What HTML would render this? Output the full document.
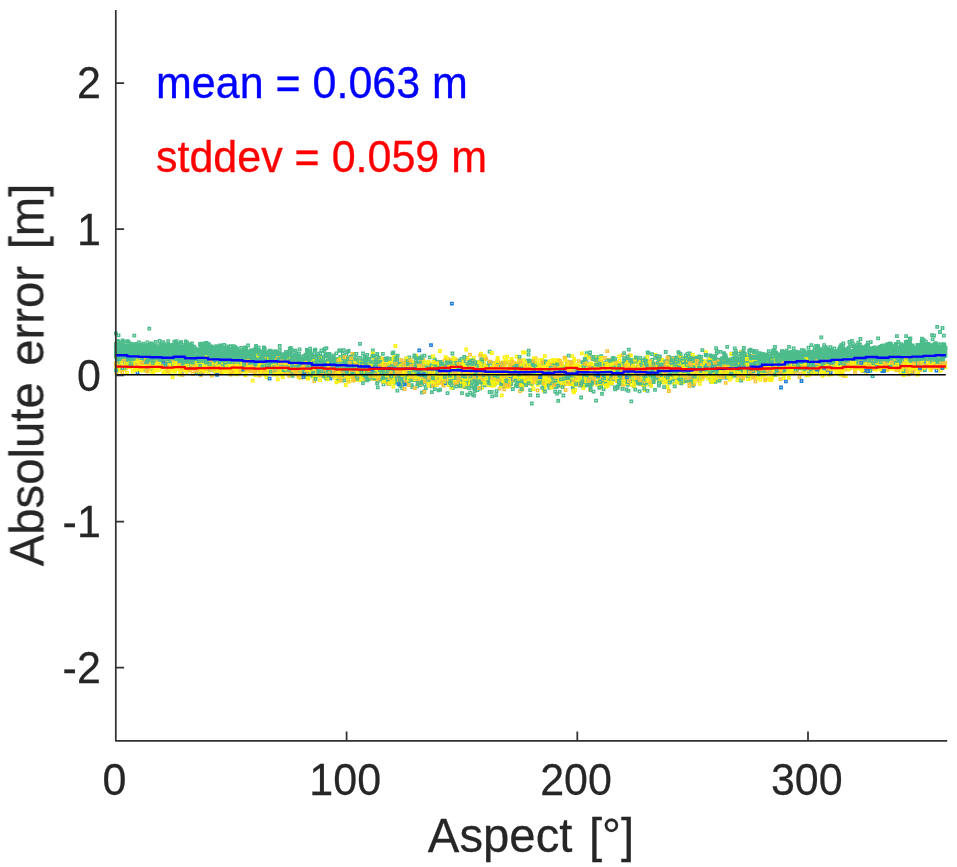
<!DOCTYPE html>
<html lang="en">
<head>
<meta charset="utf-8">
<title>Absolute error vs. aspect</title>
<style>
html,body{margin:0;padding:0;background:#fff;}
body{width:957px;height:867px;overflow:hidden;}
svg{display:block;}
</style>
</head>
<body>
<svg width="957" height="867" viewBox="0 0 957 867">
<defs><filter id="soft" x="0" y="0" width="100%" height="100%" filterUnits="userSpaceOnUse" primitiveUnits="userSpaceOnUse"><feGaussianBlur stdDeviation="0.45"/></filter></defs>
<rect width="957" height="867" fill="#fff"/>
<g filter="url(#soft)">
<g fill="none" stroke-width="1.4"><path stroke="#fbf30c" d="M373.8 369.7h2.4v2.4h-2.4zM582.8 368.6h2.4v2.4h-2.4zM727.3 376.2h2.4v2.4h-2.4zM309.3 372.5h2.4v2.4h-2.4zM860.8 366.7h2.4v2.4h-2.4zM670.7 360.5h2.4v2.4h-2.4zM520.3 371.0h2.4v2.4h-2.4zM763.0 358.3h2.4v2.4h-2.4zM471.2 373.3h2.4v2.4h-2.4zM881.9 369.6h2.4v2.4h-2.4zM530.9 374.2h2.4v2.4h-2.4zM525.3 381.0h2.4v2.4h-2.4zM362.6 368.7h2.4v2.4h-2.4zM559.0 365.9h2.4v2.4h-2.4zM209.3 363.8h2.4v2.4h-2.4zM522.4 370.4h2.4v2.4h-2.4zM565.8 376.1h2.4v2.4h-2.4zM284.5 367.7h2.4v2.4h-2.4zM476.6 373.8h2.4v2.4h-2.4zM680.9 375.4h2.4v2.4h-2.4zM930.0 364.8h2.4v2.4h-2.4zM422.5 376.3h2.4v2.4h-2.4zM602.1 362.4h2.4v2.4h-2.4zM692.4 359.6h2.4v2.4h-2.4zM435.1 370.8h2.4v2.4h-2.4zM621.0 374.6h2.4v2.4h-2.4zM711.1 372.3h2.4v2.4h-2.4zM630.6 362.1h2.4v2.4h-2.4zM385.8 378.8h2.4v2.4h-2.4zM241.9 364.3h2.4v2.4h-2.4zM692.6 357.5h2.4v2.4h-2.4zM440.4 368.6h2.4v2.4h-2.4zM636.2 365.7h2.4v2.4h-2.4zM557.8 365.2h2.4v2.4h-2.4zM289.0 370.6h2.4v2.4h-2.4zM680.4 365.8h2.4v2.4h-2.4zM496.6 365.7h2.4v2.4h-2.4zM704.6 351.0h2.4v2.4h-2.4zM406.3 366.1h2.4v2.4h-2.4zM776.0 360.3h2.4v2.4h-2.4zM789.9 369.8h2.4v2.4h-2.4zM595.8 364.0h2.4v2.4h-2.4zM644.2 374.7h2.4v2.4h-2.4zM697.5 372.0h2.4v2.4h-2.4zM343.0 366.1h2.4v2.4h-2.4zM640.7 367.8h2.4v2.4h-2.4zM358.4 370.2h2.4v2.4h-2.4zM596.3 360.0h2.4v2.4h-2.4zM765.0 368.9h2.4v2.4h-2.4zM336.4 375.0h2.4v2.4h-2.4zM208.3 360.2h2.4v2.4h-2.4zM314.9 375.3h2.4v2.4h-2.4zM735.2 360.4h2.4v2.4h-2.4zM359.6 379.0h2.4v2.4h-2.4zM322.8 370.5h2.4v2.4h-2.4zM485.9 377.5h2.4v2.4h-2.4zM611.8 372.5h2.4v2.4h-2.4zM412.1 370.2h2.4v2.4h-2.4zM352.3 368.4h2.4v2.4h-2.4zM371.5 375.1h2.4v2.4h-2.4zM239.9 358.4h2.4v2.4h-2.4zM343.4 365.1h2.4v2.4h-2.4zM375.1 369.9h2.4v2.4h-2.4zM384.5 377.7h2.4v2.4h-2.4zM647.6 369.1h2.4v2.4h-2.4zM229.4 362.1h2.4v2.4h-2.4zM637.3 369.4h2.4v2.4h-2.4zM258.6 364.9h2.4v2.4h-2.4zM848.5 366.3h2.4v2.4h-2.4zM643.5 388.9h2.4v2.4h-2.4zM579.8 381.7h2.4v2.4h-2.4zM559.7 381.2h2.4v2.4h-2.4zM486.7 366.0h2.4v2.4h-2.4zM561.5 366.6h2.4v2.4h-2.4zM484.6 367.0h2.4v2.4h-2.4zM237.4 370.7h2.4v2.4h-2.4zM696.9 374.8h2.4v2.4h-2.4zM362.0 370.9h2.4v2.4h-2.4zM834.3 365.0h2.4v2.4h-2.4zM623.0 377.0h2.4v2.4h-2.4zM745.2 371.6h2.4v2.4h-2.4zM770.1 362.8h2.4v2.4h-2.4zM438.6 368.5h2.4v2.4h-2.4zM863.2 369.1h2.4v2.4h-2.4zM569.0 369.8h2.4v2.4h-2.4zM194.8 362.0h2.4v2.4h-2.4zM710.8 371.0h2.4v2.4h-2.4zM279.8 362.2h2.4v2.4h-2.4zM245.2 369.6h2.4v2.4h-2.4zM746.7 370.4h2.4v2.4h-2.4zM368.9 370.9h2.4v2.4h-2.4zM399.0 373.5h2.4v2.4h-2.4zM341.6 358.2h2.4v2.4h-2.4zM401.0 373.3h2.4v2.4h-2.4zM412.8 367.8h2.4v2.4h-2.4zM150.2 370.3h2.4v2.4h-2.4zM207.1 363.2h2.4v2.4h-2.4zM304.8 371.5h2.4v2.4h-2.4zM600.3 368.5h2.4v2.4h-2.4zM654.9 365.3h2.4v2.4h-2.4zM743.8 369.3h2.4v2.4h-2.4zM540.4 363.5h2.4v2.4h-2.4zM746.7 377.9h2.4v2.4h-2.4zM189.7 367.6h2.4v2.4h-2.4zM876.5 364.4h2.4v2.4h-2.4zM356.0 378.6h2.4v2.4h-2.4zM489.2 370.7h2.4v2.4h-2.4zM437.2 363.6h2.4v2.4h-2.4zM303.9 366.2h2.4v2.4h-2.4zM218.3 364.7h2.4v2.4h-2.4zM308.0 371.1h2.4v2.4h-2.4zM733.6 365.5h2.4v2.4h-2.4zM745.0 371.6h2.4v2.4h-2.4zM381.8 365.0h2.4v2.4h-2.4zM581.8 371.8h2.4v2.4h-2.4zM536.6 371.8h2.4v2.4h-2.4zM584.0 367.3h2.4v2.4h-2.4zM611.2 370.7h2.4v2.4h-2.4zM448.4 375.7h2.4v2.4h-2.4zM655.7 369.5h2.4v2.4h-2.4zM436.5 374.9h2.4v2.4h-2.4zM638.0 367.1h2.4v2.4h-2.4zM719.8 363.6h2.4v2.4h-2.4zM688.8 354.7h2.4v2.4h-2.4zM679.8 361.6h2.4v2.4h-2.4zM673.5 367.4h2.4v2.4h-2.4zM881.6 367.2h2.4v2.4h-2.4zM153.0 365.1h2.4v2.4h-2.4zM580.5 370.4h2.4v2.4h-2.4zM345.9 364.9h2.4v2.4h-2.4zM437.1 366.1h2.4v2.4h-2.4zM454.0 358.0h2.4v2.4h-2.4zM387.8 368.9h2.4v2.4h-2.4zM400.6 372.9h2.4v2.4h-2.4zM613.1 368.1h2.4v2.4h-2.4zM607.3 366.7h2.4v2.4h-2.4zM765.5 366.8h2.4v2.4h-2.4zM435.5 375.6h2.4v2.4h-2.4zM460.6 361.1h2.4v2.4h-2.4zM857.7 361.1h2.4v2.4h-2.4zM814.1 364.9h2.4v2.4h-2.4zM455.8 374.1h2.4v2.4h-2.4zM537.8 364.6h2.4v2.4h-2.4zM685.1 371.1h2.4v2.4h-2.4zM456.9 368.9h2.4v2.4h-2.4zM614.3 364.7h2.4v2.4h-2.4zM427.3 380.0h2.4v2.4h-2.4zM323.4 364.8h2.4v2.4h-2.4zM678.3 381.9h2.4v2.4h-2.4zM249.5 363.7h2.4v2.4h-2.4zM544.8 383.9h2.4v2.4h-2.4zM743.2 360.9h2.4v2.4h-2.4zM555.8 362.1h2.4v2.4h-2.4zM519.0 383.6h2.4v2.4h-2.4zM376.2 365.9h2.4v2.4h-2.4zM608.5 376.7h2.4v2.4h-2.4zM408.6 361.5h2.4v2.4h-2.4zM600.1 370.1h2.4v2.4h-2.4zM455.8 369.0h2.4v2.4h-2.4zM592.8 369.6h2.4v2.4h-2.4zM584.9 376.6h2.4v2.4h-2.4zM444.4 356.0h2.4v2.4h-2.4zM355.0 370.4h2.4v2.4h-2.4zM387.1 364.3h2.4v2.4h-2.4zM260.3 365.3h2.4v2.4h-2.4zM600.3 381.2h2.4v2.4h-2.4zM609.9 364.8h2.4v2.4h-2.4zM382.5 364.9h2.4v2.4h-2.4zM442.3 364.7h2.4v2.4h-2.4zM477.9 369.1h2.4v2.4h-2.4zM240.1 365.1h2.4v2.4h-2.4zM773.8 363.4h2.4v2.4h-2.4zM844.4 374.9h2.4v2.4h-2.4zM493.7 371.9h2.4v2.4h-2.4zM182.9 365.4h2.4v2.4h-2.4zM864.3 370.5h2.4v2.4h-2.4zM526.4 370.0h2.4v2.4h-2.4zM447.2 370.8h2.4v2.4h-2.4zM160.1 362.6h2.4v2.4h-2.4zM220.0 362.1h2.4v2.4h-2.4zM545.7 381.7h2.4v2.4h-2.4zM516.7 373.0h2.4v2.4h-2.4zM205.4 368.3h2.4v2.4h-2.4zM617.0 365.9h2.4v2.4h-2.4zM731.2 372.8h2.4v2.4h-2.4zM699.0 361.3h2.4v2.4h-2.4zM854.3 367.7h2.4v2.4h-2.4zM571.0 355.0h2.4v2.4h-2.4zM136.5 369.0h2.4v2.4h-2.4zM147.3 363.1h2.4v2.4h-2.4zM519.7 378.0h2.4v2.4h-2.4zM659.8 365.3h2.4v2.4h-2.4zM785.0 361.7h2.4v2.4h-2.4zM928.6 360.6h2.4v2.4h-2.4zM795.4 366.4h2.4v2.4h-2.4zM404.3 372.0h2.4v2.4h-2.4zM443.1 381.4h2.4v2.4h-2.4zM253.9 373.8h2.4v2.4h-2.4zM637.5 369.7h2.4v2.4h-2.4zM508.4 384.5h2.4v2.4h-2.4zM151.2 365.0h2.4v2.4h-2.4zM137.9 366.9h2.4v2.4h-2.4zM297.5 371.2h2.4v2.4h-2.4zM212.7 368.6h2.4v2.4h-2.4zM870.0 365.7h2.4v2.4h-2.4zM125.1 366.6h2.4v2.4h-2.4zM926.6 363.9h2.4v2.4h-2.4zM778.3 365.2h2.4v2.4h-2.4zM724.9 375.4h2.4v2.4h-2.4zM186.7 366.2h2.4v2.4h-2.4zM660.3 370.3h2.4v2.4h-2.4zM318.6 372.5h2.4v2.4h-2.4zM680.6 363.6h2.4v2.4h-2.4zM393.8 368.9h2.4v2.4h-2.4zM658.2 369.7h2.4v2.4h-2.4zM336.9 364.2h2.4v2.4h-2.4zM905.1 368.2h2.4v2.4h-2.4zM666.4 385.8h2.4v2.4h-2.4zM530.7 380.4h2.4v2.4h-2.4zM663.5 363.1h2.4v2.4h-2.4zM667.6 364.1h2.4v2.4h-2.4zM709.7 373.5h2.4v2.4h-2.4zM374.3 377.8h2.4v2.4h-2.4zM885.4 366.8h2.4v2.4h-2.4zM255.6 366.1h2.4v2.4h-2.4zM339.5 371.0h2.4v2.4h-2.4zM611.4 378.8h2.4v2.4h-2.4zM277.8 367.4h2.4v2.4h-2.4zM229.4 367.5h2.4v2.4h-2.4zM572.2 379.0h2.4v2.4h-2.4zM929.6 368.9h2.4v2.4h-2.4zM819.0 358.8h2.4v2.4h-2.4zM802.9 370.6h2.4v2.4h-2.4zM311.1 355.4h2.4v2.4h-2.4zM529.6 374.1h2.4v2.4h-2.4zM557.7 373.3h2.4v2.4h-2.4zM503.7 369.3h2.4v2.4h-2.4zM492.4 361.8h2.4v2.4h-2.4zM411.8 369.0h2.4v2.4h-2.4zM662.0 370.3h2.4v2.4h-2.4zM466.8 366.6h2.4v2.4h-2.4zM213.6 363.0h2.4v2.4h-2.4zM458.9 379.2h2.4v2.4h-2.4zM528.6 376.4h2.4v2.4h-2.4zM910.6 366.6h2.4v2.4h-2.4zM135.2 366.1h2.4v2.4h-2.4zM227.9 372.1h2.4v2.4h-2.4zM697.8 364.4h2.4v2.4h-2.4zM752.6 368.6h2.4v2.4h-2.4zM769.4 377.8h2.4v2.4h-2.4zM742.7 357.4h2.4v2.4h-2.4zM794.0 364.2h2.4v2.4h-2.4zM592.6 369.0h2.4v2.4h-2.4zM891.6 364.4h2.4v2.4h-2.4zM406.6 381.3h2.4v2.4h-2.4zM489.4 370.9h2.4v2.4h-2.4zM628.3 365.2h2.4v2.4h-2.4zM329.4 362.6h2.4v2.4h-2.4zM386.9 376.5h2.4v2.4h-2.4zM539.0 380.7h2.4v2.4h-2.4zM544.2 368.9h2.4v2.4h-2.4zM694.9 356.0h2.4v2.4h-2.4zM685.1 375.5h2.4v2.4h-2.4zM451.0 369.9h2.4v2.4h-2.4zM515.3 374.0h2.4v2.4h-2.4zM316.7 362.4h2.4v2.4h-2.4zM387.6 379.6h2.4v2.4h-2.4zM862.7 368.7h2.4v2.4h-2.4zM465.0 363.1h2.4v2.4h-2.4zM650.8 370.9h2.4v2.4h-2.4zM902.0 368.9h2.4v2.4h-2.4zM556.1 375.0h2.4v2.4h-2.4zM356.7 359.6h2.4v2.4h-2.4zM716.0 372.5h2.4v2.4h-2.4zM353.4 368.6h2.4v2.4h-2.4zM766.1 369.8h2.4v2.4h-2.4zM626.3 365.6h2.4v2.4h-2.4zM369.3 368.1h2.4v2.4h-2.4zM794.8 360.6h2.4v2.4h-2.4zM325.6 371.5h2.4v2.4h-2.4zM589.6 370.9h2.4v2.4h-2.4zM646.6 372.4h2.4v2.4h-2.4zM613.2 363.8h2.4v2.4h-2.4zM546.6 379.9h2.4v2.4h-2.4zM503.9 374.0h2.4v2.4h-2.4zM468.2 377.4h2.4v2.4h-2.4zM755.8 359.9h2.4v2.4h-2.4zM234.7 364.4h2.4v2.4h-2.4zM518.1 364.4h2.4v2.4h-2.4zM270.4 363.0h2.4v2.4h-2.4zM571.1 370.9h2.4v2.4h-2.4zM603.7 371.0h2.4v2.4h-2.4zM665.5 378.9h2.4v2.4h-2.4zM675.8 363.3h2.4v2.4h-2.4zM367.4 369.0h2.4v2.4h-2.4zM677.5 368.2h2.4v2.4h-2.4zM423.6 368.2h2.4v2.4h-2.4zM684.3 372.6h2.4v2.4h-2.4zM524.3 383.3h2.4v2.4h-2.4zM149.2 368.3h2.4v2.4h-2.4zM671.1 363.8h2.4v2.4h-2.4zM570.0 367.7h2.4v2.4h-2.4zM397.7 363.3h2.4v2.4h-2.4zM354.9 375.0h2.4v2.4h-2.4zM600.9 365.0h2.4v2.4h-2.4zM681.2 367.4h2.4v2.4h-2.4zM767.7 376.9h2.4v2.4h-2.4zM264.5 368.4h2.4v2.4h-2.4zM512.6 373.7h2.4v2.4h-2.4zM341.0 371.7h2.4v2.4h-2.4zM265.5 376.1h2.4v2.4h-2.4zM527.5 378.0h2.4v2.4h-2.4zM349.7 376.0h2.4v2.4h-2.4zM666.3 363.1h2.4v2.4h-2.4zM487.3 369.9h2.4v2.4h-2.4zM181.7 359.0h2.4v2.4h-2.4zM480.8 386.3h2.4v2.4h-2.4zM634.8 371.2h2.4v2.4h-2.4zM730.2 362.4h2.4v2.4h-2.4zM325.3 367.3h2.4v2.4h-2.4zM395.1 374.9h2.4v2.4h-2.4zM510.1 366.7h2.4v2.4h-2.4zM245.5 370.1h2.4v2.4h-2.4zM540.8 358.8h2.4v2.4h-2.4zM487.8 379.0h2.4v2.4h-2.4zM771.1 370.6h2.4v2.4h-2.4zM884.2 359.1h2.4v2.4h-2.4zM472.6 356.6h2.4v2.4h-2.4zM184.5 358.6h2.4v2.4h-2.4zM480.2 378.0h2.4v2.4h-2.4zM197.4 368.3h2.4v2.4h-2.4zM510.2 382.2h2.4v2.4h-2.4zM481.5 375.6h2.4v2.4h-2.4zM604.4 364.2h2.4v2.4h-2.4zM404.0 373.7h2.4v2.4h-2.4zM578.0 374.2h2.4v2.4h-2.4zM327.7 372.0h2.4v2.4h-2.4zM383.1 359.6h2.4v2.4h-2.4zM319.3 359.9h2.4v2.4h-2.4zM255.1 364.7h2.4v2.4h-2.4zM831.3 368.3h2.4v2.4h-2.4zM482.5 376.8h2.4v2.4h-2.4zM194.0 366.0h2.4v2.4h-2.4zM543.1 380.0h2.4v2.4h-2.4zM243.6 366.2h2.4v2.4h-2.4zM577.7 376.5h2.4v2.4h-2.4zM907.5 361.6h2.4v2.4h-2.4zM314.1 366.0h2.4v2.4h-2.4zM319.1 373.6h2.4v2.4h-2.4zM442.8 371.6h2.4v2.4h-2.4zM500.2 371.4h2.4v2.4h-2.4zM538.4 372.8h2.4v2.4h-2.4zM503.1 361.3h2.4v2.4h-2.4zM897.0 360.9h2.4v2.4h-2.4zM827.5 373.3h2.4v2.4h-2.4zM291.8 371.1h2.4v2.4h-2.4zM493.6 382.8h2.4v2.4h-2.4zM636.4 367.9h2.4v2.4h-2.4zM494.7 367.2h2.4v2.4h-2.4zM490.0 368.1h2.4v2.4h-2.4zM772.3 373.5h2.4v2.4h-2.4zM629.8 372.3h2.4v2.4h-2.4zM677.9 377.3h2.4v2.4h-2.4zM789.2 370.9h2.4v2.4h-2.4zM820.8 365.2h2.4v2.4h-2.4zM312.4 369.4h2.4v2.4h-2.4zM342.2 373.1h2.4v2.4h-2.4zM264.1 373.8h2.4v2.4h-2.4zM703.2 370.7h2.4v2.4h-2.4zM423.7 373.4h2.4v2.4h-2.4zM645.9 366.4h2.4v2.4h-2.4zM657.6 368.5h2.4v2.4h-2.4zM776.9 363.8h2.4v2.4h-2.4zM823.3 366.2h2.4v2.4h-2.4zM437.2 381.7h2.4v2.4h-2.4zM619.5 373.3h2.4v2.4h-2.4zM664.8 367.8h2.4v2.4h-2.4zM334.9 371.8h2.4v2.4h-2.4zM409.1 359.0h2.4v2.4h-2.4zM772.0 370.0h2.4v2.4h-2.4zM432.9 374.3h2.4v2.4h-2.4zM423.7 366.4h2.4v2.4h-2.4zM515.8 368.9h2.4v2.4h-2.4zM476.3 371.8h2.4v2.4h-2.4z"/><path stroke="#4ebc8c" d="M210.1 350.8h2.4v2.4h-2.4zM737.5 364.3h2.4v2.4h-2.4zM216.8 354.5h2.4v2.4h-2.4zM442.9 379.4h2.4v2.4h-2.4zM212.3 360.5h2.4v2.4h-2.4zM198.9 352.4h2.4v2.4h-2.4zM761.6 360.4h2.4v2.4h-2.4zM358.5 371.2h2.4v2.4h-2.4zM350.1 371.7h2.4v2.4h-2.4zM667.6 355.6h2.4v2.4h-2.4zM940.3 349.5h2.4v2.4h-2.4zM647.5 378.7h2.4v2.4h-2.4zM879.1 354.7h2.4v2.4h-2.4zM249.9 349.2h2.4v2.4h-2.4zM538.4 377.2h2.4v2.4h-2.4zM896.2 350.8h2.4v2.4h-2.4zM908.8 351.9h2.4v2.4h-2.4zM284.0 358.2h2.4v2.4h-2.4zM908.4 363.0h2.4v2.4h-2.4zM159.2 349.5h2.4v2.4h-2.4zM242.3 358.2h2.4v2.4h-2.4zM210.6 358.1h2.4v2.4h-2.4zM174.3 343.5h2.4v2.4h-2.4zM159.8 358.2h2.4v2.4h-2.4zM296.4 372.1h2.4v2.4h-2.4zM185.4 347.3h2.4v2.4h-2.4zM910.3 351.2h2.4v2.4h-2.4zM749.8 354.8h2.4v2.4h-2.4zM855.4 353.9h2.4v2.4h-2.4zM157.1 349.9h2.4v2.4h-2.4zM572.0 385.1h2.4v2.4h-2.4zM857.6 350.9h2.4v2.4h-2.4zM851.3 352.4h2.4v2.4h-2.4zM677.2 375.1h2.4v2.4h-2.4zM801.3 365.0h2.4v2.4h-2.4zM288.6 359.7h2.4v2.4h-2.4zM430.9 364.5h2.4v2.4h-2.4zM692.8 374.2h2.4v2.4h-2.4zM208.2 359.6h2.4v2.4h-2.4zM362.2 369.1h2.4v2.4h-2.4zM684.2 357.6h2.4v2.4h-2.4zM804.4 355.4h2.4v2.4h-2.4zM235.2 355.2h2.4v2.4h-2.4zM167.4 349.9h2.4v2.4h-2.4zM626.4 370.8h2.4v2.4h-2.4zM387.6 383.0h2.4v2.4h-2.4zM258.5 349.6h2.4v2.4h-2.4zM239.8 352.2h2.4v2.4h-2.4zM360.9 359.4h2.4v2.4h-2.4zM326.0 374.9h2.4v2.4h-2.4zM689.3 363.6h2.4v2.4h-2.4zM259.9 356.4h2.4v2.4h-2.4zM265.7 352.3h2.4v2.4h-2.4zM832.9 357.1h2.4v2.4h-2.4zM754.1 362.3h2.4v2.4h-2.4zM132.3 356.9h2.4v2.4h-2.4zM366.0 370.1h2.4v2.4h-2.4zM901.5 352.4h2.4v2.4h-2.4zM129.0 354.5h2.4v2.4h-2.4zM802.6 363.5h2.4v2.4h-2.4zM190.4 351.8h2.4v2.4h-2.4zM919.8 344.8h2.4v2.4h-2.4zM888.9 349.4h2.4v2.4h-2.4zM147.2 346.4h2.4v2.4h-2.4zM937.8 356.1h2.4v2.4h-2.4zM692.4 371.8h2.4v2.4h-2.4zM365.7 366.8h2.4v2.4h-2.4zM812.2 366.5h2.4v2.4h-2.4zM583.9 375.7h2.4v2.4h-2.4zM180.3 358.9h2.4v2.4h-2.4zM807.9 351.0h2.4v2.4h-2.4zM779.9 355.9h2.4v2.4h-2.4zM202.2 358.1h2.4v2.4h-2.4zM483.6 384.1h2.4v2.4h-2.4zM426.1 368.2h2.4v2.4h-2.4zM135.9 356.5h2.4v2.4h-2.4zM586.2 362.3h2.4v2.4h-2.4zM860.6 352.0h2.4v2.4h-2.4zM709.0 362.3h2.4v2.4h-2.4zM297.0 360.1h2.4v2.4h-2.4zM194.3 355.2h2.4v2.4h-2.4zM779.8 363.7h2.4v2.4h-2.4zM258.9 362.4h2.4v2.4h-2.4zM187.3 360.0h2.4v2.4h-2.4zM920.7 352.0h2.4v2.4h-2.4zM720.0 366.6h2.4v2.4h-2.4zM250.6 354.9h2.4v2.4h-2.4zM570.0 372.8h2.4v2.4h-2.4zM392.3 371.8h2.4v2.4h-2.4zM922.3 358.9h2.4v2.4h-2.4zM670.2 364.5h2.4v2.4h-2.4zM707.2 366.3h2.4v2.4h-2.4zM306.7 365.3h2.4v2.4h-2.4zM176.0 356.8h2.4v2.4h-2.4zM916.8 359.5h2.4v2.4h-2.4zM887.4 348.4h2.4v2.4h-2.4zM733.7 372.8h2.4v2.4h-2.4zM895.9 346.8h2.4v2.4h-2.4zM834.9 350.3h2.4v2.4h-2.4zM266.6 355.6h2.4v2.4h-2.4zM439.8 376.1h2.4v2.4h-2.4zM414.1 364.6h2.4v2.4h-2.4zM756.8 353.9h2.4v2.4h-2.4zM465.4 356.6h2.4v2.4h-2.4zM337.1 374.3h2.4v2.4h-2.4zM810.6 363.3h2.4v2.4h-2.4zM832.9 355.0h2.4v2.4h-2.4zM186.9 354.7h2.4v2.4h-2.4zM909.0 353.4h2.4v2.4h-2.4zM182.0 350.0h2.4v2.4h-2.4zM931.7 360.3h2.4v2.4h-2.4zM629.8 368.4h2.4v2.4h-2.4zM912.2 346.8h2.4v2.4h-2.4zM134.0 347.7h2.4v2.4h-2.4zM437.5 389.1h2.4v2.4h-2.4zM318.9 352.2h2.4v2.4h-2.4zM170.9 359.2h2.4v2.4h-2.4zM542.4 384.3h2.4v2.4h-2.4zM752.5 359.7h2.4v2.4h-2.4zM418.5 362.0h2.4v2.4h-2.4zM814.8 365.8h2.4v2.4h-2.4zM266.7 357.0h2.4v2.4h-2.4zM581.9 380.2h2.4v2.4h-2.4zM792.2 354.8h2.4v2.4h-2.4zM848.0 356.3h2.4v2.4h-2.4zM732.2 367.6h2.4v2.4h-2.4zM417.9 365.0h2.4v2.4h-2.4zM295.4 357.9h2.4v2.4h-2.4zM919.6 351.7h2.4v2.4h-2.4zM158.5 349.0h2.4v2.4h-2.4zM201.1 349.6h2.4v2.4h-2.4zM211.9 354.8h2.4v2.4h-2.4zM309.0 350.7h2.4v2.4h-2.4zM555.5 386.0h2.4v2.4h-2.4zM391.3 368.6h2.4v2.4h-2.4zM921.3 354.9h2.4v2.4h-2.4zM745.9 370.2h2.4v2.4h-2.4zM341.6 352.3h2.4v2.4h-2.4zM928.0 352.6h2.4v2.4h-2.4zM626.3 363.0h2.4v2.4h-2.4zM730.2 359.4h2.4v2.4h-2.4zM416.9 363.0h2.4v2.4h-2.4zM667.5 373.4h2.4v2.4h-2.4zM893.4 347.3h2.4v2.4h-2.4zM352.3 376.4h2.4v2.4h-2.4zM123.3 359.4h2.4v2.4h-2.4zM923.1 352.2h2.4v2.4h-2.4zM879.0 356.2h2.4v2.4h-2.4zM499.9 364.8h2.4v2.4h-2.4zM767.5 349.9h2.4v2.4h-2.4zM718.4 358.7h2.4v2.4h-2.4zM781.6 356.6h2.4v2.4h-2.4zM283.6 358.6h2.4v2.4h-2.4zM455.5 365.9h2.4v2.4h-2.4zM164.6 354.2h2.4v2.4h-2.4zM825.6 348.2h2.4v2.4h-2.4zM903.0 347.5h2.4v2.4h-2.4zM793.1 362.6h2.4v2.4h-2.4zM292.4 360.1h2.4v2.4h-2.4zM176.0 352.9h2.4v2.4h-2.4zM304.4 369.1h2.4v2.4h-2.4zM878.1 351.4h2.4v2.4h-2.4zM372.6 371.3h2.4v2.4h-2.4zM309.1 368.1h2.4v2.4h-2.4zM527.1 382.1h2.4v2.4h-2.4zM223.4 355.6h2.4v2.4h-2.4zM418.6 364.5h2.4v2.4h-2.4zM860.5 356.5h2.4v2.4h-2.4zM932.2 350.6h2.4v2.4h-2.4zM316.4 363.1h2.4v2.4h-2.4zM711.9 375.5h2.4v2.4h-2.4zM942.2 355.8h2.4v2.4h-2.4zM252.0 354.2h2.4v2.4h-2.4zM902.3 356.2h2.4v2.4h-2.4zM783.4 355.6h2.4v2.4h-2.4zM321.7 370.4h2.4v2.4h-2.4zM446.4 364.8h2.4v2.4h-2.4zM383.6 369.8h2.4v2.4h-2.4zM255.1 358.6h2.4v2.4h-2.4zM598.7 370.2h2.4v2.4h-2.4zM735.8 371.7h2.4v2.4h-2.4zM846.1 354.6h2.4v2.4h-2.4zM853.8 356.1h2.4v2.4h-2.4zM350.0 362.4h2.4v2.4h-2.4zM177.7 352.7h2.4v2.4h-2.4zM813.1 356.7h2.4v2.4h-2.4zM692.0 384.3h2.4v2.4h-2.4zM375.1 366.5h2.4v2.4h-2.4zM127.9 355.9h2.4v2.4h-2.4zM734.6 349.8h2.4v2.4h-2.4zM799.2 356.7h2.4v2.4h-2.4zM222.0 351.3h2.4v2.4h-2.4zM268.5 351.8h2.4v2.4h-2.4zM894.2 351.2h2.4v2.4h-2.4zM636.2 377.6h2.4v2.4h-2.4zM230.1 348.6h2.4v2.4h-2.4zM226.6 358.7h2.4v2.4h-2.4zM841.1 352.1h2.4v2.4h-2.4zM245.5 359.3h2.4v2.4h-2.4zM653.2 372.2h2.4v2.4h-2.4zM609.0 373.4h2.4v2.4h-2.4zM461.2 376.8h2.4v2.4h-2.4zM149.7 357.2h2.4v2.4h-2.4zM745.7 359.3h2.4v2.4h-2.4zM283.2 365.5h2.4v2.4h-2.4zM423.3 354.5h2.4v2.4h-2.4zM843.6 351.7h2.4v2.4h-2.4zM931.5 346.5h2.4v2.4h-2.4zM874.1 355.2h2.4v2.4h-2.4zM254.5 357.0h2.4v2.4h-2.4zM437.0 372.9h2.4v2.4h-2.4zM218.3 347.5h2.4v2.4h-2.4zM698.0 367.4h2.4v2.4h-2.4zM308.3 353.3h2.4v2.4h-2.4zM270.0 357.9h2.4v2.4h-2.4zM432.6 375.6h2.4v2.4h-2.4zM215.5 354.0h2.4v2.4h-2.4zM489.8 383.6h2.4v2.4h-2.4zM902.7 355.9h2.4v2.4h-2.4zM287.5 367.6h2.4v2.4h-2.4zM310.8 362.5h2.4v2.4h-2.4zM159.7 357.0h2.4v2.4h-2.4zM482.2 357.1h2.4v2.4h-2.4zM146.1 351.8h2.4v2.4h-2.4zM789.8 354.9h2.4v2.4h-2.4zM923.0 345.4h2.4v2.4h-2.4zM898.2 358.2h2.4v2.4h-2.4zM343.0 361.1h2.4v2.4h-2.4zM897.6 354.0h2.4v2.4h-2.4zM643.0 371.7h2.4v2.4h-2.4zM219.7 361.6h2.4v2.4h-2.4zM164.5 346.7h2.4v2.4h-2.4zM154.8 358.1h2.4v2.4h-2.4zM160.3 350.4h2.4v2.4h-2.4zM311.5 369.7h2.4v2.4h-2.4zM160.8 343.7h2.4v2.4h-2.4zM915.7 347.3h2.4v2.4h-2.4zM137.6 350.0h2.4v2.4h-2.4zM780.6 349.9h2.4v2.4h-2.4zM423.5 364.6h2.4v2.4h-2.4zM792.0 354.8h2.4v2.4h-2.4zM865.6 354.5h2.4v2.4h-2.4zM384.9 381.0h2.4v2.4h-2.4zM627.7 367.9h2.4v2.4h-2.4zM169.3 354.6h2.4v2.4h-2.4zM181.4 351.9h2.4v2.4h-2.4zM900.4 353.0h2.4v2.4h-2.4zM251.3 360.5h2.4v2.4h-2.4zM822.0 362.4h2.4v2.4h-2.4zM488.3 374.0h2.4v2.4h-2.4zM157.1 356.6h2.4v2.4h-2.4zM259.2 359.2h2.4v2.4h-2.4zM887.6 358.6h2.4v2.4h-2.4zM937.5 348.1h2.4v2.4h-2.4zM230.8 356.6h2.4v2.4h-2.4zM678.0 352.2h2.4v2.4h-2.4zM297.1 355.8h2.4v2.4h-2.4zM156.6 347.2h2.4v2.4h-2.4zM874.6 356.0h2.4v2.4h-2.4zM259.8 351.5h2.4v2.4h-2.4zM860.8 353.5h2.4v2.4h-2.4zM834.7 357.0h2.4v2.4h-2.4zM916.4 356.2h2.4v2.4h-2.4zM332.3 356.4h2.4v2.4h-2.4zM730.2 366.0h2.4v2.4h-2.4zM915.3 350.4h2.4v2.4h-2.4zM930.0 356.6h2.4v2.4h-2.4zM895.5 352.4h2.4v2.4h-2.4zM188.4 350.4h2.4v2.4h-2.4zM629.0 359.2h2.4v2.4h-2.4zM139.7 357.4h2.4v2.4h-2.4zM719.4 350.7h2.4v2.4h-2.4zM552.9 385.8h2.4v2.4h-2.4zM125.3 344.8h2.4v2.4h-2.4zM470.1 369.8h2.4v2.4h-2.4zM925.6 348.3h2.4v2.4h-2.4zM126.2 349.6h2.4v2.4h-2.4zM137.1 350.4h2.4v2.4h-2.4zM178.4 353.2h2.4v2.4h-2.4zM894.3 348.8h2.4v2.4h-2.4zM205.8 352.1h2.4v2.4h-2.4zM165.4 361.1h2.4v2.4h-2.4zM247.5 361.4h2.4v2.4h-2.4zM217.2 353.2h2.4v2.4h-2.4zM187.0 348.6h2.4v2.4h-2.4zM572.0 377.7h2.4v2.4h-2.4zM921.6 347.0h2.4v2.4h-2.4zM476.2 366.2h2.4v2.4h-2.4zM224.4 347.0h2.4v2.4h-2.4zM878.5 345.8h2.4v2.4h-2.4zM678.6 366.3h2.4v2.4h-2.4zM859.4 356.3h2.4v2.4h-2.4zM563.6 381.4h2.4v2.4h-2.4zM557.0 373.5h2.4v2.4h-2.4zM195.5 355.3h2.4v2.4h-2.4zM769.2 360.4h2.4v2.4h-2.4zM866.4 353.8h2.4v2.4h-2.4zM119.6 351.4h2.4v2.4h-2.4zM405.2 357.5h2.4v2.4h-2.4zM401.8 370.2h2.4v2.4h-2.4zM898.6 347.5h2.4v2.4h-2.4zM319.1 356.5h2.4v2.4h-2.4zM940.0 345.1h2.4v2.4h-2.4zM873.6 346.2h2.4v2.4h-2.4zM765.0 356.7h2.4v2.4h-2.4zM760.4 358.4h2.4v2.4h-2.4zM935.8 346.7h2.4v2.4h-2.4zM911.6 348.2h2.4v2.4h-2.4zM162.3 355.8h2.4v2.4h-2.4zM199.1 351.6h2.4v2.4h-2.4zM795.1 355.0h2.4v2.4h-2.4zM374.8 366.8h2.4v2.4h-2.4zM667.8 379.7h2.4v2.4h-2.4zM574.1 378.6h2.4v2.4h-2.4zM728.9 360.8h2.4v2.4h-2.4zM929.0 359.3h2.4v2.4h-2.4zM748.0 349.4h2.4v2.4h-2.4zM221.2 353.1h2.4v2.4h-2.4zM652.3 372.1h2.4v2.4h-2.4zM763.2 361.7h2.4v2.4h-2.4zM281.4 358.4h2.4v2.4h-2.4zM165.5 360.1h2.4v2.4h-2.4zM919.0 347.9h2.4v2.4h-2.4zM482.5 366.1h2.4v2.4h-2.4zM433.2 372.3h2.4v2.4h-2.4zM771.4 363.5h2.4v2.4h-2.4zM822.4 362.8h2.4v2.4h-2.4zM351.0 357.6h2.4v2.4h-2.4zM455.2 372.0h2.4v2.4h-2.4zM849.1 352.7h2.4v2.4h-2.4zM125.5 351.1h2.4v2.4h-2.4zM314.9 369.3h2.4v2.4h-2.4zM641.6 368.3h2.4v2.4h-2.4zM231.0 364.9h2.4v2.4h-2.4zM662.3 364.7h2.4v2.4h-2.4zM263.1 349.8h2.4v2.4h-2.4zM275.9 356.1h2.4v2.4h-2.4zM866.1 355.5h2.4v2.4h-2.4zM616.2 386.6h2.4v2.4h-2.4zM936.2 350.5h2.4v2.4h-2.4zM402.9 369.7h2.4v2.4h-2.4zM926.1 346.7h2.4v2.4h-2.4zM136.7 349.1h2.4v2.4h-2.4zM556.6 379.0h2.4v2.4h-2.4zM941.7 352.8h2.4v2.4h-2.4zM268.5 351.1h2.4v2.4h-2.4zM750.4 359.5h2.4v2.4h-2.4zM767.4 369.2h2.4v2.4h-2.4zM640.2 362.6h2.4v2.4h-2.4zM381.9 369.4h2.4v2.4h-2.4zM877.7 358.6h2.4v2.4h-2.4zM435.1 369.7h2.4v2.4h-2.4zM368.0 362.1h2.4v2.4h-2.4zM528.0 370.8h2.4v2.4h-2.4zM694.0 357.3h2.4v2.4h-2.4zM307.8 366.9h2.4v2.4h-2.4zM181.5 361.8h2.4v2.4h-2.4zM941.2 350.8h2.4v2.4h-2.4zM884.5 350.5h2.4v2.4h-2.4zM619.4 370.1h2.4v2.4h-2.4zM647.0 351.7h2.4v2.4h-2.4zM188.1 354.1h2.4v2.4h-2.4zM201.8 356.4h2.4v2.4h-2.4zM188.6 361.4h2.4v2.4h-2.4zM592.1 365.3h2.4v2.4h-2.4zM874.1 351.4h2.4v2.4h-2.4zM168.8 344.5h2.4v2.4h-2.4zM312.1 355.8h2.4v2.4h-2.4zM820.2 357.6h2.4v2.4h-2.4zM193.5 355.0h2.4v2.4h-2.4zM883.9 350.6h2.4v2.4h-2.4zM162.5 348.2h2.4v2.4h-2.4zM848.3 360.7h2.4v2.4h-2.4zM838.4 352.0h2.4v2.4h-2.4zM160.8 350.2h2.4v2.4h-2.4zM761.5 360.6h2.4v2.4h-2.4zM581.5 367.4h2.4v2.4h-2.4zM813.2 352.7h2.4v2.4h-2.4zM474.0 368.1h2.4v2.4h-2.4zM751.9 358.8h2.4v2.4h-2.4zM835.6 354.0h2.4v2.4h-2.4zM209.6 355.5h2.4v2.4h-2.4zM898.4 348.0h2.4v2.4h-2.4zM115.2 355.4h2.4v2.4h-2.4zM185.8 341.5h2.4v2.4h-2.4zM229.9 349.8h2.4v2.4h-2.4zM930.3 349.4h2.4v2.4h-2.4zM695.7 359.1h2.4v2.4h-2.4zM832.0 358.7h2.4v2.4h-2.4zM121.6 345.5h2.4v2.4h-2.4zM140.7 361.5h2.4v2.4h-2.4zM246.2 360.5h2.4v2.4h-2.4zM812.0 367.0h2.4v2.4h-2.4zM690.2 365.0h2.4v2.4h-2.4zM788.2 363.8h2.4v2.4h-2.4zM800.9 361.1h2.4v2.4h-2.4zM580.6 381.7h2.4v2.4h-2.4zM153.9 352.8h2.4v2.4h-2.4zM157.3 350.9h2.4v2.4h-2.4zM776.0 353.4h2.4v2.4h-2.4zM300.6 367.9h2.4v2.4h-2.4zM312.1 367.8h2.4v2.4h-2.4zM383.6 357.5h2.4v2.4h-2.4zM776.1 368.4h2.4v2.4h-2.4zM368.2 366.4h2.4v2.4h-2.4zM700.5 368.0h2.4v2.4h-2.4zM290.1 356.4h2.4v2.4h-2.4zM190.1 345.4h2.4v2.4h-2.4zM371.6 353.3h2.4v2.4h-2.4zM554.4 362.0h2.4v2.4h-2.4zM345.1 358.4h2.4v2.4h-2.4zM690.4 356.9h2.4v2.4h-2.4zM404.1 363.0h2.4v2.4h-2.4zM335.0 364.4h2.4v2.4h-2.4zM247.9 361.5h2.4v2.4h-2.4zM502.0 375.6h2.4v2.4h-2.4zM668.7 362.7h2.4v2.4h-2.4zM808.9 350.6h2.4v2.4h-2.4zM493.6 378.4h2.4v2.4h-2.4zM138.4 346.6h2.4v2.4h-2.4zM826.8 355.7h2.4v2.4h-2.4zM150.1 342.3h2.4v2.4h-2.4zM165.2 350.6h2.4v2.4h-2.4zM165.8 365.8h2.4v2.4h-2.4zM866.2 363.6h2.4v2.4h-2.4zM682.4 367.9h2.4v2.4h-2.4zM675.2 367.4h2.4v2.4h-2.4zM540.7 380.0h2.4v2.4h-2.4zM565.7 363.1h2.4v2.4h-2.4zM289.3 357.4h2.4v2.4h-2.4zM857.0 350.0h2.4v2.4h-2.4zM719.4 371.3h2.4v2.4h-2.4zM761.4 360.0h2.4v2.4h-2.4zM737.6 368.0h2.4v2.4h-2.4zM778.9 369.7h2.4v2.4h-2.4zM670.5 374.1h2.4v2.4h-2.4zM705.4 374.1h2.4v2.4h-2.4zM293.5 364.1h2.4v2.4h-2.4zM306.0 362.0h2.4v2.4h-2.4zM437.7 375.6h2.4v2.4h-2.4zM207.0 352.5h2.4v2.4h-2.4zM256.9 352.3h2.4v2.4h-2.4zM316.8 366.5h2.4v2.4h-2.4zM451.9 359.1h2.4v2.4h-2.4zM321.0 371.3h2.4v2.4h-2.4zM351.3 361.5h2.4v2.4h-2.4zM489.7 372.2h2.4v2.4h-2.4zM723.8 355.9h2.4v2.4h-2.4zM876.9 352.0h2.4v2.4h-2.4zM831.8 355.3h2.4v2.4h-2.4zM786.2 356.7h2.4v2.4h-2.4zM718.7 368.0h2.4v2.4h-2.4zM275.6 360.8h2.4v2.4h-2.4zM773.4 363.9h2.4v2.4h-2.4zM160.9 359.4h2.4v2.4h-2.4zM521.1 379.5h2.4v2.4h-2.4zM939.2 347.1h2.4v2.4h-2.4zM813.1 361.0h2.4v2.4h-2.4zM426.2 364.6h2.4v2.4h-2.4zM320.3 366.0h2.4v2.4h-2.4zM302.8 360.5h2.4v2.4h-2.4zM393.2 372.2h2.4v2.4h-2.4zM273.7 357.4h2.4v2.4h-2.4zM262.9 357.6h2.4v2.4h-2.4zM125.1 348.9h2.4v2.4h-2.4zM165.0 348.5h2.4v2.4h-2.4zM152.0 354.2h2.4v2.4h-2.4zM912.7 354.2h2.4v2.4h-2.4zM256.9 358.7h2.4v2.4h-2.4zM884.8 351.0h2.4v2.4h-2.4zM444.4 364.4h2.4v2.4h-2.4zM183.4 356.4h2.4v2.4h-2.4zM545.0 371.8h2.4v2.4h-2.4zM932.1 349.1h2.4v2.4h-2.4zM601.8 373.9h2.4v2.4h-2.4zM759.3 372.6h2.4v2.4h-2.4zM210.1 352.0h2.4v2.4h-2.4zM211.3 358.8h2.4v2.4h-2.4zM207.1 343.3h2.4v2.4h-2.4zM916.8 345.2h2.4v2.4h-2.4zM116.5 359.7h2.4v2.4h-2.4zM912.8 351.5h2.4v2.4h-2.4zM248.8 361.9h2.4v2.4h-2.4zM133.8 352.0h2.4v2.4h-2.4zM734.4 374.2h2.4v2.4h-2.4zM548.3 364.6h2.4v2.4h-2.4zM128.1 344.7h2.4v2.4h-2.4zM158.7 350.9h2.4v2.4h-2.4zM910.2 347.5h2.4v2.4h-2.4zM936.6 346.3h2.4v2.4h-2.4zM837.6 354.6h2.4v2.4h-2.4zM589.7 371.4h2.4v2.4h-2.4zM864.8 348.5h2.4v2.4h-2.4zM243.9 346.1h2.4v2.4h-2.4zM834.1 358.5h2.4v2.4h-2.4zM279.0 365.1h2.4v2.4h-2.4zM541.4 373.2h2.4v2.4h-2.4zM863.5 356.6h2.4v2.4h-2.4zM932.8 355.1h2.4v2.4h-2.4zM328.9 361.4h2.4v2.4h-2.4zM515.8 365.8h2.4v2.4h-2.4zM348.3 371.4h2.4v2.4h-2.4zM830.0 351.6h2.4v2.4h-2.4zM238.0 353.1h2.4v2.4h-2.4zM134.9 342.8h2.4v2.4h-2.4zM209.7 355.5h2.4v2.4h-2.4zM490.5 390.6h2.4v2.4h-2.4zM824.6 359.7h2.4v2.4h-2.4zM925.4 358.5h2.4v2.4h-2.4zM649.1 383.5h2.4v2.4h-2.4zM514.8 377.1h2.4v2.4h-2.4zM865.7 353.7h2.4v2.4h-2.4zM696.9 364.7h2.4v2.4h-2.4zM831.6 357.1h2.4v2.4h-2.4zM339.5 367.3h2.4v2.4h-2.4zM795.6 357.8h2.4v2.4h-2.4zM598.5 377.4h2.4v2.4h-2.4zM189.6 350.4h2.4v2.4h-2.4zM707.9 377.1h2.4v2.4h-2.4zM390.2 378.8h2.4v2.4h-2.4zM327.5 356.2h2.4v2.4h-2.4zM688.2 362.9h2.4v2.4h-2.4zM871.6 353.1h2.4v2.4h-2.4zM186.2 359.2h2.4v2.4h-2.4zM206.1 347.0h2.4v2.4h-2.4zM860.2 348.7h2.4v2.4h-2.4zM315.6 362.6h2.4v2.4h-2.4zM911.0 352.1h2.4v2.4h-2.4zM672.2 371.4h2.4v2.4h-2.4zM163.6 343.0h2.4v2.4h-2.4zM328.6 375.5h2.4v2.4h-2.4zM300.1 355.4h2.4v2.4h-2.4zM598.4 360.5h2.4v2.4h-2.4zM711.7 373.5h2.4v2.4h-2.4zM210.3 354.6h2.4v2.4h-2.4zM793.6 357.1h2.4v2.4h-2.4zM848.1 353.3h2.4v2.4h-2.4zM723.3 361.9h2.4v2.4h-2.4zM351.5 366.4h2.4v2.4h-2.4zM779.7 354.9h2.4v2.4h-2.4zM763.9 360.0h2.4v2.4h-2.4zM647.4 368.7h2.4v2.4h-2.4zM791.6 357.4h2.4v2.4h-2.4zM529.4 377.2h2.4v2.4h-2.4zM409.6 369.5h2.4v2.4h-2.4zM225.4 357.7h2.4v2.4h-2.4zM229.0 358.2h2.4v2.4h-2.4zM312.0 354.5h2.4v2.4h-2.4zM863.8 352.9h2.4v2.4h-2.4zM153.8 345.9h2.4v2.4h-2.4zM428.8 368.9h2.4v2.4h-2.4zM751.4 368.8h2.4v2.4h-2.4zM697.7 366.6h2.4v2.4h-2.4zM223.5 358.2h2.4v2.4h-2.4zM176.1 356.4h2.4v2.4h-2.4zM414.9 370.0h2.4v2.4h-2.4zM549.8 371.4h2.4v2.4h-2.4zM295.2 362.0h2.4v2.4h-2.4zM743.5 370.6h2.4v2.4h-2.4zM686.4 374.2h2.4v2.4h-2.4zM356.6 367.2h2.4v2.4h-2.4zM942.4 351.2h2.4v2.4h-2.4zM637.4 360.4h2.4v2.4h-2.4zM177.7 360.6h2.4v2.4h-2.4zM289.5 361.3h2.4v2.4h-2.4zM313.2 359.8h2.4v2.4h-2.4zM273.9 366.2h2.4v2.4h-2.4zM214.3 356.5h2.4v2.4h-2.4zM887.0 351.9h2.4v2.4h-2.4zM207.9 360.7h2.4v2.4h-2.4zM237.3 355.7h2.4v2.4h-2.4zM934.7 356.6h2.4v2.4h-2.4zM398.4 374.3h2.4v2.4h-2.4zM536.7 394.3h2.4v2.4h-2.4zM414.6 361.4h2.4v2.4h-2.4zM797.4 351.7h2.4v2.4h-2.4zM218.8 365.2h2.4v2.4h-2.4zM771.3 354.0h2.4v2.4h-2.4zM117.3 334.1h2.4v2.4h-2.4zM844.9 348.5h2.4v2.4h-2.4zM773.8 345.7h2.4v2.4h-2.4zM701.1 348.9h2.4v2.4h-2.4zM844.9 360.3h2.4v2.4h-2.4zM545.5 375.2h2.4v2.4h-2.4zM782.7 367.7h2.4v2.4h-2.4zM699.4 372.8h2.4v2.4h-2.4zM782.8 360.2h2.4v2.4h-2.4zM404.1 361.6h2.4v2.4h-2.4zM499.4 380.1h2.4v2.4h-2.4zM577.8 367.1h2.4v2.4h-2.4zM332.5 354.1h2.4v2.4h-2.4zM818.9 356.0h2.4v2.4h-2.4zM748.5 354.6h2.4v2.4h-2.4zM429.7 380.3h2.4v2.4h-2.4zM296.9 359.2h2.4v2.4h-2.4zM920.2 351.2h2.4v2.4h-2.4zM512.9 373.5h2.4v2.4h-2.4zM861.1 358.5h2.4v2.4h-2.4zM715.4 359.9h2.4v2.4h-2.4zM118.5 348.6h2.4v2.4h-2.4zM840.2 352.1h2.4v2.4h-2.4zM237.5 358.2h2.4v2.4h-2.4zM325.9 371.6h2.4v2.4h-2.4zM920.1 344.3h2.4v2.4h-2.4zM276.9 358.0h2.4v2.4h-2.4zM829.2 346.0h2.4v2.4h-2.4zM473.5 389.8h2.4v2.4h-2.4zM248.4 351.6h2.4v2.4h-2.4zM187.2 349.5h2.4v2.4h-2.4zM893.1 348.8h2.4v2.4h-2.4zM814.3 355.5h2.4v2.4h-2.4zM321.1 363.5h2.4v2.4h-2.4zM534.0 363.2h2.4v2.4h-2.4zM312.4 360.5h2.4v2.4h-2.4zM194.6 355.9h2.4v2.4h-2.4zM298.6 368.6h2.4v2.4h-2.4zM795.6 359.4h2.4v2.4h-2.4zM760.6 358.8h2.4v2.4h-2.4zM125.4 352.1h2.4v2.4h-2.4zM663.9 377.5h2.4v2.4h-2.4zM714.3 360.0h2.4v2.4h-2.4zM868.2 362.0h2.4v2.4h-2.4zM114.7 362.4h2.4v2.4h-2.4zM748.0 359.5h2.4v2.4h-2.4zM801.4 354.0h2.4v2.4h-2.4zM635.2 356.9h2.4v2.4h-2.4zM273.4 361.5h2.4v2.4h-2.4zM333.0 368.1h2.4v2.4h-2.4zM275.9 363.4h2.4v2.4h-2.4zM239.0 356.4h2.4v2.4h-2.4zM639.9 364.1h2.4v2.4h-2.4zM183.6 348.4h2.4v2.4h-2.4zM183.6 347.3h2.4v2.4h-2.4zM336.7 363.3h2.4v2.4h-2.4zM271.3 359.0h2.4v2.4h-2.4zM157.2 344.1h2.4v2.4h-2.4zM737.7 368.5h2.4v2.4h-2.4zM839.0 347.2h2.4v2.4h-2.4zM217.0 351.7h2.4v2.4h-2.4zM645.6 368.5h2.4v2.4h-2.4zM919.4 345.5h2.4v2.4h-2.4zM214.6 350.2h2.4v2.4h-2.4zM790.4 366.0h2.4v2.4h-2.4zM570.8 369.7h2.4v2.4h-2.4zM201.3 350.7h2.4v2.4h-2.4zM140.6 348.5h2.4v2.4h-2.4zM372.5 365.8h2.4v2.4h-2.4zM838.0 348.3h2.4v2.4h-2.4zM178.7 350.4h2.4v2.4h-2.4zM206.7 352.4h2.4v2.4h-2.4zM234.4 356.3h2.4v2.4h-2.4zM388.0 374.8h2.4v2.4h-2.4zM214.6 347.0h2.4v2.4h-2.4zM872.9 352.8h2.4v2.4h-2.4zM281.9 363.9h2.4v2.4h-2.4zM217.6 358.9h2.4v2.4h-2.4zM639.9 373.2h2.4v2.4h-2.4zM723.5 365.2h2.4v2.4h-2.4zM814.9 353.7h2.4v2.4h-2.4zM367.3 374.1h2.4v2.4h-2.4zM878.4 348.9h2.4v2.4h-2.4zM378.2 366.9h2.4v2.4h-2.4zM237.8 357.5h2.4v2.4h-2.4zM375.1 373.3h2.4v2.4h-2.4zM175.6 353.2h2.4v2.4h-2.4zM813.0 362.6h2.4v2.4h-2.4zM796.7 357.7h2.4v2.4h-2.4zM612.2 356.6h2.4v2.4h-2.4zM276.9 361.5h2.4v2.4h-2.4zM604.5 370.0h2.4v2.4h-2.4zM914.0 348.6h2.4v2.4h-2.4zM819.4 356.4h2.4v2.4h-2.4zM115.4 355.1h2.4v2.4h-2.4zM611.9 366.3h2.4v2.4h-2.4zM156.5 349.5h2.4v2.4h-2.4zM354.0 370.9h2.4v2.4h-2.4zM137.5 358.5h2.4v2.4h-2.4zM372.6 364.0h2.4v2.4h-2.4zM934.4 350.1h2.4v2.4h-2.4zM724.4 354.1h2.4v2.4h-2.4zM314.6 360.3h2.4v2.4h-2.4zM289.2 360.2h2.4v2.4h-2.4zM174.4 341.3h2.4v2.4h-2.4zM558.8 374.2h2.4v2.4h-2.4zM250.5 352.1h2.4v2.4h-2.4zM340.4 366.6h2.4v2.4h-2.4zM122.0 340.6h2.4v2.4h-2.4zM337.1 362.5h2.4v2.4h-2.4zM638.3 390.2h2.4v2.4h-2.4zM849.9 349.7h2.4v2.4h-2.4zM271.5 354.8h2.4v2.4h-2.4zM846.2 354.7h2.4v2.4h-2.4zM223.6 353.1h2.4v2.4h-2.4zM731.1 369.0h2.4v2.4h-2.4zM614.5 363.5h2.4v2.4h-2.4zM190.8 348.8h2.4v2.4h-2.4zM910.2 351.9h2.4v2.4h-2.4zM425.8 372.8h2.4v2.4h-2.4zM327.0 366.5h2.4v2.4h-2.4zM915.8 357.5h2.4v2.4h-2.4zM589.7 364.2h2.4v2.4h-2.4zM750.7 359.0h2.4v2.4h-2.4zM250.6 356.4h2.4v2.4h-2.4zM843.0 354.1h2.4v2.4h-2.4zM775.8 370.0h2.4v2.4h-2.4zM925.5 355.2h2.4v2.4h-2.4zM126.3 361.0h2.4v2.4h-2.4zM941.7 356.6h2.4v2.4h-2.4zM129.1 352.5h2.4v2.4h-2.4zM814.6 356.1h2.4v2.4h-2.4zM741.3 364.4h2.4v2.4h-2.4zM762.7 360.1h2.4v2.4h-2.4zM831.5 350.2h2.4v2.4h-2.4zM244.6 353.7h2.4v2.4h-2.4zM586.1 378.6h2.4v2.4h-2.4zM701.1 366.3h2.4v2.4h-2.4zM201.9 349.0h2.4v2.4h-2.4zM766.0 357.9h2.4v2.4h-2.4z"/><path stroke="#fac435" d="M379.4 366.8h2.4v2.4h-2.4zM702.2 365.4h2.4v2.4h-2.4zM607.7 358.8h2.4v2.4h-2.4zM259.8 368.5h2.4v2.4h-2.4zM760.9 365.9h2.4v2.4h-2.4zM488.4 381.8h2.4v2.4h-2.4zM624.4 368.3h2.4v2.4h-2.4zM332.1 368.1h2.4v2.4h-2.4zM724.8 365.4h2.4v2.4h-2.4zM418.6 374.3h2.4v2.4h-2.4zM513.2 369.2h2.4v2.4h-2.4zM654.7 368.4h2.4v2.4h-2.4zM624.5 371.2h2.4v2.4h-2.4zM896.0 367.4h2.4v2.4h-2.4zM672.2 357.3h2.4v2.4h-2.4zM723.8 365.4h2.4v2.4h-2.4zM390.4 370.3h2.4v2.4h-2.4zM546.0 363.9h2.4v2.4h-2.4zM125.7 363.0h2.4v2.4h-2.4zM436.3 374.1h2.4v2.4h-2.4zM478.4 360.8h2.4v2.4h-2.4zM421.6 376.6h2.4v2.4h-2.4zM871.7 363.0h2.4v2.4h-2.4zM208.6 362.7h2.4v2.4h-2.4zM462.2 382.1h2.4v2.4h-2.4zM217.9 360.6h2.4v2.4h-2.4zM343.5 375.3h2.4v2.4h-2.4zM580.7 382.5h2.4v2.4h-2.4zM625.9 366.4h2.4v2.4h-2.4zM683.8 369.0h2.4v2.4h-2.4zM235.5 370.9h2.4v2.4h-2.4zM424.4 365.2h2.4v2.4h-2.4zM302.7 365.2h2.4v2.4h-2.4zM728.3 365.1h2.4v2.4h-2.4zM777.8 368.2h2.4v2.4h-2.4zM410.1 369.3h2.4v2.4h-2.4zM353.9 364.4h2.4v2.4h-2.4zM427.1 367.7h2.4v2.4h-2.4zM534.4 357.2h2.4v2.4h-2.4zM715.2 365.2h2.4v2.4h-2.4zM193.9 360.2h2.4v2.4h-2.4zM502.9 381.2h2.4v2.4h-2.4zM446.5 369.5h2.4v2.4h-2.4zM347.3 369.0h2.4v2.4h-2.4zM156.9 361.1h2.4v2.4h-2.4zM495.4 372.5h2.4v2.4h-2.4zM645.5 365.8h2.4v2.4h-2.4zM510.4 359.3h2.4v2.4h-2.4zM753.9 375.5h2.4v2.4h-2.4zM677.4 368.8h2.4v2.4h-2.4zM772.3 363.6h2.4v2.4h-2.4zM702.0 363.8h2.4v2.4h-2.4zM628.0 366.1h2.4v2.4h-2.4zM544.5 363.6h2.4v2.4h-2.4zM733.2 373.8h2.4v2.4h-2.4zM821.9 365.1h2.4v2.4h-2.4zM304.9 375.9h2.4v2.4h-2.4zM582.3 371.6h2.4v2.4h-2.4zM667.9 366.7h2.4v2.4h-2.4zM693.0 382.9h2.4v2.4h-2.4zM376.3 360.1h2.4v2.4h-2.4zM279.7 372.1h2.4v2.4h-2.4zM721.5 370.0h2.4v2.4h-2.4zM394.5 367.3h2.4v2.4h-2.4zM363.8 367.4h2.4v2.4h-2.4zM244.8 363.4h2.4v2.4h-2.4zM865.9 370.4h2.4v2.4h-2.4zM499.6 370.5h2.4v2.4h-2.4zM458.1 364.1h2.4v2.4h-2.4zM357.3 363.2h2.4v2.4h-2.4zM577.8 376.3h2.4v2.4h-2.4zM518.4 365.9h2.4v2.4h-2.4zM457.1 371.9h2.4v2.4h-2.4zM448.3 363.9h2.4v2.4h-2.4zM239.2 370.8h2.4v2.4h-2.4zM525.4 372.7h2.4v2.4h-2.4zM668.5 368.0h2.4v2.4h-2.4zM631.4 365.1h2.4v2.4h-2.4zM528.1 375.8h2.4v2.4h-2.4zM541.0 375.9h2.4v2.4h-2.4zM498.4 387.5h2.4v2.4h-2.4zM519.3 373.7h2.4v2.4h-2.4zM670.9 371.3h2.4v2.4h-2.4zM533.9 375.7h2.4v2.4h-2.4zM691.1 373.2h2.4v2.4h-2.4zM362.0 372.8h2.4v2.4h-2.4zM321.9 365.1h2.4v2.4h-2.4zM551.8 363.3h2.4v2.4h-2.4zM712.1 368.8h2.4v2.4h-2.4zM499.3 371.7h2.4v2.4h-2.4zM731.3 362.4h2.4v2.4h-2.4zM231.4 369.8h2.4v2.4h-2.4zM575.3 380.7h2.4v2.4h-2.4zM848.1 358.6h2.4v2.4h-2.4zM379.2 357.0h2.4v2.4h-2.4zM467.8 359.0h2.4v2.4h-2.4zM738.3 359.6h2.4v2.4h-2.4zM311.4 366.3h2.4v2.4h-2.4zM304.6 361.2h2.4v2.4h-2.4zM815.3 372.1h2.4v2.4h-2.4zM483.9 367.0h2.4v2.4h-2.4zM227.7 360.2h2.4v2.4h-2.4zM700.7 374.4h2.4v2.4h-2.4zM436.9 377.0h2.4v2.4h-2.4zM653.3 369.9h2.4v2.4h-2.4zM698.2 379.9h2.4v2.4h-2.4zM534.6 376.3h2.4v2.4h-2.4zM630.3 367.0h2.4v2.4h-2.4zM539.4 375.8h2.4v2.4h-2.4zM453.9 376.8h2.4v2.4h-2.4zM475.9 362.8h2.4v2.4h-2.4zM510.6 376.5h2.4v2.4h-2.4zM739.7 369.3h2.4v2.4h-2.4zM288.1 374.7h2.4v2.4h-2.4zM563.3 367.6h2.4v2.4h-2.4zM282.4 364.1h2.4v2.4h-2.4zM618.1 375.7h2.4v2.4h-2.4zM405.0 371.2h2.4v2.4h-2.4zM275.1 365.4h2.4v2.4h-2.4zM415.6 370.3h2.4v2.4h-2.4zM906.5 366.4h2.4v2.4h-2.4zM677.0 363.4h2.4v2.4h-2.4zM404.3 363.2h2.4v2.4h-2.4zM748.3 363.2h2.4v2.4h-2.4zM554.1 379.3h2.4v2.4h-2.4zM800.3 365.1h2.4v2.4h-2.4zM283.9 368.9h2.4v2.4h-2.4zM309.9 374.4h2.4v2.4h-2.4zM415.0 366.1h2.4v2.4h-2.4zM425.3 380.0h2.4v2.4h-2.4zM678.3 363.8h2.4v2.4h-2.4zM380.7 357.7h2.4v2.4h-2.4zM439.0 380.6h2.4v2.4h-2.4zM554.5 359.2h2.4v2.4h-2.4zM728.9 371.2h2.4v2.4h-2.4zM621.4 353.9h2.4v2.4h-2.4zM410.7 361.1h2.4v2.4h-2.4zM534.0 370.5h2.4v2.4h-2.4zM571.7 366.1h2.4v2.4h-2.4zM674.8 368.7h2.4v2.4h-2.4zM555.5 372.5h2.4v2.4h-2.4zM804.3 367.1h2.4v2.4h-2.4zM408.3 374.8h2.4v2.4h-2.4zM749.7 371.6h2.4v2.4h-2.4zM657.5 369.6h2.4v2.4h-2.4zM880.6 366.1h2.4v2.4h-2.4zM500.2 365.9h2.4v2.4h-2.4zM279.1 368.5h2.4v2.4h-2.4zM744.1 368.3h2.4v2.4h-2.4zM482.1 370.1h2.4v2.4h-2.4zM667.7 389.8h2.4v2.4h-2.4zM286.8 366.0h2.4v2.4h-2.4zM689.2 368.9h2.4v2.4h-2.4zM597.9 368.6h2.4v2.4h-2.4zM551.7 376.4h2.4v2.4h-2.4zM638.9 365.9h2.4v2.4h-2.4zM906.6 366.1h2.4v2.4h-2.4zM758.7 367.1h2.4v2.4h-2.4zM512.8 379.1h2.4v2.4h-2.4zM482.4 370.7h2.4v2.4h-2.4zM739.8 350.8h2.4v2.4h-2.4zM452.4 379.2h2.4v2.4h-2.4zM428.8 372.4h2.4v2.4h-2.4zM843.6 365.2h2.4v2.4h-2.4z"/><path stroke="#2eb7a4" d="M353.7 368.1h2.4v2.4h-2.4zM150.6 368.1h2.4v2.4h-2.4zM586.3 370.5h2.4v2.4h-2.4zM629.8 367.8h2.4v2.4h-2.4zM290.9 372.5h2.4v2.4h-2.4zM281.1 371.0h2.4v2.4h-2.4zM400.2 379.8h2.4v2.4h-2.4zM195.2 371.6h2.4v2.4h-2.4z"/><path stroke="#1f7fd9" d="M398.1 375.6h2.4v2.4h-2.4zM578.3 373.6h2.4v2.4h-2.4zM642.7 372.0h2.4v2.4h-2.4zM911.7 367.9h2.4v2.4h-2.4zM167.2 367.0h2.4v2.4h-2.4zM447.4 366.2h2.4v2.4h-2.4zM354.9 377.1h2.4v2.4h-2.4zM478.4 374.9h2.4v2.4h-2.4zM633.1 373.4h2.4v2.4h-2.4zM221.7 368.1h2.4v2.4h-2.4z"/><path stroke="#fbf30c" d="M574.1 368.5h2.4v2.4h-2.4zM608.8 374.9h2.4v2.4h-2.4zM191.3 364.3h2.4v2.4h-2.4zM634.2 380.5h2.4v2.4h-2.4zM482.9 369.3h2.4v2.4h-2.4zM482.3 373.1h2.4v2.4h-2.4zM514.8 364.5h2.4v2.4h-2.4zM465.3 373.8h2.4v2.4h-2.4zM702.4 369.7h2.4v2.4h-2.4zM517.4 371.4h2.4v2.4h-2.4zM876.5 364.1h2.4v2.4h-2.4zM631.9 375.5h2.4v2.4h-2.4zM454.5 381.7h2.4v2.4h-2.4zM906.8 363.8h2.4v2.4h-2.4zM883.5 363.7h2.4v2.4h-2.4zM521.7 351.2h2.4v2.4h-2.4zM641.7 384.0h2.4v2.4h-2.4zM710.6 366.7h2.4v2.4h-2.4zM227.0 368.1h2.4v2.4h-2.4zM390.7 360.3h2.4v2.4h-2.4zM151.7 362.8h2.4v2.4h-2.4zM437.0 370.6h2.4v2.4h-2.4zM492.8 365.4h2.4v2.4h-2.4zM682.9 370.7h2.4v2.4h-2.4zM694.9 371.2h2.4v2.4h-2.4zM631.2 359.9h2.4v2.4h-2.4zM904.4 365.5h2.4v2.4h-2.4zM533.1 375.9h2.4v2.4h-2.4zM920.3 367.6h2.4v2.4h-2.4zM611.3 377.4h2.4v2.4h-2.4zM820.2 369.5h2.4v2.4h-2.4zM341.9 364.8h2.4v2.4h-2.4zM453.6 363.3h2.4v2.4h-2.4zM916.3 359.7h2.4v2.4h-2.4zM143.2 367.0h2.4v2.4h-2.4zM507.3 385.3h2.4v2.4h-2.4zM492.6 375.0h2.4v2.4h-2.4zM582.1 362.7h2.4v2.4h-2.4zM519.9 369.2h2.4v2.4h-2.4zM474.2 371.8h2.4v2.4h-2.4zM638.7 368.6h2.4v2.4h-2.4zM724.9 358.4h2.4v2.4h-2.4zM426.9 365.7h2.4v2.4h-2.4zM452.2 356.8h2.4v2.4h-2.4zM854.3 363.8h2.4v2.4h-2.4zM444.7 369.8h2.4v2.4h-2.4zM543.8 383.9h2.4v2.4h-2.4zM512.7 372.7h2.4v2.4h-2.4zM441.7 368.3h2.4v2.4h-2.4zM286.9 365.4h2.4v2.4h-2.4zM143.0 365.1h2.4v2.4h-2.4zM812.4 366.5h2.4v2.4h-2.4zM615.0 365.7h2.4v2.4h-2.4zM648.3 381.3h2.4v2.4h-2.4zM450.2 368.3h2.4v2.4h-2.4zM927.8 363.9h2.4v2.4h-2.4zM494.9 369.2h2.4v2.4h-2.4zM883.5 368.4h2.4v2.4h-2.4zM626.5 366.0h2.4v2.4h-2.4zM566.0 382.8h2.4v2.4h-2.4zM866.4 362.1h2.4v2.4h-2.4zM508.2 380.8h2.4v2.4h-2.4zM528.4 363.0h2.4v2.4h-2.4zM919.1 365.9h2.4v2.4h-2.4zM298.4 376.5h2.4v2.4h-2.4zM613.6 370.0h2.4v2.4h-2.4zM332.9 374.1h2.4v2.4h-2.4zM788.1 367.3h2.4v2.4h-2.4zM391.2 368.0h2.4v2.4h-2.4zM511.2 368.8h2.4v2.4h-2.4zM631.5 380.2h2.4v2.4h-2.4zM202.2 369.6h2.4v2.4h-2.4zM628.4 366.4h2.4v2.4h-2.4zM660.5 366.6h2.4v2.4h-2.4zM626.2 369.7h2.4v2.4h-2.4zM351.9 378.8h2.4v2.4h-2.4zM277.7 361.8h2.4v2.4h-2.4zM739.5 365.1h2.4v2.4h-2.4zM616.0 360.9h2.4v2.4h-2.4zM542.9 374.3h2.4v2.4h-2.4zM405.2 377.8h2.4v2.4h-2.4zM406.0 375.7h2.4v2.4h-2.4zM637.5 382.1h2.4v2.4h-2.4zM384.8 377.6h2.4v2.4h-2.4zM531.1 374.5h2.4v2.4h-2.4zM668.6 368.7h2.4v2.4h-2.4zM193.6 361.4h2.4v2.4h-2.4zM391.1 369.5h2.4v2.4h-2.4zM438.8 349.8h2.4v2.4h-2.4zM411.7 373.3h2.4v2.4h-2.4zM625.2 364.6h2.4v2.4h-2.4zM409.8 365.3h2.4v2.4h-2.4zM443.3 374.4h2.4v2.4h-2.4zM525.2 379.7h2.4v2.4h-2.4zM648.3 373.0h2.4v2.4h-2.4zM233.7 366.8h2.4v2.4h-2.4zM580.6 352.1h2.4v2.4h-2.4zM309.5 373.2h2.4v2.4h-2.4zM600.5 367.3h2.4v2.4h-2.4zM343.8 364.8h2.4v2.4h-2.4zM672.8 367.0h2.4v2.4h-2.4zM716.9 371.1h2.4v2.4h-2.4zM286.1 371.9h2.4v2.4h-2.4zM717.4 379.5h2.4v2.4h-2.4zM347.0 363.5h2.4v2.4h-2.4zM741.8 364.7h2.4v2.4h-2.4zM592.8 368.3h2.4v2.4h-2.4zM463.3 373.0h2.4v2.4h-2.4zM765.4 363.2h2.4v2.4h-2.4zM488.8 366.6h2.4v2.4h-2.4zM435.6 373.4h2.4v2.4h-2.4zM321.3 358.6h2.4v2.4h-2.4zM462.7 381.9h2.4v2.4h-2.4zM837.6 370.0h2.4v2.4h-2.4zM459.0 374.4h2.4v2.4h-2.4zM368.5 376.9h2.4v2.4h-2.4zM382.7 380.3h2.4v2.4h-2.4zM625.3 372.9h2.4v2.4h-2.4zM667.1 379.3h2.4v2.4h-2.4zM427.9 373.4h2.4v2.4h-2.4zM802.5 370.4h2.4v2.4h-2.4zM609.4 363.3h2.4v2.4h-2.4zM244.5 364.8h2.4v2.4h-2.4zM514.5 375.2h2.4v2.4h-2.4zM584.7 363.5h2.4v2.4h-2.4zM179.1 362.3h2.4v2.4h-2.4zM884.4 362.4h2.4v2.4h-2.4zM720.7 373.2h2.4v2.4h-2.4zM496.2 364.8h2.4v2.4h-2.4zM928.1 364.2h2.4v2.4h-2.4zM120.5 362.3h2.4v2.4h-2.4zM670.1 369.3h2.4v2.4h-2.4zM544.5 374.0h2.4v2.4h-2.4zM551.9 358.8h2.4v2.4h-2.4zM810.1 364.8h2.4v2.4h-2.4zM489.9 377.9h2.4v2.4h-2.4zM916.4 363.3h2.4v2.4h-2.4zM429.7 371.1h2.4v2.4h-2.4zM339.5 367.2h2.4v2.4h-2.4zM668.0 376.3h2.4v2.4h-2.4zM673.2 376.8h2.4v2.4h-2.4zM868.7 360.3h2.4v2.4h-2.4zM625.2 368.5h2.4v2.4h-2.4zM895.7 367.6h2.4v2.4h-2.4zM791.9 362.1h2.4v2.4h-2.4zM651.6 361.7h2.4v2.4h-2.4zM431.2 371.9h2.4v2.4h-2.4zM767.6 360.6h2.4v2.4h-2.4zM636.3 367.2h2.4v2.4h-2.4zM892.5 368.0h2.4v2.4h-2.4zM617.0 372.5h2.4v2.4h-2.4zM397.6 370.5h2.4v2.4h-2.4zM468.6 359.5h2.4v2.4h-2.4zM363.6 372.5h2.4v2.4h-2.4zM452.2 363.7h2.4v2.4h-2.4zM711.0 367.9h2.4v2.4h-2.4zM573.4 366.7h2.4v2.4h-2.4zM383.2 367.6h2.4v2.4h-2.4zM663.9 376.0h2.4v2.4h-2.4zM291.2 373.9h2.4v2.4h-2.4zM626.7 373.1h2.4v2.4h-2.4zM135.3 365.3h2.4v2.4h-2.4zM621.5 372.7h2.4v2.4h-2.4zM458.4 375.6h2.4v2.4h-2.4zM638.4 364.9h2.4v2.4h-2.4zM644.9 365.2h2.4v2.4h-2.4zM476.5 361.5h2.4v2.4h-2.4zM476.7 376.1h2.4v2.4h-2.4zM667.8 368.9h2.4v2.4h-2.4zM878.7 366.6h2.4v2.4h-2.4zM582.0 369.2h2.4v2.4h-2.4zM870.2 364.7h2.4v2.4h-2.4zM393.9 366.9h2.4v2.4h-2.4zM601.9 377.5h2.4v2.4h-2.4zM419.0 374.1h2.4v2.4h-2.4zM455.9 373.1h2.4v2.4h-2.4zM612.8 371.8h2.4v2.4h-2.4zM335.2 381.2h2.4v2.4h-2.4zM165.1 363.7h2.4v2.4h-2.4zM316.8 359.6h2.4v2.4h-2.4zM870.0 365.3h2.4v2.4h-2.4zM620.1 362.0h2.4v2.4h-2.4zM558.5 375.4h2.4v2.4h-2.4zM432.6 371.3h2.4v2.4h-2.4zM638.6 376.4h2.4v2.4h-2.4zM879.7 363.8h2.4v2.4h-2.4zM756.0 359.0h2.4v2.4h-2.4zM553.3 364.8h2.4v2.4h-2.4zM152.0 371.0h2.4v2.4h-2.4zM723.2 371.3h2.4v2.4h-2.4zM584.4 373.8h2.4v2.4h-2.4zM836.2 363.6h2.4v2.4h-2.4zM327.3 359.0h2.4v2.4h-2.4zM823.7 360.2h2.4v2.4h-2.4zM735.7 362.7h2.4v2.4h-2.4zM743.6 368.5h2.4v2.4h-2.4zM190.0 361.3h2.4v2.4h-2.4zM379.3 368.7h2.4v2.4h-2.4zM710.0 374.7h2.4v2.4h-2.4zM531.2 383.6h2.4v2.4h-2.4zM840.6 371.0h2.4v2.4h-2.4zM637.4 370.4h2.4v2.4h-2.4zM313.6 372.6h2.4v2.4h-2.4zM725.9 364.6h2.4v2.4h-2.4zM491.7 375.8h2.4v2.4h-2.4zM699.4 373.6h2.4v2.4h-2.4zM584.9 371.2h2.4v2.4h-2.4zM904.3 360.4h2.4v2.4h-2.4zM413.7 375.0h2.4v2.4h-2.4zM322.7 375.7h2.4v2.4h-2.4zM756.4 364.4h2.4v2.4h-2.4zM262.9 369.8h2.4v2.4h-2.4zM719.1 362.1h2.4v2.4h-2.4zM587.3 373.1h2.4v2.4h-2.4zM531.6 365.2h2.4v2.4h-2.4zM348.7 361.8h2.4v2.4h-2.4zM483.0 373.3h2.4v2.4h-2.4zM174.1 368.4h2.4v2.4h-2.4zM562.9 365.7h2.4v2.4h-2.4zM740.4 367.5h2.4v2.4h-2.4zM684.6 366.5h2.4v2.4h-2.4zM375.1 370.1h2.4v2.4h-2.4zM336.4 371.6h2.4v2.4h-2.4zM143.2 365.6h2.4v2.4h-2.4zM816.6 365.4h2.4v2.4h-2.4zM629.3 369.9h2.4v2.4h-2.4zM272.9 366.3h2.4v2.4h-2.4zM395.2 370.6h2.4v2.4h-2.4zM291.9 367.7h2.4v2.4h-2.4zM309.1 357.1h2.4v2.4h-2.4zM369.1 375.5h2.4v2.4h-2.4zM425.5 371.8h2.4v2.4h-2.4zM698.8 361.9h2.4v2.4h-2.4zM568.4 383.0h2.4v2.4h-2.4zM902.6 373.8h2.4v2.4h-2.4zM472.6 376.2h2.4v2.4h-2.4zM620.8 367.6h2.4v2.4h-2.4zM362.5 376.4h2.4v2.4h-2.4zM593.4 372.5h2.4v2.4h-2.4zM398.3 363.5h2.4v2.4h-2.4zM875.4 362.3h2.4v2.4h-2.4zM549.3 374.5h2.4v2.4h-2.4zM291.3 363.3h2.4v2.4h-2.4zM636.3 361.1h2.4v2.4h-2.4zM546.2 361.0h2.4v2.4h-2.4zM760.3 365.0h2.4v2.4h-2.4zM576.3 376.1h2.4v2.4h-2.4zM340.0 377.1h2.4v2.4h-2.4zM764.1 361.7h2.4v2.4h-2.4zM470.0 368.2h2.4v2.4h-2.4zM363.0 366.2h2.4v2.4h-2.4zM921.0 361.7h2.4v2.4h-2.4zM413.5 368.9h2.4v2.4h-2.4zM503.4 366.5h2.4v2.4h-2.4zM424.7 376.7h2.4v2.4h-2.4zM695.2 357.2h2.4v2.4h-2.4zM875.6 366.9h2.4v2.4h-2.4zM644.3 368.1h2.4v2.4h-2.4zM268.0 362.2h2.4v2.4h-2.4zM420.6 371.5h2.4v2.4h-2.4zM245.6 365.6h2.4v2.4h-2.4zM686.9 374.2h2.4v2.4h-2.4zM328.5 374.9h2.4v2.4h-2.4zM342.5 368.0h2.4v2.4h-2.4zM629.9 364.6h2.4v2.4h-2.4zM141.6 369.1h2.4v2.4h-2.4zM860.0 361.9h2.4v2.4h-2.4zM379.5 366.0h2.4v2.4h-2.4zM728.9 366.4h2.4v2.4h-2.4zM780.4 371.8h2.4v2.4h-2.4zM764.3 379.2h2.4v2.4h-2.4zM554.8 379.0h2.4v2.4h-2.4zM246.4 364.2h2.4v2.4h-2.4zM594.7 381.2h2.4v2.4h-2.4zM841.4 365.6h2.4v2.4h-2.4zM615.8 377.6h2.4v2.4h-2.4zM706.8 377.2h2.4v2.4h-2.4zM830.1 373.2h2.4v2.4h-2.4zM528.6 366.2h2.4v2.4h-2.4zM455.8 369.2h2.4v2.4h-2.4zM600.7 373.6h2.4v2.4h-2.4zM440.8 370.3h2.4v2.4h-2.4zM479.7 367.3h2.4v2.4h-2.4zM240.0 367.3h2.4v2.4h-2.4zM599.7 373.4h2.4v2.4h-2.4zM299.4 363.6h2.4v2.4h-2.4zM116.3 362.6h2.4v2.4h-2.4zM289.6 372.8h2.4v2.4h-2.4zM604.0 368.2h2.4v2.4h-2.4zM377.7 377.1h2.4v2.4h-2.4zM790.9 367.4h2.4v2.4h-2.4zM365.8 367.9h2.4v2.4h-2.4zM807.4 357.4h2.4v2.4h-2.4zM606.2 378.7h2.4v2.4h-2.4zM365.5 372.6h2.4v2.4h-2.4zM357.5 366.7h2.4v2.4h-2.4zM625.1 376.6h2.4v2.4h-2.4zM411.7 376.8h2.4v2.4h-2.4zM529.7 376.8h2.4v2.4h-2.4zM632.9 372.9h2.4v2.4h-2.4zM452.9 365.8h2.4v2.4h-2.4zM900.9 361.4h2.4v2.4h-2.4zM253.9 372.4h2.4v2.4h-2.4zM287.8 364.9h2.4v2.4h-2.4zM730.6 366.9h2.4v2.4h-2.4zM879.6 368.1h2.4v2.4h-2.4zM495.2 375.0h2.4v2.4h-2.4zM526.3 381.8h2.4v2.4h-2.4zM720.8 365.5h2.4v2.4h-2.4zM840.8 366.0h2.4v2.4h-2.4zM393.6 363.9h2.4v2.4h-2.4zM329.9 367.2h2.4v2.4h-2.4zM354.7 374.8h2.4v2.4h-2.4zM688.7 381.9h2.4v2.4h-2.4zM887.1 368.2h2.4v2.4h-2.4zM820.3 367.2h2.4v2.4h-2.4zM419.5 377.8h2.4v2.4h-2.4zM445.2 365.9h2.4v2.4h-2.4zM646.0 373.6h2.4v2.4h-2.4zM597.6 364.4h2.4v2.4h-2.4zM634.8 366.9h2.4v2.4h-2.4zM136.8 359.6h2.4v2.4h-2.4zM682.3 381.2h2.4v2.4h-2.4zM493.2 373.7h2.4v2.4h-2.4zM502.9 369.5h2.4v2.4h-2.4zM616.4 379.2h2.4v2.4h-2.4zM696.2 369.8h2.4v2.4h-2.4zM381.9 376.5h2.4v2.4h-2.4zM572.8 391.1h2.4v2.4h-2.4zM359.1 377.8h2.4v2.4h-2.4zM621.5 368.6h2.4v2.4h-2.4zM335.4 370.9h2.4v2.4h-2.4zM586.2 370.9h2.4v2.4h-2.4zM602.7 376.6h2.4v2.4h-2.4zM515.9 375.9h2.4v2.4h-2.4zM291.8 363.0h2.4v2.4h-2.4zM389.1 371.3h2.4v2.4h-2.4zM241.1 363.3h2.4v2.4h-2.4zM448.0 365.8h2.4v2.4h-2.4zM447.1 365.5h2.4v2.4h-2.4zM365.1 364.0h2.4v2.4h-2.4zM139.6 363.9h2.4v2.4h-2.4zM699.2 366.1h2.4v2.4h-2.4zM552.7 368.8h2.4v2.4h-2.4zM406.3 370.4h2.4v2.4h-2.4zM583.4 360.6h2.4v2.4h-2.4zM519.3 379.7h2.4v2.4h-2.4zM141.4 360.8h2.4v2.4h-2.4zM467.4 381.9h2.4v2.4h-2.4zM480.6 371.1h2.4v2.4h-2.4zM878.2 365.9h2.4v2.4h-2.4zM344.6 371.9h2.4v2.4h-2.4zM940.5 364.8h2.4v2.4h-2.4zM264.1 364.3h2.4v2.4h-2.4zM500.4 374.7h2.4v2.4h-2.4zM289.4 367.9h2.4v2.4h-2.4zM588.1 375.4h2.4v2.4h-2.4zM756.4 365.1h2.4v2.4h-2.4zM671.8 365.0h2.4v2.4h-2.4zM539.5 367.8h2.4v2.4h-2.4zM251.3 363.6h2.4v2.4h-2.4zM828.3 358.2h2.4v2.4h-2.4zM405.0 360.3h2.4v2.4h-2.4zM320.4 372.4h2.4v2.4h-2.4zM466.1 379.4h2.4v2.4h-2.4zM680.9 374.8h2.4v2.4h-2.4zM292.0 363.9h2.4v2.4h-2.4zM573.8 372.8h2.4v2.4h-2.4zM755.8 367.7h2.4v2.4h-2.4zM212.5 362.2h2.4v2.4h-2.4zM311.1 362.3h2.4v2.4h-2.4zM620.6 372.8h2.4v2.4h-2.4zM438.3 373.1h2.4v2.4h-2.4zM374.2 368.8h2.4v2.4h-2.4zM647.9 362.5h2.4v2.4h-2.4zM437.4 373.3h2.4v2.4h-2.4zM318.8 379.0h2.4v2.4h-2.4zM577.0 368.9h2.4v2.4h-2.4zM174.3 363.8h2.4v2.4h-2.4zM734.8 359.2h2.4v2.4h-2.4zM499.5 362.0h2.4v2.4h-2.4zM325.7 371.3h2.4v2.4h-2.4zM678.6 361.6h2.4v2.4h-2.4zM463.4 376.6h2.4v2.4h-2.4zM778.8 363.8h2.4v2.4h-2.4zM754.5 362.0h2.4v2.4h-2.4zM644.5 383.3h2.4v2.4h-2.4zM404.4 363.5h2.4v2.4h-2.4zM134.5 364.3h2.4v2.4h-2.4zM579.3 366.5h2.4v2.4h-2.4zM380.4 378.3h2.4v2.4h-2.4zM496.1 361.4h2.4v2.4h-2.4zM231.4 371.3h2.4v2.4h-2.4zM566.9 365.0h2.4v2.4h-2.4zM287.9 367.1h2.4v2.4h-2.4zM493.4 369.9h2.4v2.4h-2.4zM643.3 363.5h2.4v2.4h-2.4zM436.4 378.3h2.4v2.4h-2.4zM309.3 360.0h2.4v2.4h-2.4zM274.8 369.9h2.4v2.4h-2.4zM353.6 359.4h2.4v2.4h-2.4zM785.5 357.6h2.4v2.4h-2.4zM243.0 367.5h2.4v2.4h-2.4zM518.4 365.0h2.4v2.4h-2.4zM742.0 365.7h2.4v2.4h-2.4z"/><path stroke="#4ebc8c" d="M373.4 375.4h2.4v2.4h-2.4zM358.1 368.7h2.4v2.4h-2.4zM829.4 352.7h2.4v2.4h-2.4zM177.7 364.3h2.4v2.4h-2.4zM807.3 350.9h2.4v2.4h-2.4zM808.2 354.4h2.4v2.4h-2.4zM229.5 345.2h2.4v2.4h-2.4zM301.9 360.4h2.4v2.4h-2.4zM268.5 355.5h2.4v2.4h-2.4zM270.0 355.4h2.4v2.4h-2.4zM742.2 361.2h2.4v2.4h-2.4zM311.3 355.7h2.4v2.4h-2.4zM866.7 341.5h2.4v2.4h-2.4zM867.9 365.7h2.4v2.4h-2.4zM120.6 354.4h2.4v2.4h-2.4zM899.3 353.5h2.4v2.4h-2.4zM142.7 355.0h2.4v2.4h-2.4zM869.3 354.3h2.4v2.4h-2.4zM917.9 347.0h2.4v2.4h-2.4zM309.1 368.9h2.4v2.4h-2.4zM713.9 366.7h2.4v2.4h-2.4zM411.9 378.5h2.4v2.4h-2.4zM941.6 347.0h2.4v2.4h-2.4zM401.6 375.2h2.4v2.4h-2.4zM896.7 352.7h2.4v2.4h-2.4zM928.8 345.1h2.4v2.4h-2.4zM138.5 343.5h2.4v2.4h-2.4zM861.0 355.8h2.4v2.4h-2.4zM613.8 376.9h2.4v2.4h-2.4zM862.1 355.5h2.4v2.4h-2.4zM842.4 354.4h2.4v2.4h-2.4zM879.9 354.0h2.4v2.4h-2.4zM494.5 378.0h2.4v2.4h-2.4zM787.8 345.6h2.4v2.4h-2.4zM854.8 350.7h2.4v2.4h-2.4zM123.9 361.2h2.4v2.4h-2.4zM209.7 357.1h2.4v2.4h-2.4zM684.5 379.9h2.4v2.4h-2.4zM571.6 386.7h2.4v2.4h-2.4zM246.6 357.5h2.4v2.4h-2.4zM228.0 359.7h2.4v2.4h-2.4zM619.1 383.1h2.4v2.4h-2.4zM406.8 371.7h2.4v2.4h-2.4zM839.7 366.1h2.4v2.4h-2.4zM284.1 365.5h2.4v2.4h-2.4zM935.6 351.0h2.4v2.4h-2.4zM235.4 352.6h2.4v2.4h-2.4zM433.4 358.2h2.4v2.4h-2.4zM456.1 363.9h2.4v2.4h-2.4zM481.3 382.5h2.4v2.4h-2.4zM521.1 377.9h2.4v2.4h-2.4zM244.0 349.1h2.4v2.4h-2.4zM741.1 355.3h2.4v2.4h-2.4zM934.8 351.2h2.4v2.4h-2.4zM230.9 353.6h2.4v2.4h-2.4zM884.9 350.7h2.4v2.4h-2.4zM267.1 352.0h2.4v2.4h-2.4zM698.2 363.8h2.4v2.4h-2.4zM857.9 346.6h2.4v2.4h-2.4zM726.9 360.6h2.4v2.4h-2.4zM144.0 347.4h2.4v2.4h-2.4zM284.2 357.6h2.4v2.4h-2.4zM323.8 362.0h2.4v2.4h-2.4zM148.7 351.1h2.4v2.4h-2.4zM478.9 386.6h2.4v2.4h-2.4zM115.4 349.7h2.4v2.4h-2.4zM549.3 380.5h2.4v2.4h-2.4zM790.9 365.4h2.4v2.4h-2.4zM921.9 353.4h2.4v2.4h-2.4zM447.7 368.5h2.4v2.4h-2.4zM301.9 357.6h2.4v2.4h-2.4zM361.7 382.0h2.4v2.4h-2.4zM640.6 374.1h2.4v2.4h-2.4zM131.8 354.7h2.4v2.4h-2.4zM858.3 352.4h2.4v2.4h-2.4zM885.7 347.7h2.4v2.4h-2.4zM318.5 358.6h2.4v2.4h-2.4zM564.5 377.9h2.4v2.4h-2.4zM359.9 368.3h2.4v2.4h-2.4zM908.9 358.3h2.4v2.4h-2.4zM509.8 382.8h2.4v2.4h-2.4zM765.1 359.6h2.4v2.4h-2.4zM908.9 342.6h2.4v2.4h-2.4zM845.1 351.1h2.4v2.4h-2.4zM235.9 363.3h2.4v2.4h-2.4zM352.7 352.8h2.4v2.4h-2.4zM188.8 351.9h2.4v2.4h-2.4zM225.3 353.1h2.4v2.4h-2.4zM354.8 356.6h2.4v2.4h-2.4zM731.9 367.3h2.4v2.4h-2.4zM498.5 370.8h2.4v2.4h-2.4zM420.7 391.5h2.4v2.4h-2.4zM834.8 360.2h2.4v2.4h-2.4zM473.0 394.5h2.4v2.4h-2.4zM419.1 383.8h2.4v2.4h-2.4zM529.0 389.0h2.4v2.4h-2.4zM829.0 353.8h2.4v2.4h-2.4zM147.1 344.2h2.4v2.4h-2.4zM764.9 363.9h2.4v2.4h-2.4zM438.3 373.5h2.4v2.4h-2.4zM836.3 356.4h2.4v2.4h-2.4zM741.0 352.1h2.4v2.4h-2.4zM773.1 356.4h2.4v2.4h-2.4zM713.8 375.5h2.4v2.4h-2.4zM118.4 349.0h2.4v2.4h-2.4zM630.2 379.0h2.4v2.4h-2.4zM432.1 379.9h2.4v2.4h-2.4zM231.2 355.8h2.4v2.4h-2.4zM831.5 357.1h2.4v2.4h-2.4zM445.2 369.9h2.4v2.4h-2.4zM160.0 354.1h2.4v2.4h-2.4zM654.7 366.5h2.4v2.4h-2.4zM262.7 357.7h2.4v2.4h-2.4zM291.5 374.6h2.4v2.4h-2.4zM894.5 347.0h2.4v2.4h-2.4zM724.3 356.4h2.4v2.4h-2.4zM140.4 358.8h2.4v2.4h-2.4zM166.2 351.1h2.4v2.4h-2.4zM689.7 362.0h2.4v2.4h-2.4zM893.0 350.9h2.4v2.4h-2.4zM872.7 346.7h2.4v2.4h-2.4zM162.8 359.0h2.4v2.4h-2.4zM742.7 364.1h2.4v2.4h-2.4zM903.3 354.4h2.4v2.4h-2.4zM116.5 361.0h2.4v2.4h-2.4zM501.5 365.1h2.4v2.4h-2.4zM790.0 361.8h2.4v2.4h-2.4zM884.2 356.1h2.4v2.4h-2.4zM315.3 354.8h2.4v2.4h-2.4zM675.6 356.3h2.4v2.4h-2.4zM908.8 348.4h2.4v2.4h-2.4zM912.6 351.6h2.4v2.4h-2.4zM923.5 348.7h2.4v2.4h-2.4zM287.3 354.4h2.4v2.4h-2.4zM838.5 351.9h2.4v2.4h-2.4zM423.0 371.2h2.4v2.4h-2.4zM131.5 354.2h2.4v2.4h-2.4zM257.0 357.8h2.4v2.4h-2.4zM214.9 359.4h2.4v2.4h-2.4zM892.0 355.0h2.4v2.4h-2.4zM814.2 358.0h2.4v2.4h-2.4zM161.0 356.7h2.4v2.4h-2.4zM167.9 348.0h2.4v2.4h-2.4zM539.9 380.3h2.4v2.4h-2.4zM924.6 351.8h2.4v2.4h-2.4zM688.4 364.2h2.4v2.4h-2.4zM909.2 346.6h2.4v2.4h-2.4zM718.4 379.3h2.4v2.4h-2.4zM185.7 356.2h2.4v2.4h-2.4zM143.9 346.1h2.4v2.4h-2.4zM230.2 359.6h2.4v2.4h-2.4zM822.1 358.7h2.4v2.4h-2.4zM184.1 361.0h2.4v2.4h-2.4zM137.8 345.4h2.4v2.4h-2.4zM878.0 349.7h2.4v2.4h-2.4zM643.6 374.8h2.4v2.4h-2.4zM521.1 370.3h2.4v2.4h-2.4zM299.9 365.2h2.4v2.4h-2.4zM426.3 372.1h2.4v2.4h-2.4zM216.5 355.2h2.4v2.4h-2.4zM755.9 361.0h2.4v2.4h-2.4zM770.7 358.7h2.4v2.4h-2.4zM341.4 362.2h2.4v2.4h-2.4zM922.8 342.2h2.4v2.4h-2.4zM715.7 350.3h2.4v2.4h-2.4zM916.1 345.4h2.4v2.4h-2.4zM858.6 354.0h2.4v2.4h-2.4zM625.6 362.5h2.4v2.4h-2.4zM814.1 353.9h2.4v2.4h-2.4zM165.8 351.8h2.4v2.4h-2.4zM913.7 350.7h2.4v2.4h-2.4zM213.9 353.2h2.4v2.4h-2.4zM666.8 369.1h2.4v2.4h-2.4zM804.8 357.4h2.4v2.4h-2.4zM424.6 386.9h2.4v2.4h-2.4zM709.5 354.3h2.4v2.4h-2.4zM130.8 356.0h2.4v2.4h-2.4zM336.8 357.8h2.4v2.4h-2.4zM742.5 351.5h2.4v2.4h-2.4zM718.1 363.4h2.4v2.4h-2.4zM910.7 349.5h2.4v2.4h-2.4zM876.2 357.0h2.4v2.4h-2.4zM408.3 370.1h2.4v2.4h-2.4zM115.2 345.6h2.4v2.4h-2.4zM536.0 370.0h2.4v2.4h-2.4zM145.2 344.8h2.4v2.4h-2.4zM301.7 359.4h2.4v2.4h-2.4zM864.5 352.0h2.4v2.4h-2.4zM772.2 351.0h2.4v2.4h-2.4zM942.8 350.0h2.4v2.4h-2.4zM783.3 364.1h2.4v2.4h-2.4zM738.5 358.3h2.4v2.4h-2.4zM248.7 361.3h2.4v2.4h-2.4zM768.2 362.3h2.4v2.4h-2.4zM810.9 351.1h2.4v2.4h-2.4zM805.2 360.8h2.4v2.4h-2.4zM737.3 352.5h2.4v2.4h-2.4zM861.2 356.4h2.4v2.4h-2.4zM828.3 352.5h2.4v2.4h-2.4zM712.4 370.4h2.4v2.4h-2.4zM132.8 354.1h2.4v2.4h-2.4zM662.6 368.3h2.4v2.4h-2.4zM844.7 362.5h2.4v2.4h-2.4zM581.1 375.2h2.4v2.4h-2.4zM873.4 356.6h2.4v2.4h-2.4zM167.2 355.8h2.4v2.4h-2.4zM146.3 356.2h2.4v2.4h-2.4zM313.3 363.7h2.4v2.4h-2.4zM726.0 368.0h2.4v2.4h-2.4zM328.1 367.1h2.4v2.4h-2.4zM861.8 350.0h2.4v2.4h-2.4zM682.8 371.3h2.4v2.4h-2.4zM372.1 375.7h2.4v2.4h-2.4zM855.5 343.9h2.4v2.4h-2.4zM386.0 372.5h2.4v2.4h-2.4zM620.8 368.5h2.4v2.4h-2.4zM904.2 354.2h2.4v2.4h-2.4zM748.0 367.8h2.4v2.4h-2.4zM518.4 374.9h2.4v2.4h-2.4zM202.6 350.1h2.4v2.4h-2.4zM203.7 352.3h2.4v2.4h-2.4zM231.4 359.0h2.4v2.4h-2.4zM813.6 346.4h2.4v2.4h-2.4zM231.9 352.8h2.4v2.4h-2.4zM580.3 377.7h2.4v2.4h-2.4zM226.4 358.0h2.4v2.4h-2.4zM129.7 352.9h2.4v2.4h-2.4zM376.3 371.5h2.4v2.4h-2.4zM152.5 349.8h2.4v2.4h-2.4zM384.9 373.3h2.4v2.4h-2.4zM255.3 350.9h2.4v2.4h-2.4zM442.6 379.7h2.4v2.4h-2.4zM394.5 355.3h2.4v2.4h-2.4zM292.0 360.4h2.4v2.4h-2.4zM620.6 380.5h2.4v2.4h-2.4zM696.7 365.6h2.4v2.4h-2.4zM780.7 365.0h2.4v2.4h-2.4zM634.3 368.1h2.4v2.4h-2.4zM201.6 344.6h2.4v2.4h-2.4zM869.2 352.1h2.4v2.4h-2.4zM190.1 360.3h2.4v2.4h-2.4zM707.3 364.8h2.4v2.4h-2.4zM217.3 356.1h2.4v2.4h-2.4zM467.7 382.9h2.4v2.4h-2.4zM355.8 369.0h2.4v2.4h-2.4zM199.4 353.7h2.4v2.4h-2.4zM707.5 370.5h2.4v2.4h-2.4zM691.8 378.6h2.4v2.4h-2.4zM499.8 366.0h2.4v2.4h-2.4zM309.7 363.1h2.4v2.4h-2.4zM173.8 343.6h2.4v2.4h-2.4zM360.4 367.4h2.4v2.4h-2.4zM269.2 360.3h2.4v2.4h-2.4zM407.4 368.9h2.4v2.4h-2.4zM485.4 379.7h2.4v2.4h-2.4zM142.6 347.9h2.4v2.4h-2.4zM477.8 363.1h2.4v2.4h-2.4zM468.3 360.4h2.4v2.4h-2.4zM420.2 373.9h2.4v2.4h-2.4zM909.9 357.7h2.4v2.4h-2.4zM853.0 350.8h2.4v2.4h-2.4zM238.5 362.6h2.4v2.4h-2.4zM225.7 358.7h2.4v2.4h-2.4zM242.2 365.4h2.4v2.4h-2.4zM639.4 366.1h2.4v2.4h-2.4zM365.4 359.0h2.4v2.4h-2.4zM496.9 374.7h2.4v2.4h-2.4zM297.0 364.1h2.4v2.4h-2.4zM941.7 346.4h2.4v2.4h-2.4zM678.3 375.4h2.4v2.4h-2.4zM720.5 362.1h2.4v2.4h-2.4zM240.3 350.8h2.4v2.4h-2.4zM114.8 350.8h2.4v2.4h-2.4zM850.4 354.3h2.4v2.4h-2.4zM415.6 368.9h2.4v2.4h-2.4zM845.6 352.7h2.4v2.4h-2.4zM178.9 355.4h2.4v2.4h-2.4zM123.5 356.3h2.4v2.4h-2.4zM187.6 348.8h2.4v2.4h-2.4zM922.1 346.5h2.4v2.4h-2.4zM799.1 352.3h2.4v2.4h-2.4zM610.0 382.5h2.4v2.4h-2.4zM710.4 355.8h2.4v2.4h-2.4zM256.9 359.0h2.4v2.4h-2.4zM530.0 382.3h2.4v2.4h-2.4zM134.9 347.1h2.4v2.4h-2.4zM597.8 374.0h2.4v2.4h-2.4zM762.4 353.0h2.4v2.4h-2.4zM931.4 347.3h2.4v2.4h-2.4zM462.0 364.6h2.4v2.4h-2.4zM887.6 349.2h2.4v2.4h-2.4zM915.4 346.9h2.4v2.4h-2.4zM256.8 364.5h2.4v2.4h-2.4zM274.4 354.8h2.4v2.4h-2.4zM373.2 361.1h2.4v2.4h-2.4zM507.3 374.6h2.4v2.4h-2.4zM863.1 350.9h2.4v2.4h-2.4zM722.8 352.0h2.4v2.4h-2.4zM473.7 387.9h2.4v2.4h-2.4zM131.4 349.6h2.4v2.4h-2.4zM323.8 362.5h2.4v2.4h-2.4zM307.6 364.3h2.4v2.4h-2.4zM390.2 371.4h2.4v2.4h-2.4zM640.9 382.0h2.4v2.4h-2.4zM824.1 351.7h2.4v2.4h-2.4zM819.6 355.9h2.4v2.4h-2.4zM339.1 355.6h2.4v2.4h-2.4zM779.4 358.2h2.4v2.4h-2.4zM905.0 355.6h2.4v2.4h-2.4zM611.4 357.1h2.4v2.4h-2.4zM232.1 352.4h2.4v2.4h-2.4zM793.1 358.3h2.4v2.4h-2.4zM234.6 358.9h2.4v2.4h-2.4zM656.7 375.0h2.4v2.4h-2.4zM141.4 354.8h2.4v2.4h-2.4zM931.9 351.4h2.4v2.4h-2.4zM925.6 351.1h2.4v2.4h-2.4zM147.5 349.9h2.4v2.4h-2.4zM719.9 370.6h2.4v2.4h-2.4zM260.4 355.2h2.4v2.4h-2.4zM800.8 352.3h2.4v2.4h-2.4zM218.1 350.6h2.4v2.4h-2.4zM786.2 362.2h2.4v2.4h-2.4zM939.9 353.2h2.4v2.4h-2.4zM449.0 380.6h2.4v2.4h-2.4zM291.5 370.2h2.4v2.4h-2.4zM169.9 350.9h2.4v2.4h-2.4zM346.2 366.1h2.4v2.4h-2.4zM199.4 355.4h2.4v2.4h-2.4zM657.4 365.4h2.4v2.4h-2.4zM376.6 380.1h2.4v2.4h-2.4zM387.1 369.0h2.4v2.4h-2.4zM896.0 355.8h2.4v2.4h-2.4zM906.3 351.2h2.4v2.4h-2.4zM822.3 355.3h2.4v2.4h-2.4zM258.2 361.0h2.4v2.4h-2.4zM127.7 346.7h2.4v2.4h-2.4zM802.8 350.7h2.4v2.4h-2.4zM125.2 360.4h2.4v2.4h-2.4zM388.7 364.9h2.4v2.4h-2.4zM299.6 360.0h2.4v2.4h-2.4zM237.3 354.5h2.4v2.4h-2.4zM192.6 353.5h2.4v2.4h-2.4zM524.2 374.2h2.4v2.4h-2.4zM505.6 380.5h2.4v2.4h-2.4zM182.1 352.1h2.4v2.4h-2.4zM624.7 369.2h2.4v2.4h-2.4zM854.8 355.7h2.4v2.4h-2.4zM885.4 349.0h2.4v2.4h-2.4zM181.5 345.2h2.4v2.4h-2.4zM777.1 354.3h2.4v2.4h-2.4zM845.5 351.1h2.4v2.4h-2.4zM294.2 365.4h2.4v2.4h-2.4zM428.6 356.2h2.4v2.4h-2.4zM818.6 368.3h2.4v2.4h-2.4zM121.7 355.6h2.4v2.4h-2.4zM744.5 356.2h2.4v2.4h-2.4zM367.0 365.6h2.4v2.4h-2.4zM555.2 375.4h2.4v2.4h-2.4zM236.2 366.6h2.4v2.4h-2.4zM605.4 365.1h2.4v2.4h-2.4zM441.7 370.9h2.4v2.4h-2.4zM645.0 381.3h2.4v2.4h-2.4zM189.3 351.9h2.4v2.4h-2.4zM624.7 374.5h2.4v2.4h-2.4zM386.2 357.0h2.4v2.4h-2.4zM174.6 353.9h2.4v2.4h-2.4zM868.1 357.8h2.4v2.4h-2.4zM266.1 362.3h2.4v2.4h-2.4zM348.8 367.1h2.4v2.4h-2.4zM252.8 358.6h2.4v2.4h-2.4zM201.2 343.1h2.4v2.4h-2.4zM943.9 348.5h2.4v2.4h-2.4zM294.2 349.5h2.4v2.4h-2.4zM899.7 353.1h2.4v2.4h-2.4zM876.8 348.3h2.4v2.4h-2.4zM708.1 369.7h2.4v2.4h-2.4zM339.3 361.6h2.4v2.4h-2.4zM158.6 357.6h2.4v2.4h-2.4zM221.7 355.9h2.4v2.4h-2.4zM164.4 351.2h2.4v2.4h-2.4zM920.5 340.4h2.4v2.4h-2.4zM180.2 345.3h2.4v2.4h-2.4zM189.1 355.3h2.4v2.4h-2.4zM339.4 358.8h2.4v2.4h-2.4zM169.4 361.8h2.4v2.4h-2.4zM751.2 361.2h2.4v2.4h-2.4zM209.7 347.1h2.4v2.4h-2.4zM767.5 364.0h2.4v2.4h-2.4zM292.7 356.1h2.4v2.4h-2.4zM706.8 369.0h2.4v2.4h-2.4zM679.1 371.9h2.4v2.4h-2.4zM388.3 360.8h2.4v2.4h-2.4zM691.9 374.0h2.4v2.4h-2.4zM398.1 370.7h2.4v2.4h-2.4zM818.1 348.0h2.4v2.4h-2.4zM342.1 369.4h2.4v2.4h-2.4zM880.6 350.4h2.4v2.4h-2.4zM872.6 354.0h2.4v2.4h-2.4zM190.2 354.8h2.4v2.4h-2.4zM240.9 356.2h2.4v2.4h-2.4zM632.8 360.8h2.4v2.4h-2.4zM376.1 352.8h2.4v2.4h-2.4zM670.0 362.5h2.4v2.4h-2.4zM154.9 358.2h2.4v2.4h-2.4zM698.3 365.3h2.4v2.4h-2.4zM350.5 359.3h2.4v2.4h-2.4zM810.9 365.6h2.4v2.4h-2.4zM235.6 353.1h2.4v2.4h-2.4zM222.4 350.9h2.4v2.4h-2.4zM717.0 368.2h2.4v2.4h-2.4zM324.8 364.1h2.4v2.4h-2.4zM549.0 370.1h2.4v2.4h-2.4zM936.6 351.7h2.4v2.4h-2.4zM580.3 384.3h2.4v2.4h-2.4zM239.9 358.3h2.4v2.4h-2.4zM785.0 358.7h2.4v2.4h-2.4zM378.7 367.6h2.4v2.4h-2.4zM207.6 358.7h2.4v2.4h-2.4zM799.4 362.9h2.4v2.4h-2.4zM936.1 346.3h2.4v2.4h-2.4zM359.5 362.5h2.4v2.4h-2.4zM779.5 359.2h2.4v2.4h-2.4zM839.9 349.2h2.4v2.4h-2.4zM414.0 362.4h2.4v2.4h-2.4zM421.4 358.2h2.4v2.4h-2.4zM899.4 362.8h2.4v2.4h-2.4zM242.9 357.6h2.4v2.4h-2.4zM241.1 360.2h2.4v2.4h-2.4zM338.8 367.5h2.4v2.4h-2.4zM625.3 388.3h2.4v2.4h-2.4zM523.3 366.4h2.4v2.4h-2.4zM180.7 358.4h2.4v2.4h-2.4zM850.7 339.6h2.4v2.4h-2.4zM430.7 391.0h2.4v2.4h-2.4zM892.5 353.3h2.4v2.4h-2.4zM151.0 345.7h2.4v2.4h-2.4zM291.5 356.4h2.4v2.4h-2.4zM591.4 371.0h2.4v2.4h-2.4zM187.4 354.6h2.4v2.4h-2.4zM140.0 351.8h2.4v2.4h-2.4zM261.1 358.1h2.4v2.4h-2.4zM383.6 371.0h2.4v2.4h-2.4zM219.4 350.9h2.4v2.4h-2.4zM227.3 351.9h2.4v2.4h-2.4zM239.9 346.6h2.4v2.4h-2.4zM316.8 364.2h2.4v2.4h-2.4zM118.2 364.9h2.4v2.4h-2.4zM270.5 351.2h2.4v2.4h-2.4zM358.7 364.1h2.4v2.4h-2.4zM863.9 347.7h2.4v2.4h-2.4zM665.5 360.5h2.4v2.4h-2.4zM150.1 355.3h2.4v2.4h-2.4zM598.5 370.9h2.4v2.4h-2.4zM282.8 353.1h2.4v2.4h-2.4zM837.1 351.2h2.4v2.4h-2.4zM268.4 358.0h2.4v2.4h-2.4zM258.1 353.3h2.4v2.4h-2.4zM159.8 348.5h2.4v2.4h-2.4zM884.5 353.0h2.4v2.4h-2.4zM309.7 361.3h2.4v2.4h-2.4zM941.4 352.9h2.4v2.4h-2.4zM338.9 371.5h2.4v2.4h-2.4zM134.2 354.3h2.4v2.4h-2.4zM779.4 367.8h2.4v2.4h-2.4zM795.7 351.4h2.4v2.4h-2.4zM297.9 364.9h2.4v2.4h-2.4zM814.9 355.4h2.4v2.4h-2.4zM225.7 352.1h2.4v2.4h-2.4zM186.8 349.4h2.4v2.4h-2.4zM905.4 347.5h2.4v2.4h-2.4zM335.7 368.6h2.4v2.4h-2.4zM244.4 355.8h2.4v2.4h-2.4zM723.0 353.1h2.4v2.4h-2.4zM889.0 343.3h2.4v2.4h-2.4zM733.6 362.0h2.4v2.4h-2.4zM796.7 357.0h2.4v2.4h-2.4zM239.9 353.2h2.4v2.4h-2.4zM723.6 368.4h2.4v2.4h-2.4zM124.7 347.0h2.4v2.4h-2.4zM143.4 348.3h2.4v2.4h-2.4zM554.3 371.4h2.4v2.4h-2.4zM176.5 349.3h2.4v2.4h-2.4zM740.1 364.6h2.4v2.4h-2.4zM618.1 382.0h2.4v2.4h-2.4zM207.0 361.4h2.4v2.4h-2.4zM175.4 339.9h2.4v2.4h-2.4zM183.9 348.3h2.4v2.4h-2.4zM488.4 350.4h2.4v2.4h-2.4zM590.9 370.8h2.4v2.4h-2.4zM411.1 386.0h2.4v2.4h-2.4zM418.3 377.8h2.4v2.4h-2.4zM715.0 346.9h2.4v2.4h-2.4zM933.8 353.6h2.4v2.4h-2.4zM688.2 360.8h2.4v2.4h-2.4zM863.5 346.2h2.4v2.4h-2.4zM233.2 354.3h2.4v2.4h-2.4zM298.8 360.9h2.4v2.4h-2.4zM118.7 346.5h2.4v2.4h-2.4zM423.6 380.0h2.4v2.4h-2.4zM185.7 347.6h2.4v2.4h-2.4zM868.8 361.2h2.4v2.4h-2.4zM834.8 350.3h2.4v2.4h-2.4zM163.0 350.4h2.4v2.4h-2.4zM897.0 350.7h2.4v2.4h-2.4zM801.7 357.3h2.4v2.4h-2.4zM570.3 374.6h2.4v2.4h-2.4zM253.5 356.0h2.4v2.4h-2.4zM811.6 356.7h2.4v2.4h-2.4zM133.5 350.0h2.4v2.4h-2.4zM206.4 366.3h2.4v2.4h-2.4zM326.9 353.0h2.4v2.4h-2.4zM644.8 370.1h2.4v2.4h-2.4zM399.8 370.1h2.4v2.4h-2.4zM734.3 351.9h2.4v2.4h-2.4zM153.1 349.6h2.4v2.4h-2.4zM849.4 356.3h2.4v2.4h-2.4zM699.7 360.2h2.4v2.4h-2.4zM637.4 378.0h2.4v2.4h-2.4zM927.7 354.5h2.4v2.4h-2.4zM298.8 363.0h2.4v2.4h-2.4zM247.4 351.6h2.4v2.4h-2.4zM827.6 363.6h2.4v2.4h-2.4zM759.2 370.4h2.4v2.4h-2.4zM639.7 378.6h2.4v2.4h-2.4zM254.5 367.1h2.4v2.4h-2.4zM121.6 357.7h2.4v2.4h-2.4zM538.8 371.7h2.4v2.4h-2.4zM763.6 357.6h2.4v2.4h-2.4zM148.3 347.9h2.4v2.4h-2.4zM913.0 352.9h2.4v2.4h-2.4zM438.2 367.4h2.4v2.4h-2.4zM227.8 353.7h2.4v2.4h-2.4zM763.0 354.9h2.4v2.4h-2.4zM941.0 345.6h2.4v2.4h-2.4zM290.7 348.9h2.4v2.4h-2.4zM924.4 349.8h2.4v2.4h-2.4zM916.4 356.6h2.4v2.4h-2.4zM678.1 367.6h2.4v2.4h-2.4zM295.1 361.0h2.4v2.4h-2.4zM780.1 362.1h2.4v2.4h-2.4zM286.5 362.0h2.4v2.4h-2.4zM815.4 356.0h2.4v2.4h-2.4zM869.7 354.4h2.4v2.4h-2.4zM473.7 374.3h2.4v2.4h-2.4zM138.8 343.8h2.4v2.4h-2.4zM717.2 364.0h2.4v2.4h-2.4zM312.7 361.5h2.4v2.4h-2.4zM763.0 365.8h2.4v2.4h-2.4zM715.0 358.0h2.4v2.4h-2.4zM148.2 359.2h2.4v2.4h-2.4zM625.6 376.4h2.4v2.4h-2.4zM134.9 351.3h2.4v2.4h-2.4zM745.2 356.0h2.4v2.4h-2.4zM153.4 358.1h2.4v2.4h-2.4zM166.7 358.9h2.4v2.4h-2.4zM305.6 363.6h2.4v2.4h-2.4zM117.4 354.7h2.4v2.4h-2.4zM200.6 345.6h2.4v2.4h-2.4zM653.2 369.2h2.4v2.4h-2.4zM837.9 356.4h2.4v2.4h-2.4zM750.2 367.1h2.4v2.4h-2.4zM136.0 351.4h2.4v2.4h-2.4zM637.7 381.5h2.4v2.4h-2.4zM836.9 352.1h2.4v2.4h-2.4zM231.2 358.9h2.4v2.4h-2.4zM876.9 337.2h2.4v2.4h-2.4zM209.3 354.2h2.4v2.4h-2.4zM937.4 354.7h2.4v2.4h-2.4zM304.2 370.3h2.4v2.4h-2.4zM943.2 348.4h2.4v2.4h-2.4zM143.8 349.4h2.4v2.4h-2.4zM278.5 358.9h2.4v2.4h-2.4zM721.8 359.8h2.4v2.4h-2.4zM643.0 387.3h2.4v2.4h-2.4zM676.9 378.3h2.4v2.4h-2.4zM760.6 359.8h2.4v2.4h-2.4zM365.0 356.7h2.4v2.4h-2.4zM940.4 348.3h2.4v2.4h-2.4zM360.8 370.0h2.4v2.4h-2.4zM243.0 354.3h2.4v2.4h-2.4zM150.9 349.5h2.4v2.4h-2.4zM372.0 374.7h2.4v2.4h-2.4zM363.4 355.4h2.4v2.4h-2.4zM125.4 350.7h2.4v2.4h-2.4zM874.7 353.0h2.4v2.4h-2.4zM152.3 350.4h2.4v2.4h-2.4zM939.2 352.6h2.4v2.4h-2.4zM478.4 362.0h2.4v2.4h-2.4zM772.7 358.9h2.4v2.4h-2.4zM299.2 359.9h2.4v2.4h-2.4zM187.3 352.3h2.4v2.4h-2.4zM187.8 352.2h2.4v2.4h-2.4zM143.6 347.6h2.4v2.4h-2.4zM263.2 348.7h2.4v2.4h-2.4zM838.6 349.2h2.4v2.4h-2.4zM780.9 355.9h2.4v2.4h-2.4zM707.9 368.6h2.4v2.4h-2.4zM696.3 360.6h2.4v2.4h-2.4zM806.4 354.6h2.4v2.4h-2.4zM237.8 353.1h2.4v2.4h-2.4zM697.8 359.5h2.4v2.4h-2.4zM824.5 358.8h2.4v2.4h-2.4zM119.8 349.5h2.4v2.4h-2.4zM593.1 375.9h2.4v2.4h-2.4zM151.8 350.9h2.4v2.4h-2.4zM267.5 355.2h2.4v2.4h-2.4zM216.1 346.0h2.4v2.4h-2.4zM900.5 347.4h2.4v2.4h-2.4zM827.6 349.6h2.4v2.4h-2.4zM701.1 366.8h2.4v2.4h-2.4zM213.0 356.4h2.4v2.4h-2.4zM752.9 359.8h2.4v2.4h-2.4zM137.6 357.1h2.4v2.4h-2.4zM142.3 353.7h2.4v2.4h-2.4zM636.4 376.3h2.4v2.4h-2.4zM396.3 371.9h2.4v2.4h-2.4zM826.8 358.2h2.4v2.4h-2.4zM740.7 362.6h2.4v2.4h-2.4zM729.1 359.4h2.4v2.4h-2.4zM272.8 354.0h2.4v2.4h-2.4zM231.0 362.0h2.4v2.4h-2.4zM862.9 354.2h2.4v2.4h-2.4zM156.9 351.6h2.4v2.4h-2.4zM140.8 359.5h2.4v2.4h-2.4zM215.2 350.7h2.4v2.4h-2.4zM326.1 364.9h2.4v2.4h-2.4zM798.1 365.9h2.4v2.4h-2.4zM139.1 355.0h2.4v2.4h-2.4zM323.9 368.8h2.4v2.4h-2.4zM249.2 358.2h2.4v2.4h-2.4zM672.2 356.9h2.4v2.4h-2.4zM120.4 351.8h2.4v2.4h-2.4zM416.3 373.8h2.4v2.4h-2.4zM151.6 350.8h2.4v2.4h-2.4zM634.1 388.5h2.4v2.4h-2.4zM925.8 349.3h2.4v2.4h-2.4zM731.9 357.7h2.4v2.4h-2.4zM273.7 361.6h2.4v2.4h-2.4zM271.7 357.3h2.4v2.4h-2.4zM818.3 357.2h2.4v2.4h-2.4zM341.3 357.1h2.4v2.4h-2.4zM521.5 383.7h2.4v2.4h-2.4zM842.4 356.3h2.4v2.4h-2.4zM860.2 354.6h2.4v2.4h-2.4zM277.4 360.2h2.4v2.4h-2.4zM117.6 353.3h2.4v2.4h-2.4zM636.4 370.6h2.4v2.4h-2.4zM660.6 370.9h2.4v2.4h-2.4zM310.2 361.3h2.4v2.4h-2.4zM260.1 365.6h2.4v2.4h-2.4zM659.5 366.1h2.4v2.4h-2.4zM665.6 371.1h2.4v2.4h-2.4zM812.0 355.0h2.4v2.4h-2.4zM457.2 365.3h2.4v2.4h-2.4zM225.5 355.7h2.4v2.4h-2.4zM266.3 366.4h2.4v2.4h-2.4zM894.2 346.4h2.4v2.4h-2.4zM708.8 358.9h2.4v2.4h-2.4zM136.2 349.2h2.4v2.4h-2.4zM179.1 355.5h2.4v2.4h-2.4zM308.5 365.9h2.4v2.4h-2.4zM714.2 380.6h2.4v2.4h-2.4zM779.5 353.4h2.4v2.4h-2.4zM174.0 355.0h2.4v2.4h-2.4zM404.5 382.2h2.4v2.4h-2.4zM865.0 345.7h2.4v2.4h-2.4zM893.0 354.0h2.4v2.4h-2.4zM696.8 362.7h2.4v2.4h-2.4zM657.2 372.2h2.4v2.4h-2.4zM285.3 367.5h2.4v2.4h-2.4zM820.1 359.7h2.4v2.4h-2.4zM402.4 367.1h2.4v2.4h-2.4zM693.1 357.0h2.4v2.4h-2.4zM348.8 361.4h2.4v2.4h-2.4zM332.5 356.2h2.4v2.4h-2.4zM142.6 351.9h2.4v2.4h-2.4zM261.0 360.7h2.4v2.4h-2.4zM293.2 357.2h2.4v2.4h-2.4zM905.2 349.5h2.4v2.4h-2.4zM211.5 359.2h2.4v2.4h-2.4zM773.5 358.5h2.4v2.4h-2.4zM758.5 363.6h2.4v2.4h-2.4zM798.9 358.3h2.4v2.4h-2.4zM197.5 360.1h2.4v2.4h-2.4zM650.9 358.6h2.4v2.4h-2.4zM200.4 346.0h2.4v2.4h-2.4zM122.6 354.4h2.4v2.4h-2.4zM454.9 369.5h2.4v2.4h-2.4zM386.3 363.5h2.4v2.4h-2.4zM548.1 386.7h2.4v2.4h-2.4zM283.5 355.9h2.4v2.4h-2.4z"/><path stroke="#fac435" d="M457.1 371.7h2.4v2.4h-2.4zM522.2 365.8h2.4v2.4h-2.4zM866.8 361.2h2.4v2.4h-2.4zM921.3 362.2h2.4v2.4h-2.4zM633.2 376.2h2.4v2.4h-2.4zM556.9 376.9h2.4v2.4h-2.4zM443.9 373.9h2.4v2.4h-2.4zM737.2 375.8h2.4v2.4h-2.4zM545.9 371.0h2.4v2.4h-2.4zM867.6 365.2h2.4v2.4h-2.4zM454.5 369.2h2.4v2.4h-2.4zM223.3 363.8h2.4v2.4h-2.4zM789.3 365.9h2.4v2.4h-2.4zM422.7 365.1h2.4v2.4h-2.4zM500.4 369.6h2.4v2.4h-2.4zM364.2 368.4h2.4v2.4h-2.4zM630.3 376.3h2.4v2.4h-2.4zM201.5 371.7h2.4v2.4h-2.4zM309.1 370.2h2.4v2.4h-2.4zM311.6 355.7h2.4v2.4h-2.4zM563.6 381.3h2.4v2.4h-2.4zM442.5 384.5h2.4v2.4h-2.4zM696.9 378.2h2.4v2.4h-2.4zM514.9 362.2h2.4v2.4h-2.4zM452.2 364.5h2.4v2.4h-2.4zM798.9 364.3h2.4v2.4h-2.4zM450.7 379.0h2.4v2.4h-2.4zM549.1 378.3h2.4v2.4h-2.4zM658.2 355.9h2.4v2.4h-2.4zM916.6 363.7h2.4v2.4h-2.4zM287.1 366.8h2.4v2.4h-2.4zM637.3 367.4h2.4v2.4h-2.4zM318.4 370.4h2.4v2.4h-2.4zM582.2 382.6h2.4v2.4h-2.4zM763.8 355.2h2.4v2.4h-2.4zM580.1 381.1h2.4v2.4h-2.4zM693.6 372.8h2.4v2.4h-2.4zM910.4 367.4h2.4v2.4h-2.4zM607.0 375.2h2.4v2.4h-2.4zM287.5 361.8h2.4v2.4h-2.4zM572.8 373.1h2.4v2.4h-2.4zM159.0 363.2h2.4v2.4h-2.4zM247.6 361.4h2.4v2.4h-2.4zM510.0 362.1h2.4v2.4h-2.4zM617.7 364.7h2.4v2.4h-2.4zM559.1 363.5h2.4v2.4h-2.4zM762.4 363.8h2.4v2.4h-2.4zM481.7 369.2h2.4v2.4h-2.4zM199.8 373.8h2.4v2.4h-2.4zM419.5 364.5h2.4v2.4h-2.4zM582.4 368.8h2.4v2.4h-2.4zM167.6 360.9h2.4v2.4h-2.4zM864.7 363.1h2.4v2.4h-2.4zM377.9 365.7h2.4v2.4h-2.4zM918.1 368.3h2.4v2.4h-2.4zM435.1 376.1h2.4v2.4h-2.4zM668.3 366.7h2.4v2.4h-2.4zM477.9 381.5h2.4v2.4h-2.4zM300.0 367.2h2.4v2.4h-2.4zM813.4 365.8h2.4v2.4h-2.4zM874.6 361.8h2.4v2.4h-2.4zM320.5 368.2h2.4v2.4h-2.4zM640.4 377.9h2.4v2.4h-2.4zM528.6 363.2h2.4v2.4h-2.4zM591.1 367.8h2.4v2.4h-2.4zM555.2 376.0h2.4v2.4h-2.4zM359.1 371.4h2.4v2.4h-2.4zM576.2 371.7h2.4v2.4h-2.4zM898.9 361.7h2.4v2.4h-2.4zM753.6 359.4h2.4v2.4h-2.4zM730.7 359.7h2.4v2.4h-2.4zM183.5 364.0h2.4v2.4h-2.4zM366.8 368.7h2.4v2.4h-2.4zM786.5 362.3h2.4v2.4h-2.4zM420.8 367.3h2.4v2.4h-2.4zM419.0 367.5h2.4v2.4h-2.4zM488.2 367.6h2.4v2.4h-2.4zM867.1 364.3h2.4v2.4h-2.4zM577.5 359.9h2.4v2.4h-2.4zM586.1 363.7h2.4v2.4h-2.4zM692.0 359.0h2.4v2.4h-2.4zM218.7 367.1h2.4v2.4h-2.4zM479.9 359.0h2.4v2.4h-2.4zM202.9 367.6h2.4v2.4h-2.4zM474.1 368.5h2.4v2.4h-2.4zM468.2 370.7h2.4v2.4h-2.4zM751.1 372.9h2.4v2.4h-2.4zM496.0 378.9h2.4v2.4h-2.4zM670.6 364.0h2.4v2.4h-2.4zM509.7 371.8h2.4v2.4h-2.4zM436.2 372.0h2.4v2.4h-2.4zM351.1 359.6h2.4v2.4h-2.4zM279.1 364.3h2.4v2.4h-2.4zM655.6 368.0h2.4v2.4h-2.4zM626.0 364.9h2.4v2.4h-2.4zM779.2 378.0h2.4v2.4h-2.4zM755.1 369.2h2.4v2.4h-2.4zM313.2 375.3h2.4v2.4h-2.4zM159.3 363.4h2.4v2.4h-2.4zM316.0 371.4h2.4v2.4h-2.4zM153.0 357.2h2.4v2.4h-2.4zM154.3 363.8h2.4v2.4h-2.4zM363.3 365.2h2.4v2.4h-2.4zM482.0 369.7h2.4v2.4h-2.4zM506.6 375.5h2.4v2.4h-2.4zM488.6 374.1h2.4v2.4h-2.4zM629.9 373.9h2.4v2.4h-2.4zM343.9 373.1h2.4v2.4h-2.4zM516.3 373.8h2.4v2.4h-2.4zM605.8 363.3h2.4v2.4h-2.4zM351.2 352.6h2.4v2.4h-2.4zM174.1 365.8h2.4v2.4h-2.4zM622.8 362.7h2.4v2.4h-2.4zM288.1 373.8h2.4v2.4h-2.4zM724.5 381.6h2.4v2.4h-2.4zM684.9 368.0h2.4v2.4h-2.4zM174.0 366.7h2.4v2.4h-2.4zM256.5 367.3h2.4v2.4h-2.4zM421.3 362.0h2.4v2.4h-2.4zM917.4 368.1h2.4v2.4h-2.4zM501.1 375.3h2.4v2.4h-2.4zM501.8 371.1h2.4v2.4h-2.4zM685.1 379.6h2.4v2.4h-2.4zM272.9 368.1h2.4v2.4h-2.4zM618.4 367.3h2.4v2.4h-2.4zM576.7 366.4h2.4v2.4h-2.4zM141.8 362.5h2.4v2.4h-2.4zM537.0 374.1h2.4v2.4h-2.4zM420.1 382.6h2.4v2.4h-2.4zM582.5 381.6h2.4v2.4h-2.4zM405.6 374.6h2.4v2.4h-2.4zM723.2 360.6h2.4v2.4h-2.4zM526.8 364.8h2.4v2.4h-2.4zM446.5 357.7h2.4v2.4h-2.4zM478.4 372.3h2.4v2.4h-2.4zM290.8 360.3h2.4v2.4h-2.4zM416.1 367.9h2.4v2.4h-2.4zM553.3 369.8h2.4v2.4h-2.4zM483.1 372.4h2.4v2.4h-2.4zM564.0 370.3h2.4v2.4h-2.4zM789.1 362.6h2.4v2.4h-2.4zM544.8 364.1h2.4v2.4h-2.4zM729.1 375.0h2.4v2.4h-2.4zM683.4 375.5h2.4v2.4h-2.4zM468.3 382.6h2.4v2.4h-2.4zM538.5 379.9h2.4v2.4h-2.4zM615.7 379.4h2.4v2.4h-2.4zM309.8 364.4h2.4v2.4h-2.4zM860.6 368.9h2.4v2.4h-2.4zM825.6 365.4h2.4v2.4h-2.4zM573.5 382.8h2.4v2.4h-2.4zM588.7 367.2h2.4v2.4h-2.4zM366.6 375.7h2.4v2.4h-2.4zM685.8 370.8h2.4v2.4h-2.4zM894.1 364.1h2.4v2.4h-2.4zM396.6 371.3h2.4v2.4h-2.4zM431.4 377.3h2.4v2.4h-2.4zM174.9 366.1h2.4v2.4h-2.4zM616.1 365.9h2.4v2.4h-2.4zM549.9 375.0h2.4v2.4h-2.4zM477.7 368.1h2.4v2.4h-2.4zM286.9 373.2h2.4v2.4h-2.4zM220.7 363.6h2.4v2.4h-2.4zM486.9 364.3h2.4v2.4h-2.4zM476.5 379.5h2.4v2.4h-2.4zM892.9 358.3h2.4v2.4h-2.4zM565.9 360.5h2.4v2.4h-2.4zM593.7 370.1h2.4v2.4h-2.4zM274.6 371.0h2.4v2.4h-2.4zM290.6 371.1h2.4v2.4h-2.4zM217.7 364.6h2.4v2.4h-2.4z"/><path stroke="#2eb7a4" d="M213.0 369.3h2.4v2.4h-2.4zM672.2 374.6h2.4v2.4h-2.4zM182.2 361.1h2.4v2.4h-2.4zM759.8 372.3h2.4v2.4h-2.4zM480.6 371.0h2.4v2.4h-2.4zM399.0 366.5h2.4v2.4h-2.4zM578.2 368.6h2.4v2.4h-2.4z"/><path stroke="#1f7fd9" d="M641.3 375.4h2.4v2.4h-2.4zM849.6 362.7h2.4v2.4h-2.4zM551.5 375.6h2.4v2.4h-2.4zM829.4 371.6h2.4v2.4h-2.4zM473.5 371.7h2.4v2.4h-2.4zM199.1 372.9h2.4v2.4h-2.4zM588.5 372.1h2.4v2.4h-2.4zM935.3 369.3h2.4v2.4h-2.4zM784.7 380.1h2.4v2.4h-2.4zM741.4 369.5h2.4v2.4h-2.4z"/><path stroke="#fbf30c" d="M527.5 371.9h2.4v2.4h-2.4zM606.3 365.2h2.4v2.4h-2.4zM606.5 381.7h2.4v2.4h-2.4zM423.7 371.6h2.4v2.4h-2.4zM177.6 363.1h2.4v2.4h-2.4zM386.7 370.1h2.4v2.4h-2.4zM376.8 358.0h2.4v2.4h-2.4zM768.6 359.9h2.4v2.4h-2.4zM578.9 371.3h2.4v2.4h-2.4zM466.6 364.9h2.4v2.4h-2.4zM356.9 360.7h2.4v2.4h-2.4zM800.5 361.9h2.4v2.4h-2.4zM523.0 370.9h2.4v2.4h-2.4zM665.8 369.7h2.4v2.4h-2.4zM396.0 356.7h2.4v2.4h-2.4zM693.5 365.9h2.4v2.4h-2.4zM490.2 372.1h2.4v2.4h-2.4zM557.3 365.4h2.4v2.4h-2.4zM347.5 380.4h2.4v2.4h-2.4zM514.8 368.3h2.4v2.4h-2.4zM533.3 370.2h2.4v2.4h-2.4zM282.0 363.0h2.4v2.4h-2.4zM394.2 344.8h2.4v2.4h-2.4zM187.2 365.6h2.4v2.4h-2.4zM118.7 369.7h2.4v2.4h-2.4zM634.4 359.2h2.4v2.4h-2.4zM419.0 375.9h2.4v2.4h-2.4zM764.9 370.5h2.4v2.4h-2.4zM329.5 370.4h2.4v2.4h-2.4zM698.8 374.4h2.4v2.4h-2.4zM140.0 366.5h2.4v2.4h-2.4zM557.9 378.0h2.4v2.4h-2.4zM349.4 363.8h2.4v2.4h-2.4zM260.8 368.5h2.4v2.4h-2.4zM745.1 373.1h2.4v2.4h-2.4zM257.8 367.6h2.4v2.4h-2.4zM542.4 377.8h2.4v2.4h-2.4zM697.6 368.8h2.4v2.4h-2.4zM534.1 359.1h2.4v2.4h-2.4zM632.2 368.3h2.4v2.4h-2.4zM698.9 373.5h2.4v2.4h-2.4zM527.3 378.4h2.4v2.4h-2.4zM350.5 374.0h2.4v2.4h-2.4zM486.5 364.7h2.4v2.4h-2.4zM501.7 384.5h2.4v2.4h-2.4zM480.1 379.2h2.4v2.4h-2.4zM409.5 374.6h2.4v2.4h-2.4zM275.7 366.9h2.4v2.4h-2.4zM341.4 364.1h2.4v2.4h-2.4zM580.8 368.3h2.4v2.4h-2.4zM559.3 383.4h2.4v2.4h-2.4zM817.6 365.8h2.4v2.4h-2.4zM206.6 359.7h2.4v2.4h-2.4zM906.5 370.7h2.4v2.4h-2.4zM281.5 370.6h2.4v2.4h-2.4zM498.6 377.1h2.4v2.4h-2.4zM474.2 374.9h2.4v2.4h-2.4zM390.1 365.7h2.4v2.4h-2.4zM619.3 373.7h2.4v2.4h-2.4zM390.0 367.0h2.4v2.4h-2.4zM580.1 380.5h2.4v2.4h-2.4zM860.5 362.6h2.4v2.4h-2.4zM181.8 363.5h2.4v2.4h-2.4zM166.6 367.1h2.4v2.4h-2.4zM902.6 366.5h2.4v2.4h-2.4zM752.9 366.9h2.4v2.4h-2.4zM549.2 374.2h2.4v2.4h-2.4zM713.8 376.8h2.4v2.4h-2.4zM420.6 370.4h2.4v2.4h-2.4zM653.1 379.0h2.4v2.4h-2.4zM527.9 382.2h2.4v2.4h-2.4zM404.1 371.9h2.4v2.4h-2.4zM626.6 374.2h2.4v2.4h-2.4zM563.7 367.7h2.4v2.4h-2.4zM828.3 368.4h2.4v2.4h-2.4zM462.5 367.2h2.4v2.4h-2.4zM418.6 372.7h2.4v2.4h-2.4zM751.8 374.1h2.4v2.4h-2.4zM331.4 362.5h2.4v2.4h-2.4zM780.0 367.8h2.4v2.4h-2.4zM856.9 359.6h2.4v2.4h-2.4zM708.3 372.0h2.4v2.4h-2.4zM609.5 377.2h2.4v2.4h-2.4zM204.3 361.5h2.4v2.4h-2.4zM759.1 362.6h2.4v2.4h-2.4zM567.9 374.4h2.4v2.4h-2.4zM276.4 361.9h2.4v2.4h-2.4zM776.4 365.4h2.4v2.4h-2.4zM567.7 373.7h2.4v2.4h-2.4zM571.0 377.2h2.4v2.4h-2.4zM513.0 367.2h2.4v2.4h-2.4zM449.5 367.2h2.4v2.4h-2.4zM227.1 368.2h2.4v2.4h-2.4zM696.8 366.9h2.4v2.4h-2.4zM915.8 368.4h2.4v2.4h-2.4zM142.8 368.8h2.4v2.4h-2.4zM604.4 367.2h2.4v2.4h-2.4zM769.0 366.4h2.4v2.4h-2.4zM808.1 360.4h2.4v2.4h-2.4zM759.4 358.5h2.4v2.4h-2.4zM306.8 377.4h2.4v2.4h-2.4zM454.7 367.6h2.4v2.4h-2.4zM821.4 374.6h2.4v2.4h-2.4zM472.6 376.1h2.4v2.4h-2.4zM406.4 359.1h2.4v2.4h-2.4zM559.8 384.7h2.4v2.4h-2.4zM693.4 362.7h2.4v2.4h-2.4zM399.9 369.3h2.4v2.4h-2.4zM775.7 366.5h2.4v2.4h-2.4zM544.6 370.0h2.4v2.4h-2.4zM730.1 357.9h2.4v2.4h-2.4zM618.6 380.5h2.4v2.4h-2.4zM259.9 368.5h2.4v2.4h-2.4zM280.8 373.9h2.4v2.4h-2.4zM885.6 367.3h2.4v2.4h-2.4zM598.5 384.5h2.4v2.4h-2.4zM757.4 367.1h2.4v2.4h-2.4zM662.4 377.3h2.4v2.4h-2.4zM554.7 375.9h2.4v2.4h-2.4zM664.3 360.2h2.4v2.4h-2.4zM354.3 371.0h2.4v2.4h-2.4zM703.6 370.1h2.4v2.4h-2.4zM926.2 365.3h2.4v2.4h-2.4zM309.2 372.3h2.4v2.4h-2.4zM595.9 369.5h2.4v2.4h-2.4zM677.2 374.4h2.4v2.4h-2.4zM614.4 362.2h2.4v2.4h-2.4zM697.3 365.7h2.4v2.4h-2.4zM494.9 364.2h2.4v2.4h-2.4zM872.8 367.8h2.4v2.4h-2.4zM293.7 371.7h2.4v2.4h-2.4zM394.6 365.8h2.4v2.4h-2.4zM582.2 366.8h2.4v2.4h-2.4zM419.9 380.5h2.4v2.4h-2.4zM294.8 369.0h2.4v2.4h-2.4zM508.5 360.5h2.4v2.4h-2.4zM702.1 367.1h2.4v2.4h-2.4zM449.9 359.5h2.4v2.4h-2.4zM598.3 374.0h2.4v2.4h-2.4zM235.1 364.5h2.4v2.4h-2.4zM690.6 366.4h2.4v2.4h-2.4zM522.8 368.7h2.4v2.4h-2.4zM488.7 374.8h2.4v2.4h-2.4zM574.0 388.9h2.4v2.4h-2.4zM723.3 364.9h2.4v2.4h-2.4zM266.1 370.5h2.4v2.4h-2.4zM221.0 363.4h2.4v2.4h-2.4zM741.1 367.7h2.4v2.4h-2.4zM540.1 380.0h2.4v2.4h-2.4zM474.7 364.5h2.4v2.4h-2.4zM310.5 368.2h2.4v2.4h-2.4zM642.6 375.6h2.4v2.4h-2.4zM212.3 369.0h2.4v2.4h-2.4zM138.6 367.9h2.4v2.4h-2.4zM932.9 361.6h2.4v2.4h-2.4zM242.0 360.2h2.4v2.4h-2.4zM541.4 365.3h2.4v2.4h-2.4zM555.8 359.7h2.4v2.4h-2.4zM694.0 366.4h2.4v2.4h-2.4zM602.5 382.6h2.4v2.4h-2.4zM647.3 371.6h2.4v2.4h-2.4zM433.8 375.8h2.4v2.4h-2.4zM298.7 369.6h2.4v2.4h-2.4zM462.2 374.4h2.4v2.4h-2.4zM305.1 366.2h2.4v2.4h-2.4zM235.2 367.0h2.4v2.4h-2.4zM233.5 364.8h2.4v2.4h-2.4zM570.1 370.8h2.4v2.4h-2.4zM818.1 362.6h2.4v2.4h-2.4zM890.3 364.9h2.4v2.4h-2.4zM327.5 372.4h2.4v2.4h-2.4zM586.5 370.9h2.4v2.4h-2.4zM650.3 374.7h2.4v2.4h-2.4zM875.2 368.6h2.4v2.4h-2.4zM343.0 365.2h2.4v2.4h-2.4zM911.1 368.7h2.4v2.4h-2.4zM586.7 364.2h2.4v2.4h-2.4zM452.8 380.0h2.4v2.4h-2.4zM441.0 375.4h2.4v2.4h-2.4zM835.8 359.1h2.4v2.4h-2.4zM775.3 370.7h2.4v2.4h-2.4zM476.4 361.0h2.4v2.4h-2.4zM224.2 369.0h2.4v2.4h-2.4zM517.4 372.5h2.4v2.4h-2.4zM483.0 382.0h2.4v2.4h-2.4zM839.2 371.2h2.4v2.4h-2.4zM654.8 363.3h2.4v2.4h-2.4zM562.9 370.9h2.4v2.4h-2.4zM818.3 371.8h2.4v2.4h-2.4zM347.1 359.5h2.4v2.4h-2.4zM184.8 366.6h2.4v2.4h-2.4zM567.1 371.0h2.4v2.4h-2.4zM470.1 373.9h2.4v2.4h-2.4zM656.6 357.3h2.4v2.4h-2.4zM356.9 370.9h2.4v2.4h-2.4zM934.7 365.8h2.4v2.4h-2.4zM423.9 377.2h2.4v2.4h-2.4zM505.9 355.5h2.4v2.4h-2.4zM394.6 370.6h2.4v2.4h-2.4zM427.7 380.3h2.4v2.4h-2.4zM484.5 375.9h2.4v2.4h-2.4zM282.2 366.2h2.4v2.4h-2.4zM337.4 378.3h2.4v2.4h-2.4zM246.0 370.1h2.4v2.4h-2.4zM909.6 366.8h2.4v2.4h-2.4zM542.4 389.5h2.4v2.4h-2.4zM558.9 369.2h2.4v2.4h-2.4zM937.6 364.2h2.4v2.4h-2.4zM612.2 373.7h2.4v2.4h-2.4zM440.7 369.1h2.4v2.4h-2.4zM599.4 375.7h2.4v2.4h-2.4zM572.2 367.0h2.4v2.4h-2.4zM551.6 368.5h2.4v2.4h-2.4zM173.7 370.4h2.4v2.4h-2.4zM544.8 368.6h2.4v2.4h-2.4zM321.2 364.3h2.4v2.4h-2.4zM170.5 362.5h2.4v2.4h-2.4zM639.0 368.8h2.4v2.4h-2.4zM500.6 394.1h2.4v2.4h-2.4zM502.2 378.3h2.4v2.4h-2.4zM522.6 359.0h2.4v2.4h-2.4zM917.2 368.0h2.4v2.4h-2.4zM412.8 362.8h2.4v2.4h-2.4zM602.4 370.6h2.4v2.4h-2.4zM487.2 384.0h2.4v2.4h-2.4zM502.4 372.4h2.4v2.4h-2.4zM561.5 371.6h2.4v2.4h-2.4zM800.1 365.4h2.4v2.4h-2.4zM387.9 380.6h2.4v2.4h-2.4zM825.9 371.2h2.4v2.4h-2.4zM275.5 370.7h2.4v2.4h-2.4zM131.4 370.5h2.4v2.4h-2.4zM289.8 370.2h2.4v2.4h-2.4zM131.8 364.7h2.4v2.4h-2.4zM184.2 364.5h2.4v2.4h-2.4zM579.5 371.3h2.4v2.4h-2.4zM242.6 369.2h2.4v2.4h-2.4zM427.4 374.6h2.4v2.4h-2.4zM335.9 363.0h2.4v2.4h-2.4zM268.3 370.1h2.4v2.4h-2.4zM356.3 363.0h2.4v2.4h-2.4zM784.7 367.2h2.4v2.4h-2.4zM360.7 371.0h2.4v2.4h-2.4zM370.6 365.0h2.4v2.4h-2.4zM470.8 358.7h2.4v2.4h-2.4zM617.9 374.4h2.4v2.4h-2.4zM768.9 378.7h2.4v2.4h-2.4zM340.4 371.4h2.4v2.4h-2.4zM336.8 362.1h2.4v2.4h-2.4zM300.8 363.0h2.4v2.4h-2.4zM793.5 369.1h2.4v2.4h-2.4zM644.5 363.9h2.4v2.4h-2.4zM244.6 367.9h2.4v2.4h-2.4zM512.9 371.7h2.4v2.4h-2.4zM569.1 376.3h2.4v2.4h-2.4zM808.3 373.5h2.4v2.4h-2.4zM414.8 370.0h2.4v2.4h-2.4zM313.8 368.5h2.4v2.4h-2.4zM583.1 374.5h2.4v2.4h-2.4zM422.6 380.6h2.4v2.4h-2.4zM858.2 365.3h2.4v2.4h-2.4zM583.9 369.3h2.4v2.4h-2.4zM297.2 365.8h2.4v2.4h-2.4zM508.7 365.4h2.4v2.4h-2.4zM208.7 366.6h2.4v2.4h-2.4zM497.2 370.2h2.4v2.4h-2.4zM495.4 377.6h2.4v2.4h-2.4zM401.3 382.6h2.4v2.4h-2.4zM393.8 379.3h2.4v2.4h-2.4zM597.5 366.2h2.4v2.4h-2.4zM357.2 360.5h2.4v2.4h-2.4zM790.8 361.0h2.4v2.4h-2.4zM489.4 376.1h2.4v2.4h-2.4zM412.2 371.8h2.4v2.4h-2.4zM667.5 371.7h2.4v2.4h-2.4zM724.4 367.2h2.4v2.4h-2.4zM409.0 376.3h2.4v2.4h-2.4zM474.4 362.8h2.4v2.4h-2.4zM437.3 381.7h2.4v2.4h-2.4zM308.8 367.2h2.4v2.4h-2.4zM678.9 353.4h2.4v2.4h-2.4zM721.7 364.2h2.4v2.4h-2.4zM428.7 379.4h2.4v2.4h-2.4zM366.4 376.6h2.4v2.4h-2.4zM325.3 368.6h2.4v2.4h-2.4zM430.9 363.2h2.4v2.4h-2.4zM493.0 363.3h2.4v2.4h-2.4zM432.1 365.7h2.4v2.4h-2.4zM611.4 377.9h2.4v2.4h-2.4zM280.3 363.9h2.4v2.4h-2.4zM366.3 371.1h2.4v2.4h-2.4zM441.3 363.4h2.4v2.4h-2.4zM144.5 364.5h2.4v2.4h-2.4zM646.5 371.4h2.4v2.4h-2.4zM440.6 362.0h2.4v2.4h-2.4zM727.2 370.9h2.4v2.4h-2.4zM893.9 362.9h2.4v2.4h-2.4zM614.7 376.8h2.4v2.4h-2.4zM367.3 367.7h2.4v2.4h-2.4zM303.8 372.0h2.4v2.4h-2.4zM706.3 371.4h2.4v2.4h-2.4zM500.4 375.6h2.4v2.4h-2.4zM166.3 370.6h2.4v2.4h-2.4zM373.6 361.4h2.4v2.4h-2.4zM610.4 371.7h2.4v2.4h-2.4zM899.0 367.3h2.4v2.4h-2.4zM165.6 357.4h2.4v2.4h-2.4zM388.0 371.8h2.4v2.4h-2.4zM790.2 363.4h2.4v2.4h-2.4zM348.1 369.8h2.4v2.4h-2.4zM674.7 368.5h2.4v2.4h-2.4zM562.5 365.3h2.4v2.4h-2.4zM682.0 378.3h2.4v2.4h-2.4zM738.4 371.4h2.4v2.4h-2.4zM906.1 368.7h2.4v2.4h-2.4zM693.0 362.0h2.4v2.4h-2.4zM618.4 365.2h2.4v2.4h-2.4zM379.3 357.4h2.4v2.4h-2.4zM479.6 360.7h2.4v2.4h-2.4zM710.2 377.1h2.4v2.4h-2.4zM617.6 370.4h2.4v2.4h-2.4zM574.2 375.8h2.4v2.4h-2.4zM603.4 370.7h2.4v2.4h-2.4zM164.3 358.5h2.4v2.4h-2.4zM391.5 377.1h2.4v2.4h-2.4zM686.1 372.7h2.4v2.4h-2.4zM757.7 368.3h2.4v2.4h-2.4zM304.6 372.4h2.4v2.4h-2.4zM490.0 384.5h2.4v2.4h-2.4zM623.1 383.0h2.4v2.4h-2.4zM459.7 369.2h2.4v2.4h-2.4zM549.8 370.9h2.4v2.4h-2.4zM482.3 374.2h2.4v2.4h-2.4zM382.3 375.5h2.4v2.4h-2.4zM904.7 360.4h2.4v2.4h-2.4zM784.8 362.4h2.4v2.4h-2.4zM363.9 377.8h2.4v2.4h-2.4zM503.9 363.1h2.4v2.4h-2.4zM280.4 370.5h2.4v2.4h-2.4zM439.5 370.9h2.4v2.4h-2.4zM147.8 368.3h2.4v2.4h-2.4zM693.1 366.8h2.4v2.4h-2.4zM885.4 368.9h2.4v2.4h-2.4zM614.8 364.1h2.4v2.4h-2.4zM245.8 366.4h2.4v2.4h-2.4zM417.5 374.0h2.4v2.4h-2.4zM596.0 383.5h2.4v2.4h-2.4zM617.2 380.6h2.4v2.4h-2.4zM518.2 365.6h2.4v2.4h-2.4zM254.3 366.0h2.4v2.4h-2.4zM396.3 380.8h2.4v2.4h-2.4zM738.5 373.9h2.4v2.4h-2.4zM574.7 372.6h2.4v2.4h-2.4zM523.1 374.8h2.4v2.4h-2.4zM306.2 368.9h2.4v2.4h-2.4zM418.2 368.2h2.4v2.4h-2.4zM251.8 358.3h2.4v2.4h-2.4zM915.6 363.4h2.4v2.4h-2.4zM553.3 377.7h2.4v2.4h-2.4zM347.1 373.9h2.4v2.4h-2.4zM434.6 365.3h2.4v2.4h-2.4zM630.1 371.6h2.4v2.4h-2.4zM469.5 380.0h2.4v2.4h-2.4zM136.2 359.2h2.4v2.4h-2.4zM692.5 369.4h2.4v2.4h-2.4zM655.6 365.9h2.4v2.4h-2.4zM465.7 377.7h2.4v2.4h-2.4zM747.1 365.4h2.4v2.4h-2.4zM537.9 376.5h2.4v2.4h-2.4zM466.1 367.2h2.4v2.4h-2.4zM517.2 362.4h2.4v2.4h-2.4zM484.1 357.8h2.4v2.4h-2.4zM771.8 372.2h2.4v2.4h-2.4zM746.7 367.8h2.4v2.4h-2.4zM374.5 374.2h2.4v2.4h-2.4zM652.2 369.0h2.4v2.4h-2.4zM433.7 375.5h2.4v2.4h-2.4zM447.3 368.6h2.4v2.4h-2.4zM198.3 371.8h2.4v2.4h-2.4zM360.4 364.0h2.4v2.4h-2.4zM527.8 373.7h2.4v2.4h-2.4zM625.9 359.0h2.4v2.4h-2.4zM211.7 364.9h2.4v2.4h-2.4zM687.4 371.8h2.4v2.4h-2.4zM917.5 365.7h2.4v2.4h-2.4zM272.8 366.1h2.4v2.4h-2.4zM786.8 363.3h2.4v2.4h-2.4zM666.1 360.0h2.4v2.4h-2.4zM729.5 367.7h2.4v2.4h-2.4zM615.4 375.2h2.4v2.4h-2.4zM376.3 360.9h2.4v2.4h-2.4zM185.5 370.7h2.4v2.4h-2.4zM799.3 366.1h2.4v2.4h-2.4zM595.4 368.2h2.4v2.4h-2.4zM462.4 373.1h2.4v2.4h-2.4zM509.3 373.2h2.4v2.4h-2.4zM653.1 375.0h2.4v2.4h-2.4zM576.0 367.9h2.4v2.4h-2.4zM288.8 362.7h2.4v2.4h-2.4zM799.6 359.0h2.4v2.4h-2.4zM462.8 371.2h2.4v2.4h-2.4zM890.6 361.8h2.4v2.4h-2.4zM562.0 368.6h2.4v2.4h-2.4zM358.2 361.9h2.4v2.4h-2.4zM783.2 365.4h2.4v2.4h-2.4zM669.1 370.7h2.4v2.4h-2.4zM314.4 375.5h2.4v2.4h-2.4zM346.8 368.7h2.4v2.4h-2.4zM795.3 360.6h2.4v2.4h-2.4zM437.0 371.5h2.4v2.4h-2.4zM584.3 377.9h2.4v2.4h-2.4zM654.7 366.0h2.4v2.4h-2.4zM647.0 367.5h2.4v2.4h-2.4zM515.7 372.1h2.4v2.4h-2.4z"/><path stroke="#4ebc8c" d="M826.8 348.4h2.4v2.4h-2.4zM169.6 353.1h2.4v2.4h-2.4zM230.8 350.1h2.4v2.4h-2.4zM877.2 354.2h2.4v2.4h-2.4zM886.6 360.3h2.4v2.4h-2.4zM200.3 355.9h2.4v2.4h-2.4zM677.6 372.8h2.4v2.4h-2.4zM797.4 363.6h2.4v2.4h-2.4zM706.2 367.4h2.4v2.4h-2.4zM212.9 349.1h2.4v2.4h-2.4zM310.9 354.6h2.4v2.4h-2.4zM710.3 375.0h2.4v2.4h-2.4zM820.8 353.1h2.4v2.4h-2.4zM666.9 375.4h2.4v2.4h-2.4zM500.5 381.2h2.4v2.4h-2.4zM680.1 365.8h2.4v2.4h-2.4zM281.7 365.7h2.4v2.4h-2.4zM262.8 356.8h2.4v2.4h-2.4zM303.2 366.4h2.4v2.4h-2.4zM894.1 345.5h2.4v2.4h-2.4zM134.0 353.8h2.4v2.4h-2.4zM891.9 356.8h2.4v2.4h-2.4zM697.9 371.1h2.4v2.4h-2.4zM429.3 370.7h2.4v2.4h-2.4zM878.5 357.3h2.4v2.4h-2.4zM289.6 366.2h2.4v2.4h-2.4zM664.7 363.6h2.4v2.4h-2.4zM773.6 356.8h2.4v2.4h-2.4zM911.0 359.3h2.4v2.4h-2.4zM194.2 358.3h2.4v2.4h-2.4zM231.0 362.5h2.4v2.4h-2.4zM273.8 357.3h2.4v2.4h-2.4zM860.0 365.9h2.4v2.4h-2.4zM675.9 376.2h2.4v2.4h-2.4zM225.5 367.7h2.4v2.4h-2.4zM528.4 359.4h2.4v2.4h-2.4zM375.8 369.1h2.4v2.4h-2.4zM745.5 354.7h2.4v2.4h-2.4zM858.8 343.3h2.4v2.4h-2.4zM149.2 353.2h2.4v2.4h-2.4zM579.9 396.3h2.4v2.4h-2.4zM807.6 370.4h2.4v2.4h-2.4zM213.9 361.7h2.4v2.4h-2.4zM440.2 362.3h2.4v2.4h-2.4zM197.6 353.8h2.4v2.4h-2.4zM294.4 355.2h2.4v2.4h-2.4zM589.1 377.8h2.4v2.4h-2.4zM281.5 361.4h2.4v2.4h-2.4zM826.4 350.5h2.4v2.4h-2.4zM673.3 361.7h2.4v2.4h-2.4zM781.7 367.4h2.4v2.4h-2.4zM783.8 351.6h2.4v2.4h-2.4zM590.2 383.2h2.4v2.4h-2.4zM440.3 370.3h2.4v2.4h-2.4zM676.5 374.5h2.4v2.4h-2.4zM654.6 368.8h2.4v2.4h-2.4zM476.2 388.9h2.4v2.4h-2.4zM149.1 349.6h2.4v2.4h-2.4zM856.8 348.6h2.4v2.4h-2.4zM292.1 361.2h2.4v2.4h-2.4zM860.7 351.3h2.4v2.4h-2.4zM427.3 373.3h2.4v2.4h-2.4zM131.9 348.4h2.4v2.4h-2.4zM887.7 348.2h2.4v2.4h-2.4zM873.9 356.4h2.4v2.4h-2.4zM885.8 346.3h2.4v2.4h-2.4zM867.5 363.9h2.4v2.4h-2.4zM308.6 359.9h2.4v2.4h-2.4zM810.5 355.0h2.4v2.4h-2.4zM723.0 366.1h2.4v2.4h-2.4zM495.8 378.9h2.4v2.4h-2.4zM182.2 359.4h2.4v2.4h-2.4zM881.9 360.7h2.4v2.4h-2.4zM718.2 359.1h2.4v2.4h-2.4zM122.4 344.4h2.4v2.4h-2.4zM454.8 366.2h2.4v2.4h-2.4zM859.3 354.7h2.4v2.4h-2.4zM680.2 370.6h2.4v2.4h-2.4zM878.2 358.6h2.4v2.4h-2.4zM340.2 361.9h2.4v2.4h-2.4zM823.2 354.5h2.4v2.4h-2.4zM763.8 358.4h2.4v2.4h-2.4zM879.7 356.1h2.4v2.4h-2.4zM400.6 367.8h2.4v2.4h-2.4zM492.0 363.2h2.4v2.4h-2.4zM833.9 354.4h2.4v2.4h-2.4zM493.8 382.3h2.4v2.4h-2.4zM345.9 369.4h2.4v2.4h-2.4zM285.5 360.7h2.4v2.4h-2.4zM882.3 353.9h2.4v2.4h-2.4zM730.5 352.5h2.4v2.4h-2.4zM878.4 351.0h2.4v2.4h-2.4zM149.3 349.9h2.4v2.4h-2.4zM699.5 357.9h2.4v2.4h-2.4zM388.2 359.9h2.4v2.4h-2.4zM171.8 353.4h2.4v2.4h-2.4zM674.4 366.9h2.4v2.4h-2.4zM422.4 364.8h2.4v2.4h-2.4zM479.7 374.0h2.4v2.4h-2.4zM932.7 348.0h2.4v2.4h-2.4zM243.7 356.6h2.4v2.4h-2.4zM895.7 361.3h2.4v2.4h-2.4zM789.1 356.6h2.4v2.4h-2.4zM278.9 370.3h2.4v2.4h-2.4zM130.7 355.5h2.4v2.4h-2.4zM426.6 365.7h2.4v2.4h-2.4zM558.9 373.3h2.4v2.4h-2.4zM241.3 349.5h2.4v2.4h-2.4zM378.3 365.3h2.4v2.4h-2.4zM124.5 344.8h2.4v2.4h-2.4zM116.2 351.1h2.4v2.4h-2.4zM525.2 376.4h2.4v2.4h-2.4zM782.9 356.7h2.4v2.4h-2.4zM220.9 359.8h2.4v2.4h-2.4zM225.5 349.3h2.4v2.4h-2.4zM705.7 363.2h2.4v2.4h-2.4zM787.7 360.3h2.4v2.4h-2.4zM324.5 360.4h2.4v2.4h-2.4zM940.0 350.6h2.4v2.4h-2.4zM208.4 356.5h2.4v2.4h-2.4zM203.5 355.5h2.4v2.4h-2.4zM342.1 369.3h2.4v2.4h-2.4zM301.4 364.7h2.4v2.4h-2.4zM935.1 344.7h2.4v2.4h-2.4zM801.1 356.9h2.4v2.4h-2.4zM267.1 365.4h2.4v2.4h-2.4zM389.9 365.3h2.4v2.4h-2.4zM210.8 354.6h2.4v2.4h-2.4zM573.6 368.2h2.4v2.4h-2.4zM626.6 357.3h2.4v2.4h-2.4zM855.2 351.9h2.4v2.4h-2.4zM484.8 371.9h2.4v2.4h-2.4zM630.7 377.3h2.4v2.4h-2.4zM287.7 359.9h2.4v2.4h-2.4zM329.4 366.9h2.4v2.4h-2.4zM718.0 365.7h2.4v2.4h-2.4zM326.3 370.0h2.4v2.4h-2.4zM858.7 351.7h2.4v2.4h-2.4zM189.1 355.5h2.4v2.4h-2.4zM456.0 371.6h2.4v2.4h-2.4zM202.4 353.6h2.4v2.4h-2.4zM380.9 378.4h2.4v2.4h-2.4zM193.9 354.6h2.4v2.4h-2.4zM284.5 355.9h2.4v2.4h-2.4zM674.4 364.3h2.4v2.4h-2.4zM658.2 365.7h2.4v2.4h-2.4zM305.7 348.7h2.4v2.4h-2.4zM837.2 351.1h2.4v2.4h-2.4zM302.3 360.8h2.4v2.4h-2.4zM164.6 350.0h2.4v2.4h-2.4zM659.3 367.6h2.4v2.4h-2.4zM726.6 359.6h2.4v2.4h-2.4zM234.5 355.6h2.4v2.4h-2.4zM757.7 368.2h2.4v2.4h-2.4zM846.6 352.3h2.4v2.4h-2.4zM905.3 340.6h2.4v2.4h-2.4zM142.0 361.6h2.4v2.4h-2.4zM933.7 345.4h2.4v2.4h-2.4zM520.8 380.4h2.4v2.4h-2.4zM733.1 363.7h2.4v2.4h-2.4zM772.3 357.2h2.4v2.4h-2.4zM524.1 366.1h2.4v2.4h-2.4zM865.9 345.5h2.4v2.4h-2.4zM506.2 378.8h2.4v2.4h-2.4zM454.8 370.1h2.4v2.4h-2.4zM760.3 354.4h2.4v2.4h-2.4zM889.8 342.9h2.4v2.4h-2.4zM755.6 358.4h2.4v2.4h-2.4zM318.2 366.3h2.4v2.4h-2.4zM646.7 373.9h2.4v2.4h-2.4zM715.9 362.5h2.4v2.4h-2.4zM805.6 358.9h2.4v2.4h-2.4zM203.2 355.0h2.4v2.4h-2.4zM769.5 360.7h2.4v2.4h-2.4zM145.3 347.4h2.4v2.4h-2.4zM441.5 374.1h2.4v2.4h-2.4zM300.1 368.0h2.4v2.4h-2.4zM159.0 355.6h2.4v2.4h-2.4zM639.5 364.1h2.4v2.4h-2.4zM226.9 360.0h2.4v2.4h-2.4zM291.6 365.0h2.4v2.4h-2.4zM224.4 346.6h2.4v2.4h-2.4zM246.0 364.4h2.4v2.4h-2.4zM762.8 367.4h2.4v2.4h-2.4zM621.9 379.0h2.4v2.4h-2.4zM581.1 365.5h2.4v2.4h-2.4zM420.2 381.3h2.4v2.4h-2.4zM798.6 360.0h2.4v2.4h-2.4zM549.5 373.7h2.4v2.4h-2.4zM921.0 345.9h2.4v2.4h-2.4zM764.5 361.6h2.4v2.4h-2.4zM164.5 353.3h2.4v2.4h-2.4zM893.1 345.0h2.4v2.4h-2.4zM288.2 364.5h2.4v2.4h-2.4zM172.6 351.8h2.4v2.4h-2.4zM258.4 354.5h2.4v2.4h-2.4zM165.5 350.7h2.4v2.4h-2.4zM389.1 362.0h2.4v2.4h-2.4zM886.3 350.3h2.4v2.4h-2.4zM755.1 361.6h2.4v2.4h-2.4zM253.3 355.3h2.4v2.4h-2.4zM906.1 353.9h2.4v2.4h-2.4zM286.7 356.7h2.4v2.4h-2.4zM780.9 362.1h2.4v2.4h-2.4zM771.3 352.2h2.4v2.4h-2.4zM882.9 351.4h2.4v2.4h-2.4zM928.3 355.5h2.4v2.4h-2.4zM269.3 361.6h2.4v2.4h-2.4zM173.5 348.1h2.4v2.4h-2.4zM525.5 374.5h2.4v2.4h-2.4zM205.6 364.0h2.4v2.4h-2.4zM115.1 352.1h2.4v2.4h-2.4zM229.1 364.9h2.4v2.4h-2.4zM231.7 346.6h2.4v2.4h-2.4zM634.0 360.8h2.4v2.4h-2.4zM274.4 372.6h2.4v2.4h-2.4zM598.9 377.8h2.4v2.4h-2.4zM149.7 348.8h2.4v2.4h-2.4zM774.5 356.1h2.4v2.4h-2.4zM816.9 344.9h2.4v2.4h-2.4zM553.4 371.2h2.4v2.4h-2.4zM849.2 351.8h2.4v2.4h-2.4zM125.6 352.8h2.4v2.4h-2.4zM123.1 345.7h2.4v2.4h-2.4zM474.2 380.7h2.4v2.4h-2.4zM931.4 338.1h2.4v2.4h-2.4zM614.0 377.5h2.4v2.4h-2.4zM935.9 360.8h2.4v2.4h-2.4zM923.0 351.2h2.4v2.4h-2.4zM530.6 402.3h2.4v2.4h-2.4zM258.8 360.8h2.4v2.4h-2.4zM870.1 351.8h2.4v2.4h-2.4zM225.6 345.1h2.4v2.4h-2.4zM159.8 360.4h2.4v2.4h-2.4zM668.4 356.7h2.4v2.4h-2.4zM218.2 354.9h2.4v2.4h-2.4zM240.2 350.4h2.4v2.4h-2.4zM895.2 349.8h2.4v2.4h-2.4zM552.0 377.0h2.4v2.4h-2.4zM314.7 364.1h2.4v2.4h-2.4zM436.1 361.2h2.4v2.4h-2.4zM760.1 361.2h2.4v2.4h-2.4zM840.4 358.5h2.4v2.4h-2.4zM844.4 351.7h2.4v2.4h-2.4zM215.8 358.6h2.4v2.4h-2.4zM131.4 351.5h2.4v2.4h-2.4zM766.2 357.7h2.4v2.4h-2.4zM169.6 350.4h2.4v2.4h-2.4zM907.1 347.8h2.4v2.4h-2.4zM655.2 366.6h2.4v2.4h-2.4zM753.4 350.6h2.4v2.4h-2.4zM204.2 343.5h2.4v2.4h-2.4zM150.6 359.3h2.4v2.4h-2.4zM840.0 354.0h2.4v2.4h-2.4zM905.5 354.4h2.4v2.4h-2.4zM773.0 355.0h2.4v2.4h-2.4zM724.3 361.8h2.4v2.4h-2.4zM275.3 366.3h2.4v2.4h-2.4zM124.9 347.7h2.4v2.4h-2.4zM586.2 376.6h2.4v2.4h-2.4zM333.0 359.6h2.4v2.4h-2.4zM920.6 353.4h2.4v2.4h-2.4zM859.2 337.8h2.4v2.4h-2.4zM219.5 361.0h2.4v2.4h-2.4zM719.6 370.9h2.4v2.4h-2.4zM350.0 367.4h2.4v2.4h-2.4zM427.9 370.2h2.4v2.4h-2.4zM902.4 352.8h2.4v2.4h-2.4zM169.5 354.4h2.4v2.4h-2.4zM251.4 353.3h2.4v2.4h-2.4zM868.9 347.3h2.4v2.4h-2.4zM852.9 349.1h2.4v2.4h-2.4zM653.9 371.7h2.4v2.4h-2.4zM274.9 358.9h2.4v2.4h-2.4zM943.5 350.6h2.4v2.4h-2.4zM124.2 347.8h2.4v2.4h-2.4zM932.5 346.1h2.4v2.4h-2.4zM166.7 359.8h2.4v2.4h-2.4zM131.7 349.9h2.4v2.4h-2.4zM472.1 377.3h2.4v2.4h-2.4zM669.7 374.6h2.4v2.4h-2.4zM791.2 362.9h2.4v2.4h-2.4zM328.7 362.7h2.4v2.4h-2.4zM893.8 364.1h2.4v2.4h-2.4zM813.1 357.7h2.4v2.4h-2.4zM730.8 370.4h2.4v2.4h-2.4zM362.8 360.7h2.4v2.4h-2.4zM729.4 359.2h2.4v2.4h-2.4zM665.0 366.1h2.4v2.4h-2.4zM867.6 359.3h2.4v2.4h-2.4zM829.6 354.0h2.4v2.4h-2.4zM356.2 370.3h2.4v2.4h-2.4zM388.9 362.0h2.4v2.4h-2.4zM892.8 346.9h2.4v2.4h-2.4zM703.1 363.0h2.4v2.4h-2.4zM644.4 359.7h2.4v2.4h-2.4zM727.8 368.7h2.4v2.4h-2.4zM167.2 357.9h2.4v2.4h-2.4zM119.9 347.9h2.4v2.4h-2.4zM748.1 351.3h2.4v2.4h-2.4zM892.0 352.2h2.4v2.4h-2.4zM595.2 375.6h2.4v2.4h-2.4zM892.1 349.0h2.4v2.4h-2.4zM872.1 351.0h2.4v2.4h-2.4zM808.5 361.1h2.4v2.4h-2.4zM874.6 354.6h2.4v2.4h-2.4zM673.9 370.1h2.4v2.4h-2.4zM512.8 374.2h2.4v2.4h-2.4zM421.1 377.5h2.4v2.4h-2.4zM737.1 361.1h2.4v2.4h-2.4zM830.6 348.6h2.4v2.4h-2.4zM275.5 367.3h2.4v2.4h-2.4zM233.5 356.5h2.4v2.4h-2.4zM277.6 356.0h2.4v2.4h-2.4zM719.4 374.3h2.4v2.4h-2.4zM467.6 382.5h2.4v2.4h-2.4zM552.5 364.8h2.4v2.4h-2.4zM406.2 372.3h2.4v2.4h-2.4zM298.4 362.3h2.4v2.4h-2.4zM737.2 369.2h2.4v2.4h-2.4zM739.5 357.6h2.4v2.4h-2.4zM774.2 354.0h2.4v2.4h-2.4zM843.0 354.6h2.4v2.4h-2.4zM864.8 356.8h2.4v2.4h-2.4zM280.9 353.1h2.4v2.4h-2.4zM808.3 355.6h2.4v2.4h-2.4zM883.3 360.2h2.4v2.4h-2.4zM208.1 356.9h2.4v2.4h-2.4zM929.4 347.8h2.4v2.4h-2.4zM594.9 399.4h2.4v2.4h-2.4zM708.3 358.6h2.4v2.4h-2.4zM787.1 351.5h2.4v2.4h-2.4zM406.2 366.5h2.4v2.4h-2.4zM415.6 363.8h2.4v2.4h-2.4zM802.5 349.3h2.4v2.4h-2.4zM274.3 350.2h2.4v2.4h-2.4zM155.1 348.9h2.4v2.4h-2.4zM245.0 347.4h2.4v2.4h-2.4zM166.5 346.8h2.4v2.4h-2.4zM806.1 361.7h2.4v2.4h-2.4zM192.5 352.1h2.4v2.4h-2.4zM179.9 352.3h2.4v2.4h-2.4zM684.2 368.6h2.4v2.4h-2.4zM234.5 359.6h2.4v2.4h-2.4zM788.8 357.7h2.4v2.4h-2.4zM795.1 360.4h2.4v2.4h-2.4zM495.3 389.9h2.4v2.4h-2.4zM807.6 350.1h2.4v2.4h-2.4zM689.3 371.6h2.4v2.4h-2.4zM254.7 351.6h2.4v2.4h-2.4zM509.4 379.5h2.4v2.4h-2.4zM274.9 356.7h2.4v2.4h-2.4zM538.9 381.3h2.4v2.4h-2.4zM853.9 345.7h2.4v2.4h-2.4zM755.0 363.1h2.4v2.4h-2.4zM630.9 375.9h2.4v2.4h-2.4zM558.5 390.6h2.4v2.4h-2.4zM350.3 368.3h2.4v2.4h-2.4zM690.5 369.1h2.4v2.4h-2.4zM174.0 354.5h2.4v2.4h-2.4zM937.4 355.0h2.4v2.4h-2.4zM205.1 346.0h2.4v2.4h-2.4zM209.5 349.9h2.4v2.4h-2.4zM197.3 358.4h2.4v2.4h-2.4zM943.3 355.0h2.4v2.4h-2.4zM856.1 349.1h2.4v2.4h-2.4zM249.0 363.9h2.4v2.4h-2.4zM618.9 368.1h2.4v2.4h-2.4zM213.3 348.9h2.4v2.4h-2.4zM189.3 356.1h2.4v2.4h-2.4zM181.1 365.6h2.4v2.4h-2.4zM750.3 359.8h2.4v2.4h-2.4zM849.9 356.4h2.4v2.4h-2.4zM884.2 351.6h2.4v2.4h-2.4zM157.2 354.3h2.4v2.4h-2.4zM714.0 355.0h2.4v2.4h-2.4zM219.9 357.9h2.4v2.4h-2.4zM203.7 348.5h2.4v2.4h-2.4zM841.8 358.5h2.4v2.4h-2.4zM227.9 349.8h2.4v2.4h-2.4zM779.3 354.4h2.4v2.4h-2.4zM686.5 364.3h2.4v2.4h-2.4zM406.1 374.1h2.4v2.4h-2.4zM295.5 352.3h2.4v2.4h-2.4zM810.7 370.8h2.4v2.4h-2.4zM142.7 349.2h2.4v2.4h-2.4zM578.0 367.9h2.4v2.4h-2.4zM180.4 351.3h2.4v2.4h-2.4zM327.3 365.8h2.4v2.4h-2.4zM292.1 365.8h2.4v2.4h-2.4zM358.8 356.7h2.4v2.4h-2.4zM798.0 358.3h2.4v2.4h-2.4zM617.1 363.4h2.4v2.4h-2.4zM872.7 352.0h2.4v2.4h-2.4zM243.2 354.4h2.4v2.4h-2.4zM235.1 356.7h2.4v2.4h-2.4zM409.4 373.5h2.4v2.4h-2.4zM249.6 349.4h2.4v2.4h-2.4zM330.1 355.3h2.4v2.4h-2.4zM824.8 351.4h2.4v2.4h-2.4zM490.9 370.6h2.4v2.4h-2.4zM431.4 370.3h2.4v2.4h-2.4zM248.1 360.6h2.4v2.4h-2.4zM361.6 364.7h2.4v2.4h-2.4zM922.3 352.8h2.4v2.4h-2.4zM704.4 353.7h2.4v2.4h-2.4zM145.2 351.0h2.4v2.4h-2.4zM368.1 365.5h2.4v2.4h-2.4zM289.4 356.7h2.4v2.4h-2.4zM387.7 371.1h2.4v2.4h-2.4zM116.3 350.5h2.4v2.4h-2.4zM139.4 355.3h2.4v2.4h-2.4zM162.8 353.2h2.4v2.4h-2.4zM547.1 382.5h2.4v2.4h-2.4zM169.4 344.7h2.4v2.4h-2.4zM783.0 360.0h2.4v2.4h-2.4zM219.4 344.6h2.4v2.4h-2.4zM155.5 351.7h2.4v2.4h-2.4zM814.6 359.9h2.4v2.4h-2.4zM114.7 342.6h2.4v2.4h-2.4zM661.2 373.6h2.4v2.4h-2.4zM468.6 359.7h2.4v2.4h-2.4zM193.5 354.5h2.4v2.4h-2.4zM516.4 385.2h2.4v2.4h-2.4zM774.9 354.4h2.4v2.4h-2.4zM156.5 351.7h2.4v2.4h-2.4zM203.0 352.3h2.4v2.4h-2.4zM607.2 371.1h2.4v2.4h-2.4zM787.2 361.1h2.4v2.4h-2.4zM933.3 347.5h2.4v2.4h-2.4zM428.9 364.0h2.4v2.4h-2.4zM742.6 369.3h2.4v2.4h-2.4zM417.0 356.4h2.4v2.4h-2.4zM676.4 363.9h2.4v2.4h-2.4zM156.3 353.7h2.4v2.4h-2.4zM159.2 356.6h2.4v2.4h-2.4zM827.3 365.1h2.4v2.4h-2.4zM305.6 357.6h2.4v2.4h-2.4zM784.5 356.7h2.4v2.4h-2.4zM128.5 352.9h2.4v2.4h-2.4zM671.0 359.4h2.4v2.4h-2.4zM241.3 358.0h2.4v2.4h-2.4zM187.6 352.1h2.4v2.4h-2.4zM217.9 353.2h2.4v2.4h-2.4zM688.6 352.1h2.4v2.4h-2.4zM917.1 354.0h2.4v2.4h-2.4zM896.0 351.9h2.4v2.4h-2.4zM131.0 349.8h2.4v2.4h-2.4zM218.7 347.0h2.4v2.4h-2.4zM349.6 359.4h2.4v2.4h-2.4zM300.0 358.4h2.4v2.4h-2.4zM790.6 362.2h2.4v2.4h-2.4zM919.1 351.2h2.4v2.4h-2.4zM205.0 355.1h2.4v2.4h-2.4zM891.6 356.5h2.4v2.4h-2.4zM146.8 344.4h2.4v2.4h-2.4zM393.0 371.1h2.4v2.4h-2.4zM281.1 355.4h2.4v2.4h-2.4zM850.8 356.8h2.4v2.4h-2.4zM684.4 354.2h2.4v2.4h-2.4zM364.1 361.1h2.4v2.4h-2.4zM412.3 364.0h2.4v2.4h-2.4zM146.0 354.9h2.4v2.4h-2.4zM915.2 358.0h2.4v2.4h-2.4zM471.9 362.4h2.4v2.4h-2.4zM326.2 363.2h2.4v2.4h-2.4zM428.5 374.9h2.4v2.4h-2.4zM555.8 392.5h2.4v2.4h-2.4zM892.8 347.0h2.4v2.4h-2.4zM289.1 364.2h2.4v2.4h-2.4zM275.3 350.6h2.4v2.4h-2.4zM398.9 362.8h2.4v2.4h-2.4zM440.2 381.0h2.4v2.4h-2.4zM364.1 378.1h2.4v2.4h-2.4zM871.0 364.3h2.4v2.4h-2.4zM238.4 350.5h2.4v2.4h-2.4zM348.7 362.4h2.4v2.4h-2.4zM938.7 361.4h2.4v2.4h-2.4zM496.4 371.1h2.4v2.4h-2.4zM359.6 373.6h2.4v2.4h-2.4zM924.3 355.9h2.4v2.4h-2.4zM671.7 377.5h2.4v2.4h-2.4zM474.2 361.1h2.4v2.4h-2.4zM217.8 356.2h2.4v2.4h-2.4zM327.2 367.0h2.4v2.4h-2.4zM421.0 366.5h2.4v2.4h-2.4zM340.5 363.8h2.4v2.4h-2.4zM893.4 355.8h2.4v2.4h-2.4zM380.9 369.2h2.4v2.4h-2.4zM852.3 355.3h2.4v2.4h-2.4zM718.2 364.1h2.4v2.4h-2.4zM328.3 352.6h2.4v2.4h-2.4zM912.2 355.6h2.4v2.4h-2.4zM910.3 345.8h2.4v2.4h-2.4zM720.8 376.5h2.4v2.4h-2.4zM756.5 359.4h2.4v2.4h-2.4zM827.5 355.4h2.4v2.4h-2.4zM928.8 354.6h2.4v2.4h-2.4zM312.2 358.9h2.4v2.4h-2.4zM703.1 363.1h2.4v2.4h-2.4zM254.2 362.3h2.4v2.4h-2.4zM508.4 371.7h2.4v2.4h-2.4zM606.2 373.4h2.4v2.4h-2.4zM374.8 361.6h2.4v2.4h-2.4zM411.8 370.9h2.4v2.4h-2.4zM374.2 363.3h2.4v2.4h-2.4zM667.0 375.2h2.4v2.4h-2.4zM337.3 366.9h2.4v2.4h-2.4zM371.3 362.7h2.4v2.4h-2.4zM859.5 356.1h2.4v2.4h-2.4zM895.6 355.1h2.4v2.4h-2.4zM889.1 345.5h2.4v2.4h-2.4zM302.0 360.4h2.4v2.4h-2.4zM769.9 358.4h2.4v2.4h-2.4zM201.1 354.5h2.4v2.4h-2.4zM250.9 361.7h2.4v2.4h-2.4zM129.8 347.5h2.4v2.4h-2.4zM169.9 349.4h2.4v2.4h-2.4zM904.5 353.9h2.4v2.4h-2.4zM679.8 375.0h2.4v2.4h-2.4zM934.4 356.4h2.4v2.4h-2.4zM318.7 364.9h2.4v2.4h-2.4zM375.6 374.2h2.4v2.4h-2.4zM893.9 345.2h2.4v2.4h-2.4zM674.3 373.3h2.4v2.4h-2.4zM922.2 343.6h2.4v2.4h-2.4zM852.7 358.2h2.4v2.4h-2.4zM420.7 355.1h2.4v2.4h-2.4zM678.3 364.4h2.4v2.4h-2.4zM934.4 353.5h2.4v2.4h-2.4zM561.2 373.1h2.4v2.4h-2.4zM406.2 377.0h2.4v2.4h-2.4zM176.2 354.6h2.4v2.4h-2.4zM224.4 361.0h2.4v2.4h-2.4zM325.0 377.4h2.4v2.4h-2.4zM174.6 347.6h2.4v2.4h-2.4zM304.9 368.8h2.4v2.4h-2.4zM133.7 345.9h2.4v2.4h-2.4zM287.8 369.0h2.4v2.4h-2.4zM845.8 357.1h2.4v2.4h-2.4zM529.1 394.0h2.4v2.4h-2.4zM281.8 357.9h2.4v2.4h-2.4zM592.4 390.4h2.4v2.4h-2.4zM881.9 355.8h2.4v2.4h-2.4zM757.6 364.0h2.4v2.4h-2.4zM776.9 364.5h2.4v2.4h-2.4zM216.4 352.1h2.4v2.4h-2.4zM411.1 366.4h2.4v2.4h-2.4zM311.5 371.5h2.4v2.4h-2.4zM283.7 369.6h2.4v2.4h-2.4zM230.5 355.0h2.4v2.4h-2.4zM815.0 353.2h2.4v2.4h-2.4zM278.3 357.2h2.4v2.4h-2.4zM253.6 360.6h2.4v2.4h-2.4zM357.9 366.3h2.4v2.4h-2.4zM210.1 353.7h2.4v2.4h-2.4zM158.2 348.3h2.4v2.4h-2.4zM771.2 356.9h2.4v2.4h-2.4zM816.6 356.6h2.4v2.4h-2.4zM723.8 357.5h2.4v2.4h-2.4zM127.9 350.9h2.4v2.4h-2.4zM560.6 368.4h2.4v2.4h-2.4zM416.0 385.2h2.4v2.4h-2.4zM723.6 363.0h2.4v2.4h-2.4zM441.9 368.2h2.4v2.4h-2.4zM265.8 356.6h2.4v2.4h-2.4zM841.0 347.6h2.4v2.4h-2.4zM913.6 351.9h2.4v2.4h-2.4zM243.9 350.7h2.4v2.4h-2.4zM939.6 348.7h2.4v2.4h-2.4zM149.6 348.5h2.4v2.4h-2.4zM149.6 355.7h2.4v2.4h-2.4zM329.5 366.2h2.4v2.4h-2.4zM790.9 353.2h2.4v2.4h-2.4zM299.4 357.5h2.4v2.4h-2.4zM210.5 355.8h2.4v2.4h-2.4zM751.2 362.0h2.4v2.4h-2.4zM841.9 361.1h2.4v2.4h-2.4zM941.4 349.0h2.4v2.4h-2.4zM708.0 368.7h2.4v2.4h-2.4zM851.8 356.5h2.4v2.4h-2.4zM868.8 353.2h2.4v2.4h-2.4zM758.4 362.8h2.4v2.4h-2.4zM361.8 363.2h2.4v2.4h-2.4zM781.8 361.1h2.4v2.4h-2.4zM272.2 359.6h2.4v2.4h-2.4zM845.8 354.3h2.4v2.4h-2.4zM934.0 342.8h2.4v2.4h-2.4zM373.0 369.3h2.4v2.4h-2.4zM906.6 340.1h2.4v2.4h-2.4zM157.1 352.7h2.4v2.4h-2.4zM549.0 381.0h2.4v2.4h-2.4zM869.9 355.5h2.4v2.4h-2.4zM719.4 367.1h2.4v2.4h-2.4zM921.1 356.3h2.4v2.4h-2.4zM245.5 350.5h2.4v2.4h-2.4zM625.0 371.4h2.4v2.4h-2.4zM608.8 367.8h2.4v2.4h-2.4zM662.3 381.1h2.4v2.4h-2.4zM736.7 369.6h2.4v2.4h-2.4zM771.0 360.4h2.4v2.4h-2.4zM496.1 360.9h2.4v2.4h-2.4zM252.5 358.6h2.4v2.4h-2.4zM209.8 352.3h2.4v2.4h-2.4zM673.7 371.4h2.4v2.4h-2.4zM412.5 375.5h2.4v2.4h-2.4zM475.6 383.5h2.4v2.4h-2.4zM289.1 352.5h2.4v2.4h-2.4zM129.0 358.6h2.4v2.4h-2.4zM372.2 372.3h2.4v2.4h-2.4zM153.5 349.0h2.4v2.4h-2.4zM132.1 348.9h2.4v2.4h-2.4zM264.5 359.5h2.4v2.4h-2.4zM170.5 354.7h2.4v2.4h-2.4zM385.2 375.5h2.4v2.4h-2.4zM770.3 360.3h2.4v2.4h-2.4zM262.6 353.3h2.4v2.4h-2.4zM428.5 375.4h2.4v2.4h-2.4zM347.4 349.8h2.4v2.4h-2.4zM496.0 372.8h2.4v2.4h-2.4zM207.2 358.6h2.4v2.4h-2.4zM224.1 359.1h2.4v2.4h-2.4zM252.4 359.6h2.4v2.4h-2.4zM139.6 348.9h2.4v2.4h-2.4zM838.4 350.3h2.4v2.4h-2.4zM264.9 364.5h2.4v2.4h-2.4zM486.6 374.8h2.4v2.4h-2.4zM702.0 365.9h2.4v2.4h-2.4zM938.8 354.2h2.4v2.4h-2.4zM407.3 379.8h2.4v2.4h-2.4zM829.0 349.3h2.4v2.4h-2.4zM173.9 350.6h2.4v2.4h-2.4zM725.1 356.7h2.4v2.4h-2.4zM739.6 358.9h2.4v2.4h-2.4zM435.7 371.4h2.4v2.4h-2.4zM886.9 348.9h2.4v2.4h-2.4zM795.6 360.8h2.4v2.4h-2.4zM222.8 358.5h2.4v2.4h-2.4zM323.6 362.8h2.4v2.4h-2.4zM486.6 378.5h2.4v2.4h-2.4zM136.7 357.3h2.4v2.4h-2.4zM190.2 356.1h2.4v2.4h-2.4zM787.6 359.4h2.4v2.4h-2.4zM854.4 351.2h2.4v2.4h-2.4zM805.5 355.6h2.4v2.4h-2.4zM463.5 371.6h2.4v2.4h-2.4zM935.3 357.4h2.4v2.4h-2.4zM924.7 340.4h2.4v2.4h-2.4zM826.2 349.4h2.4v2.4h-2.4zM627.0 382.1h2.4v2.4h-2.4zM141.8 350.7h2.4v2.4h-2.4zM913.3 352.3h2.4v2.4h-2.4zM232.9 361.3h2.4v2.4h-2.4zM879.7 352.9h2.4v2.4h-2.4zM221.1 361.8h2.4v2.4h-2.4zM764.4 355.5h2.4v2.4h-2.4zM230.4 354.6h2.4v2.4h-2.4zM901.2 349.7h2.4v2.4h-2.4zM296.3 364.6h2.4v2.4h-2.4zM369.6 362.3h2.4v2.4h-2.4zM121.4 339.2h2.4v2.4h-2.4zM144.5 357.7h2.4v2.4h-2.4zM874.2 357.1h2.4v2.4h-2.4zM755.2 361.4h2.4v2.4h-2.4zM937.7 345.8h2.4v2.4h-2.4zM145.4 347.5h2.4v2.4h-2.4zM142.7 349.0h2.4v2.4h-2.4zM254.8 346.2h2.4v2.4h-2.4zM750.2 363.4h2.4v2.4h-2.4zM326.4 359.9h2.4v2.4h-2.4zM877.8 349.4h2.4v2.4h-2.4zM925.9 358.7h2.4v2.4h-2.4zM311.7 361.6h2.4v2.4h-2.4zM561.6 371.4h2.4v2.4h-2.4zM823.6 369.8h2.4v2.4h-2.4zM884.9 349.3h2.4v2.4h-2.4zM497.5 373.7h2.4v2.4h-2.4zM135.6 348.8h2.4v2.4h-2.4z"/><path stroke="#fac435" d="M516.0 378.6h2.4v2.4h-2.4zM459.8 373.1h2.4v2.4h-2.4zM487.3 376.0h2.4v2.4h-2.4zM600.5 366.1h2.4v2.4h-2.4zM691.3 374.9h2.4v2.4h-2.4zM605.4 363.3h2.4v2.4h-2.4zM762.8 372.6h2.4v2.4h-2.4zM867.5 358.5h2.4v2.4h-2.4zM607.6 373.2h2.4v2.4h-2.4zM387.3 370.6h2.4v2.4h-2.4zM294.5 358.5h2.4v2.4h-2.4zM338.7 371.2h2.4v2.4h-2.4zM532.4 363.7h2.4v2.4h-2.4zM454.6 383.4h2.4v2.4h-2.4zM760.2 367.0h2.4v2.4h-2.4zM477.6 368.0h2.4v2.4h-2.4zM496.4 358.5h2.4v2.4h-2.4zM538.7 377.7h2.4v2.4h-2.4zM407.6 373.1h2.4v2.4h-2.4zM753.3 369.8h2.4v2.4h-2.4zM871.6 363.6h2.4v2.4h-2.4zM259.6 363.3h2.4v2.4h-2.4zM351.9 365.7h2.4v2.4h-2.4zM322.9 363.3h2.4v2.4h-2.4zM715.2 370.7h2.4v2.4h-2.4zM332.6 363.4h2.4v2.4h-2.4zM592.8 379.7h2.4v2.4h-2.4zM349.1 362.7h2.4v2.4h-2.4zM556.8 372.5h2.4v2.4h-2.4zM503.9 368.4h2.4v2.4h-2.4zM172.1 366.7h2.4v2.4h-2.4zM441.1 369.9h2.4v2.4h-2.4zM248.3 356.8h2.4v2.4h-2.4zM830.8 363.8h2.4v2.4h-2.4zM745.0 371.1h2.4v2.4h-2.4zM930.6 361.8h2.4v2.4h-2.4zM456.7 380.5h2.4v2.4h-2.4zM287.4 372.7h2.4v2.4h-2.4zM724.5 371.2h2.4v2.4h-2.4zM567.2 371.2h2.4v2.4h-2.4zM442.7 367.2h2.4v2.4h-2.4zM748.1 366.0h2.4v2.4h-2.4zM738.6 369.6h2.4v2.4h-2.4zM443.6 379.7h2.4v2.4h-2.4zM682.0 359.2h2.4v2.4h-2.4zM564.7 370.9h2.4v2.4h-2.4zM698.1 366.2h2.4v2.4h-2.4zM495.5 372.1h2.4v2.4h-2.4zM552.4 377.4h2.4v2.4h-2.4zM749.0 370.6h2.4v2.4h-2.4zM747.9 368.4h2.4v2.4h-2.4zM240.0 361.9h2.4v2.4h-2.4zM716.8 361.8h2.4v2.4h-2.4zM569.1 366.2h2.4v2.4h-2.4zM759.3 360.8h2.4v2.4h-2.4zM827.4 364.4h2.4v2.4h-2.4zM602.5 365.1h2.4v2.4h-2.4zM521.2 388.4h2.4v2.4h-2.4zM476.7 379.0h2.4v2.4h-2.4zM663.7 371.2h2.4v2.4h-2.4zM431.7 370.5h2.4v2.4h-2.4zM621.7 385.0h2.4v2.4h-2.4zM187.9 361.8h2.4v2.4h-2.4zM329.2 365.0h2.4v2.4h-2.4zM166.4 362.8h2.4v2.4h-2.4zM606.2 372.6h2.4v2.4h-2.4zM593.4 381.4h2.4v2.4h-2.4zM462.4 368.2h2.4v2.4h-2.4zM539.7 373.0h2.4v2.4h-2.4zM615.7 367.2h2.4v2.4h-2.4zM198.5 360.4h2.4v2.4h-2.4zM554.0 369.5h2.4v2.4h-2.4zM200.7 369.5h2.4v2.4h-2.4zM843.2 366.0h2.4v2.4h-2.4zM639.4 372.3h2.4v2.4h-2.4zM726.3 374.6h2.4v2.4h-2.4zM813.1 367.6h2.4v2.4h-2.4zM566.2 375.6h2.4v2.4h-2.4zM362.1 372.5h2.4v2.4h-2.4zM628.3 354.2h2.4v2.4h-2.4zM406.7 366.2h2.4v2.4h-2.4zM898.1 367.0h2.4v2.4h-2.4zM802.4 364.5h2.4v2.4h-2.4zM870.7 362.4h2.4v2.4h-2.4zM435.5 372.9h2.4v2.4h-2.4zM518.8 390.0h2.4v2.4h-2.4zM277.3 359.3h2.4v2.4h-2.4zM700.8 369.7h2.4v2.4h-2.4zM724.3 373.1h2.4v2.4h-2.4zM717.3 360.2h2.4v2.4h-2.4zM360.7 368.6h2.4v2.4h-2.4zM289.5 365.9h2.4v2.4h-2.4zM206.6 363.9h2.4v2.4h-2.4zM780.9 362.0h2.4v2.4h-2.4zM479.6 363.5h2.4v2.4h-2.4zM566.7 366.1h2.4v2.4h-2.4zM615.4 373.2h2.4v2.4h-2.4zM482.9 373.9h2.4v2.4h-2.4zM475.2 373.7h2.4v2.4h-2.4zM570.6 374.0h2.4v2.4h-2.4zM597.2 373.1h2.4v2.4h-2.4zM355.9 377.0h2.4v2.4h-2.4zM828.9 355.6h2.4v2.4h-2.4zM846.6 363.9h2.4v2.4h-2.4zM608.1 380.6h2.4v2.4h-2.4zM442.0 383.4h2.4v2.4h-2.4zM571.4 372.5h2.4v2.4h-2.4zM734.5 370.9h2.4v2.4h-2.4zM599.2 381.3h2.4v2.4h-2.4zM808.2 359.2h2.4v2.4h-2.4zM705.1 363.8h2.4v2.4h-2.4zM590.9 366.8h2.4v2.4h-2.4zM215.5 369.7h2.4v2.4h-2.4zM870.9 366.9h2.4v2.4h-2.4zM389.1 368.4h2.4v2.4h-2.4zM505.4 370.8h2.4v2.4h-2.4zM609.0 380.7h2.4v2.4h-2.4zM229.4 363.3h2.4v2.4h-2.4zM587.2 380.9h2.4v2.4h-2.4zM525.8 371.5h2.4v2.4h-2.4zM926.1 365.4h2.4v2.4h-2.4zM303.5 366.1h2.4v2.4h-2.4zM165.7 364.6h2.4v2.4h-2.4zM519.2 383.7h2.4v2.4h-2.4zM573.1 383.7h2.4v2.4h-2.4zM475.2 368.8h2.4v2.4h-2.4zM264.4 369.7h2.4v2.4h-2.4zM202.0 369.1h2.4v2.4h-2.4zM933.6 364.3h2.4v2.4h-2.4zM573.8 371.9h2.4v2.4h-2.4zM157.5 366.0h2.4v2.4h-2.4zM923.5 366.6h2.4v2.4h-2.4zM465.9 367.4h2.4v2.4h-2.4zM727.3 369.7h2.4v2.4h-2.4zM300.7 366.1h2.4v2.4h-2.4zM919.2 369.0h2.4v2.4h-2.4zM435.5 368.2h2.4v2.4h-2.4zM480.7 372.8h2.4v2.4h-2.4zM240.9 363.7h2.4v2.4h-2.4zM526.4 372.4h2.4v2.4h-2.4zM338.9 372.4h2.4v2.4h-2.4zM298.8 364.0h2.4v2.4h-2.4zM314.5 363.7h2.4v2.4h-2.4zM531.6 365.8h2.4v2.4h-2.4zM547.4 373.2h2.4v2.4h-2.4zM361.3 362.9h2.4v2.4h-2.4zM667.5 372.9h2.4v2.4h-2.4zM550.2 384.7h2.4v2.4h-2.4zM666.2 356.5h2.4v2.4h-2.4zM337.7 374.3h2.4v2.4h-2.4zM782.8 365.4h2.4v2.4h-2.4zM601.6 367.2h2.4v2.4h-2.4zM467.7 363.1h2.4v2.4h-2.4zM363.3 366.3h2.4v2.4h-2.4zM687.1 373.5h2.4v2.4h-2.4zM372.8 377.6h2.4v2.4h-2.4zM432.5 379.4h2.4v2.4h-2.4zM639.1 376.2h2.4v2.4h-2.4zM594.9 380.6h2.4v2.4h-2.4zM609.4 376.0h2.4v2.4h-2.4zM315.2 360.8h2.4v2.4h-2.4zM305.2 368.9h2.4v2.4h-2.4zM624.8 375.7h2.4v2.4h-2.4zM663.8 373.1h2.4v2.4h-2.4zM230.0 370.4h2.4v2.4h-2.4zM505.2 383.9h2.4v2.4h-2.4zM449.3 363.2h2.4v2.4h-2.4zM576.4 382.1h2.4v2.4h-2.4z"/><path stroke="#2eb7a4" d="M239.6 361.1h2.4v2.4h-2.4zM893.8 366.3h2.4v2.4h-2.4zM466.9 376.1h2.4v2.4h-2.4zM588.0 373.8h2.4v2.4h-2.4zM493.2 373.1h2.4v2.4h-2.4zM443.8 372.5h2.4v2.4h-2.4zM666.4 368.2h2.4v2.4h-2.4zM264.8 358.1h2.4v2.4h-2.4zM230.1 354.7h2.4v2.4h-2.4zM930.5 360.0h2.4v2.4h-2.4zM710.2 377.3h2.4v2.4h-2.4zM261.6 363.5h2.4v2.4h-2.4z"/><path stroke="#1f7fd9" d="M136.3 371.5h2.4v2.4h-2.4zM847.3 367.2h2.4v2.4h-2.4zM509.7 369.3h2.4v2.4h-2.4zM826.0 368.6h2.4v2.4h-2.4zM363.5 363.5h2.4v2.4h-2.4zM730.5 371.5h2.4v2.4h-2.4zM180.4 370.9h2.4v2.4h-2.4zM689.3 367.2h2.4v2.4h-2.4zM881.2 369.8h2.4v2.4h-2.4zM278.3 364.9h2.4v2.4h-2.4zM444.7 381.8h2.4v2.4h-2.4zM894.2 365.5h2.4v2.4h-2.4z"/><path stroke="#fbf30c" d="M551.8 370.0h2.4v2.4h-2.4zM356.2 365.9h2.4v2.4h-2.4zM549.6 362.6h2.4v2.4h-2.4zM695.0 367.7h2.4v2.4h-2.4zM357.3 367.0h2.4v2.4h-2.4zM916.2 373.5h2.4v2.4h-2.4zM365.9 371.6h2.4v2.4h-2.4zM626.4 370.7h2.4v2.4h-2.4zM715.7 370.7h2.4v2.4h-2.4zM681.4 364.9h2.4v2.4h-2.4zM633.0 369.3h2.4v2.4h-2.4zM442.8 380.4h2.4v2.4h-2.4zM136.6 367.8h2.4v2.4h-2.4zM405.6 379.2h2.4v2.4h-2.4zM732.5 363.3h2.4v2.4h-2.4zM155.0 364.4h2.4v2.4h-2.4zM406.2 371.9h2.4v2.4h-2.4zM135.7 367.7h2.4v2.4h-2.4zM178.6 373.5h2.4v2.4h-2.4zM521.2 363.4h2.4v2.4h-2.4zM453.7 364.2h2.4v2.4h-2.4zM407.7 369.2h2.4v2.4h-2.4zM250.6 365.5h2.4v2.4h-2.4zM580.3 375.5h2.4v2.4h-2.4zM506.0 373.8h2.4v2.4h-2.4zM728.6 378.3h2.4v2.4h-2.4zM682.3 377.3h2.4v2.4h-2.4zM735.8 365.8h2.4v2.4h-2.4zM387.7 368.2h2.4v2.4h-2.4zM510.2 365.8h2.4v2.4h-2.4zM221.4 359.0h2.4v2.4h-2.4zM367.7 371.5h2.4v2.4h-2.4zM299.3 374.0h2.4v2.4h-2.4zM566.4 379.5h2.4v2.4h-2.4zM711.6 370.4h2.4v2.4h-2.4zM202.2 361.1h2.4v2.4h-2.4zM750.0 364.9h2.4v2.4h-2.4zM610.8 364.6h2.4v2.4h-2.4zM218.9 366.8h2.4v2.4h-2.4zM545.7 371.6h2.4v2.4h-2.4zM455.8 375.7h2.4v2.4h-2.4zM747.0 365.8h2.4v2.4h-2.4zM503.3 356.3h2.4v2.4h-2.4zM677.0 363.6h2.4v2.4h-2.4zM185.0 365.7h2.4v2.4h-2.4zM215.5 363.9h2.4v2.4h-2.4zM599.4 386.1h2.4v2.4h-2.4zM776.4 366.7h2.4v2.4h-2.4zM805.2 368.3h2.4v2.4h-2.4zM708.1 374.5h2.4v2.4h-2.4zM326.1 369.3h2.4v2.4h-2.4zM722.1 364.9h2.4v2.4h-2.4zM218.9 362.1h2.4v2.4h-2.4zM139.3 358.2h2.4v2.4h-2.4zM356.1 360.0h2.4v2.4h-2.4zM706.1 360.0h2.4v2.4h-2.4zM418.1 369.4h2.4v2.4h-2.4zM392.2 385.3h2.4v2.4h-2.4zM606.3 384.6h2.4v2.4h-2.4zM284.1 359.3h2.4v2.4h-2.4zM392.8 379.8h2.4v2.4h-2.4zM521.9 377.2h2.4v2.4h-2.4zM413.2 368.7h2.4v2.4h-2.4zM340.5 361.7h2.4v2.4h-2.4zM614.2 368.4h2.4v2.4h-2.4zM627.3 372.8h2.4v2.4h-2.4zM415.0 354.8h2.4v2.4h-2.4zM532.1 367.8h2.4v2.4h-2.4zM628.0 362.0h2.4v2.4h-2.4zM460.6 382.6h2.4v2.4h-2.4zM478.0 374.5h2.4v2.4h-2.4zM837.6 370.9h2.4v2.4h-2.4zM936.4 364.7h2.4v2.4h-2.4zM281.6 357.2h2.4v2.4h-2.4zM501.5 369.1h2.4v2.4h-2.4zM357.8 371.2h2.4v2.4h-2.4zM652.6 368.5h2.4v2.4h-2.4zM590.1 364.6h2.4v2.4h-2.4zM580.1 374.8h2.4v2.4h-2.4zM537.4 373.8h2.4v2.4h-2.4zM270.7 367.4h2.4v2.4h-2.4zM422.8 377.2h2.4v2.4h-2.4zM560.5 362.2h2.4v2.4h-2.4zM775.3 364.1h2.4v2.4h-2.4zM866.7 366.6h2.4v2.4h-2.4zM255.7 364.8h2.4v2.4h-2.4zM578.5 370.5h2.4v2.4h-2.4zM209.0 360.6h2.4v2.4h-2.4zM311.6 375.3h2.4v2.4h-2.4zM383.9 367.1h2.4v2.4h-2.4zM391.0 367.5h2.4v2.4h-2.4zM652.4 374.0h2.4v2.4h-2.4zM220.9 358.3h2.4v2.4h-2.4zM563.5 366.3h2.4v2.4h-2.4zM552.1 362.6h2.4v2.4h-2.4zM589.8 363.9h2.4v2.4h-2.4zM944.1 366.0h2.4v2.4h-2.4zM575.3 377.5h2.4v2.4h-2.4zM350.9 363.5h2.4v2.4h-2.4zM484.9 365.3h2.4v2.4h-2.4zM941.2 362.8h2.4v2.4h-2.4zM664.6 370.0h2.4v2.4h-2.4zM769.5 366.5h2.4v2.4h-2.4zM566.8 367.6h2.4v2.4h-2.4zM521.8 375.2h2.4v2.4h-2.4zM648.1 365.3h2.4v2.4h-2.4zM146.2 364.0h2.4v2.4h-2.4zM394.1 363.0h2.4v2.4h-2.4zM647.7 380.0h2.4v2.4h-2.4zM530.5 366.9h2.4v2.4h-2.4zM581.0 372.2h2.4v2.4h-2.4zM566.1 364.0h2.4v2.4h-2.4zM430.1 365.9h2.4v2.4h-2.4zM572.1 364.0h2.4v2.4h-2.4zM326.8 374.3h2.4v2.4h-2.4zM501.5 361.2h2.4v2.4h-2.4zM433.9 372.7h2.4v2.4h-2.4zM755.8 364.6h2.4v2.4h-2.4zM371.3 369.9h2.4v2.4h-2.4zM502.7 370.6h2.4v2.4h-2.4zM363.7 372.4h2.4v2.4h-2.4zM730.1 352.7h2.4v2.4h-2.4zM653.5 373.6h2.4v2.4h-2.4zM562.6 379.8h2.4v2.4h-2.4zM217.8 362.6h2.4v2.4h-2.4zM491.3 372.2h2.4v2.4h-2.4zM465.0 348.3h2.4v2.4h-2.4zM365.2 361.7h2.4v2.4h-2.4zM507.2 376.4h2.4v2.4h-2.4zM581.1 370.5h2.4v2.4h-2.4zM695.5 372.4h2.4v2.4h-2.4zM483.5 377.7h2.4v2.4h-2.4zM285.4 358.5h2.4v2.4h-2.4zM899.3 371.4h2.4v2.4h-2.4zM196.1 364.0h2.4v2.4h-2.4zM459.1 373.7h2.4v2.4h-2.4zM377.2 368.2h2.4v2.4h-2.4zM611.1 375.4h2.4v2.4h-2.4zM567.9 367.6h2.4v2.4h-2.4zM240.5 357.6h2.4v2.4h-2.4zM528.0 378.4h2.4v2.4h-2.4zM298.3 368.2h2.4v2.4h-2.4zM761.1 369.2h2.4v2.4h-2.4zM840.0 359.6h2.4v2.4h-2.4zM484.4 367.1h2.4v2.4h-2.4zM555.6 374.9h2.4v2.4h-2.4zM497.0 370.6h2.4v2.4h-2.4zM382.6 368.8h2.4v2.4h-2.4zM489.6 380.6h2.4v2.4h-2.4zM424.2 375.5h2.4v2.4h-2.4zM621.5 371.7h2.4v2.4h-2.4zM676.8 374.7h2.4v2.4h-2.4zM862.3 362.5h2.4v2.4h-2.4zM320.2 364.4h2.4v2.4h-2.4zM696.1 373.9h2.4v2.4h-2.4zM644.2 362.3h2.4v2.4h-2.4zM542.1 381.6h2.4v2.4h-2.4zM754.8 362.3h2.4v2.4h-2.4zM626.4 378.5h2.4v2.4h-2.4zM422.1 368.4h2.4v2.4h-2.4zM565.9 372.9h2.4v2.4h-2.4zM527.5 360.8h2.4v2.4h-2.4zM244.6 363.0h2.4v2.4h-2.4zM206.3 367.2h2.4v2.4h-2.4zM821.4 365.7h2.4v2.4h-2.4zM221.9 370.2h2.4v2.4h-2.4zM407.2 377.7h2.4v2.4h-2.4zM607.1 371.6h2.4v2.4h-2.4zM433.0 368.6h2.4v2.4h-2.4zM663.9 372.2h2.4v2.4h-2.4zM514.1 364.3h2.4v2.4h-2.4zM729.0 371.1h2.4v2.4h-2.4zM517.8 359.4h2.4v2.4h-2.4zM490.9 372.8h2.4v2.4h-2.4zM571.3 369.2h2.4v2.4h-2.4zM634.0 370.3h2.4v2.4h-2.4zM545.9 373.5h2.4v2.4h-2.4zM716.7 371.8h2.4v2.4h-2.4zM532.6 357.2h2.4v2.4h-2.4zM178.9 370.4h2.4v2.4h-2.4zM315.3 362.9h2.4v2.4h-2.4zM661.7 377.0h2.4v2.4h-2.4zM634.1 378.9h2.4v2.4h-2.4zM328.8 363.4h2.4v2.4h-2.4zM445.3 370.6h2.4v2.4h-2.4zM380.0 366.1h2.4v2.4h-2.4zM615.1 372.4h2.4v2.4h-2.4zM436.9 372.1h2.4v2.4h-2.4zM585.3 371.7h2.4v2.4h-2.4zM220.7 359.0h2.4v2.4h-2.4zM439.8 376.3h2.4v2.4h-2.4zM660.1 371.6h2.4v2.4h-2.4zM258.1 366.8h2.4v2.4h-2.4zM530.6 365.9h2.4v2.4h-2.4zM427.5 361.5h2.4v2.4h-2.4zM692.6 372.4h2.4v2.4h-2.4zM766.2 361.7h2.4v2.4h-2.4zM308.4 366.6h2.4v2.4h-2.4zM359.8 368.4h2.4v2.4h-2.4zM280.3 367.1h2.4v2.4h-2.4zM738.3 365.3h2.4v2.4h-2.4zM164.0 365.5h2.4v2.4h-2.4zM455.6 372.4h2.4v2.4h-2.4zM181.2 368.3h2.4v2.4h-2.4zM710.8 372.8h2.4v2.4h-2.4zM589.6 370.5h2.4v2.4h-2.4zM573.1 359.2h2.4v2.4h-2.4zM345.7 377.1h2.4v2.4h-2.4zM777.7 364.5h2.4v2.4h-2.4zM295.6 366.0h2.4v2.4h-2.4zM550.6 363.6h2.4v2.4h-2.4zM529.9 381.1h2.4v2.4h-2.4zM533.8 369.2h2.4v2.4h-2.4zM312.9 364.7h2.4v2.4h-2.4zM557.0 366.4h2.4v2.4h-2.4zM412.1 366.0h2.4v2.4h-2.4zM513.4 371.0h2.4v2.4h-2.4zM695.6 368.3h2.4v2.4h-2.4zM524.0 373.4h2.4v2.4h-2.4zM744.7 354.8h2.4v2.4h-2.4zM338.3 369.6h2.4v2.4h-2.4zM774.9 369.6h2.4v2.4h-2.4zM695.2 369.1h2.4v2.4h-2.4zM440.5 374.5h2.4v2.4h-2.4zM548.1 376.4h2.4v2.4h-2.4zM800.7 365.8h2.4v2.4h-2.4zM752.7 366.5h2.4v2.4h-2.4zM789.7 364.2h2.4v2.4h-2.4zM683.0 375.6h2.4v2.4h-2.4zM454.7 375.4h2.4v2.4h-2.4zM348.2 359.6h2.4v2.4h-2.4zM658.4 380.5h2.4v2.4h-2.4zM433.3 372.5h2.4v2.4h-2.4zM549.2 359.6h2.4v2.4h-2.4zM337.3 358.9h2.4v2.4h-2.4zM280.1 373.0h2.4v2.4h-2.4zM732.3 363.3h2.4v2.4h-2.4zM796.9 361.2h2.4v2.4h-2.4zM291.9 371.7h2.4v2.4h-2.4zM443.2 367.7h2.4v2.4h-2.4zM246.7 363.6h2.4v2.4h-2.4zM669.3 377.4h2.4v2.4h-2.4zM526.8 377.3h2.4v2.4h-2.4zM215.0 363.8h2.4v2.4h-2.4zM288.6 359.6h2.4v2.4h-2.4zM154.0 365.6h2.4v2.4h-2.4zM767.8 369.8h2.4v2.4h-2.4zM333.9 377.0h2.4v2.4h-2.4zM661.7 376.6h2.4v2.4h-2.4zM557.3 358.8h2.4v2.4h-2.4zM645.1 359.3h2.4v2.4h-2.4zM665.0 369.3h2.4v2.4h-2.4zM753.8 366.4h2.4v2.4h-2.4zM244.2 373.9h2.4v2.4h-2.4zM697.4 371.6h2.4v2.4h-2.4zM751.8 366.4h2.4v2.4h-2.4zM134.5 366.4h2.4v2.4h-2.4zM355.0 377.1h2.4v2.4h-2.4zM601.4 374.2h2.4v2.4h-2.4zM493.2 373.8h2.4v2.4h-2.4zM280.0 370.4h2.4v2.4h-2.4zM762.4 360.4h2.4v2.4h-2.4zM273.8 354.9h2.4v2.4h-2.4zM691.4 353.5h2.4v2.4h-2.4zM393.4 355.7h2.4v2.4h-2.4zM524.1 371.0h2.4v2.4h-2.4zM682.5 377.5h2.4v2.4h-2.4zM631.6 369.5h2.4v2.4h-2.4zM760.1 368.0h2.4v2.4h-2.4zM659.2 369.3h2.4v2.4h-2.4zM238.1 366.4h2.4v2.4h-2.4zM571.0 374.3h2.4v2.4h-2.4zM725.2 364.1h2.4v2.4h-2.4zM896.7 368.2h2.4v2.4h-2.4zM941.8 365.5h2.4v2.4h-2.4zM280.9 364.9h2.4v2.4h-2.4zM738.2 371.1h2.4v2.4h-2.4zM604.2 374.8h2.4v2.4h-2.4zM672.5 364.3h2.4v2.4h-2.4zM280.8 366.4h2.4v2.4h-2.4zM941.7 366.6h2.4v2.4h-2.4zM814.5 362.7h2.4v2.4h-2.4zM536.1 371.0h2.4v2.4h-2.4zM487.2 375.4h2.4v2.4h-2.4zM358.9 372.9h2.4v2.4h-2.4zM542.3 365.7h2.4v2.4h-2.4zM628.7 375.6h2.4v2.4h-2.4zM857.0 354.9h2.4v2.4h-2.4zM563.6 367.8h2.4v2.4h-2.4zM588.3 381.0h2.4v2.4h-2.4zM460.8 367.6h2.4v2.4h-2.4zM868.8 368.9h2.4v2.4h-2.4zM292.2 368.6h2.4v2.4h-2.4zM543.0 372.0h2.4v2.4h-2.4zM116.0 366.5h2.4v2.4h-2.4zM770.6 367.8h2.4v2.4h-2.4zM769.3 371.5h2.4v2.4h-2.4zM781.7 366.3h2.4v2.4h-2.4zM115.1 361.9h2.4v2.4h-2.4zM588.3 379.1h2.4v2.4h-2.4zM345.8 366.3h2.4v2.4h-2.4zM835.1 368.7h2.4v2.4h-2.4zM204.1 367.8h2.4v2.4h-2.4zM557.0 370.8h2.4v2.4h-2.4zM158.3 368.7h2.4v2.4h-2.4zM381.5 365.3h2.4v2.4h-2.4zM355.6 365.2h2.4v2.4h-2.4zM249.5 368.7h2.4v2.4h-2.4zM168.2 371.0h2.4v2.4h-2.4zM285.2 371.3h2.4v2.4h-2.4zM755.8 376.6h2.4v2.4h-2.4zM445.9 363.2h2.4v2.4h-2.4zM914.7 363.6h2.4v2.4h-2.4zM542.3 376.3h2.4v2.4h-2.4zM531.1 374.4h2.4v2.4h-2.4zM596.0 368.1h2.4v2.4h-2.4zM546.4 377.0h2.4v2.4h-2.4zM630.1 363.2h2.4v2.4h-2.4zM532.1 376.7h2.4v2.4h-2.4zM463.3 366.5h2.4v2.4h-2.4zM225.9 369.7h2.4v2.4h-2.4zM241.5 369.6h2.4v2.4h-2.4zM751.6 364.4h2.4v2.4h-2.4zM649.9 362.5h2.4v2.4h-2.4zM115.0 366.3h2.4v2.4h-2.4zM579.6 370.6h2.4v2.4h-2.4zM829.6 367.9h2.4v2.4h-2.4zM796.0 368.8h2.4v2.4h-2.4zM486.0 371.8h2.4v2.4h-2.4zM823.0 364.7h2.4v2.4h-2.4zM344.5 383.8h2.4v2.4h-2.4zM709.2 372.2h2.4v2.4h-2.4zM696.5 364.9h2.4v2.4h-2.4zM729.5 375.9h2.4v2.4h-2.4zM700.0 365.6h2.4v2.4h-2.4zM757.9 369.1h2.4v2.4h-2.4zM856.2 365.0h2.4v2.4h-2.4zM733.7 367.2h2.4v2.4h-2.4zM401.7 373.9h2.4v2.4h-2.4zM544.0 375.0h2.4v2.4h-2.4zM523.3 366.4h2.4v2.4h-2.4zM397.4 364.6h2.4v2.4h-2.4zM534.7 365.1h2.4v2.4h-2.4zM503.6 376.5h2.4v2.4h-2.4zM657.0 365.9h2.4v2.4h-2.4zM499.0 369.9h2.4v2.4h-2.4zM858.6 366.8h2.4v2.4h-2.4zM546.3 375.0h2.4v2.4h-2.4zM294.1 365.0h2.4v2.4h-2.4zM633.1 370.7h2.4v2.4h-2.4zM634.8 360.4h2.4v2.4h-2.4zM588.4 375.4h2.4v2.4h-2.4zM442.9 367.4h2.4v2.4h-2.4zM405.7 359.3h2.4v2.4h-2.4zM697.0 371.7h2.4v2.4h-2.4zM572.0 380.2h2.4v2.4h-2.4zM396.3 365.8h2.4v2.4h-2.4zM908.8 365.2h2.4v2.4h-2.4zM203.5 364.0h2.4v2.4h-2.4zM682.6 371.5h2.4v2.4h-2.4zM774.4 356.8h2.4v2.4h-2.4zM494.5 379.6h2.4v2.4h-2.4zM590.0 375.6h2.4v2.4h-2.4zM447.7 380.7h2.4v2.4h-2.4zM544.4 372.4h2.4v2.4h-2.4zM656.9 369.7h2.4v2.4h-2.4zM926.8 361.5h2.4v2.4h-2.4zM428.5 375.6h2.4v2.4h-2.4zM719.6 364.4h2.4v2.4h-2.4zM258.4 373.9h2.4v2.4h-2.4zM339.7 366.3h2.4v2.4h-2.4zM652.6 367.7h2.4v2.4h-2.4zM427.6 384.6h2.4v2.4h-2.4zM442.3 368.8h2.4v2.4h-2.4zM734.2 361.4h2.4v2.4h-2.4zM402.4 380.3h2.4v2.4h-2.4zM517.9 376.2h2.4v2.4h-2.4zM530.7 372.0h2.4v2.4h-2.4zM743.3 372.5h2.4v2.4h-2.4zM163.2 370.3h2.4v2.4h-2.4zM664.0 373.5h2.4v2.4h-2.4zM721.2 370.7h2.4v2.4h-2.4zM290.9 370.6h2.4v2.4h-2.4zM861.7 365.2h2.4v2.4h-2.4zM140.2 363.5h2.4v2.4h-2.4zM233.1 360.3h2.4v2.4h-2.4zM635.4 370.6h2.4v2.4h-2.4zM440.1 372.9h2.4v2.4h-2.4zM836.2 364.7h2.4v2.4h-2.4zM213.1 366.2h2.4v2.4h-2.4zM435.7 367.7h2.4v2.4h-2.4zM470.2 374.2h2.4v2.4h-2.4zM605.0 369.1h2.4v2.4h-2.4zM775.2 370.8h2.4v2.4h-2.4zM862.5 369.1h2.4v2.4h-2.4zM543.3 385.8h2.4v2.4h-2.4zM553.9 360.6h2.4v2.4h-2.4zM295.6 370.1h2.4v2.4h-2.4zM520.9 385.2h2.4v2.4h-2.4zM309.6 374.0h2.4v2.4h-2.4zM509.2 367.1h2.4v2.4h-2.4zM602.9 363.9h2.4v2.4h-2.4zM481.4 378.9h2.4v2.4h-2.4zM492.9 384.5h2.4v2.4h-2.4zM487.7 367.7h2.4v2.4h-2.4zM663.4 373.5h2.4v2.4h-2.4zM581.5 376.5h2.4v2.4h-2.4zM225.5 366.2h2.4v2.4h-2.4zM543.4 385.0h2.4v2.4h-2.4zM889.8 362.1h2.4v2.4h-2.4zM378.8 373.8h2.4v2.4h-2.4zM692.9 373.4h2.4v2.4h-2.4zM417.0 366.5h2.4v2.4h-2.4zM770.9 365.0h2.4v2.4h-2.4zM406.7 372.1h2.4v2.4h-2.4zM125.8 371.5h2.4v2.4h-2.4zM170.8 364.5h2.4v2.4h-2.4zM711.1 370.3h2.4v2.4h-2.4zM449.8 380.5h2.4v2.4h-2.4zM272.0 364.6h2.4v2.4h-2.4zM696.6 369.8h2.4v2.4h-2.4zM653.1 379.1h2.4v2.4h-2.4zM218.1 363.2h2.4v2.4h-2.4zM478.4 376.6h2.4v2.4h-2.4zM501.8 376.0h2.4v2.4h-2.4zM721.7 362.4h2.4v2.4h-2.4zM747.0 360.1h2.4v2.4h-2.4zM627.4 364.4h2.4v2.4h-2.4zM367.6 365.8h2.4v2.4h-2.4zM613.6 365.7h2.4v2.4h-2.4zM564.1 358.9h2.4v2.4h-2.4zM363.5 368.8h2.4v2.4h-2.4zM500.2 370.2h2.4v2.4h-2.4zM651.4 364.8h2.4v2.4h-2.4zM662.1 370.8h2.4v2.4h-2.4zM593.8 369.8h2.4v2.4h-2.4zM426.2 371.1h2.4v2.4h-2.4zM305.6 370.7h2.4v2.4h-2.4zM587.7 369.3h2.4v2.4h-2.4zM610.2 380.4h2.4v2.4h-2.4zM651.6 367.4h2.4v2.4h-2.4zM456.2 366.9h2.4v2.4h-2.4zM755.0 368.9h2.4v2.4h-2.4zM447.4 384.0h2.4v2.4h-2.4zM698.5 382.6h2.4v2.4h-2.4zM530.5 379.6h2.4v2.4h-2.4zM223.6 366.2h2.4v2.4h-2.4zM295.8 366.3h2.4v2.4h-2.4zM687.9 372.3h2.4v2.4h-2.4zM510.7 369.3h2.4v2.4h-2.4zM724.8 367.8h2.4v2.4h-2.4zM525.9 373.2h2.4v2.4h-2.4zM281.6 375.8h2.4v2.4h-2.4zM623.0 372.6h2.4v2.4h-2.4zM388.1 365.2h2.4v2.4h-2.4zM431.8 355.3h2.4v2.4h-2.4zM931.2 364.2h2.4v2.4h-2.4zM725.6 374.7h2.4v2.4h-2.4zM630.5 361.8h2.4v2.4h-2.4zM592.3 371.9h2.4v2.4h-2.4z"/><path stroke="#4ebc8c" d="M804.3 356.5h2.4v2.4h-2.4zM349.9 361.6h2.4v2.4h-2.4zM911.4 362.6h2.4v2.4h-2.4zM352.4 372.1h2.4v2.4h-2.4zM384.5 371.1h2.4v2.4h-2.4zM931.1 349.7h2.4v2.4h-2.4zM579.8 374.2h2.4v2.4h-2.4zM168.0 359.7h2.4v2.4h-2.4zM878.3 355.6h2.4v2.4h-2.4zM714.5 371.5h2.4v2.4h-2.4zM224.1 356.5h2.4v2.4h-2.4zM784.9 351.1h2.4v2.4h-2.4zM499.9 370.0h2.4v2.4h-2.4zM434.2 360.0h2.4v2.4h-2.4zM721.2 367.7h2.4v2.4h-2.4zM254.5 354.5h2.4v2.4h-2.4zM257.8 356.9h2.4v2.4h-2.4zM908.5 350.5h2.4v2.4h-2.4zM809.9 361.8h2.4v2.4h-2.4zM318.2 369.5h2.4v2.4h-2.4zM414.7 359.5h2.4v2.4h-2.4zM561.7 366.2h2.4v2.4h-2.4zM382.1 372.7h2.4v2.4h-2.4zM683.3 379.3h2.4v2.4h-2.4zM654.8 369.1h2.4v2.4h-2.4zM695.5 364.9h2.4v2.4h-2.4zM215.2 352.3h2.4v2.4h-2.4zM840.4 348.6h2.4v2.4h-2.4zM604.6 375.3h2.4v2.4h-2.4zM246.0 358.2h2.4v2.4h-2.4zM117.0 351.4h2.4v2.4h-2.4zM299.6 357.1h2.4v2.4h-2.4zM198.4 358.7h2.4v2.4h-2.4zM674.0 365.7h2.4v2.4h-2.4zM804.8 363.4h2.4v2.4h-2.4zM226.0 356.7h2.4v2.4h-2.4zM696.7 357.6h2.4v2.4h-2.4zM839.8 358.1h2.4v2.4h-2.4zM534.4 378.1h2.4v2.4h-2.4zM768.6 355.0h2.4v2.4h-2.4zM787.2 355.0h2.4v2.4h-2.4zM936.8 343.1h2.4v2.4h-2.4zM835.5 355.0h2.4v2.4h-2.4zM897.8 352.3h2.4v2.4h-2.4zM199.4 353.5h2.4v2.4h-2.4zM142.5 350.6h2.4v2.4h-2.4zM821.6 357.3h2.4v2.4h-2.4zM263.9 366.0h2.4v2.4h-2.4zM921.1 346.7h2.4v2.4h-2.4zM644.0 357.1h2.4v2.4h-2.4zM264.0 360.9h2.4v2.4h-2.4zM304.4 353.5h2.4v2.4h-2.4zM277.7 360.1h2.4v2.4h-2.4zM786.1 368.0h2.4v2.4h-2.4zM801.4 354.6h2.4v2.4h-2.4zM815.3 353.1h2.4v2.4h-2.4zM705.1 369.3h2.4v2.4h-2.4zM727.1 362.5h2.4v2.4h-2.4zM757.1 356.5h2.4v2.4h-2.4zM409.7 363.6h2.4v2.4h-2.4zM306.7 364.1h2.4v2.4h-2.4zM794.0 355.6h2.4v2.4h-2.4zM929.1 349.4h2.4v2.4h-2.4zM686.0 358.8h2.4v2.4h-2.4zM808.7 354.8h2.4v2.4h-2.4zM588.4 354.7h2.4v2.4h-2.4zM247.2 358.5h2.4v2.4h-2.4zM855.5 359.9h2.4v2.4h-2.4zM309.6 366.1h2.4v2.4h-2.4zM388.5 371.4h2.4v2.4h-2.4zM849.5 356.7h2.4v2.4h-2.4zM132.1 348.0h2.4v2.4h-2.4zM918.2 350.1h2.4v2.4h-2.4zM847.9 355.8h2.4v2.4h-2.4zM854.2 346.5h2.4v2.4h-2.4zM865.9 356.5h2.4v2.4h-2.4zM220.8 355.4h2.4v2.4h-2.4zM384.7 368.0h2.4v2.4h-2.4zM887.9 354.0h2.4v2.4h-2.4zM548.0 371.9h2.4v2.4h-2.4zM879.9 348.9h2.4v2.4h-2.4zM234.7 356.9h2.4v2.4h-2.4zM609.6 364.4h2.4v2.4h-2.4zM936.8 349.7h2.4v2.4h-2.4zM854.6 359.3h2.4v2.4h-2.4zM430.8 371.3h2.4v2.4h-2.4zM532.0 372.0h2.4v2.4h-2.4zM889.7 351.0h2.4v2.4h-2.4zM900.7 344.4h2.4v2.4h-2.4zM784.1 368.5h2.4v2.4h-2.4zM467.5 379.8h2.4v2.4h-2.4zM824.7 346.0h2.4v2.4h-2.4zM847.5 357.2h2.4v2.4h-2.4zM124.7 350.2h2.4v2.4h-2.4zM876.6 356.9h2.4v2.4h-2.4zM671.5 367.0h2.4v2.4h-2.4zM169.7 346.6h2.4v2.4h-2.4zM246.9 359.8h2.4v2.4h-2.4zM223.9 365.8h2.4v2.4h-2.4zM361.3 368.1h2.4v2.4h-2.4zM652.8 364.0h2.4v2.4h-2.4zM526.4 359.7h2.4v2.4h-2.4zM159.9 352.5h2.4v2.4h-2.4zM749.4 370.4h2.4v2.4h-2.4zM776.6 355.4h2.4v2.4h-2.4zM891.9 350.4h2.4v2.4h-2.4zM897.3 355.1h2.4v2.4h-2.4zM822.7 359.3h2.4v2.4h-2.4zM220.4 360.4h2.4v2.4h-2.4zM274.5 355.5h2.4v2.4h-2.4zM827.2 352.3h2.4v2.4h-2.4zM732.4 362.6h2.4v2.4h-2.4zM750.2 365.3h2.4v2.4h-2.4zM827.3 356.9h2.4v2.4h-2.4zM607.6 363.6h2.4v2.4h-2.4zM859.0 355.1h2.4v2.4h-2.4zM582.6 364.8h2.4v2.4h-2.4zM716.4 371.1h2.4v2.4h-2.4zM760.6 358.7h2.4v2.4h-2.4zM125.1 351.6h2.4v2.4h-2.4zM146.3 355.4h2.4v2.4h-2.4zM835.1 355.2h2.4v2.4h-2.4zM840.0 346.3h2.4v2.4h-2.4zM801.1 358.5h2.4v2.4h-2.4zM735.8 356.5h2.4v2.4h-2.4zM841.8 345.4h2.4v2.4h-2.4zM812.0 353.3h2.4v2.4h-2.4zM256.2 353.5h2.4v2.4h-2.4zM631.7 372.4h2.4v2.4h-2.4zM296.6 356.4h2.4v2.4h-2.4zM895.8 352.4h2.4v2.4h-2.4zM821.3 350.9h2.4v2.4h-2.4zM792.9 368.9h2.4v2.4h-2.4zM937.5 357.1h2.4v2.4h-2.4zM372.1 368.4h2.4v2.4h-2.4zM146.9 346.5h2.4v2.4h-2.4zM147.4 354.7h2.4v2.4h-2.4zM660.0 363.4h2.4v2.4h-2.4zM192.3 352.5h2.4v2.4h-2.4zM866.9 347.5h2.4v2.4h-2.4zM195.9 357.4h2.4v2.4h-2.4zM527.3 353.5h2.4v2.4h-2.4zM143.4 349.0h2.4v2.4h-2.4zM212.1 352.6h2.4v2.4h-2.4zM128.8 355.1h2.4v2.4h-2.4zM235.9 351.3h2.4v2.4h-2.4zM795.6 359.5h2.4v2.4h-2.4zM582.1 381.1h2.4v2.4h-2.4zM198.4 354.9h2.4v2.4h-2.4zM240.7 358.7h2.4v2.4h-2.4zM263.5 347.5h2.4v2.4h-2.4zM393.5 357.2h2.4v2.4h-2.4zM795.9 369.1h2.4v2.4h-2.4zM767.4 362.9h2.4v2.4h-2.4zM678.7 360.6h2.4v2.4h-2.4zM749.5 356.4h2.4v2.4h-2.4zM263.0 359.1h2.4v2.4h-2.4zM611.8 359.6h2.4v2.4h-2.4zM759.7 354.7h2.4v2.4h-2.4zM169.0 351.7h2.4v2.4h-2.4zM329.9 362.6h2.4v2.4h-2.4zM924.2 351.8h2.4v2.4h-2.4zM195.7 360.1h2.4v2.4h-2.4zM713.4 357.7h2.4v2.4h-2.4zM832.6 354.4h2.4v2.4h-2.4zM838.4 349.8h2.4v2.4h-2.4zM400.3 376.5h2.4v2.4h-2.4zM810.1 364.7h2.4v2.4h-2.4zM794.7 362.2h2.4v2.4h-2.4zM680.7 365.4h2.4v2.4h-2.4zM743.1 359.7h2.4v2.4h-2.4zM141.3 352.6h2.4v2.4h-2.4zM917.7 355.3h2.4v2.4h-2.4zM502.6 385.1h2.4v2.4h-2.4zM875.7 351.5h2.4v2.4h-2.4zM490.7 376.1h2.4v2.4h-2.4zM521.2 373.4h2.4v2.4h-2.4zM212.3 357.4h2.4v2.4h-2.4zM349.2 355.7h2.4v2.4h-2.4zM820.7 356.1h2.4v2.4h-2.4zM648.1 368.9h2.4v2.4h-2.4zM253.5 359.6h2.4v2.4h-2.4zM734.6 359.5h2.4v2.4h-2.4zM278.9 358.9h2.4v2.4h-2.4zM245.4 357.6h2.4v2.4h-2.4zM602.4 381.2h2.4v2.4h-2.4zM277.7 361.8h2.4v2.4h-2.4zM479.9 380.8h2.4v2.4h-2.4zM255.2 353.5h2.4v2.4h-2.4zM616.4 385.2h2.4v2.4h-2.4zM347.8 369.9h2.4v2.4h-2.4zM694.0 361.6h2.4v2.4h-2.4zM130.7 361.1h2.4v2.4h-2.4zM842.8 354.9h2.4v2.4h-2.4zM625.1 358.9h2.4v2.4h-2.4zM378.3 372.4h2.4v2.4h-2.4zM665.9 366.9h2.4v2.4h-2.4zM905.9 348.3h2.4v2.4h-2.4zM355.9 372.7h2.4v2.4h-2.4zM934.0 351.3h2.4v2.4h-2.4zM525.5 377.3h2.4v2.4h-2.4zM909.4 352.1h2.4v2.4h-2.4zM811.6 366.7h2.4v2.4h-2.4zM348.2 365.0h2.4v2.4h-2.4zM764.7 365.9h2.4v2.4h-2.4zM937.5 358.1h2.4v2.4h-2.4zM235.8 367.4h2.4v2.4h-2.4zM161.9 341.0h2.4v2.4h-2.4zM152.5 348.0h2.4v2.4h-2.4zM910.5 355.3h2.4v2.4h-2.4zM836.3 361.9h2.4v2.4h-2.4zM433.7 366.4h2.4v2.4h-2.4zM861.5 353.2h2.4v2.4h-2.4zM160.3 352.9h2.4v2.4h-2.4zM464.5 376.4h2.4v2.4h-2.4zM119.9 351.0h2.4v2.4h-2.4zM646.3 389.7h2.4v2.4h-2.4zM911.8 357.3h2.4v2.4h-2.4zM368.0 358.0h2.4v2.4h-2.4zM764.4 357.7h2.4v2.4h-2.4zM175.0 355.9h2.4v2.4h-2.4zM637.0 377.1h2.4v2.4h-2.4zM912.7 351.8h2.4v2.4h-2.4zM291.7 361.6h2.4v2.4h-2.4zM287.0 362.1h2.4v2.4h-2.4zM847.5 346.5h2.4v2.4h-2.4zM315.4 360.4h2.4v2.4h-2.4zM151.4 351.5h2.4v2.4h-2.4zM242.4 354.5h2.4v2.4h-2.4zM782.9 354.2h2.4v2.4h-2.4zM891.1 353.8h2.4v2.4h-2.4zM555.5 384.3h2.4v2.4h-2.4zM140.6 349.9h2.4v2.4h-2.4zM251.3 355.5h2.4v2.4h-2.4zM313.8 360.9h2.4v2.4h-2.4zM288.3 350.7h2.4v2.4h-2.4zM221.6 354.2h2.4v2.4h-2.4zM324.7 354.7h2.4v2.4h-2.4zM248.8 361.3h2.4v2.4h-2.4zM751.7 349.6h2.4v2.4h-2.4zM764.5 363.4h2.4v2.4h-2.4zM220.3 345.3h2.4v2.4h-2.4zM328.7 357.4h2.4v2.4h-2.4zM136.7 351.1h2.4v2.4h-2.4zM619.6 363.0h2.4v2.4h-2.4zM323.0 363.0h2.4v2.4h-2.4zM815.6 364.2h2.4v2.4h-2.4zM347.3 359.7h2.4v2.4h-2.4zM588.9 351.3h2.4v2.4h-2.4zM239.2 353.8h2.4v2.4h-2.4zM853.2 351.8h2.4v2.4h-2.4zM407.1 368.0h2.4v2.4h-2.4zM621.9 363.6h2.4v2.4h-2.4zM204.5 347.5h2.4v2.4h-2.4zM740.3 368.8h2.4v2.4h-2.4zM877.6 359.8h2.4v2.4h-2.4zM440.2 361.9h2.4v2.4h-2.4zM840.6 359.6h2.4v2.4h-2.4zM427.7 366.3h2.4v2.4h-2.4zM531.0 378.0h2.4v2.4h-2.4zM872.2 355.1h2.4v2.4h-2.4zM488.0 368.8h2.4v2.4h-2.4zM863.3 354.0h2.4v2.4h-2.4zM897.3 357.7h2.4v2.4h-2.4zM805.6 352.0h2.4v2.4h-2.4zM268.6 349.5h2.4v2.4h-2.4zM695.6 363.4h2.4v2.4h-2.4zM740.2 364.9h2.4v2.4h-2.4zM791.2 362.9h2.4v2.4h-2.4zM692.8 376.4h2.4v2.4h-2.4zM404.7 364.3h2.4v2.4h-2.4zM235.3 355.6h2.4v2.4h-2.4zM815.4 357.6h2.4v2.4h-2.4zM771.9 349.2h2.4v2.4h-2.4zM929.6 353.5h2.4v2.4h-2.4zM732.1 364.8h2.4v2.4h-2.4zM129.9 347.2h2.4v2.4h-2.4zM930.3 356.6h2.4v2.4h-2.4zM348.2 371.3h2.4v2.4h-2.4zM468.3 366.3h2.4v2.4h-2.4zM857.4 354.6h2.4v2.4h-2.4zM406.0 362.9h2.4v2.4h-2.4zM258.0 356.0h2.4v2.4h-2.4zM164.4 345.7h2.4v2.4h-2.4zM792.1 370.3h2.4v2.4h-2.4zM766.1 361.8h2.4v2.4h-2.4zM342.6 349.0h2.4v2.4h-2.4zM525.1 373.4h2.4v2.4h-2.4zM877.1 347.3h2.4v2.4h-2.4zM552.0 375.4h2.4v2.4h-2.4zM733.5 362.7h2.4v2.4h-2.4zM260.4 360.0h2.4v2.4h-2.4zM154.8 355.8h2.4v2.4h-2.4zM799.8 357.8h2.4v2.4h-2.4zM408.0 356.1h2.4v2.4h-2.4zM148.7 343.2h2.4v2.4h-2.4zM218.6 361.1h2.4v2.4h-2.4zM632.5 384.9h2.4v2.4h-2.4zM883.6 353.6h2.4v2.4h-2.4zM351.0 370.2h2.4v2.4h-2.4zM693.1 368.8h2.4v2.4h-2.4zM129.8 354.5h2.4v2.4h-2.4zM278.5 344.7h2.4v2.4h-2.4zM768.3 361.8h2.4v2.4h-2.4zM705.1 365.5h2.4v2.4h-2.4zM197.3 354.3h2.4v2.4h-2.4zM159.9 349.1h2.4v2.4h-2.4zM724.0 365.9h2.4v2.4h-2.4zM503.6 369.4h2.4v2.4h-2.4zM163.7 344.7h2.4v2.4h-2.4zM212.1 354.0h2.4v2.4h-2.4zM341.8 366.3h2.4v2.4h-2.4zM562.0 371.5h2.4v2.4h-2.4zM682.4 378.8h2.4v2.4h-2.4zM515.9 369.9h2.4v2.4h-2.4zM185.8 355.6h2.4v2.4h-2.4zM758.1 352.0h2.4v2.4h-2.4zM621.8 367.5h2.4v2.4h-2.4zM145.4 359.4h2.4v2.4h-2.4zM938.8 348.6h2.4v2.4h-2.4zM364.6 374.1h2.4v2.4h-2.4zM722.1 367.4h2.4v2.4h-2.4zM279.1 355.5h2.4v2.4h-2.4zM805.1 362.7h2.4v2.4h-2.4zM378.9 360.6h2.4v2.4h-2.4zM471.2 371.1h2.4v2.4h-2.4zM543.4 371.9h2.4v2.4h-2.4zM464.6 379.6h2.4v2.4h-2.4zM773.4 348.7h2.4v2.4h-2.4zM633.9 374.5h2.4v2.4h-2.4zM182.6 362.3h2.4v2.4h-2.4zM300.2 362.1h2.4v2.4h-2.4zM655.9 363.0h2.4v2.4h-2.4zM448.3 377.1h2.4v2.4h-2.4zM364.2 369.5h2.4v2.4h-2.4zM268.5 357.0h2.4v2.4h-2.4zM198.6 355.8h2.4v2.4h-2.4zM296.7 363.0h2.4v2.4h-2.4zM129.9 348.4h2.4v2.4h-2.4zM557.0 367.8h2.4v2.4h-2.4zM166.2 349.1h2.4v2.4h-2.4zM804.3 351.9h2.4v2.4h-2.4zM435.7 377.3h2.4v2.4h-2.4zM743.3 360.2h2.4v2.4h-2.4zM622.9 356.9h2.4v2.4h-2.4zM911.1 345.0h2.4v2.4h-2.4zM116.0 349.4h2.4v2.4h-2.4zM146.0 367.4h2.4v2.4h-2.4zM937.2 351.3h2.4v2.4h-2.4zM192.0 355.5h2.4v2.4h-2.4zM190.6 344.8h2.4v2.4h-2.4zM909.5 354.1h2.4v2.4h-2.4zM552.1 379.7h2.4v2.4h-2.4zM603.7 362.5h2.4v2.4h-2.4zM933.3 348.8h2.4v2.4h-2.4zM512.1 368.2h2.4v2.4h-2.4zM884.2 354.3h2.4v2.4h-2.4zM687.8 372.9h2.4v2.4h-2.4zM900.2 350.6h2.4v2.4h-2.4zM131.7 354.3h2.4v2.4h-2.4zM800.6 349.0h2.4v2.4h-2.4zM388.1 360.0h2.4v2.4h-2.4zM337.1 363.4h2.4v2.4h-2.4zM263.4 354.3h2.4v2.4h-2.4zM701.9 368.9h2.4v2.4h-2.4zM303.0 364.3h2.4v2.4h-2.4zM309.4 361.8h2.4v2.4h-2.4zM128.5 345.5h2.4v2.4h-2.4zM942.9 345.1h2.4v2.4h-2.4zM882.2 344.1h2.4v2.4h-2.4zM200.6 342.5h2.4v2.4h-2.4zM270.9 352.7h2.4v2.4h-2.4zM679.8 356.2h2.4v2.4h-2.4zM201.5 354.3h2.4v2.4h-2.4zM126.6 349.8h2.4v2.4h-2.4zM577.3 381.9h2.4v2.4h-2.4zM360.2 373.9h2.4v2.4h-2.4zM907.8 346.5h2.4v2.4h-2.4zM810.8 359.6h2.4v2.4h-2.4zM890.7 353.1h2.4v2.4h-2.4zM714.3 370.2h2.4v2.4h-2.4zM824.9 363.8h2.4v2.4h-2.4zM904.6 347.6h2.4v2.4h-2.4zM177.0 343.2h2.4v2.4h-2.4zM725.1 369.9h2.4v2.4h-2.4zM676.1 358.1h2.4v2.4h-2.4zM486.8 367.2h2.4v2.4h-2.4zM910.2 349.6h2.4v2.4h-2.4zM932.6 352.6h2.4v2.4h-2.4zM475.3 367.4h2.4v2.4h-2.4zM437.2 362.5h2.4v2.4h-2.4zM363.0 365.6h2.4v2.4h-2.4zM166.6 360.7h2.4v2.4h-2.4zM132.2 359.7h2.4v2.4h-2.4zM642.4 372.1h2.4v2.4h-2.4zM877.9 353.4h2.4v2.4h-2.4zM345.2 368.8h2.4v2.4h-2.4zM742.1 369.5h2.4v2.4h-2.4zM838.4 354.0h2.4v2.4h-2.4zM152.2 350.5h2.4v2.4h-2.4zM187.8 343.3h2.4v2.4h-2.4zM168.8 355.5h2.4v2.4h-2.4zM202.1 355.8h2.4v2.4h-2.4zM855.7 354.7h2.4v2.4h-2.4zM464.5 362.6h2.4v2.4h-2.4zM342.6 358.9h2.4v2.4h-2.4zM854.3 350.5h2.4v2.4h-2.4zM394.0 381.4h2.4v2.4h-2.4zM317.1 366.6h2.4v2.4h-2.4zM587.1 375.1h2.4v2.4h-2.4zM328.8 372.4h2.4v2.4h-2.4zM578.6 384.2h2.4v2.4h-2.4zM762.2 363.4h2.4v2.4h-2.4zM765.9 355.9h2.4v2.4h-2.4zM305.1 358.1h2.4v2.4h-2.4zM266.5 358.4h2.4v2.4h-2.4zM381.5 375.2h2.4v2.4h-2.4zM790.0 361.2h2.4v2.4h-2.4zM342.0 370.4h2.4v2.4h-2.4zM137.7 341.1h2.4v2.4h-2.4zM823.0 343.9h2.4v2.4h-2.4zM830.6 360.8h2.4v2.4h-2.4zM176.7 352.0h2.4v2.4h-2.4zM515.1 379.1h2.4v2.4h-2.4zM116.2 353.6h2.4v2.4h-2.4zM292.4 360.7h2.4v2.4h-2.4zM118.4 345.6h2.4v2.4h-2.4zM569.6 380.8h2.4v2.4h-2.4zM850.8 353.3h2.4v2.4h-2.4zM756.3 360.5h2.4v2.4h-2.4zM131.2 347.6h2.4v2.4h-2.4zM798.3 356.0h2.4v2.4h-2.4zM671.0 361.6h2.4v2.4h-2.4zM255.3 347.5h2.4v2.4h-2.4zM466.1 381.9h2.4v2.4h-2.4zM151.0 349.7h2.4v2.4h-2.4zM885.9 344.0h2.4v2.4h-2.4zM157.1 351.8h2.4v2.4h-2.4zM840.5 351.1h2.4v2.4h-2.4zM613.0 372.4h2.4v2.4h-2.4zM169.1 357.0h2.4v2.4h-2.4zM371.7 349.1h2.4v2.4h-2.4zM607.3 359.7h2.4v2.4h-2.4zM760.0 352.4h2.4v2.4h-2.4zM374.1 362.5h2.4v2.4h-2.4zM420.9 368.9h2.4v2.4h-2.4zM670.9 369.8h2.4v2.4h-2.4zM887.8 354.4h2.4v2.4h-2.4zM909.8 354.8h2.4v2.4h-2.4zM331.9 360.0h2.4v2.4h-2.4zM934.9 353.8h2.4v2.4h-2.4zM912.0 355.9h2.4v2.4h-2.4zM127.1 351.7h2.4v2.4h-2.4zM150.1 354.4h2.4v2.4h-2.4zM448.5 381.6h2.4v2.4h-2.4zM277.2 359.3h2.4v2.4h-2.4zM507.2 377.7h2.4v2.4h-2.4zM425.8 371.2h2.4v2.4h-2.4zM221.7 355.3h2.4v2.4h-2.4zM373.0 356.4h2.4v2.4h-2.4zM943.7 347.4h2.4v2.4h-2.4zM929.4 348.7h2.4v2.4h-2.4zM934.7 352.3h2.4v2.4h-2.4zM941.8 348.7h2.4v2.4h-2.4zM685.1 361.5h2.4v2.4h-2.4zM625.8 377.8h2.4v2.4h-2.4zM118.9 352.4h2.4v2.4h-2.4zM373.2 377.1h2.4v2.4h-2.4zM475.4 381.5h2.4v2.4h-2.4zM932.7 352.9h2.4v2.4h-2.4zM326.6 363.0h2.4v2.4h-2.4zM799.3 359.6h2.4v2.4h-2.4zM819.7 358.0h2.4v2.4h-2.4zM939.1 347.3h2.4v2.4h-2.4zM219.8 355.5h2.4v2.4h-2.4zM232.3 352.6h2.4v2.4h-2.4zM796.8 353.5h2.4v2.4h-2.4zM884.5 356.7h2.4v2.4h-2.4zM407.4 371.4h2.4v2.4h-2.4zM624.0 368.1h2.4v2.4h-2.4zM671.8 360.0h2.4v2.4h-2.4zM486.8 378.6h2.4v2.4h-2.4zM375.7 355.0h2.4v2.4h-2.4zM313.5 366.8h2.4v2.4h-2.4zM425.8 363.7h2.4v2.4h-2.4zM333.4 364.6h2.4v2.4h-2.4zM606.2 367.2h2.4v2.4h-2.4zM807.4 363.8h2.4v2.4h-2.4zM561.4 371.9h2.4v2.4h-2.4zM922.9 352.5h2.4v2.4h-2.4zM339.9 359.7h2.4v2.4h-2.4zM506.2 382.6h2.4v2.4h-2.4zM316.9 355.2h2.4v2.4h-2.4zM670.1 362.1h2.4v2.4h-2.4zM755.3 349.9h2.4v2.4h-2.4zM791.3 355.8h2.4v2.4h-2.4zM362.8 364.3h2.4v2.4h-2.4zM768.9 352.5h2.4v2.4h-2.4zM288.8 350.5h2.4v2.4h-2.4zM555.9 372.3h2.4v2.4h-2.4zM153.2 347.2h2.4v2.4h-2.4zM811.0 353.3h2.4v2.4h-2.4zM896.9 358.3h2.4v2.4h-2.4zM211.9 352.9h2.4v2.4h-2.4zM887.0 345.7h2.4v2.4h-2.4zM675.9 370.9h2.4v2.4h-2.4zM874.3 349.2h2.4v2.4h-2.4zM603.1 374.7h2.4v2.4h-2.4zM144.5 354.4h2.4v2.4h-2.4zM724.4 367.7h2.4v2.4h-2.4zM715.1 369.5h2.4v2.4h-2.4zM828.1 360.7h2.4v2.4h-2.4zM282.2 363.6h2.4v2.4h-2.4zM212.3 355.7h2.4v2.4h-2.4zM486.6 381.2h2.4v2.4h-2.4zM816.6 351.0h2.4v2.4h-2.4zM776.4 356.4h2.4v2.4h-2.4zM127.2 354.2h2.4v2.4h-2.4zM400.1 368.4h2.4v2.4h-2.4zM189.0 355.7h2.4v2.4h-2.4zM115.7 349.7h2.4v2.4h-2.4zM269.0 361.8h2.4v2.4h-2.4zM269.3 349.4h2.4v2.4h-2.4zM276.5 366.5h2.4v2.4h-2.4zM127.9 352.7h2.4v2.4h-2.4zM738.1 364.5h2.4v2.4h-2.4zM117.6 350.2h2.4v2.4h-2.4zM702.8 374.1h2.4v2.4h-2.4zM333.7 372.6h2.4v2.4h-2.4zM899.9 356.9h2.4v2.4h-2.4zM249.2 368.1h2.4v2.4h-2.4zM685.1 362.7h2.4v2.4h-2.4zM826.4 351.8h2.4v2.4h-2.4zM234.4 358.8h2.4v2.4h-2.4zM800.9 359.4h2.4v2.4h-2.4zM233.4 354.5h2.4v2.4h-2.4zM906.0 353.6h2.4v2.4h-2.4zM395.3 375.7h2.4v2.4h-2.4zM169.2 350.4h2.4v2.4h-2.4zM351.7 368.5h2.4v2.4h-2.4zM195.2 348.7h2.4v2.4h-2.4zM122.7 354.5h2.4v2.4h-2.4zM767.5 357.8h2.4v2.4h-2.4zM814.6 363.2h2.4v2.4h-2.4zM727.9 364.5h2.4v2.4h-2.4zM920.4 348.9h2.4v2.4h-2.4zM794.5 358.5h2.4v2.4h-2.4zM723.5 365.9h2.4v2.4h-2.4zM716.7 369.3h2.4v2.4h-2.4zM887.0 350.0h2.4v2.4h-2.4zM377.0 363.9h2.4v2.4h-2.4zM807.2 354.3h2.4v2.4h-2.4zM298.3 360.9h2.4v2.4h-2.4zM866.3 350.8h2.4v2.4h-2.4zM235.0 355.3h2.4v2.4h-2.4zM361.2 369.6h2.4v2.4h-2.4zM394.2 371.1h2.4v2.4h-2.4zM269.0 363.9h2.4v2.4h-2.4zM942.3 351.9h2.4v2.4h-2.4zM784.9 355.7h2.4v2.4h-2.4zM837.8 349.5h2.4v2.4h-2.4zM847.2 363.9h2.4v2.4h-2.4zM142.5 349.2h2.4v2.4h-2.4zM351.7 370.0h2.4v2.4h-2.4zM142.8 354.0h2.4v2.4h-2.4zM655.3 368.5h2.4v2.4h-2.4zM733.3 356.6h2.4v2.4h-2.4zM393.2 377.6h2.4v2.4h-2.4zM748.2 361.2h2.4v2.4h-2.4zM906.8 347.9h2.4v2.4h-2.4zM704.7 353.8h2.4v2.4h-2.4zM280.9 359.4h2.4v2.4h-2.4zM527.0 365.3h2.4v2.4h-2.4zM165.0 352.0h2.4v2.4h-2.4zM849.2 354.1h2.4v2.4h-2.4zM133.1 334.5h2.4v2.4h-2.4zM885.2 354.3h2.4v2.4h-2.4zM715.5 352.2h2.4v2.4h-2.4zM184.4 352.9h2.4v2.4h-2.4zM792.4 367.1h2.4v2.4h-2.4zM149.7 348.1h2.4v2.4h-2.4zM883.4 353.6h2.4v2.4h-2.4zM644.7 364.7h2.4v2.4h-2.4zM887.3 346.8h2.4v2.4h-2.4zM362.1 362.1h2.4v2.4h-2.4zM709.9 372.5h2.4v2.4h-2.4zM871.4 353.6h2.4v2.4h-2.4zM274.8 351.1h2.4v2.4h-2.4zM521.7 364.4h2.4v2.4h-2.4zM248.5 359.8h2.4v2.4h-2.4zM849.9 345.0h2.4v2.4h-2.4zM757.6 360.4h2.4v2.4h-2.4zM922.1 352.8h2.4v2.4h-2.4zM241.1 358.0h2.4v2.4h-2.4zM886.1 343.0h2.4v2.4h-2.4zM910.2 359.8h2.4v2.4h-2.4zM823.4 351.1h2.4v2.4h-2.4zM229.2 345.1h2.4v2.4h-2.4zM934.5 359.5h2.4v2.4h-2.4zM153.4 344.8h2.4v2.4h-2.4zM698.4 358.7h2.4v2.4h-2.4zM282.5 370.8h2.4v2.4h-2.4zM832.9 362.2h2.4v2.4h-2.4zM185.0 351.5h2.4v2.4h-2.4zM376.1 375.5h2.4v2.4h-2.4zM807.3 356.7h2.4v2.4h-2.4zM933.4 343.0h2.4v2.4h-2.4zM920.3 351.1h2.4v2.4h-2.4zM689.8 381.2h2.4v2.4h-2.4zM878.0 353.1h2.4v2.4h-2.4zM169.2 358.0h2.4v2.4h-2.4zM671.1 369.7h2.4v2.4h-2.4zM597.7 364.4h2.4v2.4h-2.4zM899.9 346.5h2.4v2.4h-2.4zM154.5 358.0h2.4v2.4h-2.4zM641.1 370.9h2.4v2.4h-2.4zM862.8 354.2h2.4v2.4h-2.4zM269.9 359.6h2.4v2.4h-2.4zM472.4 365.9h2.4v2.4h-2.4zM366.9 366.9h2.4v2.4h-2.4zM654.3 375.7h2.4v2.4h-2.4zM129.6 345.4h2.4v2.4h-2.4zM142.5 351.2h2.4v2.4h-2.4zM376.7 364.8h2.4v2.4h-2.4zM866.4 349.3h2.4v2.4h-2.4zM215.8 361.5h2.4v2.4h-2.4zM588.8 369.8h2.4v2.4h-2.4zM763.1 355.6h2.4v2.4h-2.4zM732.0 364.2h2.4v2.4h-2.4zM604.0 364.1h2.4v2.4h-2.4zM631.0 363.3h2.4v2.4h-2.4zM170.3 349.2h2.4v2.4h-2.4zM869.6 352.1h2.4v2.4h-2.4zM677.3 368.9h2.4v2.4h-2.4zM177.0 347.0h2.4v2.4h-2.4zM869.5 340.9h2.4v2.4h-2.4zM817.4 358.4h2.4v2.4h-2.4zM817.1 349.0h2.4v2.4h-2.4zM758.1 358.8h2.4v2.4h-2.4zM349.3 369.0h2.4v2.4h-2.4zM638.7 382.8h2.4v2.4h-2.4zM333.3 361.3h2.4v2.4h-2.4zM134.8 347.9h2.4v2.4h-2.4zM874.3 348.8h2.4v2.4h-2.4zM172.6 356.8h2.4v2.4h-2.4zM776.4 357.2h2.4v2.4h-2.4zM820.3 356.0h2.4v2.4h-2.4zM709.6 364.8h2.4v2.4h-2.4zM889.5 348.4h2.4v2.4h-2.4zM749.3 348.4h2.4v2.4h-2.4zM897.1 340.8h2.4v2.4h-2.4zM361.8 352.3h2.4v2.4h-2.4zM203.4 355.1h2.4v2.4h-2.4zM202.7 347.8h2.4v2.4h-2.4zM162.6 352.4h2.4v2.4h-2.4zM666.4 367.0h2.4v2.4h-2.4zM727.7 366.2h2.4v2.4h-2.4zM282.3 355.1h2.4v2.4h-2.4zM354.1 359.1h2.4v2.4h-2.4zM745.1 365.2h2.4v2.4h-2.4z"/><path stroke="#fac435" d="M942.4 361.9h2.4v2.4h-2.4zM639.4 382.7h2.4v2.4h-2.4zM416.6 374.8h2.4v2.4h-2.4zM465.8 374.8h2.4v2.4h-2.4zM414.2 370.1h2.4v2.4h-2.4zM473.2 369.1h2.4v2.4h-2.4zM518.5 370.5h2.4v2.4h-2.4zM591.4 368.7h2.4v2.4h-2.4zM669.6 370.9h2.4v2.4h-2.4zM616.0 379.6h2.4v2.4h-2.4zM320.0 370.4h2.4v2.4h-2.4zM541.8 369.1h2.4v2.4h-2.4zM123.3 368.1h2.4v2.4h-2.4zM553.8 376.3h2.4v2.4h-2.4zM468.8 353.5h2.4v2.4h-2.4zM580.9 378.7h2.4v2.4h-2.4zM543.1 381.9h2.4v2.4h-2.4zM842.3 374.7h2.4v2.4h-2.4zM414.6 362.3h2.4v2.4h-2.4zM562.6 383.4h2.4v2.4h-2.4zM459.4 368.7h2.4v2.4h-2.4zM546.2 375.0h2.4v2.4h-2.4zM166.5 367.0h2.4v2.4h-2.4zM386.9 382.2h2.4v2.4h-2.4zM594.6 381.3h2.4v2.4h-2.4zM426.7 372.3h2.4v2.4h-2.4zM446.7 364.2h2.4v2.4h-2.4zM460.7 380.1h2.4v2.4h-2.4zM189.7 364.6h2.4v2.4h-2.4zM444.9 371.1h2.4v2.4h-2.4zM669.5 372.4h2.4v2.4h-2.4zM265.1 357.7h2.4v2.4h-2.4zM369.5 369.9h2.4v2.4h-2.4zM541.8 360.4h2.4v2.4h-2.4zM536.4 367.1h2.4v2.4h-2.4zM372.2 374.3h2.4v2.4h-2.4zM161.8 365.4h2.4v2.4h-2.4zM169.8 366.8h2.4v2.4h-2.4zM559.5 366.3h2.4v2.4h-2.4zM569.3 382.5h2.4v2.4h-2.4zM551.8 379.4h2.4v2.4h-2.4zM456.7 376.0h2.4v2.4h-2.4zM340.5 379.4h2.4v2.4h-2.4zM172.4 366.4h2.4v2.4h-2.4zM819.2 367.0h2.4v2.4h-2.4zM593.8 359.0h2.4v2.4h-2.4zM734.5 367.7h2.4v2.4h-2.4zM694.4 366.8h2.4v2.4h-2.4zM718.5 365.1h2.4v2.4h-2.4zM303.9 363.7h2.4v2.4h-2.4zM816.5 364.5h2.4v2.4h-2.4zM242.3 367.8h2.4v2.4h-2.4zM271.6 369.4h2.4v2.4h-2.4zM361.7 373.1h2.4v2.4h-2.4zM671.7 365.3h2.4v2.4h-2.4zM431.4 376.7h2.4v2.4h-2.4zM343.4 372.1h2.4v2.4h-2.4zM438.5 369.4h2.4v2.4h-2.4zM485.7 367.1h2.4v2.4h-2.4zM672.6 370.9h2.4v2.4h-2.4zM373.1 370.6h2.4v2.4h-2.4zM390.8 372.3h2.4v2.4h-2.4zM336.6 366.9h2.4v2.4h-2.4zM418.7 363.7h2.4v2.4h-2.4zM543.4 373.7h2.4v2.4h-2.4zM427.5 369.0h2.4v2.4h-2.4zM455.9 370.8h2.4v2.4h-2.4zM265.4 371.1h2.4v2.4h-2.4zM690.2 369.1h2.4v2.4h-2.4zM872.9 367.1h2.4v2.4h-2.4zM820.6 362.8h2.4v2.4h-2.4zM554.9 369.6h2.4v2.4h-2.4zM332.3 371.4h2.4v2.4h-2.4zM491.0 369.1h2.4v2.4h-2.4zM426.3 372.6h2.4v2.4h-2.4zM678.9 371.6h2.4v2.4h-2.4zM331.3 369.2h2.4v2.4h-2.4zM440.5 374.6h2.4v2.4h-2.4zM417.2 380.8h2.4v2.4h-2.4zM457.8 378.1h2.4v2.4h-2.4zM394.6 366.5h2.4v2.4h-2.4zM299.8 376.3h2.4v2.4h-2.4zM667.8 374.2h2.4v2.4h-2.4zM226.1 359.8h2.4v2.4h-2.4zM689.1 370.4h2.4v2.4h-2.4zM667.0 357.9h2.4v2.4h-2.4zM411.0 375.5h2.4v2.4h-2.4zM799.3 372.5h2.4v2.4h-2.4zM409.0 370.7h2.4v2.4h-2.4zM508.7 370.1h2.4v2.4h-2.4zM511.7 375.3h2.4v2.4h-2.4zM241.3 368.6h2.4v2.4h-2.4zM813.7 357.7h2.4v2.4h-2.4zM847.5 364.8h2.4v2.4h-2.4zM328.6 369.9h2.4v2.4h-2.4zM483.6 376.4h2.4v2.4h-2.4zM610.5 365.4h2.4v2.4h-2.4zM655.1 372.9h2.4v2.4h-2.4zM497.6 377.6h2.4v2.4h-2.4zM542.5 373.6h2.4v2.4h-2.4zM569.1 362.6h2.4v2.4h-2.4zM679.2 371.5h2.4v2.4h-2.4zM482.8 375.1h2.4v2.4h-2.4zM457.3 372.7h2.4v2.4h-2.4zM600.2 375.9h2.4v2.4h-2.4zM527.4 378.5h2.4v2.4h-2.4zM719.4 367.7h2.4v2.4h-2.4zM445.4 367.3h2.4v2.4h-2.4zM191.6 372.6h2.4v2.4h-2.4zM229.3 364.6h2.4v2.4h-2.4zM885.4 364.2h2.4v2.4h-2.4zM549.3 371.3h2.4v2.4h-2.4zM847.9 362.4h2.4v2.4h-2.4zM391.6 373.8h2.4v2.4h-2.4zM489.5 370.8h2.4v2.4h-2.4zM297.7 370.3h2.4v2.4h-2.4zM800.5 364.0h2.4v2.4h-2.4zM776.8 364.0h2.4v2.4h-2.4zM519.5 362.2h2.4v2.4h-2.4zM276.0 359.4h2.4v2.4h-2.4zM427.2 376.7h2.4v2.4h-2.4zM600.3 360.4h2.4v2.4h-2.4zM265.2 368.7h2.4v2.4h-2.4zM416.4 377.0h2.4v2.4h-2.4zM354.1 362.7h2.4v2.4h-2.4zM643.3 365.1h2.4v2.4h-2.4zM341.2 366.9h2.4v2.4h-2.4zM482.9 372.1h2.4v2.4h-2.4zM515.8 363.3h2.4v2.4h-2.4zM413.2 375.6h2.4v2.4h-2.4zM338.9 368.2h2.4v2.4h-2.4zM593.7 375.5h2.4v2.4h-2.4zM447.9 373.7h2.4v2.4h-2.4zM422.0 358.7h2.4v2.4h-2.4zM389.1 363.6h2.4v2.4h-2.4zM249.7 369.8h2.4v2.4h-2.4zM425.6 377.4h2.4v2.4h-2.4zM611.5 367.7h2.4v2.4h-2.4zM626.8 368.0h2.4v2.4h-2.4zM432.6 362.9h2.4v2.4h-2.4zM225.0 364.2h2.4v2.4h-2.4zM796.3 365.3h2.4v2.4h-2.4zM556.6 365.8h2.4v2.4h-2.4zM423.5 377.5h2.4v2.4h-2.4zM502.8 368.4h2.4v2.4h-2.4z"/><path stroke="#2eb7a4" d="M477.9 376.4h2.4v2.4h-2.4zM612.1 377.7h2.4v2.4h-2.4zM361.3 369.7h2.4v2.4h-2.4zM708.5 368.0h2.4v2.4h-2.4zM595.7 362.6h2.4v2.4h-2.4z"/><path stroke="#1f7fd9" d="M759.8 371.8h2.4v2.4h-2.4zM512.4 377.1h2.4v2.4h-2.4zM128.8 361.1h2.4v2.4h-2.4zM240.6 364.7h2.4v2.4h-2.4zM862.6 361.3h2.4v2.4h-2.4zM814.7 363.8h2.4v2.4h-2.4zM127.3 357.2h2.4v2.4h-2.4zM723.7 375.2h2.4v2.4h-2.4zM253.5 369.3h2.4v2.4h-2.4zM779.1 365.3h2.4v2.4h-2.4zM552.3 374.1h2.4v2.4h-2.4zM280.0 362.8h2.4v2.4h-2.4zM700.2 366.9h2.4v2.4h-2.4zM584.8 376.8h2.4v2.4h-2.4zM815.4 369.2h2.4v2.4h-2.4z"/><path stroke="#fbf30c" d="M303.0 360.7h2.4v2.4h-2.4zM381.9 380.7h2.4v2.4h-2.4zM711.1 369.2h2.4v2.4h-2.4zM633.6 373.8h2.4v2.4h-2.4zM655.9 372.7h2.4v2.4h-2.4zM621.0 378.0h2.4v2.4h-2.4zM300.9 368.1h2.4v2.4h-2.4zM599.2 386.0h2.4v2.4h-2.4zM567.7 371.0h2.4v2.4h-2.4zM643.5 368.9h2.4v2.4h-2.4zM514.5 376.6h2.4v2.4h-2.4zM377.5 373.8h2.4v2.4h-2.4zM195.4 365.7h2.4v2.4h-2.4zM861.8 369.9h2.4v2.4h-2.4zM357.5 366.3h2.4v2.4h-2.4zM659.7 372.1h2.4v2.4h-2.4zM379.5 367.4h2.4v2.4h-2.4zM647.3 376.4h2.4v2.4h-2.4zM248.6 360.6h2.4v2.4h-2.4zM617.9 355.2h2.4v2.4h-2.4zM153.2 360.4h2.4v2.4h-2.4zM617.8 369.9h2.4v2.4h-2.4zM238.9 367.2h2.4v2.4h-2.4zM185.4 366.4h2.4v2.4h-2.4zM370.0 365.5h2.4v2.4h-2.4zM673.8 375.9h2.4v2.4h-2.4zM701.9 374.8h2.4v2.4h-2.4zM222.7 364.5h2.4v2.4h-2.4zM670.0 365.1h2.4v2.4h-2.4zM654.0 353.6h2.4v2.4h-2.4zM890.1 362.3h2.4v2.4h-2.4zM409.8 376.8h2.4v2.4h-2.4zM489.8 376.9h2.4v2.4h-2.4zM670.7 366.0h2.4v2.4h-2.4zM361.3 365.0h2.4v2.4h-2.4zM525.0 373.5h2.4v2.4h-2.4zM777.3 367.2h2.4v2.4h-2.4zM690.0 371.5h2.4v2.4h-2.4zM489.3 368.7h2.4v2.4h-2.4zM746.7 368.9h2.4v2.4h-2.4zM906.0 361.1h2.4v2.4h-2.4zM589.9 362.3h2.4v2.4h-2.4zM543.2 361.5h2.4v2.4h-2.4zM564.2 356.9h2.4v2.4h-2.4zM600.6 361.5h2.4v2.4h-2.4zM742.8 372.7h2.4v2.4h-2.4zM274.1 363.2h2.4v2.4h-2.4zM477.2 368.9h2.4v2.4h-2.4zM615.7 378.2h2.4v2.4h-2.4zM791.8 366.2h2.4v2.4h-2.4zM555.0 379.3h2.4v2.4h-2.4zM222.5 363.0h2.4v2.4h-2.4zM836.2 368.7h2.4v2.4h-2.4zM711.1 364.0h2.4v2.4h-2.4zM452.5 360.8h2.4v2.4h-2.4zM671.2 367.7h2.4v2.4h-2.4zM787.0 372.3h2.4v2.4h-2.4zM369.2 376.3h2.4v2.4h-2.4zM842.2 368.3h2.4v2.4h-2.4zM891.0 367.3h2.4v2.4h-2.4zM842.8 356.7h2.4v2.4h-2.4zM702.6 371.8h2.4v2.4h-2.4zM596.5 381.0h2.4v2.4h-2.4zM149.0 365.7h2.4v2.4h-2.4zM859.2 360.4h2.4v2.4h-2.4zM539.4 371.5h2.4v2.4h-2.4zM410.8 368.0h2.4v2.4h-2.4zM197.8 361.3h2.4v2.4h-2.4zM515.5 378.4h2.4v2.4h-2.4zM482.9 362.1h2.4v2.4h-2.4zM458.0 381.7h2.4v2.4h-2.4zM687.8 369.0h2.4v2.4h-2.4zM282.3 363.7h2.4v2.4h-2.4zM441.6 368.9h2.4v2.4h-2.4zM499.9 370.8h2.4v2.4h-2.4zM353.7 364.9h2.4v2.4h-2.4zM432.0 368.6h2.4v2.4h-2.4zM301.2 369.0h2.4v2.4h-2.4zM469.3 378.2h2.4v2.4h-2.4zM512.7 362.3h2.4v2.4h-2.4zM536.7 383.3h2.4v2.4h-2.4zM503.1 367.4h2.4v2.4h-2.4zM249.3 367.2h2.4v2.4h-2.4zM748.7 377.3h2.4v2.4h-2.4zM351.1 370.0h2.4v2.4h-2.4zM319.0 373.9h2.4v2.4h-2.4zM302.6 365.3h2.4v2.4h-2.4zM574.3 383.8h2.4v2.4h-2.4zM119.6 359.6h2.4v2.4h-2.4zM580.5 380.1h2.4v2.4h-2.4zM308.2 368.9h2.4v2.4h-2.4zM284.9 367.1h2.4v2.4h-2.4zM774.1 358.7h2.4v2.4h-2.4zM410.2 361.6h2.4v2.4h-2.4zM159.0 366.2h2.4v2.4h-2.4zM582.7 367.6h2.4v2.4h-2.4zM298.3 362.1h2.4v2.4h-2.4zM424.1 366.0h2.4v2.4h-2.4zM448.7 370.9h2.4v2.4h-2.4zM734.9 364.2h2.4v2.4h-2.4zM517.2 364.0h2.4v2.4h-2.4zM236.0 360.5h2.4v2.4h-2.4zM464.8 366.7h2.4v2.4h-2.4zM785.6 367.7h2.4v2.4h-2.4zM784.2 367.0h2.4v2.4h-2.4zM619.4 372.7h2.4v2.4h-2.4zM460.2 373.6h2.4v2.4h-2.4zM426.3 365.6h2.4v2.4h-2.4zM461.5 372.4h2.4v2.4h-2.4zM745.8 371.7h2.4v2.4h-2.4zM613.0 373.0h2.4v2.4h-2.4zM929.2 367.5h2.4v2.4h-2.4zM263.4 368.1h2.4v2.4h-2.4zM339.6 361.9h2.4v2.4h-2.4zM609.2 375.0h2.4v2.4h-2.4zM572.0 389.6h2.4v2.4h-2.4zM573.1 372.0h2.4v2.4h-2.4zM491.2 375.0h2.4v2.4h-2.4zM375.4 370.5h2.4v2.4h-2.4zM207.1 371.5h2.4v2.4h-2.4zM137.6 361.5h2.4v2.4h-2.4zM664.9 380.0h2.4v2.4h-2.4zM356.2 367.3h2.4v2.4h-2.4zM360.4 361.3h2.4v2.4h-2.4zM331.3 368.5h2.4v2.4h-2.4zM200.8 361.4h2.4v2.4h-2.4zM531.8 374.6h2.4v2.4h-2.4zM858.1 360.4h2.4v2.4h-2.4zM710.8 367.7h2.4v2.4h-2.4zM649.6 369.4h2.4v2.4h-2.4zM551.1 371.9h2.4v2.4h-2.4zM365.8 368.5h2.4v2.4h-2.4zM569.5 381.1h2.4v2.4h-2.4zM547.8 371.4h2.4v2.4h-2.4zM806.1 374.1h2.4v2.4h-2.4zM757.5 376.3h2.4v2.4h-2.4zM355.6 365.7h2.4v2.4h-2.4zM450.7 372.1h2.4v2.4h-2.4zM371.5 352.1h2.4v2.4h-2.4zM281.5 363.6h2.4v2.4h-2.4zM443.5 377.2h2.4v2.4h-2.4zM491.1 381.1h2.4v2.4h-2.4zM711.6 363.5h2.4v2.4h-2.4zM748.9 365.0h2.4v2.4h-2.4zM496.3 381.7h2.4v2.4h-2.4zM511.3 376.7h2.4v2.4h-2.4zM614.1 370.0h2.4v2.4h-2.4zM560.5 365.5h2.4v2.4h-2.4zM627.1 367.2h2.4v2.4h-2.4zM681.7 360.6h2.4v2.4h-2.4zM561.2 377.4h2.4v2.4h-2.4zM582.6 371.8h2.4v2.4h-2.4zM532.9 369.6h2.4v2.4h-2.4zM582.1 386.9h2.4v2.4h-2.4zM537.1 370.0h2.4v2.4h-2.4zM739.5 365.8h2.4v2.4h-2.4zM391.3 367.2h2.4v2.4h-2.4zM300.6 374.0h2.4v2.4h-2.4zM325.6 365.6h2.4v2.4h-2.4zM812.4 363.6h2.4v2.4h-2.4zM528.6 372.8h2.4v2.4h-2.4zM627.5 366.1h2.4v2.4h-2.4zM459.7 376.5h2.4v2.4h-2.4zM651.7 366.4h2.4v2.4h-2.4zM405.1 361.1h2.4v2.4h-2.4zM604.7 369.3h2.4v2.4h-2.4zM494.8 372.0h2.4v2.4h-2.4zM693.8 365.3h2.4v2.4h-2.4zM593.0 368.8h2.4v2.4h-2.4zM188.6 365.0h2.4v2.4h-2.4zM324.8 374.9h2.4v2.4h-2.4zM572.6 365.7h2.4v2.4h-2.4zM260.1 369.3h2.4v2.4h-2.4zM492.8 377.0h2.4v2.4h-2.4zM473.3 371.5h2.4v2.4h-2.4zM373.5 373.6h2.4v2.4h-2.4zM446.6 374.4h2.4v2.4h-2.4zM536.5 379.8h2.4v2.4h-2.4zM715.9 373.6h2.4v2.4h-2.4zM510.4 369.2h2.4v2.4h-2.4zM539.1 369.3h2.4v2.4h-2.4zM586.6 374.4h2.4v2.4h-2.4zM502.6 379.9h2.4v2.4h-2.4zM385.9 367.0h2.4v2.4h-2.4zM737.0 367.9h2.4v2.4h-2.4zM593.2 367.9h2.4v2.4h-2.4zM612.8 367.2h2.4v2.4h-2.4zM694.2 371.4h2.4v2.4h-2.4zM493.9 374.8h2.4v2.4h-2.4zM214.3 361.2h2.4v2.4h-2.4zM456.7 376.6h2.4v2.4h-2.4zM710.7 374.8h2.4v2.4h-2.4zM402.9 365.4h2.4v2.4h-2.4zM523.6 364.5h2.4v2.4h-2.4zM388.6 379.9h2.4v2.4h-2.4zM643.2 374.3h2.4v2.4h-2.4zM876.8 362.0h2.4v2.4h-2.4zM390.8 368.7h2.4v2.4h-2.4zM754.2 367.0h2.4v2.4h-2.4zM710.0 362.3h2.4v2.4h-2.4zM565.8 371.1h2.4v2.4h-2.4zM242.4 368.0h2.4v2.4h-2.4zM688.9 364.3h2.4v2.4h-2.4zM574.7 367.8h2.4v2.4h-2.4zM739.8 374.5h2.4v2.4h-2.4zM443.3 372.7h2.4v2.4h-2.4zM681.3 380.6h2.4v2.4h-2.4zM589.6 374.7h2.4v2.4h-2.4zM621.1 378.2h2.4v2.4h-2.4zM518.9 382.1h2.4v2.4h-2.4zM795.8 367.4h2.4v2.4h-2.4zM773.2 373.6h2.4v2.4h-2.4zM323.1 363.3h2.4v2.4h-2.4zM333.6 358.0h2.4v2.4h-2.4zM327.6 362.2h2.4v2.4h-2.4zM231.5 366.8h2.4v2.4h-2.4zM435.5 383.8h2.4v2.4h-2.4zM655.2 374.1h2.4v2.4h-2.4zM200.0 367.2h2.4v2.4h-2.4zM505.6 379.3h2.4v2.4h-2.4zM447.2 374.2h2.4v2.4h-2.4zM513.6 372.9h2.4v2.4h-2.4zM116.7 362.9h2.4v2.4h-2.4zM802.2 368.9h2.4v2.4h-2.4zM372.0 375.8h2.4v2.4h-2.4zM574.4 376.6h2.4v2.4h-2.4zM639.9 359.3h2.4v2.4h-2.4zM163.1 365.1h2.4v2.4h-2.4zM561.4 379.2h2.4v2.4h-2.4zM643.6 375.7h2.4v2.4h-2.4zM849.6 362.0h2.4v2.4h-2.4zM468.7 382.8h2.4v2.4h-2.4zM565.2 379.8h2.4v2.4h-2.4zM458.6 367.9h2.4v2.4h-2.4zM412.8 365.7h2.4v2.4h-2.4zM334.5 373.1h2.4v2.4h-2.4zM758.9 367.2h2.4v2.4h-2.4zM666.6 381.5h2.4v2.4h-2.4zM335.2 361.1h2.4v2.4h-2.4zM753.6 366.3h2.4v2.4h-2.4zM675.6 380.8h2.4v2.4h-2.4zM559.8 374.0h2.4v2.4h-2.4zM715.3 372.5h2.4v2.4h-2.4zM461.7 379.8h2.4v2.4h-2.4zM346.9 372.9h2.4v2.4h-2.4zM469.2 364.7h2.4v2.4h-2.4zM652.6 372.8h2.4v2.4h-2.4zM893.4 366.6h2.4v2.4h-2.4zM587.6 373.9h2.4v2.4h-2.4zM695.5 367.7h2.4v2.4h-2.4zM405.2 357.3h2.4v2.4h-2.4zM531.4 367.9h2.4v2.4h-2.4zM369.0 377.6h2.4v2.4h-2.4zM718.7 371.3h2.4v2.4h-2.4zM578.0 368.7h2.4v2.4h-2.4zM602.2 364.4h2.4v2.4h-2.4zM732.5 371.8h2.4v2.4h-2.4zM575.6 381.0h2.4v2.4h-2.4zM517.4 368.8h2.4v2.4h-2.4zM305.9 375.8h2.4v2.4h-2.4zM570.0 378.0h2.4v2.4h-2.4zM681.6 372.1h2.4v2.4h-2.4zM761.4 364.0h2.4v2.4h-2.4zM750.0 364.3h2.4v2.4h-2.4zM642.2 367.0h2.4v2.4h-2.4zM811.9 368.6h2.4v2.4h-2.4zM469.2 382.1h2.4v2.4h-2.4zM372.5 360.1h2.4v2.4h-2.4zM128.2 365.9h2.4v2.4h-2.4zM506.0 368.0h2.4v2.4h-2.4zM843.6 362.3h2.4v2.4h-2.4zM590.7 383.1h2.4v2.4h-2.4zM527.9 370.3h2.4v2.4h-2.4zM337.2 374.0h2.4v2.4h-2.4zM712.2 371.3h2.4v2.4h-2.4zM547.2 381.7h2.4v2.4h-2.4zM762.8 371.5h2.4v2.4h-2.4zM593.3 368.2h2.4v2.4h-2.4zM208.8 360.7h2.4v2.4h-2.4zM731.9 369.0h2.4v2.4h-2.4zM291.2 367.7h2.4v2.4h-2.4zM587.0 377.6h2.4v2.4h-2.4zM276.1 365.8h2.4v2.4h-2.4zM805.3 374.1h2.4v2.4h-2.4zM588.6 383.9h2.4v2.4h-2.4zM668.9 368.3h2.4v2.4h-2.4zM326.7 373.9h2.4v2.4h-2.4zM698.8 370.7h2.4v2.4h-2.4zM736.1 369.2h2.4v2.4h-2.4zM266.4 370.7h2.4v2.4h-2.4zM713.0 379.2h2.4v2.4h-2.4zM732.6 360.4h2.4v2.4h-2.4zM652.2 369.4h2.4v2.4h-2.4zM567.3 368.5h2.4v2.4h-2.4zM629.6 354.1h2.4v2.4h-2.4zM794.3 368.0h2.4v2.4h-2.4zM411.7 369.9h2.4v2.4h-2.4zM792.9 365.9h2.4v2.4h-2.4zM701.3 378.2h2.4v2.4h-2.4zM220.9 372.0h2.4v2.4h-2.4zM565.3 367.4h2.4v2.4h-2.4zM691.0 364.2h2.4v2.4h-2.4zM346.9 368.6h2.4v2.4h-2.4zM454.8 371.6h2.4v2.4h-2.4zM856.0 361.6h2.4v2.4h-2.4zM264.1 368.0h2.4v2.4h-2.4zM458.0 365.9h2.4v2.4h-2.4zM547.0 367.8h2.4v2.4h-2.4zM592.5 370.0h2.4v2.4h-2.4zM896.6 366.7h2.4v2.4h-2.4zM647.6 360.6h2.4v2.4h-2.4zM371.4 364.6h2.4v2.4h-2.4zM751.3 365.7h2.4v2.4h-2.4zM496.8 376.5h2.4v2.4h-2.4zM911.6 364.1h2.4v2.4h-2.4zM665.9 379.5h2.4v2.4h-2.4zM698.3 363.6h2.4v2.4h-2.4zM642.6 383.1h2.4v2.4h-2.4zM491.9 368.4h2.4v2.4h-2.4zM547.4 372.6h2.4v2.4h-2.4zM357.0 372.2h2.4v2.4h-2.4zM628.4 381.4h2.4v2.4h-2.4zM555.5 364.9h2.4v2.4h-2.4zM419.8 371.9h2.4v2.4h-2.4zM418.2 370.7h2.4v2.4h-2.4zM543.7 354.9h2.4v2.4h-2.4zM763.7 365.3h2.4v2.4h-2.4zM506.7 377.2h2.4v2.4h-2.4zM414.7 374.6h2.4v2.4h-2.4zM523.1 372.0h2.4v2.4h-2.4zM684.3 358.9h2.4v2.4h-2.4zM416.4 378.1h2.4v2.4h-2.4zM466.1 357.3h2.4v2.4h-2.4zM326.3 366.9h2.4v2.4h-2.4zM912.5 360.3h2.4v2.4h-2.4zM690.0 373.7h2.4v2.4h-2.4zM527.4 376.2h2.4v2.4h-2.4zM361.8 372.0h2.4v2.4h-2.4zM599.3 377.9h2.4v2.4h-2.4zM438.4 366.2h2.4v2.4h-2.4zM459.0 375.0h2.4v2.4h-2.4zM665.1 372.3h2.4v2.4h-2.4zM742.4 366.6h2.4v2.4h-2.4zM490.7 367.1h2.4v2.4h-2.4zM250.1 362.2h2.4v2.4h-2.4zM871.9 362.5h2.4v2.4h-2.4zM810.3 364.0h2.4v2.4h-2.4zM642.5 370.0h2.4v2.4h-2.4zM422.1 370.5h2.4v2.4h-2.4zM177.5 353.7h2.4v2.4h-2.4zM236.6 368.4h2.4v2.4h-2.4zM227.9 366.9h2.4v2.4h-2.4zM232.4 364.5h2.4v2.4h-2.4zM411.1 366.5h2.4v2.4h-2.4zM432.4 364.3h2.4v2.4h-2.4zM233.7 367.6h2.4v2.4h-2.4zM699.2 359.7h2.4v2.4h-2.4zM423.4 372.6h2.4v2.4h-2.4zM805.7 364.0h2.4v2.4h-2.4zM728.5 372.2h2.4v2.4h-2.4zM610.6 372.1h2.4v2.4h-2.4zM639.4 377.0h2.4v2.4h-2.4zM187.2 369.1h2.4v2.4h-2.4zM549.2 367.3h2.4v2.4h-2.4zM199.8 368.0h2.4v2.4h-2.4zM528.6 373.8h2.4v2.4h-2.4zM659.8 368.4h2.4v2.4h-2.4zM338.7 377.8h2.4v2.4h-2.4zM231.1 372.0h2.4v2.4h-2.4zM773.7 370.4h2.4v2.4h-2.4zM351.6 361.8h2.4v2.4h-2.4zM828.0 367.0h2.4v2.4h-2.4z"/><path stroke="#4ebc8c" d="M633.5 369.0h2.4v2.4h-2.4zM604.0 361.9h2.4v2.4h-2.4zM772.2 357.1h2.4v2.4h-2.4zM859.6 346.4h2.4v2.4h-2.4zM861.6 351.5h2.4v2.4h-2.4zM746.9 365.8h2.4v2.4h-2.4zM768.8 366.2h2.4v2.4h-2.4zM436.5 366.8h2.4v2.4h-2.4zM677.7 366.4h2.4v2.4h-2.4zM231.8 352.5h2.4v2.4h-2.4zM752.9 351.2h2.4v2.4h-2.4zM398.5 373.8h2.4v2.4h-2.4zM278.4 364.1h2.4v2.4h-2.4zM503.9 376.3h2.4v2.4h-2.4zM649.3 362.9h2.4v2.4h-2.4zM329.7 363.3h2.4v2.4h-2.4zM553.4 376.6h2.4v2.4h-2.4zM727.7 372.7h2.4v2.4h-2.4zM657.1 372.7h2.4v2.4h-2.4zM518.7 379.2h2.4v2.4h-2.4zM354.9 371.1h2.4v2.4h-2.4zM938.1 348.0h2.4v2.4h-2.4zM900.3 355.1h2.4v2.4h-2.4zM791.1 354.9h2.4v2.4h-2.4zM148.8 351.5h2.4v2.4h-2.4zM681.8 365.2h2.4v2.4h-2.4zM167.1 346.9h2.4v2.4h-2.4zM713.5 356.2h2.4v2.4h-2.4zM458.7 384.0h2.4v2.4h-2.4zM171.9 349.7h2.4v2.4h-2.4zM164.8 355.2h2.4v2.4h-2.4zM889.5 350.6h2.4v2.4h-2.4zM138.1 352.1h2.4v2.4h-2.4zM116.7 360.7h2.4v2.4h-2.4zM876.7 355.9h2.4v2.4h-2.4zM232.5 344.9h2.4v2.4h-2.4zM894.4 349.6h2.4v2.4h-2.4zM246.3 358.4h2.4v2.4h-2.4zM699.8 365.1h2.4v2.4h-2.4zM155.0 354.1h2.4v2.4h-2.4zM852.8 351.8h2.4v2.4h-2.4zM735.6 359.6h2.4v2.4h-2.4zM346.5 360.9h2.4v2.4h-2.4zM250.8 355.4h2.4v2.4h-2.4zM150.0 352.7h2.4v2.4h-2.4zM224.3 355.3h2.4v2.4h-2.4zM868.0 355.2h2.4v2.4h-2.4zM900.7 352.0h2.4v2.4h-2.4zM190.7 342.3h2.4v2.4h-2.4zM764.4 362.2h2.4v2.4h-2.4zM225.9 349.2h2.4v2.4h-2.4zM457.2 376.6h2.4v2.4h-2.4zM255.2 361.8h2.4v2.4h-2.4zM638.9 356.6h2.4v2.4h-2.4zM115.7 352.0h2.4v2.4h-2.4zM281.6 358.1h2.4v2.4h-2.4zM917.4 344.0h2.4v2.4h-2.4zM605.6 364.2h2.4v2.4h-2.4zM454.2 375.5h2.4v2.4h-2.4zM450.7 365.9h2.4v2.4h-2.4zM767.1 362.2h2.4v2.4h-2.4zM466.7 371.6h2.4v2.4h-2.4zM789.4 358.6h2.4v2.4h-2.4zM818.0 350.5h2.4v2.4h-2.4zM875.3 350.2h2.4v2.4h-2.4zM317.1 359.6h2.4v2.4h-2.4zM751.2 357.6h2.4v2.4h-2.4zM734.4 358.6h2.4v2.4h-2.4zM423.3 383.3h2.4v2.4h-2.4zM683.8 373.5h2.4v2.4h-2.4zM366.0 353.6h2.4v2.4h-2.4zM232.7 353.9h2.4v2.4h-2.4zM858.6 359.2h2.4v2.4h-2.4zM680.5 377.4h2.4v2.4h-2.4zM167.0 339.9h2.4v2.4h-2.4zM181.1 353.8h2.4v2.4h-2.4zM147.9 357.9h2.4v2.4h-2.4zM810.2 343.9h2.4v2.4h-2.4zM670.9 372.7h2.4v2.4h-2.4zM922.1 356.0h2.4v2.4h-2.4zM901.9 344.1h2.4v2.4h-2.4zM184.2 347.1h2.4v2.4h-2.4zM897.4 356.5h2.4v2.4h-2.4zM787.8 352.3h2.4v2.4h-2.4zM125.5 352.3h2.4v2.4h-2.4zM303.9 359.2h2.4v2.4h-2.4zM685.3 371.1h2.4v2.4h-2.4zM321.8 373.0h2.4v2.4h-2.4zM786.4 364.1h2.4v2.4h-2.4zM495.2 378.5h2.4v2.4h-2.4zM916.8 348.6h2.4v2.4h-2.4zM854.0 349.9h2.4v2.4h-2.4zM160.0 360.8h2.4v2.4h-2.4zM411.9 375.1h2.4v2.4h-2.4zM942.1 349.9h2.4v2.4h-2.4zM164.1 353.9h2.4v2.4h-2.4zM886.6 351.2h2.4v2.4h-2.4zM140.2 347.3h2.4v2.4h-2.4zM679.9 368.0h2.4v2.4h-2.4zM918.1 351.7h2.4v2.4h-2.4zM735.4 363.3h2.4v2.4h-2.4zM785.4 349.4h2.4v2.4h-2.4zM921.9 348.8h2.4v2.4h-2.4zM921.8 362.1h2.4v2.4h-2.4zM167.4 343.8h2.4v2.4h-2.4zM854.6 351.3h2.4v2.4h-2.4zM583.9 379.0h2.4v2.4h-2.4zM884.9 358.2h2.4v2.4h-2.4zM173.1 340.5h2.4v2.4h-2.4zM783.9 354.3h2.4v2.4h-2.4zM829.4 363.2h2.4v2.4h-2.4zM317.4 366.0h2.4v2.4h-2.4zM712.9 368.0h2.4v2.4h-2.4zM533.9 378.6h2.4v2.4h-2.4zM678.1 359.8h2.4v2.4h-2.4zM770.5 360.2h2.4v2.4h-2.4zM330.6 363.1h2.4v2.4h-2.4zM708.6 367.3h2.4v2.4h-2.4zM223.1 359.8h2.4v2.4h-2.4zM140.5 347.8h2.4v2.4h-2.4zM679.8 364.6h2.4v2.4h-2.4zM883.2 349.1h2.4v2.4h-2.4zM853.6 348.0h2.4v2.4h-2.4zM673.2 373.4h2.4v2.4h-2.4zM854.6 360.6h2.4v2.4h-2.4zM893.2 362.2h2.4v2.4h-2.4zM672.0 369.8h2.4v2.4h-2.4zM832.7 351.1h2.4v2.4h-2.4zM127.8 349.3h2.4v2.4h-2.4zM857.7 353.5h2.4v2.4h-2.4zM664.5 364.6h2.4v2.4h-2.4zM252.6 356.6h2.4v2.4h-2.4zM147.7 359.7h2.4v2.4h-2.4zM611.2 360.3h2.4v2.4h-2.4zM889.1 351.2h2.4v2.4h-2.4zM641.9 376.4h2.4v2.4h-2.4zM831.4 358.0h2.4v2.4h-2.4zM809.8 354.0h2.4v2.4h-2.4zM512.3 374.4h2.4v2.4h-2.4zM132.1 347.7h2.4v2.4h-2.4zM289.6 346.6h2.4v2.4h-2.4zM146.8 354.8h2.4v2.4h-2.4zM197.8 354.4h2.4v2.4h-2.4zM311.2 363.4h2.4v2.4h-2.4zM930.2 356.8h2.4v2.4h-2.4zM751.8 366.1h2.4v2.4h-2.4zM847.5 352.7h2.4v2.4h-2.4zM760.2 354.1h2.4v2.4h-2.4zM858.8 364.6h2.4v2.4h-2.4zM406.9 378.4h2.4v2.4h-2.4zM301.3 368.0h2.4v2.4h-2.4zM392.9 365.9h2.4v2.4h-2.4zM507.7 368.0h2.4v2.4h-2.4zM283.3 363.1h2.4v2.4h-2.4zM270.1 353.2h2.4v2.4h-2.4zM801.8 353.5h2.4v2.4h-2.4zM370.4 361.0h2.4v2.4h-2.4zM604.6 377.8h2.4v2.4h-2.4zM290.8 372.3h2.4v2.4h-2.4zM684.4 357.3h2.4v2.4h-2.4zM552.3 370.5h2.4v2.4h-2.4zM351.8 363.4h2.4v2.4h-2.4zM196.0 357.3h2.4v2.4h-2.4zM361.4 368.5h2.4v2.4h-2.4zM338.0 349.5h2.4v2.4h-2.4zM884.6 353.1h2.4v2.4h-2.4zM727.9 359.1h2.4v2.4h-2.4zM865.8 345.5h2.4v2.4h-2.4zM704.2 361.3h2.4v2.4h-2.4zM796.3 360.7h2.4v2.4h-2.4zM881.2 355.3h2.4v2.4h-2.4zM831.1 359.6h2.4v2.4h-2.4zM257.8 364.7h2.4v2.4h-2.4zM409.9 371.4h2.4v2.4h-2.4zM290.8 362.6h2.4v2.4h-2.4zM413.1 375.8h2.4v2.4h-2.4zM764.3 355.1h2.4v2.4h-2.4zM481.0 360.7h2.4v2.4h-2.4zM138.3 351.5h2.4v2.4h-2.4zM758.9 373.1h2.4v2.4h-2.4zM748.3 367.2h2.4v2.4h-2.4zM203.4 354.5h2.4v2.4h-2.4zM204.5 360.7h2.4v2.4h-2.4zM681.8 369.8h2.4v2.4h-2.4zM870.7 355.8h2.4v2.4h-2.4zM185.0 344.9h2.4v2.4h-2.4zM571.2 375.7h2.4v2.4h-2.4zM362.3 368.8h2.4v2.4h-2.4zM186.9 352.8h2.4v2.4h-2.4zM904.2 344.4h2.4v2.4h-2.4zM898.2 351.7h2.4v2.4h-2.4zM894.6 342.6h2.4v2.4h-2.4zM740.4 361.0h2.4v2.4h-2.4zM846.8 355.2h2.4v2.4h-2.4zM562.2 394.3h2.4v2.4h-2.4zM268.0 360.0h2.4v2.4h-2.4zM116.7 353.6h2.4v2.4h-2.4zM895.0 354.0h2.4v2.4h-2.4zM531.5 364.3h2.4v2.4h-2.4zM692.8 368.4h2.4v2.4h-2.4zM361.6 367.6h2.4v2.4h-2.4zM905.4 358.2h2.4v2.4h-2.4zM305.4 356.0h2.4v2.4h-2.4zM427.9 367.2h2.4v2.4h-2.4zM781.8 366.3h2.4v2.4h-2.4zM155.0 347.9h2.4v2.4h-2.4zM129.6 352.7h2.4v2.4h-2.4zM922.1 353.9h2.4v2.4h-2.4zM144.7 352.3h2.4v2.4h-2.4zM300.1 362.0h2.4v2.4h-2.4zM713.4 357.6h2.4v2.4h-2.4zM813.4 349.8h2.4v2.4h-2.4zM534.5 369.5h2.4v2.4h-2.4zM751.9 357.2h2.4v2.4h-2.4zM870.8 351.2h2.4v2.4h-2.4zM381.6 370.8h2.4v2.4h-2.4zM699.9 372.5h2.4v2.4h-2.4zM684.2 368.8h2.4v2.4h-2.4zM786.3 353.9h2.4v2.4h-2.4zM135.0 354.6h2.4v2.4h-2.4zM756.4 356.9h2.4v2.4h-2.4zM130.3 351.0h2.4v2.4h-2.4zM820.4 362.2h2.4v2.4h-2.4zM885.6 353.4h2.4v2.4h-2.4zM146.1 341.1h2.4v2.4h-2.4zM228.8 351.3h2.4v2.4h-2.4zM244.2 347.0h2.4v2.4h-2.4zM616.2 386.1h2.4v2.4h-2.4zM796.3 351.8h2.4v2.4h-2.4zM778.9 360.9h2.4v2.4h-2.4zM819.3 358.9h2.4v2.4h-2.4zM136.7 351.3h2.4v2.4h-2.4zM456.1 365.8h2.4v2.4h-2.4zM929.3 351.4h2.4v2.4h-2.4zM722.0 357.0h2.4v2.4h-2.4zM631.5 372.4h2.4v2.4h-2.4zM212.3 349.9h2.4v2.4h-2.4zM760.7 353.1h2.4v2.4h-2.4zM630.3 378.9h2.4v2.4h-2.4zM924.9 349.9h2.4v2.4h-2.4zM430.6 363.5h2.4v2.4h-2.4zM382.1 371.4h2.4v2.4h-2.4zM149.2 348.5h2.4v2.4h-2.4zM127.0 362.5h2.4v2.4h-2.4zM722.3 364.9h2.4v2.4h-2.4zM835.0 355.9h2.4v2.4h-2.4zM358.8 342.6h2.4v2.4h-2.4zM194.3 348.5h2.4v2.4h-2.4zM513.2 374.6h2.4v2.4h-2.4zM644.7 359.7h2.4v2.4h-2.4zM776.7 363.1h2.4v2.4h-2.4zM698.3 361.5h2.4v2.4h-2.4zM417.9 368.3h2.4v2.4h-2.4zM355.2 352.6h2.4v2.4h-2.4zM369.2 368.7h2.4v2.4h-2.4zM233.5 354.8h2.4v2.4h-2.4zM880.8 350.3h2.4v2.4h-2.4zM492.1 379.2h2.4v2.4h-2.4zM129.0 353.4h2.4v2.4h-2.4zM688.2 361.7h2.4v2.4h-2.4zM860.1 347.6h2.4v2.4h-2.4zM326.5 370.9h2.4v2.4h-2.4zM815.0 344.6h2.4v2.4h-2.4zM365.1 358.9h2.4v2.4h-2.4zM582.7 374.7h2.4v2.4h-2.4zM238.1 350.9h2.4v2.4h-2.4zM150.6 353.2h2.4v2.4h-2.4zM134.4 347.9h2.4v2.4h-2.4zM364.2 360.6h2.4v2.4h-2.4zM171.0 346.1h2.4v2.4h-2.4zM916.0 351.9h2.4v2.4h-2.4zM759.5 360.8h2.4v2.4h-2.4zM133.9 351.5h2.4v2.4h-2.4zM754.8 355.5h2.4v2.4h-2.4zM331.0 361.8h2.4v2.4h-2.4zM399.0 384.6h2.4v2.4h-2.4zM361.8 364.3h2.4v2.4h-2.4zM298.4 364.7h2.4v2.4h-2.4zM295.5 355.1h2.4v2.4h-2.4zM281.3 358.7h2.4v2.4h-2.4zM432.3 375.0h2.4v2.4h-2.4zM193.4 357.8h2.4v2.4h-2.4zM539.5 377.6h2.4v2.4h-2.4zM754.5 355.1h2.4v2.4h-2.4zM311.1 370.6h2.4v2.4h-2.4zM566.0 376.7h2.4v2.4h-2.4zM144.2 349.2h2.4v2.4h-2.4zM187.5 359.0h2.4v2.4h-2.4zM295.9 354.1h2.4v2.4h-2.4zM741.1 356.9h2.4v2.4h-2.4zM688.3 360.8h2.4v2.4h-2.4zM455.8 372.0h2.4v2.4h-2.4zM892.6 364.8h2.4v2.4h-2.4zM166.3 347.3h2.4v2.4h-2.4zM208.4 346.0h2.4v2.4h-2.4zM121.9 356.2h2.4v2.4h-2.4zM761.9 362.5h2.4v2.4h-2.4zM167.0 357.9h2.4v2.4h-2.4zM836.6 360.4h2.4v2.4h-2.4zM208.0 346.8h2.4v2.4h-2.4zM944.2 351.4h2.4v2.4h-2.4zM404.6 371.4h2.4v2.4h-2.4zM827.6 350.5h2.4v2.4h-2.4zM346.0 365.7h2.4v2.4h-2.4zM414.8 365.2h2.4v2.4h-2.4zM234.7 350.0h2.4v2.4h-2.4zM692.9 365.3h2.4v2.4h-2.4zM729.1 369.6h2.4v2.4h-2.4zM547.2 378.4h2.4v2.4h-2.4zM164.2 354.2h2.4v2.4h-2.4zM300.1 361.5h2.4v2.4h-2.4zM210.8 352.7h2.4v2.4h-2.4zM191.3 354.6h2.4v2.4h-2.4zM383.4 375.9h2.4v2.4h-2.4zM802.0 366.5h2.4v2.4h-2.4zM754.6 366.7h2.4v2.4h-2.4zM773.0 359.3h2.4v2.4h-2.4zM142.2 346.9h2.4v2.4h-2.4zM714.2 364.0h2.4v2.4h-2.4zM877.6 352.8h2.4v2.4h-2.4zM889.9 347.3h2.4v2.4h-2.4zM129.6 342.4h2.4v2.4h-2.4zM278.6 352.0h2.4v2.4h-2.4zM804.2 354.9h2.4v2.4h-2.4zM280.7 361.1h2.4v2.4h-2.4zM416.1 362.8h2.4v2.4h-2.4zM174.3 355.5h2.4v2.4h-2.4zM172.8 354.4h2.4v2.4h-2.4zM857.0 341.4h2.4v2.4h-2.4zM847.9 358.8h2.4v2.4h-2.4zM863.2 349.2h2.4v2.4h-2.4zM371.8 376.3h2.4v2.4h-2.4zM138.5 348.7h2.4v2.4h-2.4zM317.7 360.7h2.4v2.4h-2.4zM172.8 348.3h2.4v2.4h-2.4zM286.9 371.7h2.4v2.4h-2.4zM163.9 352.7h2.4v2.4h-2.4zM917.7 352.2h2.4v2.4h-2.4zM794.7 354.6h2.4v2.4h-2.4zM342.9 355.1h2.4v2.4h-2.4zM211.1 350.3h2.4v2.4h-2.4zM833.1 347.2h2.4v2.4h-2.4zM654.5 372.3h2.4v2.4h-2.4zM890.4 354.6h2.4v2.4h-2.4zM419.0 357.0h2.4v2.4h-2.4zM249.1 359.6h2.4v2.4h-2.4zM831.1 355.1h2.4v2.4h-2.4zM154.5 345.7h2.4v2.4h-2.4zM494.5 371.9h2.4v2.4h-2.4zM308.6 371.3h2.4v2.4h-2.4zM204.8 354.8h2.4v2.4h-2.4zM247.7 353.5h2.4v2.4h-2.4zM915.8 347.3h2.4v2.4h-2.4zM909.3 355.2h2.4v2.4h-2.4zM657.9 379.1h2.4v2.4h-2.4zM299.4 368.5h2.4v2.4h-2.4zM507.0 368.6h2.4v2.4h-2.4zM245.7 357.3h2.4v2.4h-2.4zM828.0 356.1h2.4v2.4h-2.4zM846.2 364.9h2.4v2.4h-2.4zM393.2 370.1h2.4v2.4h-2.4zM556.4 372.8h2.4v2.4h-2.4zM827.1 348.0h2.4v2.4h-2.4zM737.3 369.2h2.4v2.4h-2.4zM768.0 364.7h2.4v2.4h-2.4zM235.8 355.3h2.4v2.4h-2.4zM282.1 367.6h2.4v2.4h-2.4zM685.1 370.3h2.4v2.4h-2.4zM619.4 367.0h2.4v2.4h-2.4zM178.8 355.4h2.4v2.4h-2.4zM116.6 363.1h2.4v2.4h-2.4zM125.7 345.7h2.4v2.4h-2.4zM382.3 383.2h2.4v2.4h-2.4zM605.3 359.3h2.4v2.4h-2.4zM168.1 346.4h2.4v2.4h-2.4zM127.7 356.3h2.4v2.4h-2.4zM206.9 355.4h2.4v2.4h-2.4zM144.6 349.7h2.4v2.4h-2.4zM657.9 366.0h2.4v2.4h-2.4zM852.8 358.9h2.4v2.4h-2.4zM467.9 373.2h2.4v2.4h-2.4zM254.8 352.5h2.4v2.4h-2.4zM137.1 353.3h2.4v2.4h-2.4zM394.3 360.1h2.4v2.4h-2.4zM475.9 363.6h2.4v2.4h-2.4zM505.1 368.2h2.4v2.4h-2.4zM579.9 374.8h2.4v2.4h-2.4zM835.1 352.8h2.4v2.4h-2.4zM774.1 361.9h2.4v2.4h-2.4zM350.3 355.2h2.4v2.4h-2.4zM911.0 347.5h2.4v2.4h-2.4zM346.1 371.4h2.4v2.4h-2.4zM678.7 378.1h2.4v2.4h-2.4zM416.9 361.9h2.4v2.4h-2.4zM838.6 354.4h2.4v2.4h-2.4zM396.8 365.9h2.4v2.4h-2.4zM790.8 365.2h2.4v2.4h-2.4zM326.6 359.2h2.4v2.4h-2.4zM643.4 382.3h2.4v2.4h-2.4zM477.8 372.9h2.4v2.4h-2.4zM562.3 368.0h2.4v2.4h-2.4zM694.5 362.1h2.4v2.4h-2.4zM803.4 351.2h2.4v2.4h-2.4zM321.7 366.7h2.4v2.4h-2.4zM756.6 357.8h2.4v2.4h-2.4zM868.4 347.3h2.4v2.4h-2.4zM178.6 349.3h2.4v2.4h-2.4zM253.3 365.5h2.4v2.4h-2.4zM447.5 374.6h2.4v2.4h-2.4zM229.7 352.9h2.4v2.4h-2.4zM855.7 346.8h2.4v2.4h-2.4zM319.1 366.0h2.4v2.4h-2.4zM379.3 367.7h2.4v2.4h-2.4zM281.6 358.9h2.4v2.4h-2.4zM175.6 345.7h2.4v2.4h-2.4zM744.7 356.8h2.4v2.4h-2.4zM774.8 367.5h2.4v2.4h-2.4zM554.1 378.2h2.4v2.4h-2.4zM145.0 351.1h2.4v2.4h-2.4zM454.0 376.9h2.4v2.4h-2.4zM670.4 365.7h2.4v2.4h-2.4zM862.9 356.1h2.4v2.4h-2.4zM212.7 359.9h2.4v2.4h-2.4zM723.8 360.9h2.4v2.4h-2.4zM900.9 346.0h2.4v2.4h-2.4zM684.1 379.5h2.4v2.4h-2.4zM934.1 350.0h2.4v2.4h-2.4zM378.3 373.9h2.4v2.4h-2.4zM626.1 368.4h2.4v2.4h-2.4zM921.3 347.9h2.4v2.4h-2.4zM626.8 383.6h2.4v2.4h-2.4zM472.4 369.5h2.4v2.4h-2.4zM939.7 343.2h2.4v2.4h-2.4zM206.4 356.8h2.4v2.4h-2.4zM915.1 347.9h2.4v2.4h-2.4zM602.4 388.1h2.4v2.4h-2.4zM782.2 361.0h2.4v2.4h-2.4zM347.0 361.8h2.4v2.4h-2.4zM241.3 364.7h2.4v2.4h-2.4zM851.0 350.6h2.4v2.4h-2.4zM910.8 350.6h2.4v2.4h-2.4zM627.2 389.7h2.4v2.4h-2.4zM857.6 353.2h2.4v2.4h-2.4zM144.6 345.8h2.4v2.4h-2.4zM399.2 367.3h2.4v2.4h-2.4zM799.3 354.7h2.4v2.4h-2.4zM231.0 352.0h2.4v2.4h-2.4zM587.3 378.3h2.4v2.4h-2.4zM341.2 365.6h2.4v2.4h-2.4zM882.7 363.0h2.4v2.4h-2.4zM396.8 374.0h2.4v2.4h-2.4zM901.3 349.3h2.4v2.4h-2.4zM278.8 359.2h2.4v2.4h-2.4zM804.6 353.9h2.4v2.4h-2.4zM499.2 368.4h2.4v2.4h-2.4zM488.2 382.2h2.4v2.4h-2.4zM382.1 370.8h2.4v2.4h-2.4zM809.0 356.6h2.4v2.4h-2.4zM745.0 363.5h2.4v2.4h-2.4zM369.5 368.3h2.4v2.4h-2.4zM351.7 367.5h2.4v2.4h-2.4zM839.4 352.8h2.4v2.4h-2.4zM917.8 349.4h2.4v2.4h-2.4zM845.7 350.5h2.4v2.4h-2.4zM777.9 364.6h2.4v2.4h-2.4zM657.6 382.3h2.4v2.4h-2.4zM907.9 357.2h2.4v2.4h-2.4zM789.2 367.5h2.4v2.4h-2.4zM633.1 370.1h2.4v2.4h-2.4zM208.4 358.5h2.4v2.4h-2.4zM843.9 348.0h2.4v2.4h-2.4zM844.5 354.5h2.4v2.4h-2.4zM900.7 344.7h2.4v2.4h-2.4zM302.1 369.6h2.4v2.4h-2.4zM516.4 373.9h2.4v2.4h-2.4zM882.0 347.6h2.4v2.4h-2.4zM922.0 356.0h2.4v2.4h-2.4zM307.4 350.2h2.4v2.4h-2.4zM932.1 352.9h2.4v2.4h-2.4zM860.0 360.6h2.4v2.4h-2.4zM744.9 364.6h2.4v2.4h-2.4zM573.7 371.4h2.4v2.4h-2.4zM592.7 368.3h2.4v2.4h-2.4zM811.9 361.1h2.4v2.4h-2.4zM764.2 372.5h2.4v2.4h-2.4zM303.0 372.7h2.4v2.4h-2.4zM907.2 346.9h2.4v2.4h-2.4zM732.4 369.9h2.4v2.4h-2.4zM708.1 359.0h2.4v2.4h-2.4zM362.3 369.2h2.4v2.4h-2.4zM342.9 367.4h2.4v2.4h-2.4zM268.9 351.0h2.4v2.4h-2.4zM710.0 380.7h2.4v2.4h-2.4zM166.8 354.4h2.4v2.4h-2.4zM237.1 357.3h2.4v2.4h-2.4zM613.9 357.9h2.4v2.4h-2.4zM351.5 366.2h2.4v2.4h-2.4zM893.2 357.1h2.4v2.4h-2.4zM317.3 368.7h2.4v2.4h-2.4zM148.1 348.8h2.4v2.4h-2.4zM217.4 353.3h2.4v2.4h-2.4zM609.1 369.6h2.4v2.4h-2.4zM204.5 341.8h2.4v2.4h-2.4zM209.5 352.2h2.4v2.4h-2.4zM451.6 386.8h2.4v2.4h-2.4zM145.8 353.9h2.4v2.4h-2.4zM825.8 358.0h2.4v2.4h-2.4zM822.9 352.0h2.4v2.4h-2.4zM727.0 358.4h2.4v2.4h-2.4zM398.4 381.4h2.4v2.4h-2.4zM787.0 352.7h2.4v2.4h-2.4zM303.2 361.6h2.4v2.4h-2.4zM122.5 358.7h2.4v2.4h-2.4zM150.7 353.4h2.4v2.4h-2.4zM327.0 367.0h2.4v2.4h-2.4zM809.9 357.3h2.4v2.4h-2.4zM356.0 363.7h2.4v2.4h-2.4zM932.9 345.3h2.4v2.4h-2.4zM719.6 364.8h2.4v2.4h-2.4zM208.5 355.5h2.4v2.4h-2.4zM495.0 393.9h2.4v2.4h-2.4zM540.7 373.6h2.4v2.4h-2.4zM263.3 353.3h2.4v2.4h-2.4zM160.0 362.8h2.4v2.4h-2.4zM296.3 365.9h2.4v2.4h-2.4zM795.8 361.5h2.4v2.4h-2.4zM859.9 351.5h2.4v2.4h-2.4zM223.4 360.8h2.4v2.4h-2.4zM854.8 355.5h2.4v2.4h-2.4zM135.9 349.8h2.4v2.4h-2.4zM558.1 364.5h2.4v2.4h-2.4zM782.4 367.0h2.4v2.4h-2.4zM204.6 351.3h2.4v2.4h-2.4zM372.2 375.2h2.4v2.4h-2.4zM427.7 370.1h2.4v2.4h-2.4zM487.9 361.8h2.4v2.4h-2.4zM768.0 370.9h2.4v2.4h-2.4zM226.5 357.7h2.4v2.4h-2.4zM762.0 366.6h2.4v2.4h-2.4zM819.2 360.2h2.4v2.4h-2.4zM400.9 387.0h2.4v2.4h-2.4zM459.3 380.2h2.4v2.4h-2.4zM363.0 365.7h2.4v2.4h-2.4zM149.0 354.7h2.4v2.4h-2.4zM116.0 356.8h2.4v2.4h-2.4zM604.1 369.1h2.4v2.4h-2.4zM927.2 343.2h2.4v2.4h-2.4zM919.2 347.9h2.4v2.4h-2.4zM320.2 349.2h2.4v2.4h-2.4zM783.8 354.5h2.4v2.4h-2.4zM347.4 372.5h2.4v2.4h-2.4zM486.6 365.0h2.4v2.4h-2.4zM747.5 365.1h2.4v2.4h-2.4zM491.1 370.5h2.4v2.4h-2.4zM297.6 359.3h2.4v2.4h-2.4zM174.1 351.2h2.4v2.4h-2.4zM715.4 364.4h2.4v2.4h-2.4zM763.4 361.1h2.4v2.4h-2.4zM164.8 355.6h2.4v2.4h-2.4zM249.2 353.8h2.4v2.4h-2.4zM690.5 362.7h2.4v2.4h-2.4zM306.3 349.7h2.4v2.4h-2.4zM626.5 369.5h2.4v2.4h-2.4zM436.9 372.2h2.4v2.4h-2.4zM600.0 355.0h2.4v2.4h-2.4zM306.8 360.9h2.4v2.4h-2.4zM936.0 352.9h2.4v2.4h-2.4zM835.5 352.9h2.4v2.4h-2.4zM244.7 362.4h2.4v2.4h-2.4zM635.9 381.0h2.4v2.4h-2.4zM322.8 367.9h2.4v2.4h-2.4zM391.8 369.2h2.4v2.4h-2.4zM898.6 351.0h2.4v2.4h-2.4zM757.5 364.4h2.4v2.4h-2.4zM698.9 365.9h2.4v2.4h-2.4zM472.2 386.6h2.4v2.4h-2.4zM755.4 364.5h2.4v2.4h-2.4zM298.3 365.6h2.4v2.4h-2.4zM453.5 374.7h2.4v2.4h-2.4zM314.3 362.5h2.4v2.4h-2.4zM423.0 390.3h2.4v2.4h-2.4zM928.8 351.8h2.4v2.4h-2.4zM261.8 352.2h2.4v2.4h-2.4zM127.2 347.4h2.4v2.4h-2.4zM337.1 369.9h2.4v2.4h-2.4zM366.2 367.2h2.4v2.4h-2.4zM222.7 359.4h2.4v2.4h-2.4zM397.0 374.8h2.4v2.4h-2.4zM317.0 366.2h2.4v2.4h-2.4zM420.3 363.9h2.4v2.4h-2.4zM799.6 361.7h2.4v2.4h-2.4zM849.8 360.6h2.4v2.4h-2.4zM426.2 365.7h2.4v2.4h-2.4zM719.8 364.1h2.4v2.4h-2.4zM237.1 349.6h2.4v2.4h-2.4zM806.4 357.2h2.4v2.4h-2.4zM866.2 343.7h2.4v2.4h-2.4zM451.0 371.8h2.4v2.4h-2.4zM335.9 359.4h2.4v2.4h-2.4zM849.4 357.5h2.4v2.4h-2.4zM253.9 358.7h2.4v2.4h-2.4zM924.6 345.3h2.4v2.4h-2.4zM806.6 352.6h2.4v2.4h-2.4zM227.0 349.3h2.4v2.4h-2.4zM551.6 377.5h2.4v2.4h-2.4zM144.7 347.9h2.4v2.4h-2.4zM259.2 370.1h2.4v2.4h-2.4zM936.9 353.2h2.4v2.4h-2.4zM814.9 352.0h2.4v2.4h-2.4zM738.6 360.7h2.4v2.4h-2.4zM659.2 361.4h2.4v2.4h-2.4zM905.0 350.1h2.4v2.4h-2.4zM791.7 368.6h2.4v2.4h-2.4zM586.7 383.4h2.4v2.4h-2.4zM753.2 368.8h2.4v2.4h-2.4zM794.1 363.3h2.4v2.4h-2.4zM140.4 350.6h2.4v2.4h-2.4zM890.3 347.7h2.4v2.4h-2.4zM916.9 344.8h2.4v2.4h-2.4zM759.5 365.3h2.4v2.4h-2.4zM915.6 351.8h2.4v2.4h-2.4zM854.0 357.8h2.4v2.4h-2.4zM899.8 344.3h2.4v2.4h-2.4zM804.0 356.9h2.4v2.4h-2.4zM391.3 352.2h2.4v2.4h-2.4zM134.4 347.3h2.4v2.4h-2.4zM701.3 369.7h2.4v2.4h-2.4zM794.9 358.8h2.4v2.4h-2.4zM854.9 355.5h2.4v2.4h-2.4zM694.4 365.3h2.4v2.4h-2.4zM254.5 364.7h2.4v2.4h-2.4zM123.4 352.4h2.4v2.4h-2.4zM760.2 363.1h2.4v2.4h-2.4zM366.4 369.5h2.4v2.4h-2.4zM285.3 352.2h2.4v2.4h-2.4zM767.8 359.3h2.4v2.4h-2.4zM699.6 369.3h2.4v2.4h-2.4zM913.2 350.1h2.4v2.4h-2.4zM607.7 359.9h2.4v2.4h-2.4zM190.4 348.6h2.4v2.4h-2.4zM848.2 357.7h2.4v2.4h-2.4zM621.2 387.6h2.4v2.4h-2.4zM162.2 361.6h2.4v2.4h-2.4zM674.2 368.8h2.4v2.4h-2.4zM342.1 363.3h2.4v2.4h-2.4zM703.5 365.4h2.4v2.4h-2.4zM376.6 386.1h2.4v2.4h-2.4zM415.8 374.9h2.4v2.4h-2.4zM217.5 355.7h2.4v2.4h-2.4zM346.5 364.4h2.4v2.4h-2.4zM234.8 356.0h2.4v2.4h-2.4zM747.9 358.1h2.4v2.4h-2.4zM689.8 365.5h2.4v2.4h-2.4zM907.0 348.0h2.4v2.4h-2.4zM163.1 352.8h2.4v2.4h-2.4zM301.4 365.4h2.4v2.4h-2.4zM200.2 345.2h2.4v2.4h-2.4zM766.8 362.4h2.4v2.4h-2.4zM941.5 348.0h2.4v2.4h-2.4zM633.4 370.5h2.4v2.4h-2.4zM401.3 373.2h2.4v2.4h-2.4zM931.2 347.0h2.4v2.4h-2.4zM187.5 362.9h2.4v2.4h-2.4zM345.0 360.8h2.4v2.4h-2.4zM596.6 361.3h2.4v2.4h-2.4zM117.9 343.8h2.4v2.4h-2.4zM413.1 355.9h2.4v2.4h-2.4zM355.9 370.1h2.4v2.4h-2.4zM259.8 360.7h2.4v2.4h-2.4zM420.3 358.6h2.4v2.4h-2.4zM902.8 351.6h2.4v2.4h-2.4zM775.9 357.0h2.4v2.4h-2.4zM597.3 375.2h2.4v2.4h-2.4zM231.5 353.8h2.4v2.4h-2.4zM646.8 375.1h2.4v2.4h-2.4zM644.8 365.1h2.4v2.4h-2.4zM719.5 360.5h2.4v2.4h-2.4zM713.1 362.3h2.4v2.4h-2.4zM138.5 354.9h2.4v2.4h-2.4zM290.9 356.2h2.4v2.4h-2.4zM148.8 349.1h2.4v2.4h-2.4zM921.4 347.8h2.4v2.4h-2.4zM368.5 369.1h2.4v2.4h-2.4zM255.8 359.6h2.4v2.4h-2.4zM432.6 375.2h2.4v2.4h-2.4zM339.2 370.5h2.4v2.4h-2.4zM230.3 359.7h2.4v2.4h-2.4zM367.0 365.7h2.4v2.4h-2.4zM867.2 351.0h2.4v2.4h-2.4zM888.5 353.7h2.4v2.4h-2.4zM322.1 358.4h2.4v2.4h-2.4zM199.5 354.5h2.4v2.4h-2.4zM720.6 359.5h2.4v2.4h-2.4zM671.7 367.2h2.4v2.4h-2.4zM922.9 347.2h2.4v2.4h-2.4zM415.1 377.3h2.4v2.4h-2.4zM249.1 357.2h2.4v2.4h-2.4zM798.3 356.8h2.4v2.4h-2.4zM189.6 352.1h2.4v2.4h-2.4zM928.9 346.3h2.4v2.4h-2.4zM523.1 364.3h2.4v2.4h-2.4zM600.0 384.4h2.4v2.4h-2.4zM658.8 374.4h2.4v2.4h-2.4zM938.8 350.9h2.4v2.4h-2.4zM689.5 370.9h2.4v2.4h-2.4zM227.9 361.0h2.4v2.4h-2.4zM790.6 350.9h2.4v2.4h-2.4zM861.0 359.0h2.4v2.4h-2.4zM177.6 351.6h2.4v2.4h-2.4z"/><path stroke="#fac435" d="M440.2 367.3h2.4v2.4h-2.4zM549.2 374.9h2.4v2.4h-2.4zM605.3 370.7h2.4v2.4h-2.4zM633.2 360.0h2.4v2.4h-2.4zM626.4 377.3h2.4v2.4h-2.4zM144.5 358.6h2.4v2.4h-2.4zM831.3 364.1h2.4v2.4h-2.4zM569.4 361.0h2.4v2.4h-2.4zM413.6 386.9h2.4v2.4h-2.4zM302.2 369.8h2.4v2.4h-2.4zM667.9 372.6h2.4v2.4h-2.4zM653.3 365.8h2.4v2.4h-2.4zM340.7 369.2h2.4v2.4h-2.4zM842.2 368.4h2.4v2.4h-2.4zM774.3 373.8h2.4v2.4h-2.4zM242.2 368.3h2.4v2.4h-2.4zM181.3 373.7h2.4v2.4h-2.4zM542.7 370.2h2.4v2.4h-2.4zM193.4 369.6h2.4v2.4h-2.4zM605.9 362.1h2.4v2.4h-2.4zM377.3 373.7h2.4v2.4h-2.4zM679.5 366.5h2.4v2.4h-2.4zM176.3 364.7h2.4v2.4h-2.4zM420.0 361.0h2.4v2.4h-2.4zM388.3 369.1h2.4v2.4h-2.4zM540.7 368.9h2.4v2.4h-2.4zM535.0 375.2h2.4v2.4h-2.4zM269.9 368.0h2.4v2.4h-2.4zM186.8 367.2h2.4v2.4h-2.4zM491.5 370.3h2.4v2.4h-2.4zM864.2 366.4h2.4v2.4h-2.4zM166.5 369.8h2.4v2.4h-2.4zM413.5 373.0h2.4v2.4h-2.4zM247.3 365.1h2.4v2.4h-2.4zM514.0 375.1h2.4v2.4h-2.4zM751.4 370.7h2.4v2.4h-2.4zM707.7 367.1h2.4v2.4h-2.4zM239.8 368.3h2.4v2.4h-2.4zM354.5 368.0h2.4v2.4h-2.4zM368.3 368.4h2.4v2.4h-2.4zM689.5 365.3h2.4v2.4h-2.4zM175.0 365.7h2.4v2.4h-2.4zM571.1 376.0h2.4v2.4h-2.4zM571.4 366.4h2.4v2.4h-2.4zM942.9 364.7h2.4v2.4h-2.4zM927.2 358.9h2.4v2.4h-2.4zM501.8 383.6h2.4v2.4h-2.4zM347.5 376.0h2.4v2.4h-2.4zM192.1 365.4h2.4v2.4h-2.4zM605.2 367.5h2.4v2.4h-2.4zM376.6 378.4h2.4v2.4h-2.4zM248.5 360.7h2.4v2.4h-2.4zM483.6 355.8h2.4v2.4h-2.4zM418.7 368.7h2.4v2.4h-2.4zM120.6 368.1h2.4v2.4h-2.4zM669.4 363.0h2.4v2.4h-2.4zM437.6 364.7h2.4v2.4h-2.4zM432.9 366.5h2.4v2.4h-2.4zM286.4 365.2h2.4v2.4h-2.4zM606.5 379.2h2.4v2.4h-2.4zM232.7 370.1h2.4v2.4h-2.4zM922.0 362.1h2.4v2.4h-2.4zM349.2 362.5h2.4v2.4h-2.4zM463.7 368.0h2.4v2.4h-2.4zM171.0 367.9h2.4v2.4h-2.4zM729.7 368.7h2.4v2.4h-2.4zM465.5 370.0h2.4v2.4h-2.4zM648.9 359.9h2.4v2.4h-2.4zM839.9 363.4h2.4v2.4h-2.4zM571.5 363.7h2.4v2.4h-2.4zM313.1 380.0h2.4v2.4h-2.4zM545.2 377.0h2.4v2.4h-2.4zM188.7 369.1h2.4v2.4h-2.4zM297.4 375.3h2.4v2.4h-2.4zM593.8 372.3h2.4v2.4h-2.4zM730.0 361.5h2.4v2.4h-2.4zM395.0 370.2h2.4v2.4h-2.4zM483.3 375.5h2.4v2.4h-2.4zM569.5 376.2h2.4v2.4h-2.4zM674.5 367.1h2.4v2.4h-2.4zM505.9 360.8h2.4v2.4h-2.4zM473.5 367.4h2.4v2.4h-2.4zM463.4 358.5h2.4v2.4h-2.4zM697.3 362.2h2.4v2.4h-2.4zM626.0 377.3h2.4v2.4h-2.4zM578.3 383.2h2.4v2.4h-2.4zM690.6 376.8h2.4v2.4h-2.4zM864.1 362.5h2.4v2.4h-2.4zM897.6 364.9h2.4v2.4h-2.4zM352.5 371.9h2.4v2.4h-2.4zM156.4 361.4h2.4v2.4h-2.4zM590.7 357.5h2.4v2.4h-2.4zM252.5 363.5h2.4v2.4h-2.4zM307.6 367.0h2.4v2.4h-2.4zM421.3 361.1h2.4v2.4h-2.4zM829.0 366.4h2.4v2.4h-2.4zM374.6 357.9h2.4v2.4h-2.4zM798.3 375.9h2.4v2.4h-2.4zM861.5 369.4h2.4v2.4h-2.4zM320.5 371.8h2.4v2.4h-2.4zM465.6 375.7h2.4v2.4h-2.4zM597.2 369.0h2.4v2.4h-2.4zM262.2 371.5h2.4v2.4h-2.4zM461.6 369.5h2.4v2.4h-2.4zM569.9 374.0h2.4v2.4h-2.4zM302.7 368.5h2.4v2.4h-2.4zM723.0 369.7h2.4v2.4h-2.4zM400.1 372.7h2.4v2.4h-2.4zM147.4 367.5h2.4v2.4h-2.4zM683.6 366.9h2.4v2.4h-2.4zM272.5 370.6h2.4v2.4h-2.4zM620.0 366.0h2.4v2.4h-2.4zM324.7 369.2h2.4v2.4h-2.4zM452.7 376.6h2.4v2.4h-2.4zM274.7 362.3h2.4v2.4h-2.4zM731.1 367.8h2.4v2.4h-2.4zM256.3 367.2h2.4v2.4h-2.4zM452.3 382.1h2.4v2.4h-2.4zM302.3 367.5h2.4v2.4h-2.4zM590.4 368.7h2.4v2.4h-2.4zM640.4 368.9h2.4v2.4h-2.4zM218.0 369.5h2.4v2.4h-2.4zM672.7 357.6h2.4v2.4h-2.4zM731.9 370.6h2.4v2.4h-2.4zM627.7 365.7h2.4v2.4h-2.4zM793.2 361.5h2.4v2.4h-2.4zM492.4 362.0h2.4v2.4h-2.4zM222.3 360.3h2.4v2.4h-2.4zM668.6 362.3h2.4v2.4h-2.4zM625.8 371.2h2.4v2.4h-2.4zM846.3 368.3h2.4v2.4h-2.4zM739.4 374.4h2.4v2.4h-2.4zM583.1 372.4h2.4v2.4h-2.4zM905.7 366.8h2.4v2.4h-2.4zM147.1 361.0h2.4v2.4h-2.4zM501.7 364.5h2.4v2.4h-2.4zM279.6 366.1h2.4v2.4h-2.4zM475.3 364.6h2.4v2.4h-2.4zM651.2 372.7h2.4v2.4h-2.4zM522.3 368.5h2.4v2.4h-2.4zM709.3 361.4h2.4v2.4h-2.4zM357.5 375.9h2.4v2.4h-2.4zM531.7 374.7h2.4v2.4h-2.4zM321.2 370.4h2.4v2.4h-2.4zM283.5 366.9h2.4v2.4h-2.4zM577.6 368.5h2.4v2.4h-2.4zM587.0 377.3h2.4v2.4h-2.4zM424.9 371.1h2.4v2.4h-2.4zM162.4 360.8h2.4v2.4h-2.4zM938.8 364.6h2.4v2.4h-2.4zM574.4 366.9h2.4v2.4h-2.4zM115.1 363.5h2.4v2.4h-2.4zM461.8 373.0h2.4v2.4h-2.4zM606.0 349.9h2.4v2.4h-2.4zM593.0 375.3h2.4v2.4h-2.4zM634.3 373.6h2.4v2.4h-2.4zM595.5 361.1h2.4v2.4h-2.4zM495.4 372.1h2.4v2.4h-2.4zM516.8 383.0h2.4v2.4h-2.4zM692.8 375.5h2.4v2.4h-2.4zM612.7 373.2h2.4v2.4h-2.4zM558.8 359.7h2.4v2.4h-2.4zM754.3 380.2h2.4v2.4h-2.4zM263.2 370.3h2.4v2.4h-2.4zM253.3 370.7h2.4v2.4h-2.4zM410.2 369.4h2.4v2.4h-2.4zM662.2 367.7h2.4v2.4h-2.4zM633.8 370.9h2.4v2.4h-2.4zM753.6 367.6h2.4v2.4h-2.4zM528.9 375.2h2.4v2.4h-2.4zM717.2 360.9h2.4v2.4h-2.4zM519.7 368.6h2.4v2.4h-2.4zM703.1 368.2h2.4v2.4h-2.4zM581.9 378.2h2.4v2.4h-2.4zM753.0 367.9h2.4v2.4h-2.4zM389.4 366.9h2.4v2.4h-2.4zM467.5 374.4h2.4v2.4h-2.4zM651.3 369.0h2.4v2.4h-2.4zM115.2 371.5h2.4v2.4h-2.4zM571.9 362.5h2.4v2.4h-2.4z"/><path stroke="#2eb7a4" d="M490.5 376.8h2.4v2.4h-2.4zM902.4 369.8h2.4v2.4h-2.4zM395.8 369.4h2.4v2.4h-2.4zM304.3 367.5h2.4v2.4h-2.4zM544.9 379.2h2.4v2.4h-2.4zM117.9 359.9h2.4v2.4h-2.4zM322.6 374.6h2.4v2.4h-2.4zM476.6 374.7h2.4v2.4h-2.4zM620.1 376.7h2.4v2.4h-2.4zM144.4 368.2h2.4v2.4h-2.4z"/><path stroke="#1f7fd9" d="M256.8 369.0h2.4v2.4h-2.4zM815.5 370.8h2.4v2.4h-2.4zM612.1 376.0h2.4v2.4h-2.4zM233.2 365.1h2.4v2.4h-2.4zM678.6 368.1h2.4v2.4h-2.4zM911.1 370.8h2.4v2.4h-2.4zM725.0 376.5h2.4v2.4h-2.4zM162.3 360.7h2.4v2.4h-2.4zM601.6 379.8h2.4v2.4h-2.4zM874.0 363.3h2.4v2.4h-2.4zM417.0 378.4h2.4v2.4h-2.4zM329.2 377.2h2.4v2.4h-2.4zM268.4 377.4h2.4v2.4h-2.4zM632.3 365.7h2.4v2.4h-2.4z"/><path stroke="#fbf30c" d="M173.8 361.5h2.4v2.4h-2.4zM583.7 361.0h2.4v2.4h-2.4zM608.0 368.4h2.4v2.4h-2.4zM274.0 368.8h2.4v2.4h-2.4zM397.0 372.5h2.4v2.4h-2.4zM711.8 366.6h2.4v2.4h-2.4zM655.9 373.4h2.4v2.4h-2.4zM853.7 368.1h2.4v2.4h-2.4zM383.9 372.6h2.4v2.4h-2.4zM582.5 372.1h2.4v2.4h-2.4zM911.7 364.3h2.4v2.4h-2.4zM612.5 372.7h2.4v2.4h-2.4zM155.9 366.3h2.4v2.4h-2.4zM708.4 364.3h2.4v2.4h-2.4zM328.2 362.1h2.4v2.4h-2.4zM543.3 375.2h2.4v2.4h-2.4zM903.6 360.8h2.4v2.4h-2.4zM584.8 376.6h2.4v2.4h-2.4zM783.1 372.7h2.4v2.4h-2.4zM795.4 358.6h2.4v2.4h-2.4zM285.6 370.9h2.4v2.4h-2.4zM233.2 366.1h2.4v2.4h-2.4zM928.0 365.7h2.4v2.4h-2.4zM578.1 366.3h2.4v2.4h-2.4zM431.9 373.7h2.4v2.4h-2.4zM777.1 373.5h2.4v2.4h-2.4zM689.6 372.9h2.4v2.4h-2.4zM543.1 364.1h2.4v2.4h-2.4zM581.0 368.6h2.4v2.4h-2.4zM505.2 361.6h2.4v2.4h-2.4zM399.9 371.5h2.4v2.4h-2.4zM708.6 358.1h2.4v2.4h-2.4zM607.5 368.2h2.4v2.4h-2.4zM709.4 379.2h2.4v2.4h-2.4zM442.7 375.7h2.4v2.4h-2.4zM482.5 371.8h2.4v2.4h-2.4zM692.5 364.6h2.4v2.4h-2.4zM555.3 362.7h2.4v2.4h-2.4zM678.0 362.6h2.4v2.4h-2.4zM478.0 378.5h2.4v2.4h-2.4zM450.6 369.4h2.4v2.4h-2.4zM572.2 362.4h2.4v2.4h-2.4zM303.0 375.7h2.4v2.4h-2.4zM810.4 367.5h2.4v2.4h-2.4zM298.3 375.2h2.4v2.4h-2.4zM283.3 359.6h2.4v2.4h-2.4zM517.9 364.7h2.4v2.4h-2.4zM885.9 363.8h2.4v2.4h-2.4zM354.5 369.1h2.4v2.4h-2.4zM462.7 377.3h2.4v2.4h-2.4zM795.1 368.6h2.4v2.4h-2.4zM791.0 370.7h2.4v2.4h-2.4zM479.9 363.5h2.4v2.4h-2.4zM257.0 354.3h2.4v2.4h-2.4zM549.0 371.8h2.4v2.4h-2.4zM764.7 362.8h2.4v2.4h-2.4zM686.0 367.9h2.4v2.4h-2.4zM439.4 374.7h2.4v2.4h-2.4zM661.7 367.5h2.4v2.4h-2.4zM380.7 376.4h2.4v2.4h-2.4zM522.2 373.3h2.4v2.4h-2.4zM315.9 357.8h2.4v2.4h-2.4zM590.8 368.8h2.4v2.4h-2.4zM608.1 378.5h2.4v2.4h-2.4zM790.9 367.2h2.4v2.4h-2.4zM558.4 379.0h2.4v2.4h-2.4zM463.1 366.9h2.4v2.4h-2.4zM478.7 374.5h2.4v2.4h-2.4zM201.1 367.6h2.4v2.4h-2.4zM682.6 369.3h2.4v2.4h-2.4zM620.8 373.2h2.4v2.4h-2.4zM608.2 375.0h2.4v2.4h-2.4zM361.9 372.0h2.4v2.4h-2.4zM834.9 364.0h2.4v2.4h-2.4zM852.8 363.5h2.4v2.4h-2.4zM515.3 355.5h2.4v2.4h-2.4zM654.9 369.4h2.4v2.4h-2.4zM340.9 372.5h2.4v2.4h-2.4zM485.5 375.8h2.4v2.4h-2.4zM548.6 380.2h2.4v2.4h-2.4zM799.7 360.0h2.4v2.4h-2.4zM448.5 376.1h2.4v2.4h-2.4zM654.6 364.7h2.4v2.4h-2.4zM705.5 367.6h2.4v2.4h-2.4zM442.0 374.4h2.4v2.4h-2.4zM560.1 374.5h2.4v2.4h-2.4zM337.0 379.8h2.4v2.4h-2.4zM276.3 373.7h2.4v2.4h-2.4zM529.7 366.3h2.4v2.4h-2.4zM545.5 382.1h2.4v2.4h-2.4zM431.4 380.4h2.4v2.4h-2.4zM464.8 386.1h2.4v2.4h-2.4zM727.6 370.3h2.4v2.4h-2.4zM545.4 376.3h2.4v2.4h-2.4zM624.7 370.1h2.4v2.4h-2.4zM553.6 359.4h2.4v2.4h-2.4zM460.7 375.8h2.4v2.4h-2.4zM644.8 371.2h2.4v2.4h-2.4zM388.2 366.7h2.4v2.4h-2.4zM764.1 373.6h2.4v2.4h-2.4zM155.7 366.2h2.4v2.4h-2.4zM392.1 356.5h2.4v2.4h-2.4zM554.0 369.8h2.4v2.4h-2.4zM624.8 380.0h2.4v2.4h-2.4zM572.0 374.4h2.4v2.4h-2.4zM894.7 363.9h2.4v2.4h-2.4zM517.8 365.6h2.4v2.4h-2.4zM527.6 368.4h2.4v2.4h-2.4zM236.8 369.5h2.4v2.4h-2.4zM802.3 364.5h2.4v2.4h-2.4zM681.1 373.5h2.4v2.4h-2.4zM583.2 377.5h2.4v2.4h-2.4zM630.1 379.4h2.4v2.4h-2.4zM770.9 376.6h2.4v2.4h-2.4zM134.7 368.8h2.4v2.4h-2.4zM348.4 361.2h2.4v2.4h-2.4zM382.6 367.7h2.4v2.4h-2.4zM876.4 362.8h2.4v2.4h-2.4zM508.5 368.0h2.4v2.4h-2.4zM284.3 366.1h2.4v2.4h-2.4zM603.1 382.5h2.4v2.4h-2.4zM604.0 377.0h2.4v2.4h-2.4zM378.2 364.8h2.4v2.4h-2.4zM491.2 381.3h2.4v2.4h-2.4zM571.3 377.3h2.4v2.4h-2.4zM610.5 368.3h2.4v2.4h-2.4zM499.9 375.3h2.4v2.4h-2.4zM660.9 358.8h2.4v2.4h-2.4zM502.6 371.6h2.4v2.4h-2.4zM499.8 384.5h2.4v2.4h-2.4zM342.8 360.8h2.4v2.4h-2.4zM209.2 365.6h2.4v2.4h-2.4zM363.1 373.5h2.4v2.4h-2.4zM406.2 363.4h2.4v2.4h-2.4zM430.4 371.6h2.4v2.4h-2.4zM799.6 367.0h2.4v2.4h-2.4zM493.7 365.9h2.4v2.4h-2.4zM201.8 368.2h2.4v2.4h-2.4zM408.1 372.4h2.4v2.4h-2.4zM204.2 355.5h2.4v2.4h-2.4zM491.3 381.0h2.4v2.4h-2.4zM139.6 369.2h2.4v2.4h-2.4zM657.2 377.0h2.4v2.4h-2.4zM497.1 377.8h2.4v2.4h-2.4zM835.4 371.2h2.4v2.4h-2.4zM412.6 365.4h2.4v2.4h-2.4zM390.4 372.5h2.4v2.4h-2.4zM172.8 367.5h2.4v2.4h-2.4zM530.5 378.7h2.4v2.4h-2.4zM685.8 369.7h2.4v2.4h-2.4zM496.4 380.4h2.4v2.4h-2.4zM334.0 371.4h2.4v2.4h-2.4zM533.3 366.4h2.4v2.4h-2.4zM172.1 370.1h2.4v2.4h-2.4zM286.8 357.6h2.4v2.4h-2.4zM668.3 370.8h2.4v2.4h-2.4zM324.4 365.5h2.4v2.4h-2.4zM578.3 371.1h2.4v2.4h-2.4zM545.1 378.3h2.4v2.4h-2.4zM631.0 371.8h2.4v2.4h-2.4zM410.0 376.6h2.4v2.4h-2.4zM370.9 355.6h2.4v2.4h-2.4zM245.6 358.1h2.4v2.4h-2.4zM483.2 379.3h2.4v2.4h-2.4zM400.8 370.4h2.4v2.4h-2.4zM755.6 365.7h2.4v2.4h-2.4zM504.8 358.7h2.4v2.4h-2.4zM238.4 365.1h2.4v2.4h-2.4zM380.9 369.1h2.4v2.4h-2.4zM465.1 377.1h2.4v2.4h-2.4zM499.7 369.2h2.4v2.4h-2.4zM684.8 372.7h2.4v2.4h-2.4zM831.7 360.2h2.4v2.4h-2.4zM315.9 369.6h2.4v2.4h-2.4zM694.4 370.2h2.4v2.4h-2.4zM794.2 366.5h2.4v2.4h-2.4zM772.3 363.3h2.4v2.4h-2.4zM388.6 359.7h2.4v2.4h-2.4zM362.0 373.1h2.4v2.4h-2.4zM541.8 370.7h2.4v2.4h-2.4zM205.6 361.8h2.4v2.4h-2.4zM558.3 364.4h2.4v2.4h-2.4zM378.9 368.0h2.4v2.4h-2.4zM407.0 369.2h2.4v2.4h-2.4zM699.4 369.9h2.4v2.4h-2.4zM522.8 378.3h2.4v2.4h-2.4zM841.1 365.8h2.4v2.4h-2.4zM506.5 368.5h2.4v2.4h-2.4zM908.9 363.7h2.4v2.4h-2.4zM588.9 373.9h2.4v2.4h-2.4zM443.3 366.0h2.4v2.4h-2.4zM647.7 365.1h2.4v2.4h-2.4zM797.5 365.8h2.4v2.4h-2.4zM407.4 375.9h2.4v2.4h-2.4zM550.8 374.1h2.4v2.4h-2.4zM438.4 364.3h2.4v2.4h-2.4zM571.3 375.5h2.4v2.4h-2.4zM526.5 378.8h2.4v2.4h-2.4zM583.3 379.9h2.4v2.4h-2.4zM532.2 387.9h2.4v2.4h-2.4zM939.5 369.4h2.4v2.4h-2.4zM543.4 370.7h2.4v2.4h-2.4zM369.9 367.9h2.4v2.4h-2.4zM545.8 362.0h2.4v2.4h-2.4zM440.8 366.4h2.4v2.4h-2.4zM479.6 374.4h2.4v2.4h-2.4zM473.9 366.7h2.4v2.4h-2.4zM401.6 363.4h2.4v2.4h-2.4zM192.9 365.9h2.4v2.4h-2.4zM875.4 362.3h2.4v2.4h-2.4zM618.3 359.3h2.4v2.4h-2.4zM853.4 359.7h2.4v2.4h-2.4zM439.4 361.5h2.4v2.4h-2.4zM273.3 361.0h2.4v2.4h-2.4zM396.0 370.5h2.4v2.4h-2.4zM836.0 367.8h2.4v2.4h-2.4zM257.3 365.1h2.4v2.4h-2.4zM392.3 379.3h2.4v2.4h-2.4zM470.9 371.1h2.4v2.4h-2.4zM599.4 379.0h2.4v2.4h-2.4zM586.7 370.7h2.4v2.4h-2.4zM479.8 352.4h2.4v2.4h-2.4zM391.9 381.2h2.4v2.4h-2.4zM379.1 364.9h2.4v2.4h-2.4zM220.7 371.1h2.4v2.4h-2.4zM759.2 378.3h2.4v2.4h-2.4zM543.3 361.5h2.4v2.4h-2.4zM440.3 373.8h2.4v2.4h-2.4zM774.9 371.7h2.4v2.4h-2.4zM561.9 373.8h2.4v2.4h-2.4zM293.0 369.7h2.4v2.4h-2.4zM652.7 368.0h2.4v2.4h-2.4zM816.0 362.6h2.4v2.4h-2.4zM214.5 371.7h2.4v2.4h-2.4zM481.1 378.2h2.4v2.4h-2.4zM463.2 365.9h2.4v2.4h-2.4zM405.1 364.2h2.4v2.4h-2.4zM599.8 365.1h2.4v2.4h-2.4zM690.0 373.0h2.4v2.4h-2.4zM281.6 366.7h2.4v2.4h-2.4zM771.3 363.1h2.4v2.4h-2.4zM339.4 370.4h2.4v2.4h-2.4zM369.7 373.3h2.4v2.4h-2.4zM713.0 361.8h2.4v2.4h-2.4zM588.8 365.1h2.4v2.4h-2.4zM354.5 367.6h2.4v2.4h-2.4zM168.6 367.1h2.4v2.4h-2.4zM533.0 372.5h2.4v2.4h-2.4zM365.3 372.4h2.4v2.4h-2.4zM387.4 365.9h2.4v2.4h-2.4zM567.7 367.2h2.4v2.4h-2.4zM569.7 378.0h2.4v2.4h-2.4zM694.3 369.6h2.4v2.4h-2.4zM572.0 377.8h2.4v2.4h-2.4zM469.1 370.7h2.4v2.4h-2.4zM289.1 360.8h2.4v2.4h-2.4zM389.4 359.8h2.4v2.4h-2.4zM508.1 381.7h2.4v2.4h-2.4zM427.5 376.2h2.4v2.4h-2.4zM818.6 362.6h2.4v2.4h-2.4zM533.3 374.9h2.4v2.4h-2.4zM759.4 372.0h2.4v2.4h-2.4zM714.8 365.1h2.4v2.4h-2.4zM404.0 369.9h2.4v2.4h-2.4zM475.4 364.1h2.4v2.4h-2.4zM536.7 369.0h2.4v2.4h-2.4zM142.5 366.9h2.4v2.4h-2.4zM583.4 367.0h2.4v2.4h-2.4zM644.4 365.9h2.4v2.4h-2.4zM610.5 375.3h2.4v2.4h-2.4zM481.6 368.9h2.4v2.4h-2.4zM553.3 368.5h2.4v2.4h-2.4zM762.3 374.0h2.4v2.4h-2.4zM873.7 360.8h2.4v2.4h-2.4zM479.3 365.0h2.4v2.4h-2.4zM501.6 378.2h2.4v2.4h-2.4zM838.9 366.8h2.4v2.4h-2.4zM180.6 366.3h2.4v2.4h-2.4zM437.7 372.0h2.4v2.4h-2.4zM484.7 365.7h2.4v2.4h-2.4zM601.7 371.1h2.4v2.4h-2.4zM648.8 373.9h2.4v2.4h-2.4zM266.8 368.2h2.4v2.4h-2.4zM604.4 362.6h2.4v2.4h-2.4zM595.4 355.6h2.4v2.4h-2.4zM483.8 375.5h2.4v2.4h-2.4zM361.3 366.7h2.4v2.4h-2.4zM548.1 366.6h2.4v2.4h-2.4zM427.3 381.7h2.4v2.4h-2.4zM554.1 380.9h2.4v2.4h-2.4zM387.7 362.8h2.4v2.4h-2.4zM411.9 365.7h2.4v2.4h-2.4zM158.2 364.2h2.4v2.4h-2.4zM490.6 351.8h2.4v2.4h-2.4zM493.7 375.8h2.4v2.4h-2.4zM379.6 375.3h2.4v2.4h-2.4zM348.6 359.3h2.4v2.4h-2.4zM145.2 364.7h2.4v2.4h-2.4zM618.3 363.1h2.4v2.4h-2.4zM445.3 374.7h2.4v2.4h-2.4zM222.0 361.0h2.4v2.4h-2.4zM425.6 372.9h2.4v2.4h-2.4zM148.4 360.8h2.4v2.4h-2.4zM712.9 364.5h2.4v2.4h-2.4zM668.6 373.1h2.4v2.4h-2.4zM624.3 368.2h2.4v2.4h-2.4zM704.6 365.1h2.4v2.4h-2.4zM713.8 370.0h2.4v2.4h-2.4zM223.8 360.6h2.4v2.4h-2.4zM560.2 369.8h2.4v2.4h-2.4zM119.8 366.8h2.4v2.4h-2.4zM762.0 365.9h2.4v2.4h-2.4zM686.8 371.1h2.4v2.4h-2.4zM670.7 371.3h2.4v2.4h-2.4zM787.7 376.6h2.4v2.4h-2.4zM899.8 357.5h2.4v2.4h-2.4zM156.4 363.5h2.4v2.4h-2.4zM667.8 376.7h2.4v2.4h-2.4zM710.8 367.8h2.4v2.4h-2.4zM402.7 376.2h2.4v2.4h-2.4zM480.8 367.8h2.4v2.4h-2.4zM444.1 376.1h2.4v2.4h-2.4zM372.8 371.6h2.4v2.4h-2.4zM532.3 375.3h2.4v2.4h-2.4zM642.7 370.6h2.4v2.4h-2.4zM837.4 360.7h2.4v2.4h-2.4zM723.9 372.2h2.4v2.4h-2.4zM709.7 369.1h2.4v2.4h-2.4zM626.1 368.8h2.4v2.4h-2.4zM890.8 363.6h2.4v2.4h-2.4zM665.7 377.8h2.4v2.4h-2.4zM245.0 366.4h2.4v2.4h-2.4zM186.6 357.6h2.4v2.4h-2.4zM554.1 377.5h2.4v2.4h-2.4zM272.7 373.5h2.4v2.4h-2.4zM198.3 363.4h2.4v2.4h-2.4zM374.0 370.3h2.4v2.4h-2.4zM357.4 361.4h2.4v2.4h-2.4zM295.5 370.0h2.4v2.4h-2.4zM343.2 366.5h2.4v2.4h-2.4zM652.5 370.7h2.4v2.4h-2.4zM516.1 373.5h2.4v2.4h-2.4zM695.1 371.8h2.4v2.4h-2.4zM750.9 360.4h2.4v2.4h-2.4zM607.4 376.5h2.4v2.4h-2.4zM784.5 369.3h2.4v2.4h-2.4zM227.4 367.5h2.4v2.4h-2.4zM270.9 365.2h2.4v2.4h-2.4zM326.2 370.0h2.4v2.4h-2.4zM339.3 367.9h2.4v2.4h-2.4zM241.1 361.6h2.4v2.4h-2.4zM741.8 377.9h2.4v2.4h-2.4zM412.3 367.9h2.4v2.4h-2.4zM615.0 369.8h2.4v2.4h-2.4zM473.3 366.6h2.4v2.4h-2.4zM342.9 361.6h2.4v2.4h-2.4zM929.6 365.1h2.4v2.4h-2.4zM675.9 359.7h2.4v2.4h-2.4zM331.5 369.1h2.4v2.4h-2.4zM559.5 378.4h2.4v2.4h-2.4zM386.2 373.8h2.4v2.4h-2.4zM581.3 364.5h2.4v2.4h-2.4zM118.8 361.6h2.4v2.4h-2.4zM866.7 365.0h2.4v2.4h-2.4zM439.2 373.8h2.4v2.4h-2.4zM332.0 374.7h2.4v2.4h-2.4z"/><path stroke="#4ebc8c" d="M870.4 360.3h2.4v2.4h-2.4zM742.0 350.1h2.4v2.4h-2.4zM788.1 357.5h2.4v2.4h-2.4zM345.1 353.5h2.4v2.4h-2.4zM674.6 357.8h2.4v2.4h-2.4zM893.6 356.4h2.4v2.4h-2.4zM531.3 360.1h2.4v2.4h-2.4zM781.6 356.3h2.4v2.4h-2.4zM395.2 364.5h2.4v2.4h-2.4zM192.2 357.6h2.4v2.4h-2.4zM664.0 360.2h2.4v2.4h-2.4zM273.4 358.4h2.4v2.4h-2.4zM731.6 365.2h2.4v2.4h-2.4zM827.6 354.2h2.4v2.4h-2.4zM128.7 355.3h2.4v2.4h-2.4zM514.6 384.4h2.4v2.4h-2.4zM816.2 365.8h2.4v2.4h-2.4zM802.0 355.0h2.4v2.4h-2.4zM652.5 380.8h2.4v2.4h-2.4zM833.0 353.9h2.4v2.4h-2.4zM474.2 384.7h2.4v2.4h-2.4zM268.3 360.8h2.4v2.4h-2.4zM738.1 366.6h2.4v2.4h-2.4zM555.9 369.4h2.4v2.4h-2.4zM732.0 367.4h2.4v2.4h-2.4zM210.2 357.0h2.4v2.4h-2.4zM242.0 358.0h2.4v2.4h-2.4zM372.1 354.8h2.4v2.4h-2.4zM126.5 349.5h2.4v2.4h-2.4zM630.4 359.0h2.4v2.4h-2.4zM267.7 350.7h2.4v2.4h-2.4zM118.1 344.5h2.4v2.4h-2.4zM804.6 357.2h2.4v2.4h-2.4zM859.1 350.8h2.4v2.4h-2.4zM557.2 384.4h2.4v2.4h-2.4zM473.6 378.4h2.4v2.4h-2.4zM475.3 369.4h2.4v2.4h-2.4zM883.3 348.1h2.4v2.4h-2.4zM207.7 343.1h2.4v2.4h-2.4zM781.0 363.2h2.4v2.4h-2.4zM489.5 361.2h2.4v2.4h-2.4zM689.5 357.5h2.4v2.4h-2.4zM760.6 362.2h2.4v2.4h-2.4zM284.5 363.2h2.4v2.4h-2.4zM253.6 358.3h2.4v2.4h-2.4zM899.3 359.8h2.4v2.4h-2.4zM912.4 347.1h2.4v2.4h-2.4zM851.7 342.5h2.4v2.4h-2.4zM834.7 356.2h2.4v2.4h-2.4zM195.7 360.4h2.4v2.4h-2.4zM589.3 383.4h2.4v2.4h-2.4zM315.2 358.5h2.4v2.4h-2.4zM536.2 381.7h2.4v2.4h-2.4zM775.6 357.1h2.4v2.4h-2.4zM582.1 384.5h2.4v2.4h-2.4zM918.1 348.0h2.4v2.4h-2.4zM662.4 366.8h2.4v2.4h-2.4zM675.5 365.5h2.4v2.4h-2.4zM600.8 392.7h2.4v2.4h-2.4zM132.0 352.6h2.4v2.4h-2.4zM853.3 346.2h2.4v2.4h-2.4zM433.3 379.1h2.4v2.4h-2.4zM432.7 375.7h2.4v2.4h-2.4zM286.4 352.8h2.4v2.4h-2.4zM831.9 349.7h2.4v2.4h-2.4zM299.9 362.6h2.4v2.4h-2.4zM843.5 349.4h2.4v2.4h-2.4zM922.8 348.7h2.4v2.4h-2.4zM240.4 351.7h2.4v2.4h-2.4zM280.4 355.4h2.4v2.4h-2.4zM471.4 375.5h2.4v2.4h-2.4zM128.2 362.4h2.4v2.4h-2.4zM124.2 346.4h2.4v2.4h-2.4zM205.3 341.8h2.4v2.4h-2.4zM915.3 350.2h2.4v2.4h-2.4zM264.7 362.3h2.4v2.4h-2.4zM379.0 362.1h2.4v2.4h-2.4zM879.6 354.1h2.4v2.4h-2.4zM664.4 372.4h2.4v2.4h-2.4zM203.0 357.5h2.4v2.4h-2.4zM302.0 361.0h2.4v2.4h-2.4zM175.1 351.2h2.4v2.4h-2.4zM795.8 364.2h2.4v2.4h-2.4zM356.1 365.8h2.4v2.4h-2.4zM324.1 363.1h2.4v2.4h-2.4zM288.0 364.0h2.4v2.4h-2.4zM186.1 348.1h2.4v2.4h-2.4zM228.5 349.0h2.4v2.4h-2.4zM379.7 372.7h2.4v2.4h-2.4zM903.7 358.7h2.4v2.4h-2.4zM629.2 377.6h2.4v2.4h-2.4zM250.1 356.0h2.4v2.4h-2.4zM150.5 349.3h2.4v2.4h-2.4zM759.3 362.7h2.4v2.4h-2.4zM551.0 364.2h2.4v2.4h-2.4zM387.5 376.6h2.4v2.4h-2.4zM775.2 364.1h2.4v2.4h-2.4zM339.8 373.3h2.4v2.4h-2.4zM192.5 350.8h2.4v2.4h-2.4zM635.5 380.4h2.4v2.4h-2.4zM167.7 346.0h2.4v2.4h-2.4zM278.5 364.4h2.4v2.4h-2.4zM206.3 343.5h2.4v2.4h-2.4zM626.2 367.4h2.4v2.4h-2.4zM838.5 347.1h2.4v2.4h-2.4zM137.1 353.1h2.4v2.4h-2.4zM291.0 353.8h2.4v2.4h-2.4zM565.1 379.4h2.4v2.4h-2.4zM177.5 350.0h2.4v2.4h-2.4zM800.6 354.0h2.4v2.4h-2.4zM300.4 362.3h2.4v2.4h-2.4zM448.5 360.6h2.4v2.4h-2.4zM687.3 355.0h2.4v2.4h-2.4zM178.2 348.5h2.4v2.4h-2.4zM838.6 351.8h2.4v2.4h-2.4zM737.8 369.6h2.4v2.4h-2.4zM937.8 357.8h2.4v2.4h-2.4zM274.4 359.9h2.4v2.4h-2.4zM581.0 379.9h2.4v2.4h-2.4zM158.9 352.5h2.4v2.4h-2.4zM839.4 353.3h2.4v2.4h-2.4zM761.1 361.0h2.4v2.4h-2.4zM857.3 344.0h2.4v2.4h-2.4zM330.2 357.4h2.4v2.4h-2.4zM396.5 354.5h2.4v2.4h-2.4zM140.3 356.7h2.4v2.4h-2.4zM167.1 351.2h2.4v2.4h-2.4zM323.4 347.6h2.4v2.4h-2.4zM909.4 353.2h2.4v2.4h-2.4zM429.3 376.3h2.4v2.4h-2.4zM259.2 350.6h2.4v2.4h-2.4zM637.6 371.3h2.4v2.4h-2.4zM646.3 363.2h2.4v2.4h-2.4zM942.7 343.3h2.4v2.4h-2.4zM388.5 357.7h2.4v2.4h-2.4zM701.2 360.2h2.4v2.4h-2.4zM856.0 361.5h2.4v2.4h-2.4zM882.7 361.0h2.4v2.4h-2.4zM267.6 353.6h2.4v2.4h-2.4zM838.0 353.9h2.4v2.4h-2.4zM690.7 368.0h2.4v2.4h-2.4zM306.9 367.7h2.4v2.4h-2.4zM176.3 356.8h2.4v2.4h-2.4zM157.1 351.3h2.4v2.4h-2.4zM300.3 360.0h2.4v2.4h-2.4zM396.2 389.5h2.4v2.4h-2.4zM515.6 383.3h2.4v2.4h-2.4zM791.6 350.9h2.4v2.4h-2.4zM235.3 347.5h2.4v2.4h-2.4zM284.6 354.8h2.4v2.4h-2.4zM745.6 359.8h2.4v2.4h-2.4zM337.0 377.1h2.4v2.4h-2.4zM386.7 370.7h2.4v2.4h-2.4zM603.2 367.4h2.4v2.4h-2.4zM841.5 356.0h2.4v2.4h-2.4zM116.5 355.5h2.4v2.4h-2.4zM851.0 354.7h2.4v2.4h-2.4zM436.3 361.0h2.4v2.4h-2.4zM926.4 354.1h2.4v2.4h-2.4zM222.2 351.4h2.4v2.4h-2.4zM728.4 360.3h2.4v2.4h-2.4zM256.4 358.9h2.4v2.4h-2.4zM527.3 359.5h2.4v2.4h-2.4zM904.2 347.1h2.4v2.4h-2.4zM260.0 357.0h2.4v2.4h-2.4zM854.7 357.0h2.4v2.4h-2.4zM266.9 360.3h2.4v2.4h-2.4zM230.2 355.2h2.4v2.4h-2.4zM419.3 380.7h2.4v2.4h-2.4zM463.7 385.9h2.4v2.4h-2.4zM277.5 355.4h2.4v2.4h-2.4zM239.9 358.3h2.4v2.4h-2.4zM223.8 352.8h2.4v2.4h-2.4zM116.2 361.2h2.4v2.4h-2.4zM731.1 357.4h2.4v2.4h-2.4zM868.8 348.6h2.4v2.4h-2.4zM855.6 356.0h2.4v2.4h-2.4zM257.8 352.8h2.4v2.4h-2.4zM369.5 370.4h2.4v2.4h-2.4zM830.8 354.7h2.4v2.4h-2.4zM379.3 369.8h2.4v2.4h-2.4zM551.1 375.6h2.4v2.4h-2.4zM147.2 348.3h2.4v2.4h-2.4zM177.0 343.3h2.4v2.4h-2.4zM206.3 355.0h2.4v2.4h-2.4zM201.6 353.3h2.4v2.4h-2.4zM724.0 368.7h2.4v2.4h-2.4zM767.7 354.6h2.4v2.4h-2.4zM374.1 371.9h2.4v2.4h-2.4zM330.3 369.4h2.4v2.4h-2.4zM347.6 366.1h2.4v2.4h-2.4zM912.8 352.0h2.4v2.4h-2.4zM360.3 368.1h2.4v2.4h-2.4zM151.7 347.7h2.4v2.4h-2.4zM307.3 366.5h2.4v2.4h-2.4zM928.1 355.3h2.4v2.4h-2.4zM557.0 399.7h2.4v2.4h-2.4zM681.6 361.4h2.4v2.4h-2.4zM458.9 370.7h2.4v2.4h-2.4zM273.0 365.9h2.4v2.4h-2.4zM919.2 344.1h2.4v2.4h-2.4zM340.1 372.3h2.4v2.4h-2.4zM181.3 351.0h2.4v2.4h-2.4zM456.5 374.7h2.4v2.4h-2.4zM232.4 363.2h2.4v2.4h-2.4zM680.1 382.1h2.4v2.4h-2.4zM830.2 360.1h2.4v2.4h-2.4zM904.5 350.2h2.4v2.4h-2.4zM791.9 354.0h2.4v2.4h-2.4zM276.8 359.9h2.4v2.4h-2.4zM202.4 357.5h2.4v2.4h-2.4zM898.3 354.7h2.4v2.4h-2.4zM918.1 349.3h2.4v2.4h-2.4zM298.4 348.1h2.4v2.4h-2.4zM859.7 361.2h2.4v2.4h-2.4zM925.5 350.6h2.4v2.4h-2.4zM709.7 373.6h2.4v2.4h-2.4zM175.1 341.7h2.4v2.4h-2.4zM944.2 354.4h2.4v2.4h-2.4zM664.5 350.8h2.4v2.4h-2.4zM261.1 358.0h2.4v2.4h-2.4zM245.4 356.0h2.4v2.4h-2.4zM756.0 355.6h2.4v2.4h-2.4zM585.5 351.9h2.4v2.4h-2.4zM394.0 361.4h2.4v2.4h-2.4zM892.9 358.6h2.4v2.4h-2.4zM721.2 366.4h2.4v2.4h-2.4zM198.9 342.8h2.4v2.4h-2.4zM727.8 366.9h2.4v2.4h-2.4zM448.6 374.4h2.4v2.4h-2.4zM838.8 356.4h2.4v2.4h-2.4zM381.7 363.4h2.4v2.4h-2.4zM501.1 377.2h2.4v2.4h-2.4zM226.1 348.9h2.4v2.4h-2.4zM743.1 362.6h2.4v2.4h-2.4zM163.6 352.2h2.4v2.4h-2.4zM937.6 354.4h2.4v2.4h-2.4zM715.4 369.3h2.4v2.4h-2.4zM857.1 358.1h2.4v2.4h-2.4zM745.7 360.0h2.4v2.4h-2.4zM262.3 361.0h2.4v2.4h-2.4zM802.2 361.5h2.4v2.4h-2.4zM320.1 355.4h2.4v2.4h-2.4zM567.4 354.5h2.4v2.4h-2.4zM530.4 378.6h2.4v2.4h-2.4zM819.7 366.7h2.4v2.4h-2.4zM329.1 358.6h2.4v2.4h-2.4zM622.1 362.8h2.4v2.4h-2.4zM236.9 361.3h2.4v2.4h-2.4zM185.3 355.0h2.4v2.4h-2.4zM222.7 358.6h2.4v2.4h-2.4zM604.5 380.2h2.4v2.4h-2.4zM681.5 372.0h2.4v2.4h-2.4zM282.8 362.3h2.4v2.4h-2.4zM655.5 354.8h2.4v2.4h-2.4zM294.9 366.8h2.4v2.4h-2.4zM536.0 363.5h2.4v2.4h-2.4zM384.1 369.9h2.4v2.4h-2.4zM596.4 381.4h2.4v2.4h-2.4zM683.0 361.0h2.4v2.4h-2.4zM611.1 374.5h2.4v2.4h-2.4zM417.3 373.1h2.4v2.4h-2.4zM345.0 365.8h2.4v2.4h-2.4zM544.6 371.5h2.4v2.4h-2.4zM227.0 348.4h2.4v2.4h-2.4zM884.9 356.4h2.4v2.4h-2.4zM763.4 369.4h2.4v2.4h-2.4zM117.7 355.5h2.4v2.4h-2.4zM547.6 384.2h2.4v2.4h-2.4zM651.8 379.1h2.4v2.4h-2.4zM214.7 350.5h2.4v2.4h-2.4zM659.4 371.4h2.4v2.4h-2.4zM739.4 366.2h2.4v2.4h-2.4zM254.9 344.6h2.4v2.4h-2.4zM360.7 362.7h2.4v2.4h-2.4zM379.0 372.2h2.4v2.4h-2.4zM675.6 370.9h2.4v2.4h-2.4zM930.9 352.5h2.4v2.4h-2.4zM853.0 353.7h2.4v2.4h-2.4zM797.9 361.4h2.4v2.4h-2.4zM860.3 355.1h2.4v2.4h-2.4zM626.5 355.4h2.4v2.4h-2.4zM757.7 356.8h2.4v2.4h-2.4zM450.8 368.5h2.4v2.4h-2.4zM787.1 355.1h2.4v2.4h-2.4zM653.3 373.6h2.4v2.4h-2.4zM737.8 362.5h2.4v2.4h-2.4zM814.0 360.7h2.4v2.4h-2.4zM910.9 353.5h2.4v2.4h-2.4zM169.9 356.3h2.4v2.4h-2.4zM136.8 349.3h2.4v2.4h-2.4zM502.2 373.1h2.4v2.4h-2.4zM774.7 351.2h2.4v2.4h-2.4zM914.9 360.3h2.4v2.4h-2.4zM130.5 347.4h2.4v2.4h-2.4zM676.5 360.6h2.4v2.4h-2.4zM211.7 349.5h2.4v2.4h-2.4zM814.7 361.7h2.4v2.4h-2.4zM339.2 358.7h2.4v2.4h-2.4zM146.4 360.4h2.4v2.4h-2.4zM738.8 360.0h2.4v2.4h-2.4zM749.0 368.6h2.4v2.4h-2.4zM125.1 350.2h2.4v2.4h-2.4zM921.1 347.8h2.4v2.4h-2.4zM924.6 344.9h2.4v2.4h-2.4zM143.5 345.4h2.4v2.4h-2.4zM841.1 359.7h2.4v2.4h-2.4zM239.2 350.8h2.4v2.4h-2.4zM266.9 355.7h2.4v2.4h-2.4zM317.3 356.9h2.4v2.4h-2.4zM292.5 360.1h2.4v2.4h-2.4zM239.1 356.7h2.4v2.4h-2.4zM915.5 363.0h2.4v2.4h-2.4zM382.2 368.0h2.4v2.4h-2.4zM745.6 368.0h2.4v2.4h-2.4zM438.9 388.4h2.4v2.4h-2.4zM116.5 339.7h2.4v2.4h-2.4zM756.0 358.8h2.4v2.4h-2.4zM184.5 340.2h2.4v2.4h-2.4zM803.0 353.5h2.4v2.4h-2.4zM135.9 351.6h2.4v2.4h-2.4zM862.3 353.5h2.4v2.4h-2.4zM780.9 372.5h2.4v2.4h-2.4zM501.2 382.8h2.4v2.4h-2.4zM150.4 357.5h2.4v2.4h-2.4zM377.5 356.5h2.4v2.4h-2.4zM410.6 384.0h2.4v2.4h-2.4zM749.3 366.6h2.4v2.4h-2.4zM942.1 360.1h2.4v2.4h-2.4zM840.7 361.4h2.4v2.4h-2.4zM364.8 358.8h2.4v2.4h-2.4zM335.4 360.4h2.4v2.4h-2.4zM590.8 381.8h2.4v2.4h-2.4zM231.5 353.2h2.4v2.4h-2.4zM376.7 365.2h2.4v2.4h-2.4zM371.3 364.7h2.4v2.4h-2.4zM434.7 366.9h2.4v2.4h-2.4zM425.7 375.4h2.4v2.4h-2.4zM909.2 337.2h2.4v2.4h-2.4zM707.5 363.3h2.4v2.4h-2.4zM322.5 367.4h2.4v2.4h-2.4zM590.5 365.7h2.4v2.4h-2.4zM922.4 338.6h2.4v2.4h-2.4zM598.6 364.3h2.4v2.4h-2.4zM831.0 356.1h2.4v2.4h-2.4zM276.7 353.7h2.4v2.4h-2.4zM188.8 365.1h2.4v2.4h-2.4zM415.0 362.1h2.4v2.4h-2.4zM248.2 350.4h2.4v2.4h-2.4zM526.7 360.8h2.4v2.4h-2.4zM720.3 357.3h2.4v2.4h-2.4zM165.0 354.4h2.4v2.4h-2.4zM332.5 362.8h2.4v2.4h-2.4zM332.5 359.0h2.4v2.4h-2.4zM352.6 366.0h2.4v2.4h-2.4zM611.2 364.2h2.4v2.4h-2.4zM190.1 345.9h2.4v2.4h-2.4zM389.5 368.8h2.4v2.4h-2.4zM471.8 368.1h2.4v2.4h-2.4zM436.8 365.2h2.4v2.4h-2.4zM788.0 353.0h2.4v2.4h-2.4zM438.6 370.0h2.4v2.4h-2.4zM148.2 356.2h2.4v2.4h-2.4zM134.1 354.3h2.4v2.4h-2.4zM534.2 365.9h2.4v2.4h-2.4zM213.7 358.9h2.4v2.4h-2.4zM117.3 347.9h2.4v2.4h-2.4zM845.7 354.3h2.4v2.4h-2.4zM439.3 360.8h2.4v2.4h-2.4zM154.2 353.9h2.4v2.4h-2.4zM450.9 364.6h2.4v2.4h-2.4zM842.2 342.2h2.4v2.4h-2.4zM260.0 357.9h2.4v2.4h-2.4zM124.5 352.4h2.4v2.4h-2.4zM801.6 355.0h2.4v2.4h-2.4zM412.8 379.0h2.4v2.4h-2.4zM390.3 373.7h2.4v2.4h-2.4zM668.2 363.7h2.4v2.4h-2.4zM326.9 359.8h2.4v2.4h-2.4zM159.4 347.8h2.4v2.4h-2.4zM274.0 350.2h2.4v2.4h-2.4zM460.9 375.0h2.4v2.4h-2.4zM849.5 358.2h2.4v2.4h-2.4zM145.9 346.5h2.4v2.4h-2.4zM817.1 353.9h2.4v2.4h-2.4zM908.4 350.4h2.4v2.4h-2.4zM662.9 386.0h2.4v2.4h-2.4zM713.1 357.9h2.4v2.4h-2.4zM859.5 353.7h2.4v2.4h-2.4zM158.4 339.8h2.4v2.4h-2.4zM210.4 350.7h2.4v2.4h-2.4zM742.5 364.4h2.4v2.4h-2.4zM331.9 366.6h2.4v2.4h-2.4zM928.0 351.8h2.4v2.4h-2.4zM927.4 354.9h2.4v2.4h-2.4zM386.4 365.1h2.4v2.4h-2.4zM899.6 350.9h2.4v2.4h-2.4zM907.5 343.4h2.4v2.4h-2.4zM236.0 347.9h2.4v2.4h-2.4zM836.5 354.3h2.4v2.4h-2.4zM224.7 347.2h2.4v2.4h-2.4zM693.2 368.0h2.4v2.4h-2.4zM599.5 371.3h2.4v2.4h-2.4zM417.4 381.3h2.4v2.4h-2.4zM689.5 368.9h2.4v2.4h-2.4zM886.4 349.4h2.4v2.4h-2.4zM117.9 355.2h2.4v2.4h-2.4zM886.6 351.4h2.4v2.4h-2.4zM396.3 363.0h2.4v2.4h-2.4zM415.5 375.4h2.4v2.4h-2.4zM133.1 363.3h2.4v2.4h-2.4zM897.3 363.0h2.4v2.4h-2.4zM225.8 364.1h2.4v2.4h-2.4zM192.9 349.9h2.4v2.4h-2.4zM917.7 357.6h2.4v2.4h-2.4zM391.5 372.0h2.4v2.4h-2.4zM857.3 345.6h2.4v2.4h-2.4zM609.9 375.1h2.4v2.4h-2.4zM331.6 374.5h2.4v2.4h-2.4zM153.1 355.6h2.4v2.4h-2.4zM777.2 360.2h2.4v2.4h-2.4zM739.6 363.5h2.4v2.4h-2.4zM943.7 348.8h2.4v2.4h-2.4zM698.1 376.8h2.4v2.4h-2.4zM120.3 353.9h2.4v2.4h-2.4zM416.8 364.3h2.4v2.4h-2.4zM243.6 355.2h2.4v2.4h-2.4zM749.1 361.7h2.4v2.4h-2.4zM226.9 355.5h2.4v2.4h-2.4zM190.5 353.4h2.4v2.4h-2.4zM296.5 370.7h2.4v2.4h-2.4zM620.1 369.0h2.4v2.4h-2.4zM922.6 350.5h2.4v2.4h-2.4zM800.1 360.5h2.4v2.4h-2.4zM173.3 351.1h2.4v2.4h-2.4zM934.7 341.9h2.4v2.4h-2.4zM690.0 368.1h2.4v2.4h-2.4zM316.5 360.6h2.4v2.4h-2.4zM148.8 348.0h2.4v2.4h-2.4zM642.1 373.2h2.4v2.4h-2.4zM580.8 369.7h2.4v2.4h-2.4zM282.8 360.8h2.4v2.4h-2.4zM763.0 360.9h2.4v2.4h-2.4zM135.6 347.4h2.4v2.4h-2.4zM354.1 365.0h2.4v2.4h-2.4zM209.9 351.1h2.4v2.4h-2.4zM266.6 360.8h2.4v2.4h-2.4zM930.7 354.0h2.4v2.4h-2.4zM295.1 354.0h2.4v2.4h-2.4zM617.7 381.0h2.4v2.4h-2.4zM772.9 364.4h2.4v2.4h-2.4zM552.6 366.9h2.4v2.4h-2.4zM781.2 371.4h2.4v2.4h-2.4zM226.2 347.2h2.4v2.4h-2.4zM352.1 376.6h2.4v2.4h-2.4zM479.3 364.3h2.4v2.4h-2.4zM141.3 349.4h2.4v2.4h-2.4zM613.7 386.2h2.4v2.4h-2.4zM278.5 352.6h2.4v2.4h-2.4zM140.4 348.1h2.4v2.4h-2.4zM899.9 342.9h2.4v2.4h-2.4zM505.3 383.0h2.4v2.4h-2.4zM191.1 348.0h2.4v2.4h-2.4zM466.5 393.6h2.4v2.4h-2.4zM839.7 346.4h2.4v2.4h-2.4zM679.2 373.3h2.4v2.4h-2.4zM140.3 347.7h2.4v2.4h-2.4zM808.6 355.4h2.4v2.4h-2.4zM651.5 368.3h2.4v2.4h-2.4zM920.6 355.7h2.4v2.4h-2.4zM247.7 352.9h2.4v2.4h-2.4zM923.8 343.7h2.4v2.4h-2.4zM889.9 344.9h2.4v2.4h-2.4zM124.3 352.7h2.4v2.4h-2.4zM942.3 353.0h2.4v2.4h-2.4zM863.8 358.3h2.4v2.4h-2.4zM216.9 357.0h2.4v2.4h-2.4zM338.1 363.6h2.4v2.4h-2.4zM346.6 369.3h2.4v2.4h-2.4zM817.2 353.0h2.4v2.4h-2.4zM246.9 360.2h2.4v2.4h-2.4zM861.5 362.0h2.4v2.4h-2.4zM745.9 367.9h2.4v2.4h-2.4zM129.5 353.0h2.4v2.4h-2.4zM607.8 371.2h2.4v2.4h-2.4zM824.3 355.4h2.4v2.4h-2.4zM310.7 356.4h2.4v2.4h-2.4zM553.0 381.9h2.4v2.4h-2.4zM931.2 356.0h2.4v2.4h-2.4zM862.2 356.5h2.4v2.4h-2.4zM228.4 360.0h2.4v2.4h-2.4zM568.2 373.1h2.4v2.4h-2.4zM875.3 347.3h2.4v2.4h-2.4zM283.5 361.6h2.4v2.4h-2.4zM786.5 351.3h2.4v2.4h-2.4zM803.2 368.2h2.4v2.4h-2.4zM136.5 349.2h2.4v2.4h-2.4zM765.5 361.6h2.4v2.4h-2.4zM768.7 363.1h2.4v2.4h-2.4zM375.1 358.8h2.4v2.4h-2.4zM133.6 354.1h2.4v2.4h-2.4zM916.1 363.3h2.4v2.4h-2.4zM753.2 358.8h2.4v2.4h-2.4zM147.2 350.6h2.4v2.4h-2.4zM895.2 361.1h2.4v2.4h-2.4zM329.7 363.4h2.4v2.4h-2.4zM752.3 364.9h2.4v2.4h-2.4zM803.8 359.7h2.4v2.4h-2.4zM152.4 354.3h2.4v2.4h-2.4zM934.4 359.4h2.4v2.4h-2.4zM212.6 358.9h2.4v2.4h-2.4zM921.1 362.8h2.4v2.4h-2.4zM849.0 351.1h2.4v2.4h-2.4zM782.3 369.0h2.4v2.4h-2.4zM885.8 346.8h2.4v2.4h-2.4zM234.3 354.2h2.4v2.4h-2.4zM873.8 352.1h2.4v2.4h-2.4zM784.0 353.2h2.4v2.4h-2.4zM480.2 358.2h2.4v2.4h-2.4zM635.0 359.3h2.4v2.4h-2.4zM788.8 351.8h2.4v2.4h-2.4zM839.3 357.8h2.4v2.4h-2.4zM748.2 362.3h2.4v2.4h-2.4zM210.6 345.2h2.4v2.4h-2.4zM854.1 352.0h2.4v2.4h-2.4zM201.8 349.7h2.4v2.4h-2.4zM264.9 353.5h2.4v2.4h-2.4zM121.1 347.9h2.4v2.4h-2.4zM881.7 349.5h2.4v2.4h-2.4zM841.4 352.4h2.4v2.4h-2.4zM302.4 372.2h2.4v2.4h-2.4zM208.9 346.6h2.4v2.4h-2.4zM325.6 377.5h2.4v2.4h-2.4zM689.7 367.7h2.4v2.4h-2.4zM416.6 357.3h2.4v2.4h-2.4zM587.0 372.1h2.4v2.4h-2.4zM300.5 368.4h2.4v2.4h-2.4zM174.4 356.4h2.4v2.4h-2.4zM369.8 367.8h2.4v2.4h-2.4zM354.0 363.4h2.4v2.4h-2.4zM232.8 353.6h2.4v2.4h-2.4zM375.9 382.1h2.4v2.4h-2.4zM755.9 368.7h2.4v2.4h-2.4zM874.2 349.8h2.4v2.4h-2.4zM633.5 371.1h2.4v2.4h-2.4zM115.5 356.8h2.4v2.4h-2.4zM288.5 368.1h2.4v2.4h-2.4zM888.3 354.3h2.4v2.4h-2.4zM181.8 347.7h2.4v2.4h-2.4zM470.8 380.9h2.4v2.4h-2.4zM133.8 351.6h2.4v2.4h-2.4zM664.7 375.8h2.4v2.4h-2.4zM244.8 353.3h2.4v2.4h-2.4zM266.0 360.2h2.4v2.4h-2.4zM460.9 383.0h2.4v2.4h-2.4zM786.7 362.7h2.4v2.4h-2.4zM701.1 372.3h2.4v2.4h-2.4zM912.7 357.6h2.4v2.4h-2.4zM381.2 363.7h2.4v2.4h-2.4zM773.9 359.0h2.4v2.4h-2.4zM309.5 374.1h2.4v2.4h-2.4zM243.0 365.8h2.4v2.4h-2.4zM313.5 369.7h2.4v2.4h-2.4zM310.1 353.2h2.4v2.4h-2.4zM339.7 370.0h2.4v2.4h-2.4zM922.9 357.4h2.4v2.4h-2.4zM273.5 354.4h2.4v2.4h-2.4zM808.6 358.1h2.4v2.4h-2.4zM214.9 349.9h2.4v2.4h-2.4zM348.3 371.7h2.4v2.4h-2.4zM907.1 357.6h2.4v2.4h-2.4zM864.1 353.6h2.4v2.4h-2.4zM269.8 350.3h2.4v2.4h-2.4zM168.9 346.8h2.4v2.4h-2.4zM173.7 358.3h2.4v2.4h-2.4zM627.5 361.7h2.4v2.4h-2.4zM365.0 364.4h2.4v2.4h-2.4zM769.9 358.3h2.4v2.4h-2.4zM455.5 370.0h2.4v2.4h-2.4zM129.9 355.9h2.4v2.4h-2.4zM607.2 379.1h2.4v2.4h-2.4zM217.9 353.8h2.4v2.4h-2.4zM171.8 350.1h2.4v2.4h-2.4zM360.7 368.3h2.4v2.4h-2.4zM202.5 347.8h2.4v2.4h-2.4zM121.5 350.1h2.4v2.4h-2.4zM130.8 357.7h2.4v2.4h-2.4zM500.8 362.5h2.4v2.4h-2.4zM293.5 356.1h2.4v2.4h-2.4zM244.4 349.0h2.4v2.4h-2.4zM898.5 351.4h2.4v2.4h-2.4zM138.6 354.1h2.4v2.4h-2.4zM236.2 354.4h2.4v2.4h-2.4zM297.7 359.3h2.4v2.4h-2.4zM671.4 380.4h2.4v2.4h-2.4zM834.6 352.3h2.4v2.4h-2.4zM912.4 351.4h2.4v2.4h-2.4zM597.2 356.0h2.4v2.4h-2.4zM566.4 373.2h2.4v2.4h-2.4zM657.2 368.6h2.4v2.4h-2.4zM939.4 345.2h2.4v2.4h-2.4zM775.8 361.0h2.4v2.4h-2.4zM372.1 364.9h2.4v2.4h-2.4zM900.4 344.6h2.4v2.4h-2.4zM353.4 373.9h2.4v2.4h-2.4zM778.1 353.9h2.4v2.4h-2.4zM804.4 358.6h2.4v2.4h-2.4zM803.1 358.3h2.4v2.4h-2.4zM704.2 366.9h2.4v2.4h-2.4zM750.8 369.4h2.4v2.4h-2.4zM755.0 356.8h2.4v2.4h-2.4zM252.1 359.3h2.4v2.4h-2.4zM116.8 351.7h2.4v2.4h-2.4zM402.7 380.7h2.4v2.4h-2.4zM724.2 369.0h2.4v2.4h-2.4zM381.7 352.6h2.4v2.4h-2.4zM186.1 355.3h2.4v2.4h-2.4zM364.0 358.0h2.4v2.4h-2.4zM351.6 365.9h2.4v2.4h-2.4zM882.2 355.2h2.4v2.4h-2.4zM317.6 363.2h2.4v2.4h-2.4zM538.8 371.1h2.4v2.4h-2.4zM808.5 363.3h2.4v2.4h-2.4zM739.8 365.9h2.4v2.4h-2.4zM810.8 354.3h2.4v2.4h-2.4zM812.6 364.1h2.4v2.4h-2.4zM423.4 361.6h2.4v2.4h-2.4zM120.6 348.6h2.4v2.4h-2.4zM172.1 344.8h2.4v2.4h-2.4zM420.3 375.1h2.4v2.4h-2.4zM931.9 350.5h2.4v2.4h-2.4zM623.6 362.0h2.4v2.4h-2.4zM167.3 355.4h2.4v2.4h-2.4zM893.0 357.6h2.4v2.4h-2.4zM263.3 351.1h2.4v2.4h-2.4zM322.9 349.7h2.4v2.4h-2.4zM413.0 370.7h2.4v2.4h-2.4zM710.0 366.4h2.4v2.4h-2.4zM695.0 357.5h2.4v2.4h-2.4zM889.0 358.2h2.4v2.4h-2.4zM784.7 365.6h2.4v2.4h-2.4zM178.6 343.0h2.4v2.4h-2.4zM643.1 368.5h2.4v2.4h-2.4zM267.3 356.0h2.4v2.4h-2.4zM383.8 367.6h2.4v2.4h-2.4zM751.9 369.8h2.4v2.4h-2.4zM880.0 357.2h2.4v2.4h-2.4zM691.0 358.1h2.4v2.4h-2.4zM164.0 351.2h2.4v2.4h-2.4zM241.4 353.5h2.4v2.4h-2.4zM356.0 377.4h2.4v2.4h-2.4zM554.0 390.4h2.4v2.4h-2.4zM924.4 346.4h2.4v2.4h-2.4zM714.1 362.7h2.4v2.4h-2.4zM262.8 363.4h2.4v2.4h-2.4zM147.3 348.7h2.4v2.4h-2.4zM920.3 343.2h2.4v2.4h-2.4zM929.9 346.6h2.4v2.4h-2.4zM618.0 375.2h2.4v2.4h-2.4zM940.8 360.8h2.4v2.4h-2.4zM416.0 361.6h2.4v2.4h-2.4zM262.4 359.1h2.4v2.4h-2.4zM558.0 368.1h2.4v2.4h-2.4zM397.1 376.0h2.4v2.4h-2.4zM171.7 363.9h2.4v2.4h-2.4zM303.0 369.8h2.4v2.4h-2.4zM468.0 364.8h2.4v2.4h-2.4zM142.7 349.2h2.4v2.4h-2.4zM118.3 344.5h2.4v2.4h-2.4zM146.4 353.5h2.4v2.4h-2.4zM570.2 376.9h2.4v2.4h-2.4zM447.9 360.2h2.4v2.4h-2.4zM863.0 353.5h2.4v2.4h-2.4zM856.7 348.0h2.4v2.4h-2.4zM688.8 377.8h2.4v2.4h-2.4zM884.1 349.3h2.4v2.4h-2.4zM616.0 375.5h2.4v2.4h-2.4zM218.4 353.1h2.4v2.4h-2.4zM872.2 352.5h2.4v2.4h-2.4zM692.0 374.4h2.4v2.4h-2.4zM932.9 334.4h2.4v2.4h-2.4zM346.3 356.9h2.4v2.4h-2.4zM573.8 370.3h2.4v2.4h-2.4zM834.6 351.1h2.4v2.4h-2.4zM717.4 363.9h2.4v2.4h-2.4zM780.8 369.8h2.4v2.4h-2.4zM384.9 358.8h2.4v2.4h-2.4zM822.0 347.1h2.4v2.4h-2.4zM137.7 354.4h2.4v2.4h-2.4zM308.3 356.1h2.4v2.4h-2.4zM502.0 372.6h2.4v2.4h-2.4zM270.9 354.5h2.4v2.4h-2.4zM734.8 356.4h2.4v2.4h-2.4zM866.4 354.0h2.4v2.4h-2.4zM270.5 360.3h2.4v2.4h-2.4zM907.6 350.3h2.4v2.4h-2.4zM740.7 369.3h2.4v2.4h-2.4zM922.5 357.3h2.4v2.4h-2.4zM281.6 357.6h2.4v2.4h-2.4zM335.6 361.9h2.4v2.4h-2.4zM556.9 372.9h2.4v2.4h-2.4zM264.7 361.1h2.4v2.4h-2.4zM924.5 346.5h2.4v2.4h-2.4zM875.9 352.4h2.4v2.4h-2.4zM899.5 345.6h2.4v2.4h-2.4zM235.1 347.3h2.4v2.4h-2.4zM603.7 364.5h2.4v2.4h-2.4zM823.8 349.0h2.4v2.4h-2.4zM790.9 359.4h2.4v2.4h-2.4zM316.6 366.6h2.4v2.4h-2.4zM613.9 367.4h2.4v2.4h-2.4zM944.3 347.1h2.4v2.4h-2.4zM343.0 361.7h2.4v2.4h-2.4zM705.6 354.3h2.4v2.4h-2.4zM316.9 352.5h2.4v2.4h-2.4zM832.9 350.3h2.4v2.4h-2.4zM215.1 344.9h2.4v2.4h-2.4zM288.1 361.7h2.4v2.4h-2.4zM304.6 358.6h2.4v2.4h-2.4zM167.4 345.0h2.4v2.4h-2.4zM242.5 354.7h2.4v2.4h-2.4zM653.7 372.9h2.4v2.4h-2.4zM190.1 352.6h2.4v2.4h-2.4zM166.5 359.2h2.4v2.4h-2.4zM324.7 370.8h2.4v2.4h-2.4zM933.9 344.8h2.4v2.4h-2.4zM379.2 378.2h2.4v2.4h-2.4zM844.6 357.0h2.4v2.4h-2.4zM574.3 375.6h2.4v2.4h-2.4zM152.1 343.2h2.4v2.4h-2.4zM699.9 355.6h2.4v2.4h-2.4zM200.7 356.0h2.4v2.4h-2.4zM325.2 347.0h2.4v2.4h-2.4zM352.1 370.1h2.4v2.4h-2.4zM645.4 368.2h2.4v2.4h-2.4zM127.2 345.9h2.4v2.4h-2.4zM220.6 358.1h2.4v2.4h-2.4zM848.2 340.7h2.4v2.4h-2.4zM248.1 361.7h2.4v2.4h-2.4z"/><path stroke="#fac435" d="M697.5 361.9h2.4v2.4h-2.4zM455.3 370.4h2.4v2.4h-2.4zM643.5 366.1h2.4v2.4h-2.4zM363.7 377.6h2.4v2.4h-2.4zM330.0 369.7h2.4v2.4h-2.4zM362.2 364.8h2.4v2.4h-2.4zM648.8 380.7h2.4v2.4h-2.4zM338.6 369.9h2.4v2.4h-2.4zM640.8 372.5h2.4v2.4h-2.4zM423.2 390.6h2.4v2.4h-2.4zM831.2 365.6h2.4v2.4h-2.4zM312.4 367.6h2.4v2.4h-2.4zM742.5 375.1h2.4v2.4h-2.4zM218.4 367.9h2.4v2.4h-2.4zM873.7 362.6h2.4v2.4h-2.4zM564.6 375.2h2.4v2.4h-2.4zM473.9 371.7h2.4v2.4h-2.4zM610.5 376.5h2.4v2.4h-2.4zM832.3 366.2h2.4v2.4h-2.4zM712.7 376.7h2.4v2.4h-2.4zM627.0 360.8h2.4v2.4h-2.4zM824.6 357.8h2.4v2.4h-2.4zM764.9 366.4h2.4v2.4h-2.4zM160.5 365.3h2.4v2.4h-2.4zM688.0 381.5h2.4v2.4h-2.4zM324.9 368.1h2.4v2.4h-2.4zM307.1 376.1h2.4v2.4h-2.4zM736.3 364.0h2.4v2.4h-2.4zM324.2 364.6h2.4v2.4h-2.4zM469.3 365.6h2.4v2.4h-2.4zM397.4 374.7h2.4v2.4h-2.4zM639.4 373.5h2.4v2.4h-2.4zM512.6 365.1h2.4v2.4h-2.4zM699.8 364.7h2.4v2.4h-2.4zM462.5 367.5h2.4v2.4h-2.4zM191.1 363.3h2.4v2.4h-2.4zM811.0 363.6h2.4v2.4h-2.4zM470.6 370.2h2.4v2.4h-2.4zM549.0 363.8h2.4v2.4h-2.4zM816.2 361.3h2.4v2.4h-2.4zM276.3 367.5h2.4v2.4h-2.4zM524.4 377.0h2.4v2.4h-2.4zM859.5 366.9h2.4v2.4h-2.4zM637.5 370.5h2.4v2.4h-2.4zM591.5 377.9h2.4v2.4h-2.4zM655.4 372.6h2.4v2.4h-2.4zM277.0 355.9h2.4v2.4h-2.4zM436.5 382.1h2.4v2.4h-2.4zM782.0 366.8h2.4v2.4h-2.4zM524.7 374.9h2.4v2.4h-2.4zM592.0 373.3h2.4v2.4h-2.4zM448.4 358.7h2.4v2.4h-2.4zM815.6 364.1h2.4v2.4h-2.4zM549.2 380.9h2.4v2.4h-2.4zM715.0 363.2h2.4v2.4h-2.4zM688.2 384.9h2.4v2.4h-2.4zM641.0 368.3h2.4v2.4h-2.4zM411.4 364.7h2.4v2.4h-2.4zM566.6 381.2h2.4v2.4h-2.4zM522.5 371.5h2.4v2.4h-2.4zM481.6 377.8h2.4v2.4h-2.4zM398.6 367.5h2.4v2.4h-2.4zM936.9 366.0h2.4v2.4h-2.4zM583.8 360.8h2.4v2.4h-2.4zM642.9 379.6h2.4v2.4h-2.4zM132.4 360.6h2.4v2.4h-2.4zM172.6 357.1h2.4v2.4h-2.4zM382.5 376.4h2.4v2.4h-2.4zM506.9 373.1h2.4v2.4h-2.4zM346.6 374.3h2.4v2.4h-2.4zM858.7 365.9h2.4v2.4h-2.4zM843.3 367.4h2.4v2.4h-2.4zM437.5 368.3h2.4v2.4h-2.4zM432.3 366.9h2.4v2.4h-2.4zM360.7 370.3h2.4v2.4h-2.4zM673.9 372.3h2.4v2.4h-2.4zM503.0 388.1h2.4v2.4h-2.4zM700.6 371.3h2.4v2.4h-2.4zM398.8 368.9h2.4v2.4h-2.4zM365.1 367.9h2.4v2.4h-2.4zM531.7 381.0h2.4v2.4h-2.4zM834.3 362.0h2.4v2.4h-2.4zM646.4 375.3h2.4v2.4h-2.4zM436.0 361.9h2.4v2.4h-2.4zM244.9 359.3h2.4v2.4h-2.4zM752.2 376.4h2.4v2.4h-2.4zM763.9 378.3h2.4v2.4h-2.4zM902.7 362.2h2.4v2.4h-2.4zM621.4 372.8h2.4v2.4h-2.4zM551.1 372.7h2.4v2.4h-2.4zM473.6 369.2h2.4v2.4h-2.4zM477.8 367.1h2.4v2.4h-2.4zM663.7 371.4h2.4v2.4h-2.4zM700.9 363.0h2.4v2.4h-2.4zM581.4 370.4h2.4v2.4h-2.4zM541.7 367.9h2.4v2.4h-2.4zM485.1 357.4h2.4v2.4h-2.4zM377.3 377.1h2.4v2.4h-2.4zM763.0 368.4h2.4v2.4h-2.4zM575.0 376.3h2.4v2.4h-2.4zM409.1 362.7h2.4v2.4h-2.4zM854.9 367.3h2.4v2.4h-2.4zM416.8 376.5h2.4v2.4h-2.4zM293.8 373.2h2.4v2.4h-2.4zM842.9 360.2h2.4v2.4h-2.4zM563.3 356.4h2.4v2.4h-2.4zM555.4 368.4h2.4v2.4h-2.4zM378.1 370.3h2.4v2.4h-2.4zM685.9 369.9h2.4v2.4h-2.4zM711.0 361.9h2.4v2.4h-2.4zM716.2 368.1h2.4v2.4h-2.4zM896.4 366.5h2.4v2.4h-2.4zM210.8 374.5h2.4v2.4h-2.4zM906.3 370.0h2.4v2.4h-2.4zM283.8 371.9h2.4v2.4h-2.4zM515.4 363.0h2.4v2.4h-2.4zM143.2 362.1h2.4v2.4h-2.4zM275.3 358.7h2.4v2.4h-2.4zM422.9 366.7h2.4v2.4h-2.4zM472.1 359.9h2.4v2.4h-2.4zM461.6 384.3h2.4v2.4h-2.4zM439.3 377.9h2.4v2.4h-2.4zM345.5 357.1h2.4v2.4h-2.4zM422.4 368.0h2.4v2.4h-2.4zM517.2 363.6h2.4v2.4h-2.4zM636.7 365.2h2.4v2.4h-2.4zM898.3 368.9h2.4v2.4h-2.4zM351.7 370.7h2.4v2.4h-2.4zM751.7 354.9h2.4v2.4h-2.4zM682.0 368.0h2.4v2.4h-2.4zM218.4 371.7h2.4v2.4h-2.4zM679.0 371.8h2.4v2.4h-2.4zM780.8 366.7h2.4v2.4h-2.4zM620.6 366.8h2.4v2.4h-2.4zM884.5 363.4h2.4v2.4h-2.4zM536.4 389.2h2.4v2.4h-2.4zM394.0 373.3h2.4v2.4h-2.4zM474.3 366.4h2.4v2.4h-2.4zM886.0 368.1h2.4v2.4h-2.4zM672.9 372.2h2.4v2.4h-2.4zM472.4 371.4h2.4v2.4h-2.4zM543.3 370.5h2.4v2.4h-2.4zM305.1 368.5h2.4v2.4h-2.4zM848.1 364.2h2.4v2.4h-2.4zM711.4 364.9h2.4v2.4h-2.4zM627.4 365.4h2.4v2.4h-2.4zM114.8 362.4h2.4v2.4h-2.4zM146.0 370.4h2.4v2.4h-2.4zM482.2 371.4h2.4v2.4h-2.4zM753.3 374.1h2.4v2.4h-2.4zM580.3 369.4h2.4v2.4h-2.4zM356.2 370.6h2.4v2.4h-2.4zM603.7 356.6h2.4v2.4h-2.4zM784.3 360.7h2.4v2.4h-2.4zM473.0 375.8h2.4v2.4h-2.4zM696.4 360.3h2.4v2.4h-2.4zM420.0 375.1h2.4v2.4h-2.4zM397.9 367.7h2.4v2.4h-2.4z"/><path stroke="#2eb7a4" d="M123.5 366.5h2.4v2.4h-2.4zM587.0 373.3h2.4v2.4h-2.4zM563.3 379.6h2.4v2.4h-2.4zM435.0 363.8h2.4v2.4h-2.4zM686.7 373.1h2.4v2.4h-2.4zM434.7 370.0h2.4v2.4h-2.4zM889.0 365.8h2.4v2.4h-2.4zM897.7 361.0h2.4v2.4h-2.4zM923.6 368.9h2.4v2.4h-2.4zM326.7 368.4h2.4v2.4h-2.4z"/><path stroke="#1f7fd9" d="M625.7 376.3h2.4v2.4h-2.4zM443.6 366.1h2.4v2.4h-2.4zM861.9 366.9h2.4v2.4h-2.4zM476.8 370.6h2.4v2.4h-2.4zM547.3 370.4h2.4v2.4h-2.4zM571.9 371.4h2.4v2.4h-2.4zM655.1 372.3h2.4v2.4h-2.4zM599.5 378.9h2.4v2.4h-2.4zM805.7 366.4h2.4v2.4h-2.4zM563.7 370.3h2.4v2.4h-2.4zM404.7 373.1h2.4v2.4h-2.4z"/><path stroke="#fbf30c" d="M448.8 376.1h2.4v2.4h-2.4zM737.0 369.4h2.4v2.4h-2.4zM811.0 371.5h2.4v2.4h-2.4zM236.2 369.9h2.4v2.4h-2.4zM656.3 362.7h2.4v2.4h-2.4zM476.4 363.6h2.4v2.4h-2.4zM745.3 364.2h2.4v2.4h-2.4zM432.2 360.8h2.4v2.4h-2.4zM438.7 364.5h2.4v2.4h-2.4zM482.6 374.7h2.4v2.4h-2.4zM636.4 366.3h2.4v2.4h-2.4zM388.7 382.5h2.4v2.4h-2.4zM382.8 369.2h2.4v2.4h-2.4zM541.0 367.3h2.4v2.4h-2.4zM153.9 369.0h2.4v2.4h-2.4zM737.8 363.4h2.4v2.4h-2.4zM417.7 370.8h2.4v2.4h-2.4zM770.2 379.0h2.4v2.4h-2.4zM427.1 360.4h2.4v2.4h-2.4zM826.0 364.4h2.4v2.4h-2.4zM494.0 378.9h2.4v2.4h-2.4zM726.0 366.3h2.4v2.4h-2.4zM231.1 366.5h2.4v2.4h-2.4zM150.4 365.7h2.4v2.4h-2.4zM752.3 366.2h2.4v2.4h-2.4zM596.3 371.7h2.4v2.4h-2.4zM296.0 373.0h2.4v2.4h-2.4zM194.9 361.7h2.4v2.4h-2.4zM353.2 365.5h2.4v2.4h-2.4zM614.3 369.7h2.4v2.4h-2.4zM647.8 372.9h2.4v2.4h-2.4zM386.7 365.4h2.4v2.4h-2.4zM808.7 367.5h2.4v2.4h-2.4zM629.7 377.3h2.4v2.4h-2.4zM684.2 373.5h2.4v2.4h-2.4zM582.4 362.4h2.4v2.4h-2.4zM527.8 379.2h2.4v2.4h-2.4zM709.9 367.1h2.4v2.4h-2.4zM251.5 379.4h2.4v2.4h-2.4zM597.7 378.4h2.4v2.4h-2.4zM665.5 372.9h2.4v2.4h-2.4zM456.4 363.0h2.4v2.4h-2.4zM686.8 366.1h2.4v2.4h-2.4zM779.5 360.2h2.4v2.4h-2.4zM705.4 366.1h2.4v2.4h-2.4zM490.2 376.6h2.4v2.4h-2.4zM311.5 360.6h2.4v2.4h-2.4zM243.7 369.0h2.4v2.4h-2.4zM596.3 360.4h2.4v2.4h-2.4zM697.3 373.4h2.4v2.4h-2.4zM472.4 366.1h2.4v2.4h-2.4zM235.2 372.9h2.4v2.4h-2.4zM629.3 364.2h2.4v2.4h-2.4zM677.4 358.2h2.4v2.4h-2.4zM478.5 362.2h2.4v2.4h-2.4zM546.6 368.4h2.4v2.4h-2.4zM241.4 362.6h2.4v2.4h-2.4zM519.4 367.3h2.4v2.4h-2.4zM942.3 364.2h2.4v2.4h-2.4zM633.9 358.3h2.4v2.4h-2.4zM839.3 368.4h2.4v2.4h-2.4zM387.9 366.4h2.4v2.4h-2.4zM582.4 365.2h2.4v2.4h-2.4zM568.6 362.2h2.4v2.4h-2.4zM491.6 374.1h2.4v2.4h-2.4zM894.2 359.6h2.4v2.4h-2.4zM478.4 369.8h2.4v2.4h-2.4zM454.2 366.0h2.4v2.4h-2.4zM338.5 361.2h2.4v2.4h-2.4zM154.9 367.1h2.4v2.4h-2.4zM429.7 369.1h2.4v2.4h-2.4zM326.5 366.0h2.4v2.4h-2.4zM510.0 371.5h2.4v2.4h-2.4zM594.8 373.0h2.4v2.4h-2.4zM496.5 356.8h2.4v2.4h-2.4zM596.6 373.1h2.4v2.4h-2.4zM432.7 380.9h2.4v2.4h-2.4zM528.4 372.4h2.4v2.4h-2.4zM331.8 364.6h2.4v2.4h-2.4zM400.7 372.6h2.4v2.4h-2.4zM755.8 368.3h2.4v2.4h-2.4zM704.1 367.4h2.4v2.4h-2.4zM314.2 374.4h2.4v2.4h-2.4zM627.5 368.7h2.4v2.4h-2.4zM737.9 370.8h2.4v2.4h-2.4zM176.3 360.4h2.4v2.4h-2.4zM647.9 362.0h2.4v2.4h-2.4zM774.4 364.5h2.4v2.4h-2.4zM482.9 354.7h2.4v2.4h-2.4zM174.2 365.8h2.4v2.4h-2.4zM469.4 375.9h2.4v2.4h-2.4zM552.3 370.2h2.4v2.4h-2.4zM662.9 378.6h2.4v2.4h-2.4zM782.4 377.0h2.4v2.4h-2.4zM659.3 371.5h2.4v2.4h-2.4zM554.9 373.7h2.4v2.4h-2.4zM507.8 367.3h2.4v2.4h-2.4zM484.5 370.4h2.4v2.4h-2.4zM868.0 359.3h2.4v2.4h-2.4zM628.0 369.9h2.4v2.4h-2.4zM491.8 370.1h2.4v2.4h-2.4zM614.0 365.7h2.4v2.4h-2.4zM604.9 385.4h2.4v2.4h-2.4zM643.0 378.7h2.4v2.4h-2.4zM863.8 367.1h2.4v2.4h-2.4zM418.5 377.1h2.4v2.4h-2.4zM731.9 368.7h2.4v2.4h-2.4zM276.0 370.1h2.4v2.4h-2.4zM578.5 374.0h2.4v2.4h-2.4zM690.6 369.8h2.4v2.4h-2.4zM659.4 366.4h2.4v2.4h-2.4zM452.8 370.1h2.4v2.4h-2.4zM500.5 374.2h2.4v2.4h-2.4zM318.8 356.9h2.4v2.4h-2.4zM681.2 378.3h2.4v2.4h-2.4zM863.9 363.2h2.4v2.4h-2.4zM533.8 377.4h2.4v2.4h-2.4zM298.2 363.5h2.4v2.4h-2.4zM544.9 362.2h2.4v2.4h-2.4zM467.5 371.7h2.4v2.4h-2.4zM621.3 374.4h2.4v2.4h-2.4zM167.1 358.6h2.4v2.4h-2.4zM560.2 376.4h2.4v2.4h-2.4zM576.5 369.9h2.4v2.4h-2.4zM871.4 364.4h2.4v2.4h-2.4zM460.4 385.3h2.4v2.4h-2.4zM786.0 362.6h2.4v2.4h-2.4zM383.5 373.3h2.4v2.4h-2.4zM310.9 367.6h2.4v2.4h-2.4zM327.6 362.1h2.4v2.4h-2.4zM381.6 369.4h2.4v2.4h-2.4zM382.8 380.5h2.4v2.4h-2.4zM559.6 372.3h2.4v2.4h-2.4zM461.9 363.2h2.4v2.4h-2.4zM397.4 364.8h2.4v2.4h-2.4zM604.8 375.8h2.4v2.4h-2.4zM646.2 376.2h2.4v2.4h-2.4zM144.0 365.2h2.4v2.4h-2.4zM550.5 381.9h2.4v2.4h-2.4zM366.6 371.6h2.4v2.4h-2.4zM334.6 365.5h2.4v2.4h-2.4zM269.0 365.6h2.4v2.4h-2.4zM279.7 364.0h2.4v2.4h-2.4zM546.3 374.0h2.4v2.4h-2.4zM589.8 370.8h2.4v2.4h-2.4zM648.5 363.3h2.4v2.4h-2.4zM538.7 359.3h2.4v2.4h-2.4zM919.1 361.1h2.4v2.4h-2.4zM752.0 367.2h2.4v2.4h-2.4zM586.1 369.2h2.4v2.4h-2.4zM605.5 365.1h2.4v2.4h-2.4zM374.5 366.5h2.4v2.4h-2.4zM740.9 367.7h2.4v2.4h-2.4zM514.7 375.9h2.4v2.4h-2.4zM729.1 368.3h2.4v2.4h-2.4zM352.5 365.4h2.4v2.4h-2.4zM524.2 374.7h2.4v2.4h-2.4zM357.2 370.5h2.4v2.4h-2.4zM183.0 365.0h2.4v2.4h-2.4zM550.3 386.5h2.4v2.4h-2.4zM777.3 363.3h2.4v2.4h-2.4zM696.4 371.8h2.4v2.4h-2.4zM573.5 383.4h2.4v2.4h-2.4zM624.8 367.5h2.4v2.4h-2.4zM837.6 372.6h2.4v2.4h-2.4zM912.5 365.1h2.4v2.4h-2.4zM684.7 373.6h2.4v2.4h-2.4zM625.7 381.7h2.4v2.4h-2.4zM578.5 370.0h2.4v2.4h-2.4zM368.7 371.2h2.4v2.4h-2.4zM565.8 377.9h2.4v2.4h-2.4zM586.0 372.4h2.4v2.4h-2.4zM396.6 365.0h2.4v2.4h-2.4zM727.0 375.4h2.4v2.4h-2.4zM789.3 370.8h2.4v2.4h-2.4zM191.2 362.9h2.4v2.4h-2.4zM748.6 363.3h2.4v2.4h-2.4zM574.7 363.9h2.4v2.4h-2.4zM445.9 373.2h2.4v2.4h-2.4zM413.5 378.0h2.4v2.4h-2.4zM557.7 362.0h2.4v2.4h-2.4zM709.4 374.2h2.4v2.4h-2.4zM666.0 368.3h2.4v2.4h-2.4zM253.7 368.7h2.4v2.4h-2.4zM541.9 364.2h2.4v2.4h-2.4zM519.8 370.2h2.4v2.4h-2.4zM350.7 372.1h2.4v2.4h-2.4zM721.6 369.9h2.4v2.4h-2.4zM914.8 363.4h2.4v2.4h-2.4zM224.6 370.3h2.4v2.4h-2.4zM602.6 377.9h2.4v2.4h-2.4zM903.7 362.9h2.4v2.4h-2.4zM780.1 359.5h2.4v2.4h-2.4zM489.6 372.8h2.4v2.4h-2.4zM356.7 372.7h2.4v2.4h-2.4zM208.2 367.2h2.4v2.4h-2.4zM445.5 357.5h2.4v2.4h-2.4zM591.2 365.1h2.4v2.4h-2.4zM716.0 366.8h2.4v2.4h-2.4zM519.6 371.7h2.4v2.4h-2.4zM149.3 364.8h2.4v2.4h-2.4zM198.6 366.9h2.4v2.4h-2.4zM502.7 368.3h2.4v2.4h-2.4zM695.7 373.4h2.4v2.4h-2.4zM661.8 371.8h2.4v2.4h-2.4zM186.2 364.2h2.4v2.4h-2.4zM630.3 383.4h2.4v2.4h-2.4zM701.4 369.5h2.4v2.4h-2.4zM416.5 369.5h2.4v2.4h-2.4zM210.5 362.7h2.4v2.4h-2.4zM580.6 371.5h2.4v2.4h-2.4zM774.5 373.4h2.4v2.4h-2.4zM660.3 371.1h2.4v2.4h-2.4zM917.1 372.7h2.4v2.4h-2.4zM702.0 359.4h2.4v2.4h-2.4zM827.6 361.6h2.4v2.4h-2.4zM334.1 374.1h2.4v2.4h-2.4zM855.5 367.1h2.4v2.4h-2.4zM518.7 375.6h2.4v2.4h-2.4zM709.1 358.2h2.4v2.4h-2.4zM678.0 372.2h2.4v2.4h-2.4zM404.4 371.3h2.4v2.4h-2.4zM482.3 369.0h2.4v2.4h-2.4zM647.5 372.2h2.4v2.4h-2.4zM936.4 366.4h2.4v2.4h-2.4zM217.1 369.2h2.4v2.4h-2.4zM373.1 364.0h2.4v2.4h-2.4zM678.2 370.2h2.4v2.4h-2.4zM529.6 379.8h2.4v2.4h-2.4zM589.9 368.6h2.4v2.4h-2.4zM427.9 370.1h2.4v2.4h-2.4zM247.9 365.8h2.4v2.4h-2.4zM337.3 365.6h2.4v2.4h-2.4zM336.7 376.0h2.4v2.4h-2.4zM499.1 367.1h2.4v2.4h-2.4zM711.5 367.3h2.4v2.4h-2.4zM437.4 380.2h2.4v2.4h-2.4zM525.0 367.4h2.4v2.4h-2.4zM771.8 369.0h2.4v2.4h-2.4zM414.7 367.5h2.4v2.4h-2.4zM755.7 368.8h2.4v2.4h-2.4zM477.5 372.1h2.4v2.4h-2.4zM326.9 363.4h2.4v2.4h-2.4zM441.3 366.6h2.4v2.4h-2.4zM709.9 365.1h2.4v2.4h-2.4zM226.3 365.3h2.4v2.4h-2.4zM597.1 367.8h2.4v2.4h-2.4zM516.0 376.1h2.4v2.4h-2.4zM359.8 372.1h2.4v2.4h-2.4zM479.7 372.2h2.4v2.4h-2.4zM533.7 371.8h2.4v2.4h-2.4zM761.4 374.6h2.4v2.4h-2.4zM233.2 364.6h2.4v2.4h-2.4zM439.9 376.8h2.4v2.4h-2.4zM584.8 371.8h2.4v2.4h-2.4zM492.0 381.7h2.4v2.4h-2.4zM717.7 369.4h2.4v2.4h-2.4zM614.8 372.0h2.4v2.4h-2.4zM539.2 367.3h2.4v2.4h-2.4zM610.9 381.8h2.4v2.4h-2.4zM680.6 375.9h2.4v2.4h-2.4zM258.3 370.3h2.4v2.4h-2.4zM434.3 375.8h2.4v2.4h-2.4zM622.9 380.1h2.4v2.4h-2.4zM137.2 365.1h2.4v2.4h-2.4zM449.3 364.8h2.4v2.4h-2.4zM459.2 368.4h2.4v2.4h-2.4zM401.6 372.1h2.4v2.4h-2.4zM640.0 369.0h2.4v2.4h-2.4zM809.9 359.2h2.4v2.4h-2.4zM602.9 371.6h2.4v2.4h-2.4zM372.8 369.7h2.4v2.4h-2.4zM625.2 370.9h2.4v2.4h-2.4zM720.7 375.9h2.4v2.4h-2.4zM300.1 368.3h2.4v2.4h-2.4zM381.6 373.4h2.4v2.4h-2.4zM519.4 373.7h2.4v2.4h-2.4zM699.9 365.3h2.4v2.4h-2.4zM555.0 370.1h2.4v2.4h-2.4zM203.0 369.7h2.4v2.4h-2.4zM498.8 364.6h2.4v2.4h-2.4zM205.6 355.8h2.4v2.4h-2.4zM611.2 362.0h2.4v2.4h-2.4zM699.2 375.9h2.4v2.4h-2.4zM723.5 360.9h2.4v2.4h-2.4zM744.3 365.9h2.4v2.4h-2.4zM791.7 371.0h2.4v2.4h-2.4zM568.7 366.8h2.4v2.4h-2.4zM567.8 367.2h2.4v2.4h-2.4zM259.4 369.7h2.4v2.4h-2.4zM487.5 371.1h2.4v2.4h-2.4zM619.7 370.0h2.4v2.4h-2.4zM743.4 373.8h2.4v2.4h-2.4zM712.5 364.5h2.4v2.4h-2.4zM679.8 356.3h2.4v2.4h-2.4zM812.3 364.4h2.4v2.4h-2.4zM298.6 367.4h2.4v2.4h-2.4zM398.4 374.6h2.4v2.4h-2.4zM473.5 366.1h2.4v2.4h-2.4zM656.2 363.6h2.4v2.4h-2.4zM800.4 363.4h2.4v2.4h-2.4zM429.0 374.0h2.4v2.4h-2.4zM721.1 375.4h2.4v2.4h-2.4zM561.2 377.1h2.4v2.4h-2.4zM492.9 363.2h2.4v2.4h-2.4zM659.7 380.6h2.4v2.4h-2.4zM156.4 369.2h2.4v2.4h-2.4zM456.5 363.2h2.4v2.4h-2.4zM879.3 361.1h2.4v2.4h-2.4zM131.6 367.4h2.4v2.4h-2.4zM357.1 368.1h2.4v2.4h-2.4zM460.5 382.4h2.4v2.4h-2.4zM717.5 375.4h2.4v2.4h-2.4zM823.1 371.1h2.4v2.4h-2.4zM447.9 376.0h2.4v2.4h-2.4zM692.0 371.8h2.4v2.4h-2.4zM664.8 372.4h2.4v2.4h-2.4zM309.3 366.7h2.4v2.4h-2.4zM524.7 368.5h2.4v2.4h-2.4zM356.2 365.0h2.4v2.4h-2.4zM477.8 372.8h2.4v2.4h-2.4zM685.9 370.8h2.4v2.4h-2.4zM521.7 378.4h2.4v2.4h-2.4zM150.7 365.2h2.4v2.4h-2.4zM478.0 371.8h2.4v2.4h-2.4zM582.6 360.7h2.4v2.4h-2.4zM301.2 366.6h2.4v2.4h-2.4zM317.8 369.2h2.4v2.4h-2.4zM242.8 361.7h2.4v2.4h-2.4zM201.7 363.9h2.4v2.4h-2.4zM489.1 374.5h2.4v2.4h-2.4zM916.2 367.4h2.4v2.4h-2.4zM425.2 369.9h2.4v2.4h-2.4zM391.5 371.6h2.4v2.4h-2.4zM206.5 368.0h2.4v2.4h-2.4zM243.8 364.5h2.4v2.4h-2.4zM222.1 366.3h2.4v2.4h-2.4zM584.3 369.3h2.4v2.4h-2.4zM477.9 370.3h2.4v2.4h-2.4zM391.1 369.8h2.4v2.4h-2.4zM198.8 363.0h2.4v2.4h-2.4zM490.3 373.8h2.4v2.4h-2.4zM823.9 365.7h2.4v2.4h-2.4zM566.3 368.2h2.4v2.4h-2.4zM595.7 372.1h2.4v2.4h-2.4zM478.9 364.7h2.4v2.4h-2.4zM334.7 371.8h2.4v2.4h-2.4zM592.5 363.6h2.4v2.4h-2.4zM557.0 366.7h2.4v2.4h-2.4zM672.2 370.6h2.4v2.4h-2.4zM673.5 364.7h2.4v2.4h-2.4zM669.8 373.3h2.4v2.4h-2.4zM360.6 374.9h2.4v2.4h-2.4zM425.7 363.3h2.4v2.4h-2.4zM727.1 363.5h2.4v2.4h-2.4zM505.6 360.8h2.4v2.4h-2.4zM792.1 366.6h2.4v2.4h-2.4zM539.4 366.0h2.4v2.4h-2.4zM570.9 376.4h2.4v2.4h-2.4zM736.1 378.9h2.4v2.4h-2.4zM424.3 371.1h2.4v2.4h-2.4zM711.6 378.4h2.4v2.4h-2.4zM492.3 370.2h2.4v2.4h-2.4zM337.1 366.7h2.4v2.4h-2.4zM501.0 373.8h2.4v2.4h-2.4zM675.6 372.6h2.4v2.4h-2.4zM128.6 361.5h2.4v2.4h-2.4zM599.8 356.8h2.4v2.4h-2.4zM620.3 369.4h2.4v2.4h-2.4zM743.5 367.4h2.4v2.4h-2.4zM483.4 368.0h2.4v2.4h-2.4zM625.3 361.7h2.4v2.4h-2.4zM310.7 363.4h2.4v2.4h-2.4zM728.9 371.3h2.4v2.4h-2.4zM306.6 377.0h2.4v2.4h-2.4zM539.1 366.1h2.4v2.4h-2.4zM630.7 372.5h2.4v2.4h-2.4zM176.0 367.8h2.4v2.4h-2.4zM673.2 382.9h2.4v2.4h-2.4zM556.3 380.1h2.4v2.4h-2.4zM686.6 364.9h2.4v2.4h-2.4zM850.7 365.3h2.4v2.4h-2.4zM365.5 365.9h2.4v2.4h-2.4zM351.9 376.5h2.4v2.4h-2.4zM637.3 368.3h2.4v2.4h-2.4zM122.2 367.2h2.4v2.4h-2.4zM908.1 366.4h2.4v2.4h-2.4zM600.0 369.6h2.4v2.4h-2.4zM638.6 367.8h2.4v2.4h-2.4zM641.3 368.7h2.4v2.4h-2.4zM410.7 374.2h2.4v2.4h-2.4z"/><path stroke="#4ebc8c" d="M388.0 366.3h2.4v2.4h-2.4zM903.1 344.4h2.4v2.4h-2.4zM176.7 353.1h2.4v2.4h-2.4zM883.1 346.9h2.4v2.4h-2.4zM614.3 375.1h2.4v2.4h-2.4zM188.9 343.4h2.4v2.4h-2.4zM666.5 373.6h2.4v2.4h-2.4zM906.1 350.3h2.4v2.4h-2.4zM127.0 349.3h2.4v2.4h-2.4zM542.8 370.9h2.4v2.4h-2.4zM588.5 378.0h2.4v2.4h-2.4zM818.0 354.5h2.4v2.4h-2.4zM254.0 362.1h2.4v2.4h-2.4zM469.0 391.4h2.4v2.4h-2.4zM921.4 347.7h2.4v2.4h-2.4zM322.0 365.9h2.4v2.4h-2.4zM363.2 357.6h2.4v2.4h-2.4zM570.8 380.8h2.4v2.4h-2.4zM302.3 368.2h2.4v2.4h-2.4zM169.0 356.2h2.4v2.4h-2.4zM720.0 362.0h2.4v2.4h-2.4zM795.8 356.1h2.4v2.4h-2.4zM307.6 360.9h2.4v2.4h-2.4zM192.1 357.4h2.4v2.4h-2.4zM730.1 368.6h2.4v2.4h-2.4zM866.6 347.0h2.4v2.4h-2.4zM741.0 368.2h2.4v2.4h-2.4zM582.4 361.0h2.4v2.4h-2.4zM198.3 356.1h2.4v2.4h-2.4zM193.1 353.9h2.4v2.4h-2.4zM729.2 372.6h2.4v2.4h-2.4zM278.8 357.5h2.4v2.4h-2.4zM785.5 366.4h2.4v2.4h-2.4zM232.5 350.4h2.4v2.4h-2.4zM374.2 360.5h2.4v2.4h-2.4zM927.4 353.4h2.4v2.4h-2.4zM906.1 358.2h2.4v2.4h-2.4zM911.2 346.9h2.4v2.4h-2.4zM243.2 357.0h2.4v2.4h-2.4zM321.0 361.7h2.4v2.4h-2.4zM459.4 371.4h2.4v2.4h-2.4zM838.6 347.3h2.4v2.4h-2.4zM888.5 355.2h2.4v2.4h-2.4zM887.9 353.9h2.4v2.4h-2.4zM365.5 368.7h2.4v2.4h-2.4zM685.4 379.5h2.4v2.4h-2.4zM187.9 360.5h2.4v2.4h-2.4zM918.4 359.8h2.4v2.4h-2.4zM393.4 371.7h2.4v2.4h-2.4zM329.9 370.0h2.4v2.4h-2.4zM764.9 354.3h2.4v2.4h-2.4zM546.4 376.0h2.4v2.4h-2.4zM634.2 368.5h2.4v2.4h-2.4zM151.0 343.1h2.4v2.4h-2.4zM440.6 362.1h2.4v2.4h-2.4zM733.9 356.3h2.4v2.4h-2.4zM602.9 370.7h2.4v2.4h-2.4zM175.0 357.6h2.4v2.4h-2.4zM787.5 364.9h2.4v2.4h-2.4zM269.5 370.5h2.4v2.4h-2.4zM789.9 362.6h2.4v2.4h-2.4zM829.8 362.7h2.4v2.4h-2.4zM294.4 366.3h2.4v2.4h-2.4zM295.8 366.0h2.4v2.4h-2.4zM849.8 352.0h2.4v2.4h-2.4zM151.6 351.6h2.4v2.4h-2.4zM219.0 344.2h2.4v2.4h-2.4zM857.4 350.9h2.4v2.4h-2.4zM222.3 352.0h2.4v2.4h-2.4zM331.5 358.3h2.4v2.4h-2.4zM179.7 341.5h2.4v2.4h-2.4zM650.9 369.7h2.4v2.4h-2.4zM233.9 350.2h2.4v2.4h-2.4zM819.0 350.7h2.4v2.4h-2.4zM622.3 373.0h2.4v2.4h-2.4zM666.3 360.4h2.4v2.4h-2.4zM214.3 355.2h2.4v2.4h-2.4zM544.3 360.2h2.4v2.4h-2.4zM821.5 357.6h2.4v2.4h-2.4zM587.6 377.3h2.4v2.4h-2.4zM713.8 369.0h2.4v2.4h-2.4zM116.2 349.8h2.4v2.4h-2.4zM223.5 357.3h2.4v2.4h-2.4zM143.4 350.3h2.4v2.4h-2.4zM751.6 364.1h2.4v2.4h-2.4zM819.5 363.1h2.4v2.4h-2.4zM733.6 347.1h2.4v2.4h-2.4zM395.9 358.4h2.4v2.4h-2.4zM352.5 375.4h2.4v2.4h-2.4zM739.9 379.3h2.4v2.4h-2.4zM539.1 372.0h2.4v2.4h-2.4zM751.6 366.5h2.4v2.4h-2.4zM647.6 373.0h2.4v2.4h-2.4zM900.0 350.0h2.4v2.4h-2.4zM788.5 365.3h2.4v2.4h-2.4zM339.0 349.3h2.4v2.4h-2.4zM919.4 356.0h2.4v2.4h-2.4zM475.6 364.6h2.4v2.4h-2.4zM277.6 364.7h2.4v2.4h-2.4zM460.4 362.2h2.4v2.4h-2.4zM335.2 352.1h2.4v2.4h-2.4zM185.3 349.6h2.4v2.4h-2.4zM561.0 375.4h2.4v2.4h-2.4zM382.7 375.8h2.4v2.4h-2.4zM920.6 353.1h2.4v2.4h-2.4zM926.9 350.5h2.4v2.4h-2.4zM820.4 363.3h2.4v2.4h-2.4zM491.0 395.2h2.4v2.4h-2.4zM854.3 361.3h2.4v2.4h-2.4zM807.4 353.4h2.4v2.4h-2.4zM302.3 366.9h2.4v2.4h-2.4zM553.3 371.6h2.4v2.4h-2.4zM190.2 359.7h2.4v2.4h-2.4zM302.8 355.0h2.4v2.4h-2.4zM852.7 356.8h2.4v2.4h-2.4zM792.4 347.2h2.4v2.4h-2.4zM852.6 352.5h2.4v2.4h-2.4zM854.3 356.1h2.4v2.4h-2.4zM726.0 345.6h2.4v2.4h-2.4zM379.7 361.9h2.4v2.4h-2.4zM269.1 360.7h2.4v2.4h-2.4zM784.8 357.8h2.4v2.4h-2.4zM894.3 361.7h2.4v2.4h-2.4zM758.3 354.3h2.4v2.4h-2.4zM357.4 367.6h2.4v2.4h-2.4zM650.0 373.7h2.4v2.4h-2.4zM703.2 361.9h2.4v2.4h-2.4zM930.8 334.0h2.4v2.4h-2.4zM198.0 354.9h2.4v2.4h-2.4zM139.9 351.8h2.4v2.4h-2.4zM872.6 358.6h2.4v2.4h-2.4zM721.5 362.4h2.4v2.4h-2.4zM757.6 372.8h2.4v2.4h-2.4zM413.3 354.3h2.4v2.4h-2.4zM201.4 358.0h2.4v2.4h-2.4zM592.3 355.7h2.4v2.4h-2.4zM921.5 345.9h2.4v2.4h-2.4zM644.4 358.8h2.4v2.4h-2.4zM705.8 370.6h2.4v2.4h-2.4zM896.9 353.4h2.4v2.4h-2.4zM759.4 356.1h2.4v2.4h-2.4zM722.1 361.4h2.4v2.4h-2.4zM799.5 359.4h2.4v2.4h-2.4zM917.4 358.3h2.4v2.4h-2.4zM334.6 357.8h2.4v2.4h-2.4zM882.8 347.7h2.4v2.4h-2.4zM894.0 355.0h2.4v2.4h-2.4zM197.8 360.4h2.4v2.4h-2.4zM911.5 358.3h2.4v2.4h-2.4zM268.2 360.1h2.4v2.4h-2.4zM501.2 365.8h2.4v2.4h-2.4zM824.9 357.5h2.4v2.4h-2.4zM212.6 353.7h2.4v2.4h-2.4zM370.3 364.0h2.4v2.4h-2.4zM753.9 363.1h2.4v2.4h-2.4zM878.1 357.3h2.4v2.4h-2.4zM133.8 353.6h2.4v2.4h-2.4zM926.6 343.2h2.4v2.4h-2.4zM207.0 343.5h2.4v2.4h-2.4zM259.6 357.1h2.4v2.4h-2.4zM451.2 352.3h2.4v2.4h-2.4zM839.3 356.7h2.4v2.4h-2.4zM199.5 342.6h2.4v2.4h-2.4zM837.3 351.6h2.4v2.4h-2.4zM235.7 358.7h2.4v2.4h-2.4zM276.5 360.3h2.4v2.4h-2.4zM543.9 377.7h2.4v2.4h-2.4zM861.1 350.7h2.4v2.4h-2.4zM227.2 355.6h2.4v2.4h-2.4zM944.2 346.8h2.4v2.4h-2.4zM940.9 356.7h2.4v2.4h-2.4zM292.4 361.9h2.4v2.4h-2.4zM398.0 383.5h2.4v2.4h-2.4zM437.6 365.1h2.4v2.4h-2.4zM478.7 387.3h2.4v2.4h-2.4zM516.3 377.9h2.4v2.4h-2.4zM117.9 346.1h2.4v2.4h-2.4zM696.8 357.0h2.4v2.4h-2.4zM354.6 367.5h2.4v2.4h-2.4zM536.4 368.5h2.4v2.4h-2.4zM186.3 354.4h2.4v2.4h-2.4zM184.5 346.6h2.4v2.4h-2.4zM624.4 366.8h2.4v2.4h-2.4zM678.7 367.6h2.4v2.4h-2.4zM475.0 370.4h2.4v2.4h-2.4zM633.6 367.0h2.4v2.4h-2.4zM715.2 371.2h2.4v2.4h-2.4zM419.7 368.3h2.4v2.4h-2.4zM486.8 378.8h2.4v2.4h-2.4zM761.8 361.1h2.4v2.4h-2.4zM147.5 349.2h2.4v2.4h-2.4zM676.3 358.1h2.4v2.4h-2.4zM773.7 373.3h2.4v2.4h-2.4zM832.2 362.3h2.4v2.4h-2.4zM278.3 366.0h2.4v2.4h-2.4zM430.8 385.1h2.4v2.4h-2.4zM173.2 357.3h2.4v2.4h-2.4zM416.1 366.2h2.4v2.4h-2.4zM928.6 356.1h2.4v2.4h-2.4zM285.9 355.3h2.4v2.4h-2.4zM691.5 365.6h2.4v2.4h-2.4zM634.9 382.2h2.4v2.4h-2.4zM864.5 348.2h2.4v2.4h-2.4zM604.2 377.7h2.4v2.4h-2.4zM139.8 347.6h2.4v2.4h-2.4zM726.7 359.4h2.4v2.4h-2.4zM313.3 352.1h2.4v2.4h-2.4zM313.4 349.3h2.4v2.4h-2.4zM595.4 371.3h2.4v2.4h-2.4zM215.6 350.7h2.4v2.4h-2.4zM571.5 374.1h2.4v2.4h-2.4zM933.9 352.0h2.4v2.4h-2.4zM314.2 348.4h2.4v2.4h-2.4zM846.4 358.5h2.4v2.4h-2.4zM841.7 349.5h2.4v2.4h-2.4zM853.3 356.1h2.4v2.4h-2.4zM397.8 374.4h2.4v2.4h-2.4zM455.6 365.2h2.4v2.4h-2.4zM177.6 357.2h2.4v2.4h-2.4zM305.0 358.6h2.4v2.4h-2.4zM405.8 378.6h2.4v2.4h-2.4zM650.0 364.1h2.4v2.4h-2.4zM754.6 355.8h2.4v2.4h-2.4zM240.0 352.9h2.4v2.4h-2.4zM488.1 375.6h2.4v2.4h-2.4zM325.3 364.6h2.4v2.4h-2.4zM432.4 369.0h2.4v2.4h-2.4zM905.2 356.4h2.4v2.4h-2.4zM645.7 374.0h2.4v2.4h-2.4zM204.7 361.0h2.4v2.4h-2.4zM825.3 355.1h2.4v2.4h-2.4zM567.7 375.2h2.4v2.4h-2.4zM340.9 373.9h2.4v2.4h-2.4zM581.3 361.0h2.4v2.4h-2.4zM566.3 375.8h2.4v2.4h-2.4zM164.4 357.7h2.4v2.4h-2.4zM885.6 349.3h2.4v2.4h-2.4zM278.6 348.7h2.4v2.4h-2.4zM716.2 365.1h2.4v2.4h-2.4zM304.4 359.0h2.4v2.4h-2.4zM908.6 348.0h2.4v2.4h-2.4zM734.4 360.4h2.4v2.4h-2.4zM303.5 364.8h2.4v2.4h-2.4zM403.5 374.3h2.4v2.4h-2.4zM320.3 366.2h2.4v2.4h-2.4zM211.7 365.5h2.4v2.4h-2.4zM747.5 368.0h2.4v2.4h-2.4zM866.1 351.2h2.4v2.4h-2.4zM339.7 367.2h2.4v2.4h-2.4zM373.8 367.0h2.4v2.4h-2.4zM118.3 348.4h2.4v2.4h-2.4zM211.6 346.5h2.4v2.4h-2.4zM232.6 356.9h2.4v2.4h-2.4zM358.0 363.5h2.4v2.4h-2.4zM542.2 362.5h2.4v2.4h-2.4zM679.3 352.7h2.4v2.4h-2.4zM773.9 366.5h2.4v2.4h-2.4zM913.7 349.0h2.4v2.4h-2.4zM449.5 361.4h2.4v2.4h-2.4zM198.6 349.9h2.4v2.4h-2.4zM639.2 381.9h2.4v2.4h-2.4zM907.4 355.7h2.4v2.4h-2.4zM328.8 367.8h2.4v2.4h-2.4zM870.5 351.8h2.4v2.4h-2.4zM609.5 371.1h2.4v2.4h-2.4zM812.4 361.0h2.4v2.4h-2.4zM387.3 366.6h2.4v2.4h-2.4zM719.6 364.2h2.4v2.4h-2.4zM288.5 347.5h2.4v2.4h-2.4zM857.0 356.8h2.4v2.4h-2.4zM888.5 347.2h2.4v2.4h-2.4zM895.7 353.5h2.4v2.4h-2.4zM173.6 356.1h2.4v2.4h-2.4zM864.4 354.9h2.4v2.4h-2.4zM418.8 381.6h2.4v2.4h-2.4zM235.3 353.7h2.4v2.4h-2.4zM295.0 361.7h2.4v2.4h-2.4zM748.0 364.1h2.4v2.4h-2.4zM724.3 361.4h2.4v2.4h-2.4zM613.9 366.2h2.4v2.4h-2.4zM536.3 376.9h2.4v2.4h-2.4zM267.7 357.5h2.4v2.4h-2.4zM138.4 352.3h2.4v2.4h-2.4zM692.3 366.5h2.4v2.4h-2.4zM800.4 360.9h2.4v2.4h-2.4zM714.2 367.9h2.4v2.4h-2.4zM260.0 356.4h2.4v2.4h-2.4zM680.2 378.4h2.4v2.4h-2.4zM921.8 346.5h2.4v2.4h-2.4zM252.5 360.8h2.4v2.4h-2.4zM518.4 355.6h2.4v2.4h-2.4zM608.8 359.6h2.4v2.4h-2.4zM908.4 355.9h2.4v2.4h-2.4zM775.3 352.3h2.4v2.4h-2.4zM516.7 370.1h2.4v2.4h-2.4zM838.7 349.8h2.4v2.4h-2.4zM934.5 360.1h2.4v2.4h-2.4zM749.9 360.2h2.4v2.4h-2.4zM288.0 360.7h2.4v2.4h-2.4zM626.4 372.8h2.4v2.4h-2.4zM488.0 374.1h2.4v2.4h-2.4zM381.1 372.2h2.4v2.4h-2.4zM839.5 363.0h2.4v2.4h-2.4zM656.7 376.1h2.4v2.4h-2.4zM159.1 361.0h2.4v2.4h-2.4zM812.2 364.8h2.4v2.4h-2.4zM874.4 356.8h2.4v2.4h-2.4zM342.8 379.1h2.4v2.4h-2.4zM910.0 347.0h2.4v2.4h-2.4zM387.4 374.2h2.4v2.4h-2.4zM169.0 360.2h2.4v2.4h-2.4zM830.3 357.8h2.4v2.4h-2.4zM277.9 361.2h2.4v2.4h-2.4zM135.6 350.2h2.4v2.4h-2.4zM887.0 358.0h2.4v2.4h-2.4zM927.1 352.3h2.4v2.4h-2.4zM151.3 346.0h2.4v2.4h-2.4zM131.0 359.5h2.4v2.4h-2.4zM941.0 350.1h2.4v2.4h-2.4zM151.2 354.5h2.4v2.4h-2.4zM820.6 356.4h2.4v2.4h-2.4zM210.8 352.7h2.4v2.4h-2.4zM916.9 350.1h2.4v2.4h-2.4zM327.2 352.7h2.4v2.4h-2.4zM374.3 363.5h2.4v2.4h-2.4zM341.4 364.7h2.4v2.4h-2.4zM900.6 356.0h2.4v2.4h-2.4zM297.3 360.8h2.4v2.4h-2.4zM888.7 342.2h2.4v2.4h-2.4zM699.7 369.8h2.4v2.4h-2.4zM832.9 351.7h2.4v2.4h-2.4zM795.0 353.3h2.4v2.4h-2.4zM656.6 361.6h2.4v2.4h-2.4zM690.0 364.5h2.4v2.4h-2.4zM911.5 344.2h2.4v2.4h-2.4zM374.6 362.0h2.4v2.4h-2.4zM511.6 387.8h2.4v2.4h-2.4zM634.6 356.2h2.4v2.4h-2.4zM364.5 362.5h2.4v2.4h-2.4zM685.3 363.9h2.4v2.4h-2.4zM479.8 370.8h2.4v2.4h-2.4zM377.3 366.1h2.4v2.4h-2.4zM134.0 354.3h2.4v2.4h-2.4zM785.4 353.5h2.4v2.4h-2.4zM139.9 345.1h2.4v2.4h-2.4zM277.6 352.6h2.4v2.4h-2.4zM852.9 352.8h2.4v2.4h-2.4zM124.1 351.5h2.4v2.4h-2.4zM896.9 357.6h2.4v2.4h-2.4zM866.7 353.5h2.4v2.4h-2.4zM738.0 355.9h2.4v2.4h-2.4zM126.5 352.8h2.4v2.4h-2.4zM921.8 343.0h2.4v2.4h-2.4zM833.5 357.1h2.4v2.4h-2.4zM642.6 378.1h2.4v2.4h-2.4zM628.4 374.6h2.4v2.4h-2.4zM129.4 361.7h2.4v2.4h-2.4zM780.8 354.8h2.4v2.4h-2.4zM855.1 360.1h2.4v2.4h-2.4zM812.1 360.7h2.4v2.4h-2.4zM798.6 367.2h2.4v2.4h-2.4zM900.2 355.7h2.4v2.4h-2.4zM346.0 350.8h2.4v2.4h-2.4zM467.8 386.8h2.4v2.4h-2.4zM284.8 350.7h2.4v2.4h-2.4zM285.6 361.6h2.4v2.4h-2.4zM861.9 359.1h2.4v2.4h-2.4zM812.7 352.9h2.4v2.4h-2.4zM721.4 367.1h2.4v2.4h-2.4zM696.7 363.0h2.4v2.4h-2.4zM678.5 366.3h2.4v2.4h-2.4zM742.7 346.8h2.4v2.4h-2.4zM584.8 357.9h2.4v2.4h-2.4zM264.5 352.5h2.4v2.4h-2.4zM154.5 340.7h2.4v2.4h-2.4zM845.8 353.3h2.4v2.4h-2.4zM159.2 350.3h2.4v2.4h-2.4zM187.6 354.4h2.4v2.4h-2.4zM744.8 359.4h2.4v2.4h-2.4zM660.0 380.9h2.4v2.4h-2.4zM324.2 365.0h2.4v2.4h-2.4zM306.0 352.7h2.4v2.4h-2.4zM343.6 359.9h2.4v2.4h-2.4zM236.1 355.5h2.4v2.4h-2.4zM656.6 367.1h2.4v2.4h-2.4zM123.5 354.5h2.4v2.4h-2.4zM127.2 340.5h2.4v2.4h-2.4zM406.4 360.0h2.4v2.4h-2.4zM737.2 367.0h2.4v2.4h-2.4zM796.0 356.5h2.4v2.4h-2.4zM454.1 376.8h2.4v2.4h-2.4zM907.3 352.6h2.4v2.4h-2.4zM871.9 349.2h2.4v2.4h-2.4zM468.2 360.8h2.4v2.4h-2.4zM312.8 360.6h2.4v2.4h-2.4zM833.2 359.8h2.4v2.4h-2.4zM627.6 348.5h2.4v2.4h-2.4zM773.9 355.2h2.4v2.4h-2.4zM712.2 364.5h2.4v2.4h-2.4zM166.6 357.8h2.4v2.4h-2.4zM821.7 354.6h2.4v2.4h-2.4zM887.8 356.3h2.4v2.4h-2.4zM799.1 352.2h2.4v2.4h-2.4zM650.8 353.0h2.4v2.4h-2.4zM271.4 356.1h2.4v2.4h-2.4zM865.6 347.6h2.4v2.4h-2.4zM118.6 341.2h2.4v2.4h-2.4zM876.6 350.2h2.4v2.4h-2.4zM598.7 371.2h2.4v2.4h-2.4zM382.0 370.8h2.4v2.4h-2.4zM524.9 384.0h2.4v2.4h-2.4zM216.2 347.5h2.4v2.4h-2.4zM698.0 376.4h2.4v2.4h-2.4zM716.7 362.1h2.4v2.4h-2.4zM367.7 377.9h2.4v2.4h-2.4zM363.6 369.6h2.4v2.4h-2.4zM574.2 371.8h2.4v2.4h-2.4zM214.8 357.2h2.4v2.4h-2.4zM645.0 373.0h2.4v2.4h-2.4zM176.8 356.4h2.4v2.4h-2.4zM783.5 362.0h2.4v2.4h-2.4zM517.7 380.0h2.4v2.4h-2.4zM282.4 366.6h2.4v2.4h-2.4zM156.7 347.2h2.4v2.4h-2.4zM677.7 369.3h2.4v2.4h-2.4zM630.1 400.2h2.4v2.4h-2.4zM285.8 367.6h2.4v2.4h-2.4zM794.6 353.5h2.4v2.4h-2.4zM730.5 360.0h2.4v2.4h-2.4zM216.1 349.9h2.4v2.4h-2.4zM199.0 345.3h2.4v2.4h-2.4zM115.4 349.0h2.4v2.4h-2.4zM221.0 346.8h2.4v2.4h-2.4zM628.6 379.9h2.4v2.4h-2.4zM919.3 347.9h2.4v2.4h-2.4zM272.6 360.5h2.4v2.4h-2.4zM580.4 376.2h2.4v2.4h-2.4zM764.9 353.4h2.4v2.4h-2.4zM222.9 343.7h2.4v2.4h-2.4zM604.1 373.4h2.4v2.4h-2.4zM749.3 363.6h2.4v2.4h-2.4zM907.3 344.6h2.4v2.4h-2.4zM754.9 356.3h2.4v2.4h-2.4zM942.3 343.3h2.4v2.4h-2.4zM585.4 366.2h2.4v2.4h-2.4zM161.5 357.9h2.4v2.4h-2.4zM198.7 351.8h2.4v2.4h-2.4zM449.8 372.1h2.4v2.4h-2.4zM696.7 362.0h2.4v2.4h-2.4zM669.3 367.1h2.4v2.4h-2.4zM280.4 360.0h2.4v2.4h-2.4zM386.5 378.4h2.4v2.4h-2.4zM115.1 353.0h2.4v2.4h-2.4zM396.4 378.3h2.4v2.4h-2.4zM216.8 354.8h2.4v2.4h-2.4zM119.2 351.6h2.4v2.4h-2.4zM651.0 375.1h2.4v2.4h-2.4zM645.6 364.3h2.4v2.4h-2.4zM700.2 360.0h2.4v2.4h-2.4zM677.5 369.0h2.4v2.4h-2.4zM277.0 352.9h2.4v2.4h-2.4zM207.7 359.7h2.4v2.4h-2.4zM184.1 349.8h2.4v2.4h-2.4zM307.9 366.0h2.4v2.4h-2.4zM486.0 377.1h2.4v2.4h-2.4zM893.9 350.9h2.4v2.4h-2.4zM809.8 356.7h2.4v2.4h-2.4zM304.7 356.9h2.4v2.4h-2.4zM508.4 363.4h2.4v2.4h-2.4zM173.2 347.7h2.4v2.4h-2.4zM185.2 354.9h2.4v2.4h-2.4zM636.6 368.9h2.4v2.4h-2.4zM117.6 354.9h2.4v2.4h-2.4zM802.7 350.4h2.4v2.4h-2.4zM325.2 355.1h2.4v2.4h-2.4zM933.5 343.3h2.4v2.4h-2.4zM880.4 344.7h2.4v2.4h-2.4zM395.9 362.4h2.4v2.4h-2.4zM392.8 368.5h2.4v2.4h-2.4zM373.5 365.9h2.4v2.4h-2.4zM936.7 349.6h2.4v2.4h-2.4zM308.9 347.5h2.4v2.4h-2.4zM269.1 354.4h2.4v2.4h-2.4zM630.6 362.4h2.4v2.4h-2.4zM784.1 359.2h2.4v2.4h-2.4zM206.8 351.5h2.4v2.4h-2.4zM462.5 360.0h2.4v2.4h-2.4zM329.9 361.2h2.4v2.4h-2.4zM262.9 362.4h2.4v2.4h-2.4zM246.9 356.3h2.4v2.4h-2.4zM250.2 355.9h2.4v2.4h-2.4zM294.8 363.3h2.4v2.4h-2.4zM705.0 365.9h2.4v2.4h-2.4zM829.5 359.7h2.4v2.4h-2.4zM768.2 368.7h2.4v2.4h-2.4zM883.3 349.5h2.4v2.4h-2.4zM746.5 360.0h2.4v2.4h-2.4zM335.6 365.1h2.4v2.4h-2.4zM356.2 359.9h2.4v2.4h-2.4zM144.4 347.1h2.4v2.4h-2.4zM427.1 376.4h2.4v2.4h-2.4zM673.5 385.1h2.4v2.4h-2.4zM389.1 376.8h2.4v2.4h-2.4zM189.4 355.1h2.4v2.4h-2.4zM393.3 370.1h2.4v2.4h-2.4zM809.3 355.3h2.4v2.4h-2.4zM739.8 363.0h2.4v2.4h-2.4zM196.8 358.4h2.4v2.4h-2.4zM440.9 367.8h2.4v2.4h-2.4zM657.8 384.5h2.4v2.4h-2.4zM209.0 368.6h2.4v2.4h-2.4zM162.2 347.7h2.4v2.4h-2.4zM471.0 362.8h2.4v2.4h-2.4zM858.1 350.8h2.4v2.4h-2.4zM344.0 367.9h2.4v2.4h-2.4zM867.1 349.5h2.4v2.4h-2.4zM874.4 360.4h2.4v2.4h-2.4zM154.3 352.1h2.4v2.4h-2.4zM117.8 346.9h2.4v2.4h-2.4zM349.8 360.8h2.4v2.4h-2.4zM369.4 366.5h2.4v2.4h-2.4zM202.0 349.6h2.4v2.4h-2.4zM569.9 361.3h2.4v2.4h-2.4zM839.1 358.9h2.4v2.4h-2.4zM360.3 369.5h2.4v2.4h-2.4zM405.3 382.1h2.4v2.4h-2.4zM896.8 361.6h2.4v2.4h-2.4zM913.7 350.1h2.4v2.4h-2.4zM844.4 356.1h2.4v2.4h-2.4zM298.9 361.0h2.4v2.4h-2.4zM614.0 388.2h2.4v2.4h-2.4zM300.1 361.4h2.4v2.4h-2.4zM281.5 357.3h2.4v2.4h-2.4zM866.3 356.6h2.4v2.4h-2.4zM793.4 358.4h2.4v2.4h-2.4zM185.9 350.5h2.4v2.4h-2.4zM797.5 350.9h2.4v2.4h-2.4zM197.8 355.6h2.4v2.4h-2.4zM689.4 379.0h2.4v2.4h-2.4zM120.7 356.5h2.4v2.4h-2.4zM159.3 355.4h2.4v2.4h-2.4zM937.9 356.6h2.4v2.4h-2.4zM512.4 366.2h2.4v2.4h-2.4zM145.1 361.2h2.4v2.4h-2.4zM350.5 364.9h2.4v2.4h-2.4zM929.5 350.8h2.4v2.4h-2.4zM151.4 356.0h2.4v2.4h-2.4zM420.3 361.8h2.4v2.4h-2.4zM146.2 359.2h2.4v2.4h-2.4zM653.0 366.9h2.4v2.4h-2.4zM246.9 344.2h2.4v2.4h-2.4zM865.4 352.4h2.4v2.4h-2.4zM372.7 367.5h2.4v2.4h-2.4zM811.8 360.0h2.4v2.4h-2.4zM673.7 363.5h2.4v2.4h-2.4zM270.5 354.1h2.4v2.4h-2.4zM374.6 373.8h2.4v2.4h-2.4zM782.5 350.7h2.4v2.4h-2.4zM814.4 356.0h2.4v2.4h-2.4zM812.0 352.4h2.4v2.4h-2.4zM759.4 360.4h2.4v2.4h-2.4zM307.5 351.5h2.4v2.4h-2.4zM189.4 354.8h2.4v2.4h-2.4zM727.7 361.7h2.4v2.4h-2.4zM123.3 358.0h2.4v2.4h-2.4zM439.6 362.7h2.4v2.4h-2.4zM867.3 356.9h2.4v2.4h-2.4zM207.7 359.5h2.4v2.4h-2.4zM119.3 352.6h2.4v2.4h-2.4zM124.2 357.5h2.4v2.4h-2.4zM675.4 369.6h2.4v2.4h-2.4zM471.9 372.2h2.4v2.4h-2.4zM708.3 371.5h2.4v2.4h-2.4zM159.1 345.8h2.4v2.4h-2.4zM125.9 347.3h2.4v2.4h-2.4zM217.5 349.2h2.4v2.4h-2.4zM902.6 357.3h2.4v2.4h-2.4zM282.4 362.6h2.4v2.4h-2.4zM598.1 386.6h2.4v2.4h-2.4zM550.8 382.1h2.4v2.4h-2.4zM394.6 363.5h2.4v2.4h-2.4zM769.9 362.7h2.4v2.4h-2.4zM920.1 353.0h2.4v2.4h-2.4zM198.4 349.1h2.4v2.4h-2.4zM349.9 372.7h2.4v2.4h-2.4zM746.9 374.8h2.4v2.4h-2.4zM728.9 367.4h2.4v2.4h-2.4zM361.7 366.1h2.4v2.4h-2.4zM133.6 353.7h2.4v2.4h-2.4zM155.2 350.4h2.4v2.4h-2.4zM332.5 357.6h2.4v2.4h-2.4zM370.7 365.9h2.4v2.4h-2.4zM177.7 349.4h2.4v2.4h-2.4zM847.9 354.6h2.4v2.4h-2.4zM191.4 347.6h2.4v2.4h-2.4zM713.8 367.7h2.4v2.4h-2.4zM212.9 348.4h2.4v2.4h-2.4zM772.8 360.8h2.4v2.4h-2.4zM705.8 363.8h2.4v2.4h-2.4zM414.2 370.9h2.4v2.4h-2.4zM348.9 362.6h2.4v2.4h-2.4zM283.4 362.8h2.4v2.4h-2.4zM309.3 372.1h2.4v2.4h-2.4zM298.1 361.0h2.4v2.4h-2.4zM895.9 356.6h2.4v2.4h-2.4zM270.6 350.6h2.4v2.4h-2.4zM448.4 373.2h2.4v2.4h-2.4zM318.2 357.2h2.4v2.4h-2.4zM561.4 386.0h2.4v2.4h-2.4zM173.2 348.0h2.4v2.4h-2.4zM205.8 350.1h2.4v2.4h-2.4zM818.8 362.5h2.4v2.4h-2.4zM926.2 357.6h2.4v2.4h-2.4zM280.1 358.2h2.4v2.4h-2.4zM921.5 356.3h2.4v2.4h-2.4zM629.1 359.3h2.4v2.4h-2.4zM449.7 379.6h2.4v2.4h-2.4zM183.8 343.7h2.4v2.4h-2.4zM161.4 352.4h2.4v2.4h-2.4zM900.3 348.4h2.4v2.4h-2.4zM692.2 373.5h2.4v2.4h-2.4zM783.2 369.2h2.4v2.4h-2.4zM294.5 368.5h2.4v2.4h-2.4zM330.1 361.6h2.4v2.4h-2.4zM776.3 357.4h2.4v2.4h-2.4zM300.5 360.9h2.4v2.4h-2.4zM257.7 358.9h2.4v2.4h-2.4zM891.0 360.7h2.4v2.4h-2.4zM567.4 372.6h2.4v2.4h-2.4zM563.6 372.0h2.4v2.4h-2.4zM205.2 361.3h2.4v2.4h-2.4zM151.0 352.8h2.4v2.4h-2.4zM366.6 369.6h2.4v2.4h-2.4zM238.4 353.8h2.4v2.4h-2.4zM904.1 353.0h2.4v2.4h-2.4zM460.2 357.6h2.4v2.4h-2.4zM786.4 359.8h2.4v2.4h-2.4zM616.3 367.8h2.4v2.4h-2.4zM780.9 350.1h2.4v2.4h-2.4zM879.0 346.9h2.4v2.4h-2.4zM784.8 357.7h2.4v2.4h-2.4zM520.3 379.9h2.4v2.4h-2.4zM171.2 352.1h2.4v2.4h-2.4zM827.4 354.5h2.4v2.4h-2.4zM651.9 374.6h2.4v2.4h-2.4zM807.6 356.3h2.4v2.4h-2.4zM147.6 353.8h2.4v2.4h-2.4zM847.6 347.4h2.4v2.4h-2.4zM527.4 382.0h2.4v2.4h-2.4zM252.2 351.7h2.4v2.4h-2.4zM664.6 367.1h2.4v2.4h-2.4zM695.5 362.9h2.4v2.4h-2.4zM756.2 368.2h2.4v2.4h-2.4zM220.6 359.4h2.4v2.4h-2.4zM500.0 383.0h2.4v2.4h-2.4zM750.5 355.5h2.4v2.4h-2.4zM799.8 354.6h2.4v2.4h-2.4zM242.3 354.0h2.4v2.4h-2.4zM403.8 362.5h2.4v2.4h-2.4zM200.2 352.0h2.4v2.4h-2.4zM575.7 373.6h2.4v2.4h-2.4zM424.9 372.2h2.4v2.4h-2.4zM743.4 352.7h2.4v2.4h-2.4zM852.7 356.2h2.4v2.4h-2.4zM766.1 360.3h2.4v2.4h-2.4zM195.4 352.5h2.4v2.4h-2.4zM145.7 347.4h2.4v2.4h-2.4zM120.3 348.2h2.4v2.4h-2.4zM733.8 366.2h2.4v2.4h-2.4zM931.1 344.0h2.4v2.4h-2.4zM864.5 353.5h2.4v2.4h-2.4zM424.0 375.1h2.4v2.4h-2.4zM794.9 359.6h2.4v2.4h-2.4zM908.3 351.0h2.4v2.4h-2.4zM383.8 373.8h2.4v2.4h-2.4zM290.7 364.1h2.4v2.4h-2.4zM477.7 380.2h2.4v2.4h-2.4z"/><path stroke="#fac435" d="M397.7 378.0h2.4v2.4h-2.4zM432.1 368.6h2.4v2.4h-2.4zM499.5 378.4h2.4v2.4h-2.4zM629.9 370.9h2.4v2.4h-2.4zM814.1 363.8h2.4v2.4h-2.4zM568.6 372.0h2.4v2.4h-2.4zM423.8 380.5h2.4v2.4h-2.4zM297.0 374.5h2.4v2.4h-2.4zM788.9 361.6h2.4v2.4h-2.4zM740.4 366.1h2.4v2.4h-2.4zM195.2 369.3h2.4v2.4h-2.4zM693.0 373.4h2.4v2.4h-2.4zM461.0 369.4h2.4v2.4h-2.4zM767.3 370.6h2.4v2.4h-2.4zM769.7 362.9h2.4v2.4h-2.4zM438.5 373.8h2.4v2.4h-2.4zM379.8 366.1h2.4v2.4h-2.4zM453.2 368.9h2.4v2.4h-2.4zM862.2 367.2h2.4v2.4h-2.4zM554.2 375.9h2.4v2.4h-2.4zM841.0 371.4h2.4v2.4h-2.4zM229.6 373.3h2.4v2.4h-2.4zM750.7 369.0h2.4v2.4h-2.4zM140.9 365.9h2.4v2.4h-2.4zM703.4 367.7h2.4v2.4h-2.4zM599.4 374.3h2.4v2.4h-2.4zM533.1 374.6h2.4v2.4h-2.4zM444.6 378.4h2.4v2.4h-2.4zM455.9 359.2h2.4v2.4h-2.4zM907.6 373.1h2.4v2.4h-2.4zM620.9 368.1h2.4v2.4h-2.4zM404.8 380.4h2.4v2.4h-2.4zM834.7 360.2h2.4v2.4h-2.4zM704.1 362.2h2.4v2.4h-2.4zM440.5 381.1h2.4v2.4h-2.4zM289.7 364.6h2.4v2.4h-2.4zM444.3 371.7h2.4v2.4h-2.4zM691.5 372.6h2.4v2.4h-2.4zM336.9 371.2h2.4v2.4h-2.4zM547.6 377.9h2.4v2.4h-2.4zM536.9 376.5h2.4v2.4h-2.4zM455.8 382.9h2.4v2.4h-2.4zM604.3 377.0h2.4v2.4h-2.4zM494.5 368.9h2.4v2.4h-2.4zM528.3 370.0h2.4v2.4h-2.4zM458.4 372.0h2.4v2.4h-2.4zM272.7 369.1h2.4v2.4h-2.4zM209.6 360.9h2.4v2.4h-2.4zM679.6 357.4h2.4v2.4h-2.4zM366.1 367.1h2.4v2.4h-2.4zM488.7 360.5h2.4v2.4h-2.4zM407.5 383.9h2.4v2.4h-2.4zM503.5 377.4h2.4v2.4h-2.4zM500.8 370.8h2.4v2.4h-2.4zM171.7 358.4h2.4v2.4h-2.4zM879.2 367.0h2.4v2.4h-2.4zM491.2 376.3h2.4v2.4h-2.4zM263.6 370.6h2.4v2.4h-2.4zM292.6 370.5h2.4v2.4h-2.4zM289.3 371.3h2.4v2.4h-2.4zM379.8 369.7h2.4v2.4h-2.4zM245.0 362.8h2.4v2.4h-2.4zM884.7 364.9h2.4v2.4h-2.4zM288.2 367.6h2.4v2.4h-2.4zM682.6 374.1h2.4v2.4h-2.4zM624.8 370.9h2.4v2.4h-2.4zM641.7 370.8h2.4v2.4h-2.4zM446.0 369.2h2.4v2.4h-2.4zM790.6 360.2h2.4v2.4h-2.4zM628.9 370.3h2.4v2.4h-2.4zM341.0 369.3h2.4v2.4h-2.4zM895.3 369.1h2.4v2.4h-2.4zM429.4 374.2h2.4v2.4h-2.4zM279.1 363.3h2.4v2.4h-2.4zM378.6 375.0h2.4v2.4h-2.4zM624.4 364.8h2.4v2.4h-2.4zM526.8 368.0h2.4v2.4h-2.4zM690.2 372.3h2.4v2.4h-2.4zM334.6 366.2h2.4v2.4h-2.4zM762.8 368.4h2.4v2.4h-2.4zM329.0 371.9h2.4v2.4h-2.4zM820.9 357.3h2.4v2.4h-2.4zM595.5 375.0h2.4v2.4h-2.4zM712.6 365.0h2.4v2.4h-2.4zM193.2 365.2h2.4v2.4h-2.4zM770.3 371.9h2.4v2.4h-2.4zM540.7 368.3h2.4v2.4h-2.4zM457.5 375.7h2.4v2.4h-2.4zM564.4 388.9h2.4v2.4h-2.4zM859.3 361.2h2.4v2.4h-2.4zM815.0 366.7h2.4v2.4h-2.4zM725.2 365.5h2.4v2.4h-2.4zM280.1 361.6h2.4v2.4h-2.4zM196.0 369.3h2.4v2.4h-2.4zM853.8 371.8h2.4v2.4h-2.4zM416.6 380.6h2.4v2.4h-2.4zM369.8 371.8h2.4v2.4h-2.4zM890.7 361.3h2.4v2.4h-2.4zM205.4 367.3h2.4v2.4h-2.4zM294.7 362.1h2.4v2.4h-2.4zM347.0 379.5h2.4v2.4h-2.4zM620.5 376.2h2.4v2.4h-2.4zM649.8 363.7h2.4v2.4h-2.4zM537.3 374.9h2.4v2.4h-2.4zM250.8 366.0h2.4v2.4h-2.4zM493.2 366.0h2.4v2.4h-2.4zM815.4 360.0h2.4v2.4h-2.4zM645.5 369.6h2.4v2.4h-2.4zM615.4 375.7h2.4v2.4h-2.4zM275.0 366.7h2.4v2.4h-2.4zM553.7 367.9h2.4v2.4h-2.4zM115.8 364.4h2.4v2.4h-2.4zM516.5 372.0h2.4v2.4h-2.4zM547.1 375.6h2.4v2.4h-2.4zM281.1 366.6h2.4v2.4h-2.4zM507.0 370.8h2.4v2.4h-2.4zM918.4 367.2h2.4v2.4h-2.4zM382.2 374.5h2.4v2.4h-2.4zM209.6 368.7h2.4v2.4h-2.4zM565.6 370.3h2.4v2.4h-2.4zM619.3 372.8h2.4v2.4h-2.4zM140.2 363.7h2.4v2.4h-2.4zM504.8 372.0h2.4v2.4h-2.4zM723.2 369.6h2.4v2.4h-2.4zM503.6 383.8h2.4v2.4h-2.4zM403.4 387.8h2.4v2.4h-2.4zM672.1 372.8h2.4v2.4h-2.4zM405.6 371.2h2.4v2.4h-2.4zM135.0 363.2h2.4v2.4h-2.4zM237.4 368.9h2.4v2.4h-2.4zM400.1 367.3h2.4v2.4h-2.4zM439.6 371.4h2.4v2.4h-2.4zM695.3 363.2h2.4v2.4h-2.4zM502.5 368.8h2.4v2.4h-2.4zM456.9 368.8h2.4v2.4h-2.4zM882.3 360.2h2.4v2.4h-2.4zM414.8 374.5h2.4v2.4h-2.4zM443.4 359.4h2.4v2.4h-2.4zM467.3 372.6h2.4v2.4h-2.4zM319.1 374.6h2.4v2.4h-2.4zM590.6 373.3h2.4v2.4h-2.4zM588.3 371.1h2.4v2.4h-2.4zM524.2 363.9h2.4v2.4h-2.4zM364.3 369.0h2.4v2.4h-2.4zM509.3 378.8h2.4v2.4h-2.4zM432.0 384.8h2.4v2.4h-2.4zM496.5 378.4h2.4v2.4h-2.4zM623.6 369.4h2.4v2.4h-2.4zM588.3 377.2h2.4v2.4h-2.4zM415.4 365.6h2.4v2.4h-2.4zM604.1 366.4h2.4v2.4h-2.4zM664.2 364.1h2.4v2.4h-2.4zM640.5 372.9h2.4v2.4h-2.4zM588.8 388.5h2.4v2.4h-2.4zM773.5 367.0h2.4v2.4h-2.4zM931.4 366.3h2.4v2.4h-2.4zM860.6 367.8h2.4v2.4h-2.4zM272.6 368.7h2.4v2.4h-2.4zM607.7 372.7h2.4v2.4h-2.4zM351.9 379.5h2.4v2.4h-2.4zM573.6 370.4h2.4v2.4h-2.4zM343.9 368.3h2.4v2.4h-2.4zM408.3 364.9h2.4v2.4h-2.4zM503.8 362.2h2.4v2.4h-2.4zM282.1 371.6h2.4v2.4h-2.4zM652.9 363.1h2.4v2.4h-2.4zM388.4 376.7h2.4v2.4h-2.4zM247.1 359.9h2.4v2.4h-2.4zM730.6 369.8h2.4v2.4h-2.4zM829.0 367.5h2.4v2.4h-2.4zM748.4 370.1h2.4v2.4h-2.4zM659.2 374.6h2.4v2.4h-2.4zM570.6 362.4h2.4v2.4h-2.4zM852.7 362.3h2.4v2.4h-2.4zM419.7 374.9h2.4v2.4h-2.4zM661.1 365.7h2.4v2.4h-2.4zM517.7 369.8h2.4v2.4h-2.4zM349.5 370.3h2.4v2.4h-2.4zM519.0 359.5h2.4v2.4h-2.4zM656.5 371.5h2.4v2.4h-2.4zM871.2 365.1h2.4v2.4h-2.4zM231.8 364.9h2.4v2.4h-2.4zM822.4 366.9h2.4v2.4h-2.4zM540.9 361.5h2.4v2.4h-2.4zM343.2 355.9h2.4v2.4h-2.4zM399.0 367.5h2.4v2.4h-2.4zM871.9 360.5h2.4v2.4h-2.4zM572.3 380.7h2.4v2.4h-2.4zM629.7 371.4h2.4v2.4h-2.4zM934.0 365.1h2.4v2.4h-2.4zM826.9 367.6h2.4v2.4h-2.4zM727.3 367.9h2.4v2.4h-2.4zM457.2 378.6h2.4v2.4h-2.4zM599.2 375.0h2.4v2.4h-2.4zM433.9 377.9h2.4v2.4h-2.4zM735.0 374.5h2.4v2.4h-2.4zM305.1 361.5h2.4v2.4h-2.4zM597.6 369.7h2.4v2.4h-2.4z"/><path stroke="#2eb7a4" d="M794.4 369.6h2.4v2.4h-2.4zM673.4 367.8h2.4v2.4h-2.4zM351.0 372.6h2.4v2.4h-2.4zM283.0 369.0h2.4v2.4h-2.4zM121.3 367.0h2.4v2.4h-2.4zM715.8 368.2h2.4v2.4h-2.4zM325.9 365.5h2.4v2.4h-2.4zM704.8 371.8h2.4v2.4h-2.4zM382.4 375.1h2.4v2.4h-2.4zM115.0 369.2h2.4v2.4h-2.4zM493.4 374.2h2.4v2.4h-2.4z"/><path stroke="#1f7fd9" d="M242.1 368.3h2.4v2.4h-2.4zM922.7 362.6h2.4v2.4h-2.4zM215.8 373.7h2.4v2.4h-2.4zM831.2 363.9h2.4v2.4h-2.4zM863.1 369.4h2.4v2.4h-2.4zM691.0 368.2h2.4v2.4h-2.4zM330.7 367.7h2.4v2.4h-2.4zM508.7 378.0h2.4v2.4h-2.4z"/><path stroke="#fbf30c" d="M693.5 380.5h2.4v2.4h-2.4zM690.9 372.6h2.4v2.4h-2.4zM656.4 367.0h2.4v2.4h-2.4zM497.9 368.1h2.4v2.4h-2.4zM162.3 371.6h2.4v2.4h-2.4zM620.6 369.5h2.4v2.4h-2.4zM588.9 367.2h2.4v2.4h-2.4zM880.0 367.4h2.4v2.4h-2.4zM542.6 365.5h2.4v2.4h-2.4zM327.9 364.8h2.4v2.4h-2.4zM410.2 360.5h2.4v2.4h-2.4zM284.7 367.7h2.4v2.4h-2.4zM782.9 373.4h2.4v2.4h-2.4zM380.1 372.0h2.4v2.4h-2.4zM463.6 382.7h2.4v2.4h-2.4zM573.1 357.8h2.4v2.4h-2.4zM904.5 358.4h2.4v2.4h-2.4zM433.7 372.0h2.4v2.4h-2.4zM538.2 379.0h2.4v2.4h-2.4zM545.3 373.0h2.4v2.4h-2.4zM229.7 362.1h2.4v2.4h-2.4zM130.8 362.3h2.4v2.4h-2.4zM702.4 372.9h2.4v2.4h-2.4zM505.4 373.5h2.4v2.4h-2.4zM633.6 369.3h2.4v2.4h-2.4zM325.7 373.9h2.4v2.4h-2.4zM391.5 375.7h2.4v2.4h-2.4zM858.3 365.5h2.4v2.4h-2.4zM535.5 361.5h2.4v2.4h-2.4zM873.6 364.1h2.4v2.4h-2.4zM774.7 365.2h2.4v2.4h-2.4zM650.2 362.7h2.4v2.4h-2.4zM548.0 378.6h2.4v2.4h-2.4zM133.7 367.9h2.4v2.4h-2.4zM307.7 371.2h2.4v2.4h-2.4zM615.2 361.4h2.4v2.4h-2.4zM585.0 354.8h2.4v2.4h-2.4zM604.1 377.2h2.4v2.4h-2.4zM524.0 361.2h2.4v2.4h-2.4zM521.5 370.6h2.4v2.4h-2.4zM235.7 373.2h2.4v2.4h-2.4zM337.0 369.7h2.4v2.4h-2.4zM153.2 369.4h2.4v2.4h-2.4zM608.1 381.6h2.4v2.4h-2.4zM496.0 359.8h2.4v2.4h-2.4zM413.1 372.9h2.4v2.4h-2.4zM242.3 366.0h2.4v2.4h-2.4zM530.5 377.7h2.4v2.4h-2.4zM437.9 374.2h2.4v2.4h-2.4zM158.1 362.6h2.4v2.4h-2.4zM584.7 373.3h2.4v2.4h-2.4zM288.1 362.3h2.4v2.4h-2.4zM816.8 364.8h2.4v2.4h-2.4zM295.0 369.9h2.4v2.4h-2.4zM183.0 369.1h2.4v2.4h-2.4zM305.2 371.0h2.4v2.4h-2.4zM687.3 364.7h2.4v2.4h-2.4zM766.7 361.3h2.4v2.4h-2.4zM395.2 369.0h2.4v2.4h-2.4zM141.0 365.7h2.4v2.4h-2.4zM901.0 368.1h2.4v2.4h-2.4zM647.3 374.5h2.4v2.4h-2.4zM417.1 374.4h2.4v2.4h-2.4zM647.6 371.9h2.4v2.4h-2.4zM440.0 374.5h2.4v2.4h-2.4zM433.7 376.4h2.4v2.4h-2.4zM505.7 385.3h2.4v2.4h-2.4zM344.9 372.0h2.4v2.4h-2.4zM429.0 377.5h2.4v2.4h-2.4zM853.3 361.7h2.4v2.4h-2.4zM211.7 367.1h2.4v2.4h-2.4zM557.9 373.3h2.4v2.4h-2.4zM576.1 364.2h2.4v2.4h-2.4zM435.4 373.8h2.4v2.4h-2.4zM259.5 362.4h2.4v2.4h-2.4zM817.5 362.2h2.4v2.4h-2.4zM407.8 364.4h2.4v2.4h-2.4zM911.5 356.6h2.4v2.4h-2.4zM201.9 356.8h2.4v2.4h-2.4zM368.8 368.5h2.4v2.4h-2.4zM356.8 364.4h2.4v2.4h-2.4zM354.1 362.3h2.4v2.4h-2.4zM492.3 370.4h2.4v2.4h-2.4zM401.3 374.2h2.4v2.4h-2.4zM283.7 361.9h2.4v2.4h-2.4zM508.7 363.2h2.4v2.4h-2.4zM397.9 367.3h2.4v2.4h-2.4zM748.2 374.5h2.4v2.4h-2.4zM435.6 371.1h2.4v2.4h-2.4zM417.0 364.9h2.4v2.4h-2.4zM456.5 369.3h2.4v2.4h-2.4zM703.5 361.7h2.4v2.4h-2.4zM442.7 373.9h2.4v2.4h-2.4zM517.8 372.8h2.4v2.4h-2.4zM306.8 368.7h2.4v2.4h-2.4zM565.5 367.5h2.4v2.4h-2.4zM381.6 366.2h2.4v2.4h-2.4zM845.7 361.6h2.4v2.4h-2.4zM308.5 368.3h2.4v2.4h-2.4zM309.5 364.0h2.4v2.4h-2.4zM378.8 369.3h2.4v2.4h-2.4zM586.7 363.1h2.4v2.4h-2.4zM710.9 380.9h2.4v2.4h-2.4zM390.7 366.4h2.4v2.4h-2.4zM435.5 369.6h2.4v2.4h-2.4zM743.6 370.6h2.4v2.4h-2.4zM434.5 370.0h2.4v2.4h-2.4zM603.9 374.5h2.4v2.4h-2.4zM804.0 363.3h2.4v2.4h-2.4zM341.6 364.1h2.4v2.4h-2.4zM840.4 366.0h2.4v2.4h-2.4zM820.3 369.0h2.4v2.4h-2.4zM424.1 369.4h2.4v2.4h-2.4zM750.1 359.5h2.4v2.4h-2.4zM154.7 364.8h2.4v2.4h-2.4zM635.1 369.6h2.4v2.4h-2.4zM881.0 362.4h2.4v2.4h-2.4zM454.5 371.2h2.4v2.4h-2.4zM604.5 378.6h2.4v2.4h-2.4zM229.3 363.8h2.4v2.4h-2.4zM704.6 372.0h2.4v2.4h-2.4zM499.5 375.6h2.4v2.4h-2.4zM267.6 357.9h2.4v2.4h-2.4zM529.4 369.2h2.4v2.4h-2.4zM619.8 371.6h2.4v2.4h-2.4zM434.3 363.0h2.4v2.4h-2.4zM367.7 369.9h2.4v2.4h-2.4zM467.2 368.4h2.4v2.4h-2.4zM517.3 366.8h2.4v2.4h-2.4zM451.3 366.8h2.4v2.4h-2.4zM698.3 373.6h2.4v2.4h-2.4zM581.2 367.4h2.4v2.4h-2.4zM534.3 370.6h2.4v2.4h-2.4zM523.4 351.5h2.4v2.4h-2.4zM460.4 360.1h2.4v2.4h-2.4zM287.8 361.5h2.4v2.4h-2.4zM517.2 377.4h2.4v2.4h-2.4zM489.6 372.7h2.4v2.4h-2.4zM850.4 360.6h2.4v2.4h-2.4zM665.6 367.3h2.4v2.4h-2.4zM428.4 375.0h2.4v2.4h-2.4zM718.1 375.5h2.4v2.4h-2.4zM162.8 365.7h2.4v2.4h-2.4zM226.2 365.2h2.4v2.4h-2.4zM734.7 366.8h2.4v2.4h-2.4zM831.4 365.1h2.4v2.4h-2.4zM561.6 375.8h2.4v2.4h-2.4zM155.8 363.1h2.4v2.4h-2.4zM712.1 374.9h2.4v2.4h-2.4zM210.2 364.2h2.4v2.4h-2.4zM666.7 362.3h2.4v2.4h-2.4zM883.6 366.6h2.4v2.4h-2.4zM555.3 379.2h2.4v2.4h-2.4zM789.1 364.1h2.4v2.4h-2.4zM460.8 363.3h2.4v2.4h-2.4zM317.7 366.0h2.4v2.4h-2.4zM134.6 359.5h2.4v2.4h-2.4zM435.9 362.6h2.4v2.4h-2.4zM501.3 365.7h2.4v2.4h-2.4zM669.4 365.9h2.4v2.4h-2.4zM711.7 372.2h2.4v2.4h-2.4zM754.3 364.1h2.4v2.4h-2.4zM365.2 370.2h2.4v2.4h-2.4zM375.5 368.3h2.4v2.4h-2.4zM338.7 373.8h2.4v2.4h-2.4zM914.8 367.7h2.4v2.4h-2.4zM835.5 371.4h2.4v2.4h-2.4zM431.8 366.3h2.4v2.4h-2.4zM279.0 363.8h2.4v2.4h-2.4zM633.1 384.6h2.4v2.4h-2.4zM746.0 363.5h2.4v2.4h-2.4zM372.9 375.1h2.4v2.4h-2.4zM172.9 362.4h2.4v2.4h-2.4zM310.3 366.4h2.4v2.4h-2.4zM544.6 377.3h2.4v2.4h-2.4zM707.4 369.0h2.4v2.4h-2.4zM760.9 371.4h2.4v2.4h-2.4zM696.6 366.2h2.4v2.4h-2.4zM461.1 363.8h2.4v2.4h-2.4zM410.4 378.8h2.4v2.4h-2.4zM932.5 360.2h2.4v2.4h-2.4zM321.0 367.7h2.4v2.4h-2.4zM681.8 365.3h2.4v2.4h-2.4zM646.2 355.7h2.4v2.4h-2.4zM639.5 377.7h2.4v2.4h-2.4zM577.1 364.2h2.4v2.4h-2.4zM695.1 376.6h2.4v2.4h-2.4zM438.4 372.0h2.4v2.4h-2.4zM730.4 376.4h2.4v2.4h-2.4zM325.3 364.9h2.4v2.4h-2.4zM754.0 360.8h2.4v2.4h-2.4zM598.5 381.8h2.4v2.4h-2.4zM556.4 366.2h2.4v2.4h-2.4zM506.7 367.9h2.4v2.4h-2.4zM527.3 364.1h2.4v2.4h-2.4zM690.6 370.4h2.4v2.4h-2.4zM784.2 365.3h2.4v2.4h-2.4zM450.1 386.6h2.4v2.4h-2.4zM433.1 367.0h2.4v2.4h-2.4zM245.0 366.7h2.4v2.4h-2.4zM606.1 364.1h2.4v2.4h-2.4zM513.9 375.7h2.4v2.4h-2.4zM382.3 362.5h2.4v2.4h-2.4zM585.7 370.5h2.4v2.4h-2.4zM619.5 364.3h2.4v2.4h-2.4zM464.8 377.8h2.4v2.4h-2.4zM646.4 378.5h2.4v2.4h-2.4zM722.6 364.9h2.4v2.4h-2.4zM472.0 369.7h2.4v2.4h-2.4zM814.5 372.3h2.4v2.4h-2.4zM576.6 374.6h2.4v2.4h-2.4zM631.9 366.3h2.4v2.4h-2.4zM538.1 369.3h2.4v2.4h-2.4zM381.1 368.8h2.4v2.4h-2.4zM859.6 367.8h2.4v2.4h-2.4zM362.0 372.8h2.4v2.4h-2.4zM432.2 367.6h2.4v2.4h-2.4zM263.6 365.8h2.4v2.4h-2.4zM635.9 375.1h2.4v2.4h-2.4zM706.1 370.2h2.4v2.4h-2.4zM452.1 365.5h2.4v2.4h-2.4zM507.1 369.6h2.4v2.4h-2.4zM744.2 367.5h2.4v2.4h-2.4zM692.0 363.7h2.4v2.4h-2.4zM385.4 374.1h2.4v2.4h-2.4zM879.9 368.0h2.4v2.4h-2.4zM179.9 368.8h2.4v2.4h-2.4zM236.3 364.3h2.4v2.4h-2.4zM378.8 370.2h2.4v2.4h-2.4zM275.9 366.1h2.4v2.4h-2.4zM407.7 378.5h2.4v2.4h-2.4zM321.9 367.4h2.4v2.4h-2.4zM625.6 368.3h2.4v2.4h-2.4zM154.7 366.6h2.4v2.4h-2.4zM516.1 364.4h2.4v2.4h-2.4zM772.3 362.1h2.4v2.4h-2.4zM330.5 367.5h2.4v2.4h-2.4zM546.7 362.8h2.4v2.4h-2.4zM821.6 371.6h2.4v2.4h-2.4zM528.9 372.8h2.4v2.4h-2.4zM650.4 372.9h2.4v2.4h-2.4zM519.5 369.1h2.4v2.4h-2.4zM311.4 359.8h2.4v2.4h-2.4zM693.7 376.2h2.4v2.4h-2.4zM494.1 372.5h2.4v2.4h-2.4zM416.9 365.9h2.4v2.4h-2.4zM650.0 384.7h2.4v2.4h-2.4zM312.6 365.3h2.4v2.4h-2.4zM579.0 376.5h2.4v2.4h-2.4zM535.4 380.6h2.4v2.4h-2.4zM666.0 376.8h2.4v2.4h-2.4zM407.3 364.8h2.4v2.4h-2.4zM602.2 370.7h2.4v2.4h-2.4zM410.1 363.6h2.4v2.4h-2.4zM509.2 371.4h2.4v2.4h-2.4zM341.7 362.2h2.4v2.4h-2.4zM490.1 370.3h2.4v2.4h-2.4zM626.7 365.8h2.4v2.4h-2.4zM435.5 372.4h2.4v2.4h-2.4zM540.4 369.5h2.4v2.4h-2.4zM522.9 374.9h2.4v2.4h-2.4zM615.9 373.5h2.4v2.4h-2.4zM699.5 377.9h2.4v2.4h-2.4zM748.7 366.2h2.4v2.4h-2.4zM795.3 364.4h2.4v2.4h-2.4zM543.1 377.9h2.4v2.4h-2.4zM704.5 367.6h2.4v2.4h-2.4zM485.0 377.1h2.4v2.4h-2.4zM571.4 372.5h2.4v2.4h-2.4zM403.4 373.2h2.4v2.4h-2.4zM662.6 381.4h2.4v2.4h-2.4zM451.9 366.6h2.4v2.4h-2.4zM414.7 375.4h2.4v2.4h-2.4zM556.3 375.8h2.4v2.4h-2.4zM632.6 382.3h2.4v2.4h-2.4zM659.9 359.3h2.4v2.4h-2.4zM632.1 364.4h2.4v2.4h-2.4zM347.1 371.8h2.4v2.4h-2.4zM338.2 358.2h2.4v2.4h-2.4zM292.8 369.1h2.4v2.4h-2.4zM451.0 375.4h2.4v2.4h-2.4zM732.4 372.3h2.4v2.4h-2.4zM573.3 364.6h2.4v2.4h-2.4zM922.2 365.7h2.4v2.4h-2.4zM222.7 363.7h2.4v2.4h-2.4zM731.3 367.1h2.4v2.4h-2.4zM596.9 367.5h2.4v2.4h-2.4zM507.9 378.6h2.4v2.4h-2.4zM462.1 363.7h2.4v2.4h-2.4zM670.7 367.6h2.4v2.4h-2.4zM613.4 376.7h2.4v2.4h-2.4zM688.5 367.8h2.4v2.4h-2.4zM457.0 373.3h2.4v2.4h-2.4zM860.9 368.8h2.4v2.4h-2.4zM610.1 363.5h2.4v2.4h-2.4zM583.1 384.6h2.4v2.4h-2.4zM436.8 373.6h2.4v2.4h-2.4zM815.1 372.5h2.4v2.4h-2.4zM592.3 365.5h2.4v2.4h-2.4zM337.0 368.1h2.4v2.4h-2.4zM658.6 377.3h2.4v2.4h-2.4zM369.7 364.5h2.4v2.4h-2.4zM501.8 379.8h2.4v2.4h-2.4zM854.0 367.1h2.4v2.4h-2.4zM852.2 361.6h2.4v2.4h-2.4zM725.6 375.9h2.4v2.4h-2.4zM571.2 382.9h2.4v2.4h-2.4zM895.9 363.5h2.4v2.4h-2.4zM938.7 356.1h2.4v2.4h-2.4zM674.6 374.1h2.4v2.4h-2.4zM198.7 363.9h2.4v2.4h-2.4zM841.7 370.1h2.4v2.4h-2.4zM655.5 369.2h2.4v2.4h-2.4zM554.1 369.2h2.4v2.4h-2.4zM779.4 368.3h2.4v2.4h-2.4zM276.6 378.1h2.4v2.4h-2.4zM290.3 362.1h2.4v2.4h-2.4zM768.0 366.3h2.4v2.4h-2.4zM301.9 364.1h2.4v2.4h-2.4zM478.8 372.3h2.4v2.4h-2.4zM351.3 374.7h2.4v2.4h-2.4zM509.1 367.1h2.4v2.4h-2.4zM648.1 373.6h2.4v2.4h-2.4zM859.5 362.0h2.4v2.4h-2.4zM599.0 370.4h2.4v2.4h-2.4zM657.5 371.0h2.4v2.4h-2.4zM379.6 370.7h2.4v2.4h-2.4zM315.9 370.4h2.4v2.4h-2.4zM301.1 366.7h2.4v2.4h-2.4zM381.1 363.4h2.4v2.4h-2.4zM326.3 378.2h2.4v2.4h-2.4zM560.7 363.5h2.4v2.4h-2.4zM287.0 360.4h2.4v2.4h-2.4zM573.8 373.3h2.4v2.4h-2.4zM635.7 376.7h2.4v2.4h-2.4zM493.3 365.6h2.4v2.4h-2.4zM171.5 375.9h2.4v2.4h-2.4zM264.3 372.8h2.4v2.4h-2.4zM536.7 367.8h2.4v2.4h-2.4zM633.2 367.0h2.4v2.4h-2.4zM124.7 362.6h2.4v2.4h-2.4zM433.0 373.5h2.4v2.4h-2.4zM617.4 376.2h2.4v2.4h-2.4zM540.2 368.8h2.4v2.4h-2.4zM726.0 370.2h2.4v2.4h-2.4zM920.7 361.7h2.4v2.4h-2.4zM847.7 364.0h2.4v2.4h-2.4zM317.9 370.7h2.4v2.4h-2.4zM471.3 371.1h2.4v2.4h-2.4zM703.6 374.9h2.4v2.4h-2.4zM562.9 381.4h2.4v2.4h-2.4zM377.7 373.0h2.4v2.4h-2.4zM771.5 359.1h2.4v2.4h-2.4zM269.7 359.0h2.4v2.4h-2.4zM708.7 369.8h2.4v2.4h-2.4zM744.2 366.9h2.4v2.4h-2.4zM806.0 361.8h2.4v2.4h-2.4zM265.4 363.9h2.4v2.4h-2.4zM510.3 357.8h2.4v2.4h-2.4zM834.8 361.7h2.4v2.4h-2.4zM586.9 356.5h2.4v2.4h-2.4zM634.4 375.8h2.4v2.4h-2.4zM732.8 373.0h2.4v2.4h-2.4zM775.9 366.5h2.4v2.4h-2.4zM263.9 364.1h2.4v2.4h-2.4zM671.1 368.5h2.4v2.4h-2.4zM553.1 370.9h2.4v2.4h-2.4zM466.1 371.3h2.4v2.4h-2.4zM755.4 365.6h2.4v2.4h-2.4zM283.8 362.0h2.4v2.4h-2.4zM382.3 372.3h2.4v2.4h-2.4zM805.1 357.9h2.4v2.4h-2.4zM376.2 374.7h2.4v2.4h-2.4zM235.0 370.0h2.4v2.4h-2.4zM280.1 372.5h2.4v2.4h-2.4zM618.4 369.9h2.4v2.4h-2.4zM922.9 366.6h2.4v2.4h-2.4zM616.6 364.9h2.4v2.4h-2.4zM839.6 373.6h2.4v2.4h-2.4zM408.4 363.0h2.4v2.4h-2.4zM681.2 358.6h2.4v2.4h-2.4zM610.2 372.0h2.4v2.4h-2.4zM257.8 362.2h2.4v2.4h-2.4zM868.8 363.6h2.4v2.4h-2.4zM483.5 382.1h2.4v2.4h-2.4zM589.5 373.4h2.4v2.4h-2.4zM847.6 368.2h2.4v2.4h-2.4zM661.7 368.2h2.4v2.4h-2.4zM712.1 370.0h2.4v2.4h-2.4zM423.0 361.0h2.4v2.4h-2.4zM787.1 366.7h2.4v2.4h-2.4zM543.9 367.6h2.4v2.4h-2.4zM132.0 363.2h2.4v2.4h-2.4zM450.7 372.1h2.4v2.4h-2.4zM346.7 376.8h2.4v2.4h-2.4zM939.3 355.6h2.4v2.4h-2.4zM584.7 368.2h2.4v2.4h-2.4zM502.2 376.2h2.4v2.4h-2.4zM168.2 363.9h2.4v2.4h-2.4zM690.2 366.8h2.4v2.4h-2.4zM537.7 363.7h2.4v2.4h-2.4zM745.7 357.8h2.4v2.4h-2.4zM172.2 367.1h2.4v2.4h-2.4zM910.0 370.0h2.4v2.4h-2.4zM521.0 364.7h2.4v2.4h-2.4z"/><path stroke="#4ebc8c" d="M618.8 369.8h2.4v2.4h-2.4zM369.0 372.4h2.4v2.4h-2.4zM848.4 355.2h2.4v2.4h-2.4zM723.0 359.5h2.4v2.4h-2.4zM841.7 356.7h2.4v2.4h-2.4zM274.3 368.6h2.4v2.4h-2.4zM895.3 352.9h2.4v2.4h-2.4zM152.5 359.5h2.4v2.4h-2.4zM416.4 381.8h2.4v2.4h-2.4zM820.1 336.1h2.4v2.4h-2.4zM656.9 372.3h2.4v2.4h-2.4zM145.7 349.1h2.4v2.4h-2.4zM699.2 366.6h2.4v2.4h-2.4zM390.1 375.2h2.4v2.4h-2.4zM254.2 348.3h2.4v2.4h-2.4zM923.4 353.7h2.4v2.4h-2.4zM915.6 349.4h2.4v2.4h-2.4zM130.8 349.1h2.4v2.4h-2.4zM153.9 353.6h2.4v2.4h-2.4zM241.8 354.6h2.4v2.4h-2.4zM126.9 341.9h2.4v2.4h-2.4zM779.1 359.4h2.4v2.4h-2.4zM698.0 355.3h2.4v2.4h-2.4zM617.9 364.3h2.4v2.4h-2.4zM879.5 357.6h2.4v2.4h-2.4zM562.7 377.1h2.4v2.4h-2.4zM776.7 365.6h2.4v2.4h-2.4zM279.8 364.9h2.4v2.4h-2.4zM644.4 374.8h2.4v2.4h-2.4zM179.9 341.0h2.4v2.4h-2.4zM177.7 349.9h2.4v2.4h-2.4zM253.5 348.2h2.4v2.4h-2.4zM114.8 349.4h2.4v2.4h-2.4zM677.2 351.0h2.4v2.4h-2.4zM524.2 369.8h2.4v2.4h-2.4zM670.1 369.5h2.4v2.4h-2.4zM116.9 356.9h2.4v2.4h-2.4zM300.6 357.9h2.4v2.4h-2.4zM906.5 352.2h2.4v2.4h-2.4zM935.7 346.1h2.4v2.4h-2.4zM471.0 369.9h2.4v2.4h-2.4zM343.2 367.9h2.4v2.4h-2.4zM351.7 368.0h2.4v2.4h-2.4zM929.3 357.5h2.4v2.4h-2.4zM431.7 376.9h2.4v2.4h-2.4zM906.9 341.5h2.4v2.4h-2.4zM843.4 354.0h2.4v2.4h-2.4zM927.4 342.7h2.4v2.4h-2.4zM840.2 343.6h2.4v2.4h-2.4zM118.9 349.5h2.4v2.4h-2.4zM730.2 362.5h2.4v2.4h-2.4zM657.0 368.7h2.4v2.4h-2.4zM370.0 374.0h2.4v2.4h-2.4zM176.6 357.9h2.4v2.4h-2.4zM837.1 352.9h2.4v2.4h-2.4zM267.9 363.9h2.4v2.4h-2.4zM361.2 360.5h2.4v2.4h-2.4zM933.0 346.3h2.4v2.4h-2.4zM870.1 359.8h2.4v2.4h-2.4zM859.8 355.1h2.4v2.4h-2.4zM183.7 352.0h2.4v2.4h-2.4zM241.1 356.4h2.4v2.4h-2.4zM884.2 353.7h2.4v2.4h-2.4zM874.2 350.6h2.4v2.4h-2.4zM692.0 366.1h2.4v2.4h-2.4zM307.7 361.1h2.4v2.4h-2.4zM870.1 351.2h2.4v2.4h-2.4zM708.9 371.1h2.4v2.4h-2.4zM929.8 353.6h2.4v2.4h-2.4zM598.9 380.8h2.4v2.4h-2.4zM433.7 387.9h2.4v2.4h-2.4zM798.7 359.5h2.4v2.4h-2.4zM881.2 357.4h2.4v2.4h-2.4zM697.7 366.5h2.4v2.4h-2.4zM153.3 353.2h2.4v2.4h-2.4zM365.3 375.4h2.4v2.4h-2.4zM427.3 378.6h2.4v2.4h-2.4zM809.6 365.1h2.4v2.4h-2.4zM892.9 346.6h2.4v2.4h-2.4zM436.1 370.8h2.4v2.4h-2.4zM581.7 373.0h2.4v2.4h-2.4zM749.4 370.8h2.4v2.4h-2.4zM932.6 352.4h2.4v2.4h-2.4zM797.6 353.6h2.4v2.4h-2.4zM205.1 352.1h2.4v2.4h-2.4zM647.5 371.5h2.4v2.4h-2.4zM887.3 348.2h2.4v2.4h-2.4zM293.4 355.5h2.4v2.4h-2.4zM234.8 346.7h2.4v2.4h-2.4zM201.0 356.1h2.4v2.4h-2.4zM812.3 366.3h2.4v2.4h-2.4zM532.4 364.1h2.4v2.4h-2.4zM839.1 345.3h2.4v2.4h-2.4zM364.7 374.0h2.4v2.4h-2.4zM938.2 358.5h2.4v2.4h-2.4zM404.5 363.2h2.4v2.4h-2.4zM131.2 349.9h2.4v2.4h-2.4zM706.5 364.2h2.4v2.4h-2.4zM622.9 358.9h2.4v2.4h-2.4zM895.4 343.3h2.4v2.4h-2.4zM337.9 362.4h2.4v2.4h-2.4zM177.8 355.1h2.4v2.4h-2.4zM897.9 348.7h2.4v2.4h-2.4zM285.5 354.9h2.4v2.4h-2.4zM169.0 344.2h2.4v2.4h-2.4zM317.1 369.5h2.4v2.4h-2.4zM345.9 369.0h2.4v2.4h-2.4zM549.5 366.7h2.4v2.4h-2.4zM272.2 351.8h2.4v2.4h-2.4zM329.8 364.8h2.4v2.4h-2.4zM865.4 350.1h2.4v2.4h-2.4zM346.1 370.2h2.4v2.4h-2.4zM821.3 357.4h2.4v2.4h-2.4zM256.1 360.4h2.4v2.4h-2.4zM737.5 367.1h2.4v2.4h-2.4zM345.3 370.8h2.4v2.4h-2.4zM734.9 364.5h2.4v2.4h-2.4zM759.8 361.7h2.4v2.4h-2.4zM681.9 357.3h2.4v2.4h-2.4zM857.8 353.1h2.4v2.4h-2.4zM762.9 363.0h2.4v2.4h-2.4zM742.7 365.1h2.4v2.4h-2.4zM832.3 360.0h2.4v2.4h-2.4zM408.2 362.1h2.4v2.4h-2.4zM773.0 363.5h2.4v2.4h-2.4zM772.0 363.4h2.4v2.4h-2.4zM626.3 380.8h2.4v2.4h-2.4zM308.8 364.5h2.4v2.4h-2.4zM541.0 386.7h2.4v2.4h-2.4zM911.5 348.6h2.4v2.4h-2.4zM739.3 367.8h2.4v2.4h-2.4zM138.2 353.9h2.4v2.4h-2.4zM336.0 366.8h2.4v2.4h-2.4zM438.6 372.9h2.4v2.4h-2.4zM810.1 354.7h2.4v2.4h-2.4zM875.6 350.2h2.4v2.4h-2.4zM288.9 359.2h2.4v2.4h-2.4zM120.1 350.5h2.4v2.4h-2.4zM604.0 372.4h2.4v2.4h-2.4zM695.2 357.4h2.4v2.4h-2.4zM187.7 354.3h2.4v2.4h-2.4zM175.3 350.4h2.4v2.4h-2.4zM731.7 358.6h2.4v2.4h-2.4zM911.0 358.6h2.4v2.4h-2.4zM331.4 371.4h2.4v2.4h-2.4zM603.0 377.1h2.4v2.4h-2.4zM330.6 365.7h2.4v2.4h-2.4zM751.4 364.2h2.4v2.4h-2.4zM304.4 353.9h2.4v2.4h-2.4zM321.8 360.5h2.4v2.4h-2.4zM629.5 369.4h2.4v2.4h-2.4zM209.6 355.2h2.4v2.4h-2.4zM585.9 384.1h2.4v2.4h-2.4zM130.2 347.3h2.4v2.4h-2.4zM306.3 373.2h2.4v2.4h-2.4zM140.3 350.3h2.4v2.4h-2.4zM704.5 365.5h2.4v2.4h-2.4zM531.3 363.1h2.4v2.4h-2.4zM919.4 345.8h2.4v2.4h-2.4zM838.4 353.2h2.4v2.4h-2.4zM459.3 384.8h2.4v2.4h-2.4zM885.5 353.4h2.4v2.4h-2.4zM213.1 358.5h2.4v2.4h-2.4zM751.7 363.0h2.4v2.4h-2.4zM707.8 363.3h2.4v2.4h-2.4zM162.8 345.1h2.4v2.4h-2.4zM298.3 363.2h2.4v2.4h-2.4zM463.9 375.3h2.4v2.4h-2.4zM269.2 357.3h2.4v2.4h-2.4zM380.2 371.1h2.4v2.4h-2.4zM253.4 358.3h2.4v2.4h-2.4zM251.3 359.0h2.4v2.4h-2.4zM317.6 363.5h2.4v2.4h-2.4zM166.6 352.6h2.4v2.4h-2.4zM793.9 355.5h2.4v2.4h-2.4zM402.4 362.8h2.4v2.4h-2.4zM177.1 354.4h2.4v2.4h-2.4zM371.4 354.8h2.4v2.4h-2.4zM161.8 346.4h2.4v2.4h-2.4zM827.6 360.9h2.4v2.4h-2.4zM658.2 370.4h2.4v2.4h-2.4zM191.6 361.3h2.4v2.4h-2.4zM848.9 343.4h2.4v2.4h-2.4zM457.3 368.6h2.4v2.4h-2.4zM747.6 372.5h2.4v2.4h-2.4zM160.7 354.1h2.4v2.4h-2.4zM559.0 369.7h2.4v2.4h-2.4zM277.9 357.7h2.4v2.4h-2.4zM861.9 357.0h2.4v2.4h-2.4zM734.4 361.8h2.4v2.4h-2.4zM930.9 344.4h2.4v2.4h-2.4zM440.5 362.8h2.4v2.4h-2.4zM725.2 360.7h2.4v2.4h-2.4zM790.3 359.2h2.4v2.4h-2.4zM653.8 388.7h2.4v2.4h-2.4zM317.4 371.3h2.4v2.4h-2.4zM872.4 350.7h2.4v2.4h-2.4zM860.0 345.8h2.4v2.4h-2.4zM324.6 353.9h2.4v2.4h-2.4zM171.2 343.8h2.4v2.4h-2.4zM543.8 390.3h2.4v2.4h-2.4zM865.2 344.8h2.4v2.4h-2.4zM575.8 370.2h2.4v2.4h-2.4zM882.1 348.4h2.4v2.4h-2.4zM590.2 367.0h2.4v2.4h-2.4zM932.9 358.7h2.4v2.4h-2.4zM582.3 365.8h2.4v2.4h-2.4zM939.9 354.6h2.4v2.4h-2.4zM566.6 376.8h2.4v2.4h-2.4zM771.1 361.2h2.4v2.4h-2.4zM496.4 375.5h2.4v2.4h-2.4zM141.0 356.8h2.4v2.4h-2.4zM241.7 352.4h2.4v2.4h-2.4zM400.3 377.7h2.4v2.4h-2.4zM828.2 354.2h2.4v2.4h-2.4zM236.5 353.5h2.4v2.4h-2.4zM320.4 369.9h2.4v2.4h-2.4zM395.0 356.7h2.4v2.4h-2.4zM221.6 365.2h2.4v2.4h-2.4zM130.7 342.6h2.4v2.4h-2.4zM882.8 357.8h2.4v2.4h-2.4zM622.9 351.9h2.4v2.4h-2.4zM817.8 356.9h2.4v2.4h-2.4zM759.9 356.7h2.4v2.4h-2.4zM794.9 350.5h2.4v2.4h-2.4zM919.8 357.6h2.4v2.4h-2.4zM747.2 368.8h2.4v2.4h-2.4zM916.3 343.8h2.4v2.4h-2.4zM852.4 351.3h2.4v2.4h-2.4zM809.6 368.3h2.4v2.4h-2.4zM796.4 364.3h2.4v2.4h-2.4zM202.2 356.5h2.4v2.4h-2.4zM416.0 371.3h2.4v2.4h-2.4zM200.8 349.0h2.4v2.4h-2.4zM141.8 344.3h2.4v2.4h-2.4zM908.9 350.3h2.4v2.4h-2.4zM323.1 350.4h2.4v2.4h-2.4zM214.6 355.0h2.4v2.4h-2.4zM130.7 348.9h2.4v2.4h-2.4zM796.0 358.5h2.4v2.4h-2.4zM908.8 340.8h2.4v2.4h-2.4zM867.0 344.4h2.4v2.4h-2.4zM864.7 349.0h2.4v2.4h-2.4zM170.0 353.3h2.4v2.4h-2.4zM800.7 354.1h2.4v2.4h-2.4zM450.4 384.0h2.4v2.4h-2.4zM345.3 364.7h2.4v2.4h-2.4zM872.0 362.0h2.4v2.4h-2.4zM865.3 351.4h2.4v2.4h-2.4zM862.1 349.8h2.4v2.4h-2.4zM300.7 357.9h2.4v2.4h-2.4zM787.7 351.5h2.4v2.4h-2.4zM330.6 359.0h2.4v2.4h-2.4zM195.4 348.4h2.4v2.4h-2.4zM223.0 354.2h2.4v2.4h-2.4zM308.4 357.7h2.4v2.4h-2.4zM132.6 357.6h2.4v2.4h-2.4zM197.6 352.9h2.4v2.4h-2.4zM598.3 362.4h2.4v2.4h-2.4zM270.7 357.8h2.4v2.4h-2.4zM289.0 353.1h2.4v2.4h-2.4zM219.2 357.9h2.4v2.4h-2.4zM398.5 377.7h2.4v2.4h-2.4zM343.1 362.8h2.4v2.4h-2.4zM221.5 357.9h2.4v2.4h-2.4zM711.5 362.9h2.4v2.4h-2.4zM134.2 344.0h2.4v2.4h-2.4zM636.6 375.7h2.4v2.4h-2.4zM943.3 343.9h2.4v2.4h-2.4zM309.2 367.2h2.4v2.4h-2.4zM845.4 359.6h2.4v2.4h-2.4zM165.5 355.4h2.4v2.4h-2.4zM133.3 345.9h2.4v2.4h-2.4zM762.0 369.6h2.4v2.4h-2.4zM670.1 361.4h2.4v2.4h-2.4zM712.0 369.4h2.4v2.4h-2.4zM655.5 376.7h2.4v2.4h-2.4zM283.1 357.0h2.4v2.4h-2.4zM925.6 353.4h2.4v2.4h-2.4zM876.6 358.2h2.4v2.4h-2.4zM334.2 361.6h2.4v2.4h-2.4zM417.6 370.8h2.4v2.4h-2.4zM161.0 354.9h2.4v2.4h-2.4zM520.3 388.0h2.4v2.4h-2.4zM638.7 369.9h2.4v2.4h-2.4zM798.0 366.3h2.4v2.4h-2.4zM737.2 364.9h2.4v2.4h-2.4zM715.6 367.1h2.4v2.4h-2.4zM831.9 360.7h2.4v2.4h-2.4zM844.2 364.3h2.4v2.4h-2.4zM378.7 368.8h2.4v2.4h-2.4zM538.2 381.1h2.4v2.4h-2.4zM254.2 362.8h2.4v2.4h-2.4zM839.5 349.8h2.4v2.4h-2.4zM142.2 342.5h2.4v2.4h-2.4zM346.9 364.1h2.4v2.4h-2.4zM132.7 354.9h2.4v2.4h-2.4zM205.3 351.6h2.4v2.4h-2.4zM230.4 354.1h2.4v2.4h-2.4zM272.0 356.0h2.4v2.4h-2.4zM182.8 348.4h2.4v2.4h-2.4zM873.6 347.6h2.4v2.4h-2.4zM592.0 358.0h2.4v2.4h-2.4zM856.6 348.2h2.4v2.4h-2.4zM843.0 359.2h2.4v2.4h-2.4zM184.7 344.5h2.4v2.4h-2.4zM926.9 346.5h2.4v2.4h-2.4zM391.0 367.6h2.4v2.4h-2.4zM786.4 362.1h2.4v2.4h-2.4zM688.1 364.8h2.4v2.4h-2.4zM595.0 358.7h2.4v2.4h-2.4zM580.1 382.6h2.4v2.4h-2.4zM291.5 360.4h2.4v2.4h-2.4zM594.0 373.7h2.4v2.4h-2.4zM815.0 353.1h2.4v2.4h-2.4zM434.0 365.2h2.4v2.4h-2.4zM257.5 346.4h2.4v2.4h-2.4zM904.3 350.7h2.4v2.4h-2.4zM668.7 373.4h2.4v2.4h-2.4zM812.8 356.4h2.4v2.4h-2.4zM859.9 356.1h2.4v2.4h-2.4zM334.7 358.2h2.4v2.4h-2.4zM422.6 372.1h2.4v2.4h-2.4zM906.2 348.9h2.4v2.4h-2.4zM340.4 362.8h2.4v2.4h-2.4zM818.1 355.6h2.4v2.4h-2.4zM505.0 379.5h2.4v2.4h-2.4zM726.8 361.6h2.4v2.4h-2.4zM532.8 370.7h2.4v2.4h-2.4zM866.5 358.9h2.4v2.4h-2.4zM831.4 355.5h2.4v2.4h-2.4zM152.3 347.0h2.4v2.4h-2.4zM414.1 365.6h2.4v2.4h-2.4zM574.9 382.9h2.4v2.4h-2.4zM903.4 352.9h2.4v2.4h-2.4zM458.4 365.2h2.4v2.4h-2.4zM547.4 370.9h2.4v2.4h-2.4zM850.3 349.6h2.4v2.4h-2.4zM520.1 367.3h2.4v2.4h-2.4zM265.6 364.2h2.4v2.4h-2.4zM941.8 357.3h2.4v2.4h-2.4zM898.2 355.2h2.4v2.4h-2.4zM866.1 349.0h2.4v2.4h-2.4zM869.9 354.4h2.4v2.4h-2.4zM820.6 348.8h2.4v2.4h-2.4zM585.5 373.9h2.4v2.4h-2.4zM130.1 357.6h2.4v2.4h-2.4zM738.1 365.3h2.4v2.4h-2.4zM852.2 357.8h2.4v2.4h-2.4zM740.7 359.3h2.4v2.4h-2.4zM312.8 361.9h2.4v2.4h-2.4zM776.8 363.3h2.4v2.4h-2.4zM233.9 345.9h2.4v2.4h-2.4zM644.5 362.2h2.4v2.4h-2.4zM228.0 354.8h2.4v2.4h-2.4zM332.9 360.7h2.4v2.4h-2.4zM314.1 354.7h2.4v2.4h-2.4zM712.7 363.5h2.4v2.4h-2.4zM142.1 345.6h2.4v2.4h-2.4zM916.8 360.0h2.4v2.4h-2.4zM307.7 359.5h2.4v2.4h-2.4zM682.7 369.8h2.4v2.4h-2.4zM666.5 376.5h2.4v2.4h-2.4zM144.5 345.0h2.4v2.4h-2.4zM770.5 358.1h2.4v2.4h-2.4zM660.4 363.6h2.4v2.4h-2.4zM849.6 354.0h2.4v2.4h-2.4zM482.0 374.1h2.4v2.4h-2.4zM558.9 371.3h2.4v2.4h-2.4zM527.5 349.5h2.4v2.4h-2.4zM380.4 368.5h2.4v2.4h-2.4zM373.9 364.9h2.4v2.4h-2.4zM583.6 357.8h2.4v2.4h-2.4zM121.6 347.8h2.4v2.4h-2.4zM122.4 341.9h2.4v2.4h-2.4zM240.2 356.0h2.4v2.4h-2.4zM186.9 344.3h2.4v2.4h-2.4zM346.9 357.8h2.4v2.4h-2.4zM383.9 372.2h2.4v2.4h-2.4zM455.0 361.7h2.4v2.4h-2.4zM925.5 349.4h2.4v2.4h-2.4zM127.7 345.5h2.4v2.4h-2.4zM390.6 365.0h2.4v2.4h-2.4zM595.1 363.5h2.4v2.4h-2.4zM343.1 361.5h2.4v2.4h-2.4zM244.1 352.6h2.4v2.4h-2.4zM790.3 351.0h2.4v2.4h-2.4zM641.4 359.2h2.4v2.4h-2.4zM839.0 357.7h2.4v2.4h-2.4zM900.7 346.4h2.4v2.4h-2.4zM781.6 359.0h2.4v2.4h-2.4zM192.6 349.9h2.4v2.4h-2.4zM290.9 364.6h2.4v2.4h-2.4zM445.8 361.2h2.4v2.4h-2.4zM115.7 349.6h2.4v2.4h-2.4zM264.2 359.0h2.4v2.4h-2.4zM759.7 366.7h2.4v2.4h-2.4zM458.4 359.5h2.4v2.4h-2.4zM668.4 381.3h2.4v2.4h-2.4zM470.2 384.6h2.4v2.4h-2.4zM288.4 359.7h2.4v2.4h-2.4zM297.9 352.4h2.4v2.4h-2.4zM116.9 340.5h2.4v2.4h-2.4zM926.6 345.8h2.4v2.4h-2.4zM255.4 348.4h2.4v2.4h-2.4zM795.7 360.5h2.4v2.4h-2.4zM812.0 354.8h2.4v2.4h-2.4zM127.8 352.6h2.4v2.4h-2.4zM114.6 355.1h2.4v2.4h-2.4zM211.7 356.1h2.4v2.4h-2.4zM743.5 352.9h2.4v2.4h-2.4zM232.2 351.4h2.4v2.4h-2.4zM284.2 358.0h2.4v2.4h-2.4zM776.1 353.0h2.4v2.4h-2.4zM754.9 357.2h2.4v2.4h-2.4zM698.9 367.1h2.4v2.4h-2.4zM176.0 355.6h2.4v2.4h-2.4zM217.2 355.0h2.4v2.4h-2.4zM610.7 374.3h2.4v2.4h-2.4zM365.9 379.2h2.4v2.4h-2.4zM114.6 345.4h2.4v2.4h-2.4zM658.7 355.2h2.4v2.4h-2.4zM730.1 372.8h2.4v2.4h-2.4zM751.5 355.8h2.4v2.4h-2.4zM445.5 361.8h2.4v2.4h-2.4zM207.9 353.5h2.4v2.4h-2.4zM810.2 351.0h2.4v2.4h-2.4zM251.6 357.2h2.4v2.4h-2.4zM913.0 358.6h2.4v2.4h-2.4zM151.5 361.6h2.4v2.4h-2.4zM425.2 366.2h2.4v2.4h-2.4zM883.3 356.0h2.4v2.4h-2.4zM224.0 355.4h2.4v2.4h-2.4zM732.8 352.4h2.4v2.4h-2.4zM514.2 379.5h2.4v2.4h-2.4zM117.7 344.5h2.4v2.4h-2.4zM196.9 349.5h2.4v2.4h-2.4zM796.1 355.0h2.4v2.4h-2.4zM617.8 374.2h2.4v2.4h-2.4zM879.3 346.0h2.4v2.4h-2.4zM135.2 347.8h2.4v2.4h-2.4zM841.5 352.4h2.4v2.4h-2.4zM277.3 358.2h2.4v2.4h-2.4zM177.9 352.9h2.4v2.4h-2.4zM750.0 356.8h2.4v2.4h-2.4zM733.2 374.4h2.4v2.4h-2.4zM918.1 358.1h2.4v2.4h-2.4zM171.9 357.2h2.4v2.4h-2.4zM271.2 357.1h2.4v2.4h-2.4zM596.9 375.4h2.4v2.4h-2.4zM896.2 349.4h2.4v2.4h-2.4zM555.8 363.1h2.4v2.4h-2.4zM923.0 344.1h2.4v2.4h-2.4zM763.3 357.0h2.4v2.4h-2.4zM924.2 355.1h2.4v2.4h-2.4zM194.2 347.2h2.4v2.4h-2.4zM754.0 361.7h2.4v2.4h-2.4zM658.2 365.4h2.4v2.4h-2.4zM657.4 371.1h2.4v2.4h-2.4zM292.9 351.2h2.4v2.4h-2.4zM916.8 362.8h2.4v2.4h-2.4zM888.8 352.1h2.4v2.4h-2.4zM919.6 353.8h2.4v2.4h-2.4zM637.8 369.2h2.4v2.4h-2.4zM812.6 362.1h2.4v2.4h-2.4zM342.1 368.3h2.4v2.4h-2.4zM242.8 363.6h2.4v2.4h-2.4zM517.6 373.5h2.4v2.4h-2.4zM590.8 381.1h2.4v2.4h-2.4zM927.2 352.4h2.4v2.4h-2.4zM278.7 360.1h2.4v2.4h-2.4zM875.6 365.8h2.4v2.4h-2.4zM880.4 354.4h2.4v2.4h-2.4zM588.7 384.2h2.4v2.4h-2.4zM218.1 355.0h2.4v2.4h-2.4zM123.4 351.8h2.4v2.4h-2.4zM923.3 351.2h2.4v2.4h-2.4zM880.2 351.6h2.4v2.4h-2.4zM149.3 348.5h2.4v2.4h-2.4zM851.9 357.3h2.4v2.4h-2.4zM118.6 345.3h2.4v2.4h-2.4zM455.4 385.2h2.4v2.4h-2.4zM874.7 359.5h2.4v2.4h-2.4zM185.8 360.6h2.4v2.4h-2.4zM200.0 350.0h2.4v2.4h-2.4zM649.4 374.0h2.4v2.4h-2.4zM262.6 346.3h2.4v2.4h-2.4zM250.5 351.4h2.4v2.4h-2.4zM117.9 349.0h2.4v2.4h-2.4zM799.4 360.0h2.4v2.4h-2.4zM314.3 377.6h2.4v2.4h-2.4zM687.0 370.9h2.4v2.4h-2.4zM381.7 377.0h2.4v2.4h-2.4zM192.3 354.0h2.4v2.4h-2.4zM670.8 370.3h2.4v2.4h-2.4zM488.4 390.8h2.4v2.4h-2.4zM757.8 369.5h2.4v2.4h-2.4zM829.1 360.1h2.4v2.4h-2.4zM269.9 358.6h2.4v2.4h-2.4zM257.5 359.0h2.4v2.4h-2.4zM119.6 351.3h2.4v2.4h-2.4zM317.0 370.4h2.4v2.4h-2.4zM200.1 356.7h2.4v2.4h-2.4zM883.6 353.0h2.4v2.4h-2.4zM366.1 367.3h2.4v2.4h-2.4zM589.5 388.8h2.4v2.4h-2.4zM761.0 353.9h2.4v2.4h-2.4zM829.4 354.3h2.4v2.4h-2.4zM817.3 360.9h2.4v2.4h-2.4zM899.3 349.8h2.4v2.4h-2.4zM708.6 360.7h2.4v2.4h-2.4zM765.9 360.5h2.4v2.4h-2.4zM931.2 349.7h2.4v2.4h-2.4zM915.1 347.8h2.4v2.4h-2.4zM690.6 365.8h2.4v2.4h-2.4zM182.2 351.8h2.4v2.4h-2.4zM919.3 349.8h2.4v2.4h-2.4zM207.7 350.0h2.4v2.4h-2.4zM126.9 358.0h2.4v2.4h-2.4zM209.2 355.0h2.4v2.4h-2.4zM789.5 357.9h2.4v2.4h-2.4zM122.3 356.9h2.4v2.4h-2.4zM626.8 370.7h2.4v2.4h-2.4zM837.1 357.2h2.4v2.4h-2.4zM869.8 348.8h2.4v2.4h-2.4zM733.8 359.1h2.4v2.4h-2.4zM925.7 348.2h2.4v2.4h-2.4zM938.8 359.0h2.4v2.4h-2.4zM901.2 353.3h2.4v2.4h-2.4zM181.5 362.4h2.4v2.4h-2.4zM308.6 350.4h2.4v2.4h-2.4zM659.5 374.0h2.4v2.4h-2.4zM372.6 371.8h2.4v2.4h-2.4zM686.3 352.5h2.4v2.4h-2.4zM831.8 358.3h2.4v2.4h-2.4zM762.3 355.3h2.4v2.4h-2.4zM142.9 354.2h2.4v2.4h-2.4zM813.1 349.4h2.4v2.4h-2.4zM344.2 361.1h2.4v2.4h-2.4zM934.9 351.8h2.4v2.4h-2.4zM125.9 340.0h2.4v2.4h-2.4zM323.6 365.9h2.4v2.4h-2.4zM292.1 366.5h2.4v2.4h-2.4zM919.9 354.8h2.4v2.4h-2.4zM898.5 352.0h2.4v2.4h-2.4zM297.4 364.4h2.4v2.4h-2.4zM249.9 361.1h2.4v2.4h-2.4zM184.1 357.9h2.4v2.4h-2.4zM816.0 346.0h2.4v2.4h-2.4zM256.5 350.4h2.4v2.4h-2.4zM443.7 375.8h2.4v2.4h-2.4zM800.8 360.1h2.4v2.4h-2.4zM207.6 351.5h2.4v2.4h-2.4zM710.6 355.3h2.4v2.4h-2.4zM705.8 364.0h2.4v2.4h-2.4zM920.8 341.6h2.4v2.4h-2.4zM638.5 381.3h2.4v2.4h-2.4zM243.1 354.7h2.4v2.4h-2.4zM554.1 364.4h2.4v2.4h-2.4zM670.6 359.0h2.4v2.4h-2.4zM769.6 360.7h2.4v2.4h-2.4zM721.2 363.5h2.4v2.4h-2.4zM324.5 364.5h2.4v2.4h-2.4zM678.4 359.0h2.4v2.4h-2.4zM922.6 351.9h2.4v2.4h-2.4zM554.3 379.4h2.4v2.4h-2.4zM752.6 363.2h2.4v2.4h-2.4zM720.6 361.2h2.4v2.4h-2.4zM807.3 346.5h2.4v2.4h-2.4zM320.4 359.5h2.4v2.4h-2.4zM876.8 351.3h2.4v2.4h-2.4zM118.6 343.3h2.4v2.4h-2.4zM368.2 357.8h2.4v2.4h-2.4zM652.2 362.5h2.4v2.4h-2.4zM723.2 375.9h2.4v2.4h-2.4zM709.7 362.8h2.4v2.4h-2.4zM351.0 364.2h2.4v2.4h-2.4zM231.4 353.2h2.4v2.4h-2.4zM790.7 354.1h2.4v2.4h-2.4zM872.6 356.3h2.4v2.4h-2.4zM130.1 362.9h2.4v2.4h-2.4zM407.7 362.6h2.4v2.4h-2.4zM912.8 349.5h2.4v2.4h-2.4zM559.7 378.1h2.4v2.4h-2.4zM800.2 354.3h2.4v2.4h-2.4zM202.0 359.8h2.4v2.4h-2.4zM193.0 345.4h2.4v2.4h-2.4zM329.6 358.1h2.4v2.4h-2.4zM330.1 361.4h2.4v2.4h-2.4zM881.2 351.9h2.4v2.4h-2.4zM474.0 361.5h2.4v2.4h-2.4zM691.9 366.0h2.4v2.4h-2.4zM129.4 354.6h2.4v2.4h-2.4zM261.5 365.3h2.4v2.4h-2.4zM879.4 360.9h2.4v2.4h-2.4zM872.6 356.5h2.4v2.4h-2.4zM294.3 357.9h2.4v2.4h-2.4zM878.6 354.6h2.4v2.4h-2.4zM420.3 373.6h2.4v2.4h-2.4zM130.7 346.8h2.4v2.4h-2.4zM913.6 350.5h2.4v2.4h-2.4zM906.0 347.0h2.4v2.4h-2.4zM832.0 354.9h2.4v2.4h-2.4zM646.4 351.1h2.4v2.4h-2.4zM904.5 340.8h2.4v2.4h-2.4zM689.0 374.5h2.4v2.4h-2.4zM199.0 364.8h2.4v2.4h-2.4zM705.0 368.3h2.4v2.4h-2.4zM292.1 372.7h2.4v2.4h-2.4zM636.9 380.2h2.4v2.4h-2.4zM443.7 367.3h2.4v2.4h-2.4zM226.2 352.9h2.4v2.4h-2.4zM884.0 346.2h2.4v2.4h-2.4zM410.0 364.0h2.4v2.4h-2.4zM675.1 371.8h2.4v2.4h-2.4zM693.6 375.4h2.4v2.4h-2.4zM857.4 354.2h2.4v2.4h-2.4zM885.6 349.3h2.4v2.4h-2.4zM928.4 350.0h2.4v2.4h-2.4zM313.8 365.2h2.4v2.4h-2.4zM452.3 369.8h2.4v2.4h-2.4zM886.0 352.9h2.4v2.4h-2.4zM168.6 350.6h2.4v2.4h-2.4zM363.2 374.3h2.4v2.4h-2.4zM208.5 362.7h2.4v2.4h-2.4zM499.5 364.2h2.4v2.4h-2.4zM365.8 371.9h2.4v2.4h-2.4zM689.6 357.3h2.4v2.4h-2.4zM867.8 350.3h2.4v2.4h-2.4zM657.8 357.9h2.4v2.4h-2.4zM327.2 374.0h2.4v2.4h-2.4zM192.2 352.9h2.4v2.4h-2.4zM619.0 375.5h2.4v2.4h-2.4zM160.1 357.2h2.4v2.4h-2.4zM223.7 361.3h2.4v2.4h-2.4zM779.6 364.5h2.4v2.4h-2.4zM737.0 367.6h2.4v2.4h-2.4zM814.3 360.9h2.4v2.4h-2.4zM857.2 354.2h2.4v2.4h-2.4zM229.4 360.8h2.4v2.4h-2.4zM764.1 362.4h2.4v2.4h-2.4zM937.6 350.4h2.4v2.4h-2.4zM299.6 362.9h2.4v2.4h-2.4zM236.6 351.7h2.4v2.4h-2.4zM360.2 371.2h2.4v2.4h-2.4zM178.0 351.4h2.4v2.4h-2.4zM764.2 358.5h2.4v2.4h-2.4zM817.8 360.9h2.4v2.4h-2.4zM381.9 368.0h2.4v2.4h-2.4zM170.6 344.1h2.4v2.4h-2.4zM654.0 356.7h2.4v2.4h-2.4zM780.9 359.8h2.4v2.4h-2.4zM287.6 368.7h2.4v2.4h-2.4zM177.8 347.4h2.4v2.4h-2.4zM235.7 350.3h2.4v2.4h-2.4zM323.8 355.0h2.4v2.4h-2.4zM471.5 359.2h2.4v2.4h-2.4zM179.2 351.6h2.4v2.4h-2.4zM148.0 358.4h2.4v2.4h-2.4zM217.5 353.9h2.4v2.4h-2.4zM874.0 354.4h2.4v2.4h-2.4zM862.7 353.0h2.4v2.4h-2.4zM811.4 362.1h2.4v2.4h-2.4zM617.8 379.7h2.4v2.4h-2.4zM251.6 356.4h2.4v2.4h-2.4zM711.1 369.7h2.4v2.4h-2.4zM408.1 371.7h2.4v2.4h-2.4zM821.4 356.6h2.4v2.4h-2.4zM142.6 354.6h2.4v2.4h-2.4zM365.1 367.2h2.4v2.4h-2.4zM309.5 357.3h2.4v2.4h-2.4zM335.6 367.6h2.4v2.4h-2.4zM268.3 354.1h2.4v2.4h-2.4zM446.3 392.0h2.4v2.4h-2.4zM868.7 354.5h2.4v2.4h-2.4zM815.2 363.1h2.4v2.4h-2.4zM469.1 375.2h2.4v2.4h-2.4zM612.2 358.3h2.4v2.4h-2.4zM709.1 360.8h2.4v2.4h-2.4zM648.9 373.4h2.4v2.4h-2.4zM171.6 348.8h2.4v2.4h-2.4zM886.4 343.8h2.4v2.4h-2.4zM159.7 343.5h2.4v2.4h-2.4zM943.1 347.4h2.4v2.4h-2.4zM473.9 373.0h2.4v2.4h-2.4zM930.3 353.9h2.4v2.4h-2.4zM934.6 349.7h2.4v2.4h-2.4zM463.1 355.7h2.4v2.4h-2.4zM230.3 353.7h2.4v2.4h-2.4zM810.9 358.0h2.4v2.4h-2.4zM802.7 359.8h2.4v2.4h-2.4zM807.5 363.7h2.4v2.4h-2.4zM409.9 379.2h2.4v2.4h-2.4zM749.6 356.4h2.4v2.4h-2.4zM930.6 345.9h2.4v2.4h-2.4zM932.6 356.7h2.4v2.4h-2.4zM448.6 374.7h2.4v2.4h-2.4zM589.4 385.6h2.4v2.4h-2.4zM922.7 355.1h2.4v2.4h-2.4zM900.5 348.8h2.4v2.4h-2.4zM198.6 355.4h2.4v2.4h-2.4z"/><path stroke="#fac435" d="M779.5 371.7h2.4v2.4h-2.4zM417.7 364.4h2.4v2.4h-2.4zM248.2 367.9h2.4v2.4h-2.4zM912.2 370.7h2.4v2.4h-2.4zM613.2 375.0h2.4v2.4h-2.4zM701.9 375.7h2.4v2.4h-2.4zM478.9 373.9h2.4v2.4h-2.4zM395.5 371.5h2.4v2.4h-2.4zM802.4 365.9h2.4v2.4h-2.4zM506.5 384.3h2.4v2.4h-2.4zM369.6 374.6h2.4v2.4h-2.4zM912.5 362.3h2.4v2.4h-2.4zM642.3 371.2h2.4v2.4h-2.4zM147.1 364.7h2.4v2.4h-2.4zM140.2 361.4h2.4v2.4h-2.4zM245.1 367.9h2.4v2.4h-2.4zM351.9 374.6h2.4v2.4h-2.4zM438.5 373.0h2.4v2.4h-2.4zM627.8 379.9h2.4v2.4h-2.4zM258.3 374.4h2.4v2.4h-2.4zM688.4 376.5h2.4v2.4h-2.4zM884.2 363.2h2.4v2.4h-2.4zM904.1 365.4h2.4v2.4h-2.4zM348.6 361.7h2.4v2.4h-2.4zM368.4 369.2h2.4v2.4h-2.4zM567.0 369.2h2.4v2.4h-2.4zM507.7 384.3h2.4v2.4h-2.4zM587.8 379.7h2.4v2.4h-2.4zM939.9 362.1h2.4v2.4h-2.4zM178.1 361.2h2.4v2.4h-2.4zM551.7 368.3h2.4v2.4h-2.4zM374.5 373.7h2.4v2.4h-2.4zM717.3 366.7h2.4v2.4h-2.4zM620.6 369.9h2.4v2.4h-2.4zM559.8 362.5h2.4v2.4h-2.4zM868.6 364.8h2.4v2.4h-2.4zM688.5 362.2h2.4v2.4h-2.4zM452.6 371.8h2.4v2.4h-2.4zM633.7 374.5h2.4v2.4h-2.4zM559.4 373.3h2.4v2.4h-2.4zM121.1 371.6h2.4v2.4h-2.4zM722.6 365.8h2.4v2.4h-2.4zM355.0 363.7h2.4v2.4h-2.4zM555.4 371.7h2.4v2.4h-2.4zM162.1 366.2h2.4v2.4h-2.4zM552.9 383.9h2.4v2.4h-2.4zM681.8 369.0h2.4v2.4h-2.4zM593.0 369.3h2.4v2.4h-2.4zM780.1 366.9h2.4v2.4h-2.4zM305.0 371.6h2.4v2.4h-2.4zM398.9 370.6h2.4v2.4h-2.4zM483.8 371.3h2.4v2.4h-2.4zM293.6 372.8h2.4v2.4h-2.4zM695.4 369.5h2.4v2.4h-2.4zM851.3 366.7h2.4v2.4h-2.4zM511.5 360.7h2.4v2.4h-2.4zM457.5 362.7h2.4v2.4h-2.4zM166.2 365.6h2.4v2.4h-2.4zM538.9 368.3h2.4v2.4h-2.4zM713.6 361.5h2.4v2.4h-2.4zM278.6 366.6h2.4v2.4h-2.4zM794.5 372.0h2.4v2.4h-2.4zM569.8 361.3h2.4v2.4h-2.4zM521.5 370.3h2.4v2.4h-2.4zM565.1 370.8h2.4v2.4h-2.4zM378.6 364.4h2.4v2.4h-2.4zM827.7 365.8h2.4v2.4h-2.4zM483.6 372.7h2.4v2.4h-2.4zM332.8 370.5h2.4v2.4h-2.4zM331.5 374.2h2.4v2.4h-2.4zM917.7 362.0h2.4v2.4h-2.4zM685.4 377.2h2.4v2.4h-2.4zM410.2 364.6h2.4v2.4h-2.4zM741.6 376.6h2.4v2.4h-2.4zM500.7 366.0h2.4v2.4h-2.4zM553.9 374.7h2.4v2.4h-2.4zM499.5 362.0h2.4v2.4h-2.4zM352.7 379.0h2.4v2.4h-2.4zM327.3 365.8h2.4v2.4h-2.4zM553.3 366.0h2.4v2.4h-2.4zM524.0 373.5h2.4v2.4h-2.4zM627.5 366.7h2.4v2.4h-2.4zM402.3 359.9h2.4v2.4h-2.4zM337.1 359.1h2.4v2.4h-2.4zM512.0 372.3h2.4v2.4h-2.4zM501.8 374.7h2.4v2.4h-2.4zM247.5 368.3h2.4v2.4h-2.4zM293.8 368.3h2.4v2.4h-2.4zM773.9 363.9h2.4v2.4h-2.4zM302.3 364.7h2.4v2.4h-2.4zM384.0 363.4h2.4v2.4h-2.4zM636.9 372.0h2.4v2.4h-2.4zM454.6 371.4h2.4v2.4h-2.4zM583.8 362.6h2.4v2.4h-2.4zM472.6 370.0h2.4v2.4h-2.4zM286.9 361.4h2.4v2.4h-2.4zM410.9 375.8h2.4v2.4h-2.4zM663.8 368.5h2.4v2.4h-2.4zM219.9 366.8h2.4v2.4h-2.4zM473.3 367.2h2.4v2.4h-2.4zM145.3 369.4h2.4v2.4h-2.4zM275.3 368.1h2.4v2.4h-2.4zM122.7 359.4h2.4v2.4h-2.4zM509.2 363.4h2.4v2.4h-2.4zM782.5 365.2h2.4v2.4h-2.4zM690.0 363.7h2.4v2.4h-2.4zM421.4 365.0h2.4v2.4h-2.4zM601.0 367.1h2.4v2.4h-2.4zM409.2 359.3h2.4v2.4h-2.4zM400.0 358.8h2.4v2.4h-2.4zM846.9 364.0h2.4v2.4h-2.4zM556.1 375.5h2.4v2.4h-2.4zM938.6 366.4h2.4v2.4h-2.4zM759.7 368.0h2.4v2.4h-2.4zM485.0 368.8h2.4v2.4h-2.4zM656.8 374.7h2.4v2.4h-2.4zM539.3 372.4h2.4v2.4h-2.4zM638.9 378.9h2.4v2.4h-2.4zM257.1 368.9h2.4v2.4h-2.4zM782.1 362.0h2.4v2.4h-2.4zM695.6 359.6h2.4v2.4h-2.4zM338.1 374.7h2.4v2.4h-2.4zM252.5 369.9h2.4v2.4h-2.4zM717.7 374.8h2.4v2.4h-2.4zM478.1 386.6h2.4v2.4h-2.4zM532.3 359.7h2.4v2.4h-2.4zM283.2 366.5h2.4v2.4h-2.4zM944.0 361.8h2.4v2.4h-2.4zM299.5 373.7h2.4v2.4h-2.4zM350.0 357.2h2.4v2.4h-2.4zM636.4 376.8h2.4v2.4h-2.4zM588.1 365.7h2.4v2.4h-2.4zM394.4 362.4h2.4v2.4h-2.4zM180.5 367.6h2.4v2.4h-2.4zM579.0 373.4h2.4v2.4h-2.4zM339.6 378.6h2.4v2.4h-2.4zM663.8 372.4h2.4v2.4h-2.4zM532.9 377.6h2.4v2.4h-2.4zM777.2 370.8h2.4v2.4h-2.4zM496.4 368.1h2.4v2.4h-2.4zM543.3 372.1h2.4v2.4h-2.4zM707.8 363.2h2.4v2.4h-2.4zM531.0 368.5h2.4v2.4h-2.4zM279.4 362.0h2.4v2.4h-2.4zM389.4 371.7h2.4v2.4h-2.4zM540.5 370.9h2.4v2.4h-2.4zM614.8 362.0h2.4v2.4h-2.4zM508.8 367.5h2.4v2.4h-2.4zM721.9 376.0h2.4v2.4h-2.4zM479.0 354.1h2.4v2.4h-2.4zM569.6 368.4h2.4v2.4h-2.4zM402.8 363.4h2.4v2.4h-2.4zM467.2 373.4h2.4v2.4h-2.4zM924.4 364.3h2.4v2.4h-2.4zM748.7 371.8h2.4v2.4h-2.4zM280.7 360.3h2.4v2.4h-2.4zM295.5 369.7h2.4v2.4h-2.4zM495.1 364.7h2.4v2.4h-2.4zM293.1 368.0h2.4v2.4h-2.4zM665.5 361.1h2.4v2.4h-2.4zM815.6 361.9h2.4v2.4h-2.4zM427.9 376.6h2.4v2.4h-2.4z"/><path stroke="#2eb7a4" d="M515.5 364.6h2.4v2.4h-2.4zM602.0 373.9h2.4v2.4h-2.4zM371.4 367.8h2.4v2.4h-2.4zM616.1 371.7h2.4v2.4h-2.4zM775.5 369.4h2.4v2.4h-2.4zM711.3 365.6h2.4v2.4h-2.4zM178.4 359.9h2.4v2.4h-2.4zM164.3 364.1h2.4v2.4h-2.4zM869.2 369.6h2.4v2.4h-2.4zM871.4 375.0h2.4v2.4h-2.4z"/><path stroke="#1f7fd9" d="M422.2 373.2h2.4v2.4h-2.4zM860.0 361.6h2.4v2.4h-2.4zM822.9 366.6h2.4v2.4h-2.4zM303.1 373.3h2.4v2.4h-2.4zM417.7 373.2h2.4v2.4h-2.4zM941.2 366.8h2.4v2.4h-2.4zM370.6 368.5h2.4v2.4h-2.4z"/><path stroke="#1f7fd9" d="M450.7 302.4h2.4v2.4h-2.4zM429.8 344.0h2.4v2.4h-2.4zM418.1 349.2h2.4v2.4h-2.4zM302.3 375.8h2.4v2.4h-2.4zM779.8 386.3h2.4v2.4h-2.4zM800.3 379.8h2.4v2.4h-2.4zM397.4 382.9h2.4v2.4h-2.4zM403.4 383.1h2.4v2.4h-2.4zM866.8 369.8h2.4v2.4h-2.4zM882.8 369.8h2.4v2.4h-2.4zM918.8 366.8h2.4v2.4h-2.4zM596.8 373.8h2.4v2.4h-2.4zM538.8 375.8h2.4v2.4h-2.4z"/><path stroke="#4ebc8c" d="M148.1 327.5h2.4v2.4h-2.4zM114.7 332.2h2.4v2.4h-2.4zM936.0 325.7h2.4v2.4h-2.4zM941.3 326.8h2.4v2.4h-2.4zM938.8 330.8h2.4v2.4h-2.4zM942.7 334.5h2.4v2.4h-2.4zM895.7 334.9h2.4v2.4h-2.4zM904.9 334.9h2.4v2.4h-2.4zM908.6 337.8h2.4v2.4h-2.4zM920.7 337.4h2.4v2.4h-2.4zM460.8 392.0h2.4v2.4h-2.4zM466.1 393.4h2.4v2.4h-2.4zM471.3 393.4h2.4v2.4h-2.4zM473.8 386.8h2.4v2.4h-2.4zM392.2 351.1h2.4v2.4h-2.4z"/></g>
<line x1="115.8" y1="374.8" x2="945.8" y2="374.8" stroke="#000" stroke-width="1.5"/>
<polyline fill="none" stroke="#0000ff" stroke-width="2.4" stroke-linejoin="round" points="115.8,355.3 127.3,355.3 127.3,356.4 138.9,356.4 138.9,356.9 150.4,356.9 150.4,357.2 161.9,357.2 161.9,357.7 173.5,357.7 173.5,356.8 185.0,356.8 185.0,358.2 196.6,358.2 196.6,357.9 208.1,357.9 208.1,359.4 219.6,359.4 219.6,359.7 231.2,359.7 231.2,360.3 242.7,360.3 242.7,361.3 254.2,361.3 254.2,361.7 265.8,361.7 265.8,361.2 277.3,361.2 277.3,361.6 288.9,361.6 288.9,362.9 300.4,362.9 300.4,363.2 311.9,363.2 311.9,365.0 323.5,365.0 323.5,364.8 335.0,364.8 335.0,365.2 346.6,365.2 346.6,365.6 358.1,365.6 358.1,366.5 369.6,366.5 369.6,367.9 381.2,367.9 381.2,368.5 392.7,368.5 392.7,368.6 404.2,368.6 404.2,368.8 415.8,368.8 415.8,369.1 427.3,369.1 427.3,369.4 438.9,369.4 438.9,371.0 450.4,371.0 450.4,370.2 461.9,370.2 461.9,370.9 473.5,370.9 473.5,371.0 485.0,371.0 485.0,371.8 496.5,371.8 496.5,371.7 508.1,371.7 508.1,372.3 519.6,372.3 519.6,372.3 531.1,372.3 531.1,371.9 542.7,371.9 542.7,373.0 554.2,373.0 554.2,372.0 565.8,372.0 565.8,373.4 577.3,373.4 577.3,372.2 588.8,372.2 588.8,372.4 600.4,372.4 600.4,372.1 611.9,372.1 611.9,373.1 623.5,373.1 623.5,371.5 635.0,371.5 635.0,372.1 646.5,372.1 646.5,372.6 658.1,372.6 658.1,371.0 669.6,371.0 669.6,370.6 681.1,370.6 681.1,370.6 692.7,370.6 692.7,369.4 704.2,369.4 704.2,368.9 715.8,368.9 715.8,368.9 727.3,368.9 727.3,368.5 738.8,368.5 738.8,368.0 750.4,368.0 750.4,366.7 761.9,366.7 761.9,364.7 773.4,364.7 773.4,364.6 785.0,364.6 785.0,362.2 796.5,362.2 796.5,361.2 808.0,361.2 808.0,361.9 819.6,361.9 819.6,361.0 831.1,361.0 831.1,359.9 842.7,359.9 842.7,359.4 854.2,359.4 854.2,358.0 865.7,358.0 865.7,357.0 877.3,357.0 877.3,357.7 888.8,357.7 888.8,356.9 900.4,356.9 900.4,357.1 911.9,357.1 911.9,356.6 923.4,356.6 923.4,355.9 935.0,355.9 935.0,355.3 945.8,355.3"/>
<polyline fill="none" stroke="#ff0000" stroke-width="2.3" stroke-linejoin="round" points="115.8,366.7 127.3,366.7 127.3,366.8 138.9,366.8 138.9,367.2 150.4,367.2 150.4,366.8 161.9,366.8 161.9,367.7 173.5,367.7 173.5,367.1 185.0,367.1 185.0,368.5 196.6,368.5 196.6,368.2 208.1,368.2 208.1,368.0 219.6,368.0 219.6,368.3 231.2,368.3 231.2,367.7 242.7,367.7 242.7,368.3 254.2,368.3 254.2,368.7 265.8,368.7 265.8,367.8 277.3,367.8 277.3,367.8 288.9,367.8 288.9,368.8 300.4,368.8 300.4,368.6 311.9,368.6 311.9,367.9 323.5,367.9 323.5,368.7 335.0,368.7 335.0,369.3 346.6,369.3 346.6,369.4 358.1,369.4 358.1,369.6 369.6,369.6 369.6,368.8 381.2,368.8 381.2,368.5 392.7,368.5 392.7,369.0 404.2,369.0 404.2,368.6 415.8,368.6 415.8,369.1 427.3,369.1 427.3,368.5 438.9,368.5 438.9,367.8 450.4,367.8 450.4,366.8 461.9,366.8 461.9,368.2 473.5,368.2 473.5,369.1 485.0,369.1 485.0,368.4 496.5,368.4 496.5,368.4 508.1,368.4 508.1,368.5 519.6,368.5 519.6,369.0 531.1,369.0 531.1,369.2 542.7,369.2 542.7,369.1 554.2,369.1 554.2,368.9 565.8,368.9 565.8,367.9 577.3,367.9 577.3,369.2 588.8,369.2 588.8,368.6 600.4,368.6 600.4,368.2 611.9,368.2 611.9,368.4 623.5,368.4 623.5,369.0 635.0,369.0 635.0,369.0 646.5,369.0 646.5,368.5 658.1,368.5 658.1,368.0 669.6,368.0 669.6,368.5 681.1,368.5 681.1,369.2 692.7,369.2 692.7,369.3 704.2,369.3 704.2,368.9 715.8,368.9 715.8,368.4 727.3,368.4 727.3,368.8 738.8,368.8 738.8,368.4 750.4,368.4 750.4,369.0 761.9,369.0 761.9,368.5 773.4,368.5 773.4,368.1 785.0,368.1 785.0,367.9 796.5,367.9 796.5,368.0 808.0,368.0 808.0,368.4 819.6,368.4 819.6,367.4 831.1,367.4 831.1,368.2 842.7,368.2 842.7,366.9 854.2,366.9 854.2,367.0 865.7,367.0 865.7,367.6 877.3,367.6 877.3,367.0 888.8,367.0 888.8,367.8 900.4,367.8 900.4,366.2 911.9,366.2 911.9,366.6 923.4,366.6 923.4,366.5 935.0,366.5 935.0,366.5 945.8,366.5"/>
<path fill="none" stroke="#333333" stroke-width="1.75" stroke-linejoin="round" stroke-linecap="butt" d="M115.8 10.0V740.8H947.2M346.6 740.8v-9.2M577.3 740.8v-9.2M808.0 740.8v-9.2M115.8 667.7h8.3M115.8 521.6h8.3M115.8 375.4h8.3M115.8 229.2h8.3M115.8 83.1h8.3"/>
<g fill="#262626" stroke="#262626" stroke-width="0.25" font-family="'Liberation Sans', Arial, Helvetica, sans-serif"><text transform="translate(100.8 98.4) scale(1 1.047)" text-anchor="end" font-size="43">2</text><text transform="translate(100.8 244.5) scale(1 1.047)" text-anchor="end" font-size="43">1</text><text transform="translate(100.8 390.7) scale(1 1.047)" text-anchor="end" font-size="43">0</text><text transform="translate(100.8 536.9) scale(1 1.047)" text-anchor="end" font-size="43">-1</text><text transform="translate(100.8 683.0) scale(1 1.047)" text-anchor="end" font-size="43">-2</text><text transform="translate(114.5 795.3) scale(1 1.047)" text-anchor="middle" font-size="43">0</text><text transform="translate(345.2 795.3) scale(1 1.047)" text-anchor="middle" font-size="43">100</text><text transform="translate(576.0 795.3) scale(1 1.047)" text-anchor="middle" font-size="43">200</text><text transform="translate(806.8 795.3) scale(1 1.047)" text-anchor="middle" font-size="43">300</text><text transform="translate(531.0 851.7) scale(1 1.015)" text-anchor="middle" font-size="47.3" word-spacing="3.4">Aspect [°]</text><text transform="translate(43.7 375.0) rotate(-90) scale(1 1.03)" text-anchor="middle" font-size="47.3" word-spacing="3.4">Absolute error [m]</text></g>
<g font-family="'Liberation Sans', Arial, Helvetica, sans-serif"><text transform="translate(156.0 98.2) scale(1 1.047)" text-anchor="start" font-size="43" fill="#0000ff" stroke="#0000ff" stroke-width="0.3">mean = 0.063 m</text><text transform="translate(156.0 172.0) scale(1 1.047)" text-anchor="start" font-size="43" fill="#ff0000" stroke="#ff0000" stroke-width="0.3">stddev = 0.059 m</text></g>
</g>
</svg>
</body>
</html>
